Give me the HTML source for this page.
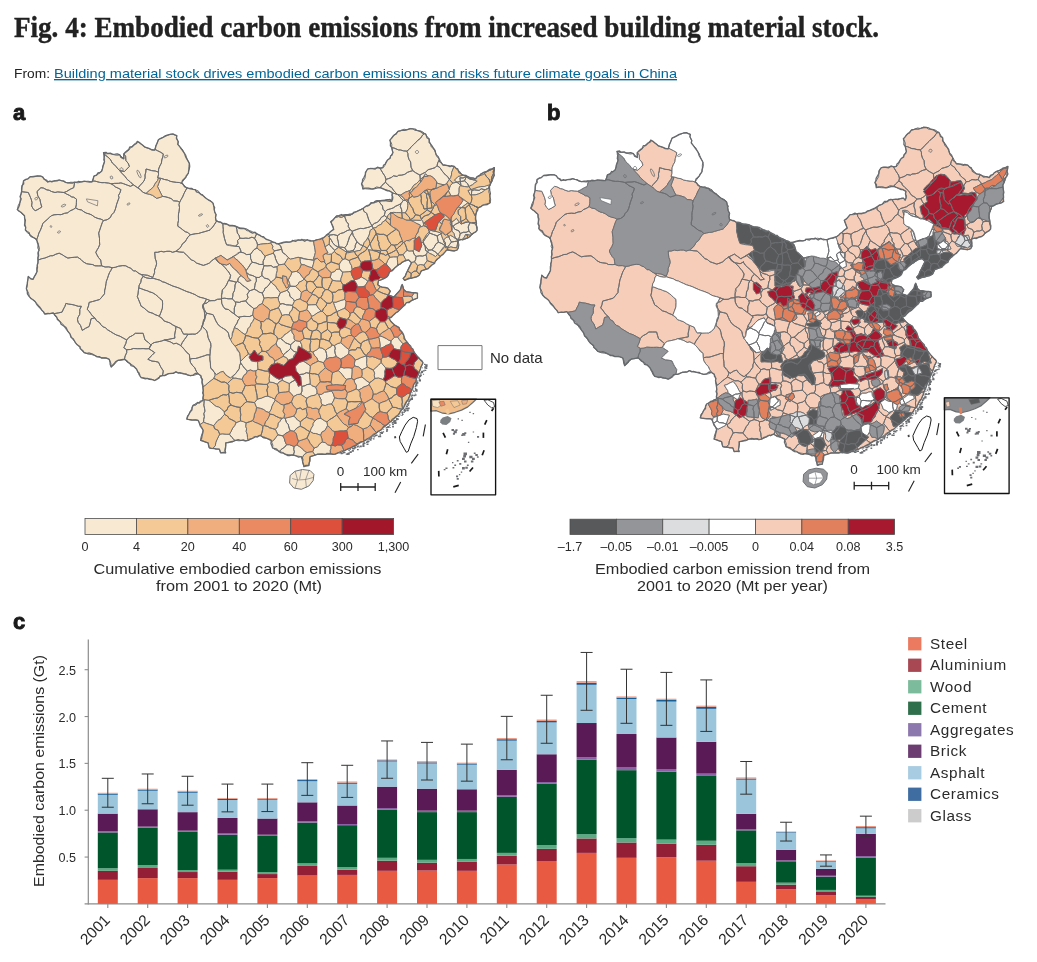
<!DOCTYPE html><html><head><meta charset="utf-8"><title>Fig. 4</title><style>html,body{margin:0;padding:0;background:#fff}svg{display:block;will-change:transform}</style></head><body>
<svg width="1037" height="962" viewBox="0 0 1037 962">
<rect width="1037" height="962" fill="#fff"/>
<text x="14" y="36.5" font-family='"Liberation Serif", serif' font-weight="bold" font-size="30" fill="#222" stroke="#222" stroke-width="0.4" textLength="865" lengthAdjust="spacingAndGlyphs">Fig. 4: Embodied carbon emissions from increased building material stock.</text>
<text x="14" y="78" font-family='"Liberation Sans", sans-serif' font-size="13.6" fill="#222" textLength="36" lengthAdjust="spacingAndGlyphs">From:</text>
<text x="54" y="78" font-family='"Liberation Sans", sans-serif' font-size="13.6" fill="#006699" text-decoration="underline" textLength="623" lengthAdjust="spacingAndGlyphs">Building material stock drives embodied carbon emissions and risks future climate goals in China</text>
<text x="13" y="119.5" font-family='"Liberation Sans", sans-serif' font-weight="bold" font-size="22" fill="#1a1a1a" stroke="#1a1a1a" stroke-width="0.9">a</text>
<text x="547" y="119.5" font-family='"Liberation Sans", sans-serif' font-weight="bold" font-size="22" fill="#1a1a1a" stroke="#1a1a1a" stroke-width="0.9">b</text>
<text x="13" y="629.2" font-family='"Liberation Sans", sans-serif' font-weight="bold" font-size="22" fill="#1a1a1a" stroke="#1a1a1a" stroke-width="0.9">c</text>
<g stroke="#6a6d70" stroke-width="0.95" stroke-linejoin="round">
<path fill="#f8e9d3" d="M17.3 209.5L19.9 211.4L21.8 213.7L24.5 215.7L24.6 218.3L24.8 221.0L25.0 224.3L25.6 227.8L25.4 230.1L27.3 232.8L29.9 234.3L32.1 236.5L35.1 238.7L36.5 240.3L37.0 238.8L38.0 236.1L38.9 233.0L40.4 230.2L42.0 226.1L42.8 223.4L45.0 221.4L47.1 219.6L49.6 217.2L51.5 215.7L54.0 214.8L58.0 214.5L61.0 214.7L64.6 213.3L67.9 212.8L69.7 211.0L73.4 209.4L75.6 207.9L76.3 204.9L76.4 202.6L76.5 199.2L73.7 197.2L71.8 197.0L69.3 195.3L66.7 194.1L64.0 192.5L60.7 192.2L57.7 191.9L55.0 192.5L51.5 191.5L49.1 190.2L46.9 189.9L43.3 188.0L40.9 187.7L37.0 191.5L37.8 195.9L39.9 199.2L40.7 203.3L41.8 207.0L38.0 209.4L35.1 210.8L33.2 208.7L31.6 206.0L32.0 202.4L31.2 199.2L30.0 196.3L28.3 192.5L25.1 192.1L21.6 191.7L20.7 195.6L20.4 198.5L20.0 202.2L18.3 205.3ZM36.5 240.3L37.0 240.7L38.4 243.9L37.6 247.7L38.9 250.4L37.9 253.1L38.2 257.1L38.0 260.0L38.0 260.0L38.0 260.1L41.4 258.8L44.7 258.1L47.3 257.1L50.4 255.8L52.9 255.7L55.9 254.2L59.2 253.2L62.6 254.9L64.7 256.4L67.9 258.1L70.8 257.6L74.3 257.3L77.5 257.1L81.1 259.6L83.3 261.9L86.6 263.7L88.9 264.1L92.8 264.6L94.9 265.8L98.8 265.9L101.6 265.8L101.1 262.9L100.7 260.0L98.6 257.7L96.9 254.8L95.8 252.3L97.2 249.7L98.4 247.8L99.7 244.6L99.5 241.6L99.5 238.4L99.0 235.3L98.7 233.0L99.7 230.2L100.9 226.6L102.2 222.8L103.5 220.5L100.9 219.1L98.0 218.5L94.8 217.2L91.8 215.0L89.0 213.8L86.8 213.3L83.9 211.8L81.6 210.0L78.4 209.4L75.6 207.9L73.4 209.4L69.7 211.0L67.9 212.8L64.6 213.3L61.0 214.7L58.0 214.5L54.0 214.8L51.5 215.7L49.6 217.2L47.1 219.6L45.0 221.4L42.8 223.4L42.0 226.1L40.4 230.2L38.9 233.0L38.0 236.1L37.0 238.8ZM38.0 260.1L38.1 262.7L37.1 266.4L36.7 268.1L37.0 271.6L35.8 274.2L34.0 277.3L33.1 279.3L30.7 278.6L28.3 276.4L27.8 279.3L27.4 282.5L27.3 285.8L26.4 288.9L28.6 293.1L29.3 296.6L32.2 299.1L35.1 301.5L37.2 304.1L39.4 306.0L40.9 309.1L43.0 311.4L44.7 314.0L47.9 313.6L49.9 313.6L53.4 313.0L53.9 313.7L58.4 312.9L62.1 312.1L63.4 309.1L64.9 306.4L65.9 303.4L68.6 304.1L72.0 304.5L74.4 305.1L78.3 306.3L81.4 306.3L79.8 309.4L79.8 311.7L79.7 314.4L77.8 317.7L77.5 319.8L78.2 322.4L80.5 325.4L81.3 327.7L82.3 330.4L85.5 328.3L89.1 326.5L90.2 323.0L91.0 318.8L94.9 317.9L92.3 315.8L90.6 313.4L89.1 311.3L87.2 309.2L88.5 305.9L89.1 302.4L92.6 301.5L96.2 300.5L99.7 299.5L101.8 297.1L104.5 293.8L104.7 290.1L105.3 288.1L106.0 283.5L106.4 281.2L107.4 278.6L108.5 275.2L109.5 272.6L110.8 270.5L112.2 267.7L108.8 266.9L105.1 267.0L101.6 265.8L101.6 265.8L98.8 265.9L94.9 265.8L92.8 264.6L88.9 264.1L86.6 263.7L83.3 261.9L81.1 259.6L77.5 257.1L74.3 257.3L70.8 257.6L67.9 258.1L64.7 256.4L62.6 254.9L59.2 253.2L55.9 254.2L52.9 255.7L50.4 255.8L47.3 257.1L44.7 258.1L41.4 258.8ZM53.9 313.7L55.3 316.2L58.1 319.1L60.1 321.7L62.8 324.0L64.1 325.9L65.6 328.8L67.9 331.4L70.5 334.6L71.2 337.2L73.5 340.2L75.6 342.9L78.2 345.6L79.9 347.5L82.1 350.9L84.2 352.6L88.0 354.1L91.3 354.5L94.9 355.5L97.2 356.5L101.0 357.7L103.7 357.8L106.8 358.1L109.3 359.3L110.9 363.3L111.2 367.0L114.2 364.8L115.4 363.1L118.0 360.3L121.3 360.0L124.4 359.4L125.1 356.1L126.7 352.6L126.7 349.7L123.8 347.8L125.8 343.5L126.7 340.0L123.3 338.1L119.9 336.2L116.2 334.9L113.3 333.3L110.3 331.4L107.6 329.8L105.5 327.8L103.1 326.8L100.7 324.6L99.6 322.6L96.7 320.9L94.9 317.9L91.0 318.8L90.2 323.0L89.1 326.5L85.5 328.3L82.3 330.4L81.3 327.7L80.5 325.4L78.2 322.4L77.5 319.8L77.8 317.7L79.7 314.4L79.8 311.7L79.8 309.4L81.4 306.3L78.3 306.3L74.4 305.1L72.0 304.5L68.6 304.1L65.9 303.4L64.9 306.4L63.4 309.1L62.1 312.1L58.4 312.9ZM124.4 359.4L124.8 359.3L126.9 362.0L130.0 363.6L132.7 365.1L135.4 368.0L137.3 370.5L138.3 373.1L139.3 375.4L141.2 377.6L144.1 377.9L147.4 378.5L151.3 379.0L154.7 380.5L156.4 379.1L159.2 377.0L162.4 375.7L162.5 375.7L163.3 370.9L161.1 367.6L160.0 365.5L158.5 362.2L155.1 361.4L151.9 361.1L147.9 359.3L150.1 357.1L152.1 355.2L154.7 352.6L151.7 350.6L148.9 348.7L146.0 348.8L143.1 348.6L140.2 348.7L137.3 348.7L133.3 348.5L130.5 349.5L126.7 349.7L126.7 352.6L125.1 356.1ZM162.5 375.7L166.2 375.0L168.6 373.5L173.1 373.3L175.9 371.9L179.2 373.0L181.3 373.5L184.2 374.1L187.4 374.9L190.3 375.7L194.6 375.2L198.0 373.8L196.2 371.0L194.7 367.8L192.2 365.1L190.3 362.2L189.7 358.6L189.4 354.5L186.8 352.8L184.6 349.7L182.3 346.9L179.7 344.9L176.4 343.3L173.6 343.7L170.4 341.9L167.1 340.8L164.3 340.0L161.7 341.0L157.6 341.9L154.1 342.6L151.8 343.9L150.5 346.4L148.9 348.7L151.7 350.6L154.7 352.6L152.1 355.2L150.1 357.1L147.9 359.3L151.9 361.1L155.1 361.4L158.5 362.2L160.0 365.5L161.1 367.6L163.3 370.9ZM313.6 240.9L313.4 240.9L309.8 241.3L307.8 240.3L303.8 239.5L301.1 240.4L298.0 240.0L294.7 240.2L291.9 241.1L289.8 242.2L286.5 242.1L283.4 242.9L280.6 243.7L277.8 243.6L280.6 245.8L281.8 249.1L282.6 252.5L285.8 254.6L288.1 257.4L290.3 259.2L294.4 258.3L298.0 257.3L302.0 257.8L304.0 258.6L307.1 259.5L310.1 259.5L313.4 260.2L317.3 258.3L313.4 259.2L314.5 255.8L315.4 252.5L315.1 249.8L314.6 247.2L313.9 243.5ZM222.9 223.6L222.8 223.6L220.4 222.5L216.7 220.9L214.7 224.1L212.7 227.0L210.1 229.7L210.0 230.1L207.2 230.9L204.9 231.6L200.9 232.7L198.4 233.5L195.8 233.7L193.0 234.2L190.3 234.9L188.0 236.9L186.4 239.6L185.0 241.9L182.6 243.6L181.1 246.4L179.7 248.4L175.9 251.3L179.6 252.0L183.6 252.3L186.4 254.9L188.8 257.2L191.3 260.0L193.7 260.7L196.6 263.1L199.0 263.9L203.3 265.4L206.6 264.3L209.3 263.1L211.8 260.7L215.1 258.3L215.6 257.9L215.7 258.0L218.8 256.5L220.9 255.4L224.0 257.7L227.3 260.0L228.6 259.2L231.3 257.8L233.4 256.4L235.8 254.9L237.7 253.1L241.1 251.5L239.2 246.7L236.0 246.2L232.7 246.1L229.6 245.6L226.6 244.8L225.7 242.3L224.5 238.3L223.8 235.1L223.2 232.5L223.3 229.6L223.0 226.5ZM216.7 220.9L216.0 220.7L215.5 217.7L215.9 214.7L214.7 212.0L214.0 208.7L213.6 205.8L213.1 203.3L211.0 200.9L208.4 200.1L205.7 197.7L203.8 196.3L201.6 194.6L202.9 195.4L199.5 193.1L198.5 191.1L195.2 189.6L191.8 189.3L187.1 187.8L185.3 191.0L184.1 193.3L182.6 196.9L181.0 199.6L179.7 202.2L179.0 204.6L179.5 207.5L179.1 211.3L178.5 213.9L178.4 216.9L178.5 220.3L177.8 223.5L177.8 226.2L180.6 228.1L182.6 229.7L185.2 231.7L188.1 232.6L190.3 234.9L193.0 234.2L195.8 233.7L198.4 233.5L200.9 232.7L204.9 231.6L207.2 230.9L210.0 230.1L210.1 229.7L212.7 227.0L214.7 224.1ZM187.1 187.8L186.5 187.7L182.6 183.8L179.3 182.5L176.6 182.4L173.1 181.9L170.2 181.3L167.5 180.0L164.5 179.5L161.2 178.4L158.5 178.0L160.4 179.0L158.6 183.6L157.5 186.7L159.2 189.9L160.7 193.1L162.4 196.4L165.1 196.7L168.4 197.6L171.2 198.6L173.6 200.8L177.3 201.1L179.7 202.2L181.0 199.6L182.6 196.9L184.1 193.3L185.3 191.0ZM182.6 183.8L181.7 182.9L183.0 181.1L185.3 178.2L186.6 176.2L188.4 173.2L188.9 169.9L188.8 166.5L189.4 163.6L187.9 160.7L186.4 157.0L185.7 154.7L183.6 152.0L182.3 149.1L179.9 146.8L177.8 144.3L178.1 141.7L176.5 138.1L176.8 135.6L173.0 134.3L170.1 134.3L167.1 135.6L164.3 136.8L161.4 137.8L158.5 139.5L157.2 142.8L155.8 145.6L154.9 149.3L157.3 150.6L160.2 152.0L163.3 153.9L162.8 156.7L161.8 159.9L161.4 163.1L159.8 166.0L158.6 169.1L158.5 172.2L158.5 174.7L157.6 177.8L158.5 178.0L161.2 178.4L164.5 179.5L167.5 180.0L170.2 181.3L173.1 181.9L176.6 182.4L179.3 182.5ZM154.9 149.3L154.7 150.1L151.5 149.4L148.7 148.5L145.0 147.2L142.6 145.3L139.9 143.3L137.3 141.4L134.8 143.9L132.5 145.8L130.6 147.7L128.7 150.3L125.9 152.4L123.9 153.8L125.6 156.3L125.9 160.6L128.2 163.3L129.4 166.4L126.9 169.0L124.4 171.5L119.5 170.5L119.5 170.5L121.8 173.2L123.8 175.2L125.1 176.6L127.3 179.5L129.7 181.4L131.1 182.8L133.4 184.8L138.0 188.0L138.2 187.7L139.6 185.9L142.2 183.1L144.0 180.9L145.1 177.9L145.0 175.0L145.8 172.1L146.0 169.0L149.1 169.8L151.6 170.6L155.3 171.0L158.5 172.2L158.6 169.1L159.8 166.0L161.4 163.1L161.8 159.9L162.8 156.7L163.3 153.9L160.2 152.0L157.3 150.6ZM123.9 153.8L123.8 153.9L123.8 158.8L119.9 154.9L116.7 155.3L112.6 154.4L109.9 153.7L106.5 153.8L103.5 152.6L103.6 153.1L105.5 155.3L107.9 157.1L110.3 159.3L112.3 163.0L113.8 164.2L116.0 166.5L118.0 169.0L119.5 170.5L119.5 170.5L124.4 171.5L126.9 169.0L129.4 166.4L128.2 163.3L125.9 160.6L125.6 156.3ZM103.6 153.1L103.8 156.0L104.6 158.6L104.5 161.6L103.4 164.4L102.5 168.3L101.6 171.3L99.4 173.1L97.1 174.9L93.9 176.1L92.3 181.0L95.0 181.1L99.4 182.3L102.0 182.7L104.4 182.6L108.6 183.1L111.2 183.8L114.4 183.4L118.5 183.3L120.9 182.9L123.5 183.7L127.4 185.2L130.5 186.3L133.4 184.8L131.1 182.8L129.7 181.4L127.3 179.5L125.1 176.6L123.8 175.2L121.8 173.2L119.5 170.5L118.0 169.0L116.0 166.5L113.8 164.2L112.3 163.0L110.3 159.3L107.9 157.1L105.5 155.3ZM92.3 181.0L92.0 181.9L88.0 181.2L84.8 181.5L81.4 181.9L78.1 182.8L74.7 182.4L74.6 182.9L73.7 187.7L70.7 189.0L66.5 191.5L64.0 192.5L66.7 194.1L69.3 195.3L71.8 197.0L73.7 197.2L76.5 199.2L76.4 202.6L76.3 204.9L75.6 207.9L78.4 209.4L81.6 210.0L83.9 211.8L86.8 213.3L89.0 213.8L91.8 215.0L94.8 217.2L98.0 218.5L100.9 219.1L103.5 220.5L107.0 219.8L110.3 217.6L111.6 214.8L113.9 212.5L115.1 209.9L116.0 206.9L116.7 204.1L117.8 201.0L119.0 197.7L118.5 195.4L120.1 192.5L120.9 189.6L117.8 188.0L115.5 187.0L113.5 185.3L111.2 183.8L108.6 183.1L104.4 182.6L102.0 182.7L99.4 182.3L95.0 181.1ZM74.7 182.4L70.7 182.2L67.9 182.9L64.5 181.9L62.5 181.0L59.2 180.0L55.8 180.5L53.3 180.9L50.5 181.6L47.6 181.9L45.2 180.4L43.6 177.9L40.9 176.1L36.9 176.1L34.1 176.2L30.2 176.7L27.3 179.0L23.5 180.9L22.7 184.0L22.1 187.4L21.6 191.5L21.6 191.7L25.1 192.1L28.3 192.5L30.0 196.3L31.2 199.2L32.0 202.4L31.6 206.0L33.2 208.7L35.1 210.8L38.0 209.4L41.8 207.0L40.7 203.3L39.9 199.2L37.8 195.9L37.0 191.5L40.9 187.7L43.3 188.0L46.9 189.9L49.1 190.2L51.5 191.5L55.0 192.5L57.7 191.9L60.7 192.2L64.0 192.5L66.5 191.5L70.7 189.0L73.7 187.7L74.6 182.9ZM111.2 183.8L113.5 185.3L115.5 187.0L117.8 188.0L120.9 189.6L120.1 192.5L118.5 195.4L119.0 197.7L117.8 201.0L116.7 204.1L116.0 206.9L115.1 209.9L113.9 212.5L111.6 214.8L110.3 217.6L107.0 219.8L103.5 220.5L102.2 222.8L100.9 226.6L99.7 230.2L98.7 233.0L99.0 235.3L99.5 238.4L99.5 241.6L99.7 244.6L98.4 247.8L97.2 249.7L95.8 252.3L96.9 254.8L98.6 257.7L100.7 260.0L101.1 262.9L101.6 265.8L101.6 265.8L101.6 265.8L105.1 267.0L108.8 266.9L112.2 267.7L115.4 267.3L118.6 266.2L122.8 265.6L125.7 265.8L128.5 267.4L130.7 268.1L133.5 271.0L135.6 270.9L139.0 273.5L141.2 274.5L144.2 274.9L147.6 275.3L149.5 276.1L152.7 277.4L153.7 275.0L153.7 275.0L154.6 272.5L154.5 270.1L155.8 266.7L156.6 263.9L156.2 261.0L155.3 258.9L154.9 255.1L154.7 252.3L157.7 252.3L161.1 251.3L163.7 251.9L166.9 251.3L170.1 251.3L172.6 252.3L175.9 251.3L179.7 248.4L181.1 246.4L182.6 243.6L185.0 241.9L186.4 239.6L188.0 236.9L190.3 234.9L188.1 232.6L185.2 231.7L182.6 229.7L180.6 228.1L177.8 226.2L177.8 223.5L178.5 220.3L178.4 216.9L178.5 213.9L179.1 211.3L179.5 207.5L179.0 204.6L179.7 202.2L177.3 201.1L173.6 200.8L171.2 198.6L168.4 197.6L165.1 196.7L162.4 196.4L160.1 197.4L156.6 198.3L152.7 195.4L149.7 194.3L146.0 193.5L142.7 192.2L140.5 189.7L138.0 188.0L133.4 184.8L130.5 186.3L127.4 185.2L123.5 183.7L120.9 182.9L118.5 183.3L114.4 183.4ZM101.6 265.8L101.6 265.8L101.6 265.8ZM138.0 188.0L140.5 189.7L142.7 192.2L146.0 193.5L149.2 190.6L151.1 189.1L153.7 186.7L154.8 184.1L157.6 180.5L158.5 178.0L157.6 177.8L158.5 174.7L158.5 172.2L155.3 171.0L151.6 170.6L149.1 169.8L146.0 169.0L145.8 172.1L145.0 175.0L145.1 177.9L144.0 180.9L142.2 183.1L139.6 185.9L138.2 187.7ZM175.9 251.3L172.6 252.3L170.1 251.3L166.9 251.3L163.7 251.9L161.1 251.3L157.7 252.3L154.7 252.3L154.9 255.1L155.3 258.9L156.2 261.0L156.6 263.9L155.8 266.7L154.5 270.1L154.6 272.5L153.7 275.0L153.7 275.0L152.7 277.4L149.5 276.1L147.6 275.3L144.2 274.9L141.2 274.5L143.1 276.4L146.2 277.8L150.1 278.5L153.1 278.2L156.6 279.3L159.7 280.1L162.5 281.8L165.0 282.4L166.9 283.4L170.1 284.8L172.9 286.1L175.9 287.0L178.8 288.0L181.4 289.2L184.8 290.7L186.9 291.6L189.5 292.4L192.4 293.5L195.2 294.7L197.7 296.3L200.1 297.3L203.2 298.0L206.5 299.1L210.0 300.5L210.4 300.7L214.7 300.6L217.4 299.3L221.5 299.0L221.7 296.7L221.6 292.6L222.3 289.9L224.8 287.4L226.5 284.9L228.0 281.6L229.5 278.8L230.6 275.3L228.6 272.0L227.4 270.6L224.8 267.4L222.1 264.7L219.8 263.1L218.0 262.1L215.1 258.3L211.8 260.7L209.3 263.1L206.6 264.3L203.3 265.4L199.0 263.9L196.6 263.1L193.7 260.7L191.3 260.0L188.8 257.2L186.4 254.9L183.6 252.3L179.6 252.0ZM141.2 274.5L139.0 273.5L135.6 270.9L133.5 271.0L130.7 268.1L128.5 267.4L125.7 265.8L122.8 265.6L118.6 266.2L115.4 267.3L112.2 267.7L110.8 270.5L109.5 272.6L108.5 275.2L107.4 278.6L106.4 281.2L106.0 283.5L105.3 288.1L104.7 290.1L104.5 293.8L101.8 297.1L99.7 299.5L96.2 300.5L92.6 301.5L89.1 302.4L88.5 305.9L87.2 309.2L89.1 311.3L90.6 313.4L92.3 315.8L94.9 317.9L96.7 320.9L99.6 322.6L100.7 324.6L103.1 326.8L105.5 327.8L107.6 329.8L110.3 331.4L113.3 333.3L116.2 334.9L119.9 336.2L123.3 338.1L126.7 340.0L129.1 337.2L132.5 335.5L135.4 333.3L139.2 333.3L143.1 333.3L144.0 336.6L145.0 340.0L148.3 342.4L150.8 344.9L148.9 348.7L150.5 346.4L151.8 343.9L154.1 342.6L157.6 341.9L161.7 341.0L164.3 340.0L168.3 339.4L171.9 338.7L174.9 338.1L174.7 335.2L175.2 332.1L175.7 329.5L175.9 326.5L172.9 325.0L169.8 322.9L166.2 321.7L163.8 320.8L162.2 318.4L159.3 316.5L158.5 315.9L154.8 314.5L152.9 313.3L148.9 312.1L146.7 310.4L143.9 307.9L141.2 306.3L140.1 303.3L138.4 299.2L137.3 296.6L138.0 294.1L138.4 290.4L138.8 287.8L139.2 285.1L140.8 282.3L141.3 279.2L143.1 276.4ZM126.7 340.0L125.8 343.5L123.8 347.8L126.7 349.7L130.5 349.5L133.3 348.5L137.3 348.7L140.2 348.7L143.1 348.6L146.0 348.8L148.9 348.7L150.8 344.9L148.3 342.4L145.0 340.0L144.0 336.6L143.1 333.3L139.2 333.3L135.4 333.3L132.5 335.5L129.1 337.2ZM159.3 316.5L162.2 318.4L163.8 320.8L166.2 321.7L169.8 322.9L172.9 325.0L175.9 326.5L180.7 328.5L181.9 331.2L183.6 334.2L186.5 334.0L188.6 334.4L192.7 334.3L195.2 334.2L198.1 332.5L200.9 329.4L202.0 326.1L202.9 323.4L203.5 320.3L204.8 317.9L204.7 314.2L204.2 310.7L202.6 307.3L202.9 304.4L204.2 303.6L206.5 299.1L203.2 298.0L200.1 297.3L197.7 296.3L195.2 294.7L192.4 293.5L189.5 292.4L186.9 291.6L184.8 290.7L181.4 289.2L178.8 288.0L175.9 287.0L172.9 286.1L170.1 284.8L166.9 283.4L165.0 282.4L162.5 281.8L159.7 280.1L156.6 279.3L153.1 278.2L150.1 278.5L146.2 277.8L143.1 276.4L141.3 279.2L140.8 282.3L139.2 285.1L138.8 287.8L139.2 288.0L141.5 288.8L145.1 290.2L147.7 290.9L149.2 291.7L152.7 292.8L155.7 294.7L157.9 296.5L159.9 298.6L162.4 300.5L162.6 303.7L162.4 308.2L160.8 312.7L159.5 315.9ZM138.8 287.8L138.4 290.4L138.0 294.1L137.3 296.6L138.4 299.2L140.1 303.3L141.2 306.3L143.9 307.9L146.7 310.4L148.9 312.1L152.9 313.3L154.8 314.5L158.5 315.9L159.3 316.5L159.5 315.9L160.8 312.7L162.4 308.2L162.6 303.7L162.4 300.5L159.9 298.6L157.9 296.5L155.7 294.7L152.7 292.8L149.2 291.7L147.7 290.9L145.1 290.2L141.5 288.8L139.2 288.0ZM210.0 300.5L206.5 299.1L204.2 303.6L206.9 303.0L209.4 300.8ZM210.4 300.7L210.0 300.5L209.4 300.8ZM204.2 303.6L202.9 304.4L202.6 307.3L204.2 310.7L204.7 314.2L204.8 317.9L203.5 320.3L202.9 323.4L202.0 326.1L202.4 326.5L203.2 323.3L204.8 319.2L205.2 317.0L206.5 313.2L204.1 309.4L203.2 305.7ZM209.4 300.8L206.9 303.0L204.2 303.6L203.2 305.7L204.1 309.4L206.5 313.2L210.2 314.0L213.2 314.8L215.0 318.9L215.9 321.0L218.2 324.8L221.3 327.3L223.7 328.7L226.5 330.6L228.4 333.1L229.2 337.0L230.6 339.8L232.4 336.6L232.2 333.0L233.7 329.7L234.8 326.5L237.0 323.2L238.1 320.2L239.8 318.2L236.5 315.7L233.1 313.2L230.3 311.2L228.6 309.6L225.1 308.8L223.2 306.5L221.8 303.3L221.5 299.0L217.4 299.3L214.7 300.6L210.4 300.7ZM228.6 259.2L227.3 260.0L227.6 260.2ZM215.6 257.9L215.1 258.3L215.7 258.0ZM215.7 258.0L215.1 258.3L218.0 262.1L219.8 263.1L218.2 261.6ZM229.8 263.4L230.5 263.1L229.5 263.1ZM230.6 339.8L229.2 337.0L228.4 333.1L226.5 330.6L223.7 328.7L221.3 327.3L218.2 324.8L215.9 321.0L215.0 318.9L213.2 314.8L210.2 314.0L206.5 313.2L205.2 317.0L204.8 319.2L203.2 323.3L202.4 326.5L204.6 328.9L206.5 330.6L207.5 333.8L208.1 337.3L209.3 340.2L210.7 343.1L210.7 346.6L209.9 349.8L210.2 353.4L209.8 356.4L209.9 359.9L210.4 362.9L210.5 365.1L210.7 368.1L212.9 369.8L214.3 372.4L216.5 374.7L220.2 372.4L223.2 371.4L225.2 374.1L227.8 376.3L230.6 378.0L233.3 376.1L235.7 373.4L237.3 371.4L239.2 368.6L239.5 365.8L240.6 363.1L240.4 359.8L240.1 356.4L239.8 353.1L237.2 350.3L236.7 347.3L234.0 344.4L232.5 341.7ZM310.4 366.1L307.9 364.0L305.0 362.1L303.5 361.1L299.2 362.4L295.3 366.2L296.1 370.9L298.9 374.6L303.5 374.1L306.3 372.7L309.5 373.3L310.2 369.6ZM309.5 373.3L306.3 372.7L303.5 374.1L298.9 374.6L300.7 377.0L301.1 381.2L301.5 384.7L300.9 385.0L301.9 386.4L305.1 385.7L306.6 384.7L310.3 384.0L310.2 380.0L309.8 377.4L309.5 373.3ZM288.8 391.5L290.9 393.3L293.6 396.7L297.4 394.5L300.7 394.3L302.0 391.1L301.9 386.4L300.9 385.0L298.4 386.3L297.4 383.4L295.3 380.1L295.2 380.0L292.0 381.7L289.2 383.6L289.2 387.7ZM336.3 356.6L340.7 359.1L343.7 357.5L346.5 355.6L348.7 354.0L349.1 350.6L348.7 349.5L345.8 347.1L343.4 345.0L340.7 342.7L337.8 343.5L334.3 345.5L335.3 348.1L334.7 350.6L335.2 353.6ZM351.5 378.4L352.0 374.9L352.2 371.9L352.2 368.2L349.1 367.7L345.9 367.7L344.1 368.0L340.7 367.0L338.1 370.6L340.5 372.5L342.2 374.7L344.4 377.5L346.5 379.4ZM385.9 368.1L382.9 364.7L381.1 362.3L378.6 365.1L375.9 367.5L373.2 370.0L374.6 373.2L374.2 375.5L374.9 378.5L378.6 378.1L383.1 379.6L384.5 377.0L385.0 374.1L384.8 371.4ZM314.8 421.0L313.0 423.3L312.8 425.8L311.1 428.3L310.1 431.5L313.2 433.4L315.6 433.5L318.0 434.3L320.7 435.3L321.8 432.2L324.7 430.7L326.3 428.2L327.6 425.6L327.0 421.9L324.7 420.8L320.9 418.3L317.2 418.8ZM282.9 435.9L277.9 434.8L275.9 437.3L273.8 440.1L271.5 441.7L272.9 445.2L272.5 447.9L275.0 449.6L279.5 451.4L280.9 449.7L284.8 447.0L286.5 444.7L284.9 441.1L284.4 438.8ZM314.0 448.1L312.7 451.7L314.9 455.1L317.7 454.2L320.4 453.7L323.9 454.2L327.9 454.3L330.4 454.2L330.3 450.4L331.1 448.3L331.0 445.5L327.7 444.8L325.3 442.6L322.3 442.0L319.5 443.8L317.6 446.7ZM346.9 251.2L344.7 247.7L341.9 247.2L338.9 247.1L338.6 247.4L341.0 248.7L344.1 250.6L346.6 252.2ZM257.3 399.1L254.5 402.6L256.5 407.6L260.6 408.4L263.8 409.6L266.0 411.5L269.2 412.6L271.3 409.2L271.9 406.5L273.5 403.3L275.2 400.3L274.7 399.1L271.7 397.5L267.7 396.1L265.0 396.5L261.4 398.1ZM252.8 315.0L249.7 316.5L246.9 316.5L244.1 316.3L241.2 316.7L238.4 317.2L239.8 318.2L238.1 320.0L237.1 323.0L234.8 326.5L234.4 327.7L237.8 329.1L240.5 331.4L241.6 332.4L245.2 334.7L247.1 332.0L247.8 328.9L250.3 326.2L250.7 324.2L252.8 321.4L254.4 318.2ZM458.0 240.9L458.1 240.3L455.6 238.6L453.3 236.9L450.6 235.3L448.6 236.6L449.9 239.4L451.5 242.0L454.6 241.5ZM460.2 233.6L459.0 230.9L454.7 229.2L453.2 226.1L451.8 225.8L451.8 229.9L451.8 230.3L451.8 230.4L451.8 231.0L453.9 233.4L455.2 237.9L458.4 239.8L459.5 236.7ZM326.1 359.3L326.8 356.8L326.5 353.6L325.5 350.3L322.0 348.0L319.2 347.7L316.5 349.9L312.8 351.9L314.3 355.2L316.7 357.7L318.2 361.2L323.5 362.7ZM290.6 348.3L288.2 350.9L285.9 352.4L283.6 354.8L283.3 356.4L286.6 357.8L288.1 360.4L288.4 360.1L293.0 358.5L293.8 355.6L296.7 352.4L293.8 351.3ZM285.1 418.2L286.4 422.4L288.2 424.4L289.1 428.0L290.2 430.7L293.9 431.3L296.9 428.0L300.4 426.2L300.4 421.7L297.5 420.0L296.0 418.0L293.8 416.1L290.9 416.8L287.5 417.6ZM264.0 265.7L263.2 264.4L259.8 264.5L255.5 262.8L252.2 262.3L250.5 264.1L248.4 267.5L245.9 270.8L246.4 272.4L249.3 274.7L253.0 275.7L256.1 277.4L259.1 277.5L261.9 275.5L261.9 272.5L263.1 268.9ZM285.1 418.2L283.8 417.7L281.9 418.3L279.7 421.6L278.2 423.1L277.6 426.8L275.3 429.4L276.1 431.1L277.9 434.8L282.9 435.9L284.9 433.9L288.5 431.9L290.2 430.7L289.1 428.0L288.2 424.4L286.4 422.4ZM466.5 176.2L466.2 176.9L469.8 179.1L473.6 179.8L475.6 178.9L472.8 178.0L469.5 177.2ZM464.5 180.9L467.6 183.6L468.8 186.6L472.6 184.7L474.4 183.1L477.2 181.2L474.7 180.1L471.0 179.3L469.5 178.9L466.2 176.9ZM471.8 190.4L474.4 189.9L479.2 190.4L481.2 188.8L485.0 189.8L488.1 188.6L488.8 188.2L489.9 184.7L487.7 185.3L483.9 185.8L481.2 186.6L478.4 187.0L474.9 188.2L471.1 189.5ZM489.9 184.7L489.9 184.7L488.8 188.2L489.6 185.6L489.4 186.4L490.6 183.6L490.3 183.1ZM483.1 172.7L480.3 174.3L477.8 177.5L475.6 178.9L477.9 176.2L482.5 174.8L484.6 173.6L483.8 172.3ZM235.3 301.9L239.4 302.4L241.3 301.5L245.7 300.9L248.0 297.8L247.2 294.3L249.6 290.8L247.0 288.5L245.6 287.4L242.3 285.0L239.9 282.7L237.6 281.5L236.2 282.2L235.0 285.0L234.9 287.5L234.4 290.7L233.0 293.3L232.8 296.2L232.2 298.8ZM352.2 231.2L355.1 230.1L358.4 228.9L360.3 228.4L363.5 228.6L367.2 227.6L369.3 227.1L371.9 225.8L372.0 225.6L370.6 223.5L368.8 220.0L367.8 216.9L366.7 213.3L363.7 211.2L363.4 208.2L360.1 209.9L356.7 211.6L353.6 213.2L350.3 215.3L347.1 215.4L344.4 216.1L345.9 219.8L346.1 221.1L348.5 224.1L348.2 226.3L350.1 229.7ZM180.7 345.8L183.0 348.0L185.1 350.3L186.9 352.3L189.4 354.5L189.9 359.1L192.8 358.5L195.4 358.5L197.8 357.9L201.8 356.6L204.4 355.8L207.0 354.8L209.9 354.9L210.3 352.0L210.7 348.8L211.1 346.3L210.7 343.1L209.1 340.2L208.0 337.5L207.4 333.8L206.5 330.6L204.6 328.9L202.4 326.5L202.0 326.1L200.9 329.4L198.1 332.7L195.2 334.2L192.6 333.9L188.1 334.2L186.2 337.1L184.5 339.4L182.4 342.4ZM385.9 179.4L385.0 176.3L382.8 173.0L380.9 169.8L379.9 167.9L377.0 168.0L373.9 168.4L370.2 168.3L367.8 168.9L366.3 170.9L365.3 174.6L365.1 178.0L363.3 181.1L361.5 183.9L362.8 188.9L365.7 188.8L367.8 189.0L371.8 189.2L374.3 188.2L376.6 186.9L380.1 187.7L382.0 185.3L385.4 182.3ZM257.5 244.9L256.8 242.1L254.6 238.3L251.9 237.2L248.7 238.4L245.8 238.1L243.0 238.4L239.9 238.2L237.5 240.6L238.0 243.5L235.7 246.2L239.2 246.7L241.1 251.5L240.2 252.1L243.6 252.8L246.6 254.6L250.5 254.3L252.1 252.1L254.1 249.6L257.0 248.0ZM446.4 183.9L449.4 179.4L447.5 176.4L445.6 175.1L442.8 171.8L441.9 170.7L440.0 167.7L437.0 165.7L435.0 167.7L430.8 169.0L428.2 169.7L425.5 172.2L422.8 173.5L419.9 175.1L420.3 179.5L423.6 176.6L425.5 173.9L428.2 176.3L430.9 176.0L433.7 177.9L436.7 181.8L436.6 182.9L440.1 184.1L444.2 184.8ZM240.5 361.2L240.6 362.9L242.3 365.2L244.9 368.7L247.4 371.0L250.5 370.0L253.3 371.1L255.9 370.9L258.0 369.3L257.7 364.3L257.7 361.6L257.5 361.6L255.2 361.7L251.3 360.8L249.0 357.0L251.1 354.3L248.5 354.0L245.9 356.0L243.2 358.8ZM419.9 175.1L415.6 172.7L412.8 170.7L410.0 171.4L407.4 172.4L404.8 174.3L401.8 175.1L398.3 175.3L397.2 176.5L393.5 175.8L391.5 177.4L388.8 178.5L385.9 179.4L385.4 182.3L387.5 184.1L389.4 186.4L391.6 187.4L393.5 190.3L395.3 192.3L397.2 194.3L400.4 195.2L402.6 193.8L405.7 192.0L407.7 191.4L410.4 190.2L411.9 188.2L413.9 185.1L416.2 183.8L418.8 181.2L420.3 179.5ZM405.3 200.2L403.0 197.2L400.4 195.2L397.2 194.3L399.0 195.7L401.6 198.8L403.3 200.4ZM307.9 304.8L306.7 309.7L309.0 311.7L310.7 314.5L311.6 316.6L314.8 314.8L317.2 313.0L321.1 311.2L318.5 308.1L316.1 304.6L311.9 304.7ZM471.8 222.8L468.9 222.0L469.7 223.0ZM287.3 290.2L289.5 293.4L289.9 296.3L293.5 299.3L294.4 301.3L296.8 299.7L300.1 299.0L301.0 295.9L301.4 292.4L299.2 290.0L297.4 287.9L295.4 286.4L290.0 286.2ZM329.4 237.6L331.4 240.2L332.8 243.1L335.2 245.4L338.6 247.4L338.9 247.1L338.7 244.9L338.2 241.3L337.4 238.7L337.5 235.6L333.7 234.6L329.6 235.1ZM329.1 244.2L331.6 247.3L334.7 250.2L338.6 247.4L335.2 245.4L332.8 243.1L331.4 240.2L329.4 237.6L329.4 239.9ZM239.9 238.2L239.0 235.2L237.4 233.1L236.8 229.3L236.1 226.6L233.2 225.7L229.5 225.1L226.6 224.4L222.9 223.6L223.0 226.5L223.3 229.7L223.1 232.6L223.8 235.1L224.4 238.3L225.7 242.5L226.6 244.8L229.6 244.8L232.1 245.4L235.7 246.2L238.0 243.5L237.5 240.6ZM424.7 133.5L422.5 131.7L419.4 130.6L414.9 130.4L412.9 128.8L410.0 128.4L406.9 129.8L404.0 129.2L400.9 130.7L397.9 131.3L395.9 133.6L393.9 135.4L391.9 137.6L389.9 140.1L391.8 144.2L391.7 147.7L394.0 148.0L398.4 149.9L400.6 150.0L403.6 150.9L406.8 151.1L409.4 149.1L411.3 146.7L413.7 144.5L415.5 142.7L418.0 140.1L420.4 138.4L422.8 134.8ZM236.2 282.2L233.0 281.3L228.4 280.4L226.5 284.9L224.9 287.4L222.3 289.9L222.7 292.2L221.4 295.5L221.5 298.5L224.8 298.2L228.1 298.8L232.2 298.8L232.8 296.2L233.0 293.3L234.4 290.7L234.9 287.5L235.0 285.0ZM400.9 350.1L400.9 347.0L403.0 343.8L400.9 341.3L399.4 339.6L397.6 336.9L394.4 337.2L391.0 340.9L390.8 343.5L392.9 345.5L393.6 348.6L397.6 349.6ZM203.1 398.2L203.1 400.3L201.4 401.8L197.3 403.6L196.0 405.1L193.1 405.3L191.9 408.5L190.5 410.8L189.3 413.5L187.5 415.6L186.8 419.1L189.0 419.6L192.5 419.8L195.8 419.9L198.1 420.4L200.2 424.5L203.6 422.2L203.7 419.4L204.4 416.6L203.8 413.7L204.9 411.2L204.5 408.1L203.8 405.2L204.0 403.3L204.2 399.6ZM262.3 293.0L264.4 290.1L264.8 288.4L267.2 286.9L269.1 284.5L270.8 281.9L268.5 279.1L264.6 278.1L261.9 275.5L259.1 277.5L256.1 277.4L256.4 281.1L255.3 283.1L254.9 285.7L254.3 289.2L256.9 290.5L259.2 292.2ZM403.3 200.4L400.9 203.7L400.3 206.4L401.7 209.9L401.8 212.8L405.4 212.8L407.4 209.2L407.9 205.6L407.9 202.7L405.3 200.2ZM371.9 225.8L373.3 228.3L376.5 227.4L377.7 225.8L381.5 224.2L382.3 222.3L385.4 220.3L387.2 217.6L384.3 215.5L381.3 217.4L379.6 220.0L377.6 222.2L374.2 223.5L372.0 225.6ZM456.9 182.2L460.6 185.2L460.9 185.1L460.4 181.6ZM464.5 180.9L460.4 181.6L461.0 185.9L464.3 186.5L467.9 187.0L468.8 186.6L467.6 183.6ZM471.8 190.4L471.1 189.5L467.9 190.5L470.3 195.1L471.3 195.0ZM449.2 188.8L449.4 189.3L448.3 190.7L450.6 195.2L449.1 196.0L453.0 195.9L455.1 195.5L458.1 195.2L459.1 192.5L459.2 187.9L460.6 185.2L456.9 182.2L452.7 183.0L450.3 185.6ZM461.7 207.5L465.1 204.9L468.1 202.7L466.0 201.2L462.2 198.3L460.6 197.3L458.1 195.2L460.6 198.1L463.1 200.2L461.2 202.7L459.9 204.8L457.9 207.1ZM470.2 204.1L470.2 203.8L468.1 202.7L469.2 204.8ZM234.8 440.6L235.7 440.4L239.0 440.8L242.5 440.4L244.9 441.0L248.2 440.4L248.3 440.4L247.5 437.6L247.3 434.3L246.2 431.5L246.6 428.7L245.8 426.5L246.2 422.9L243.7 421.7L240.6 420.9L236.1 422.6L234.6 425.7L232.7 428.0L231.0 431.5L229.4 434.2L231.6 437.1L233.0 438.4ZM469.7 223.0L468.9 222.0L467.9 221.8L463.4 223.2L461.0 224.1L459.6 222.3L455.9 224.0L453.2 226.1L454.7 229.2L459.0 230.9L460.2 233.6L463.3 232.3L466.2 232.3L468.9 231.0L468.2 227.0ZM286.5 444.7L284.8 447.0L280.9 449.7L279.5 451.4L282.9 452.6L285.1 454.2L288.8 454.6L293.1 455.4L294.4 451.9L293.7 449.3L294.1 446.5L289.6 444.7ZM295.4 286.4L298.2 284.2L299.1 282.2L301.9 281.0L304.2 279.1L304.2 279.1L302.0 276.5L299.5 273.2L296.7 271.3L291.9 272.0L290.8 275.2L289.5 277.3L288.2 279.9L289.6 283.5L290.0 286.2ZM219.7 434.2L218.3 436.9L216.9 439.8L215.8 442.3L215.3 445.7L212.8 448.4L215.8 448.8L219.4 449.2L220.6 452.9L225.7 452.9L224.9 450.5L225.5 446.4L225.7 442.9L228.3 442.3L232.6 442.1L234.8 440.6L233.0 438.4L231.6 437.1L229.4 434.2L226.2 434.2L222.3 433.8ZM471.8 190.4L471.3 195.0L475.2 194.9L478.4 194.0L482.7 192.0L484.6 190.1L488.1 188.6L485.0 189.8L481.2 188.8L479.2 190.4L474.4 189.9ZM352.2 231.2L352.4 232.1L353.2 235.6L355.3 238.8L356.9 241.8L360.3 244.7L363.1 245.6L364.3 242.4L366.2 240.4L367.8 237.8L369.2 235.0L370.3 230.3L373.3 228.3L371.9 225.8L369.3 227.1L367.2 227.6L363.5 228.6L360.3 228.4L358.4 228.9L355.1 230.1ZM437.0 165.7L437.8 162.6L439.6 159.3L436.5 156.1L435.5 152.6L433.6 148.7L431.3 147.0L430.5 143.8L429.7 142.3L428.9 138.2L427.3 137.0L425.5 133.8L424.7 133.5L422.8 134.8L420.4 138.4L418.0 140.1L415.5 142.7L413.7 144.5L411.3 146.7L409.4 149.1L406.8 151.1L407.9 153.6L408.0 156.2L409.0 159.5L410.6 161.9L410.9 165.9L411.1 167.3L412.8 170.7L415.6 172.7L419.9 175.1L422.8 173.5L425.5 172.2L428.2 169.7L430.8 169.0L435.0 167.7ZM353.4 250.3L349.7 251.3L346.9 251.2L346.6 252.2L347.8 252.9L351.0 252.2L354.4 251.6ZM292.5 305.5L294.4 301.3L293.5 299.3L289.9 296.3L289.5 293.4L287.3 290.2L284.0 291.4L280.4 292.7L278.1 297.6L278.5 300.4L280.1 304.1L282.8 303.6L286.3 304.8L289.6 305.0ZM276.1 277.1L276.4 273.6L277.3 270.7L277.1 266.7L273.3 267.3L271.1 265.6L267.2 265.9L264.0 265.7L263.1 268.9L261.9 272.5L261.9 275.5L264.6 278.1L268.5 279.1L270.8 281.9L271.2 281.9L274.7 279.4ZM317.1 393.4L317.0 390.4L315.7 387.1L311.9 385.6L310.3 384.0L306.6 384.7L305.1 385.7L301.9 386.4L302.0 391.1L300.7 394.3L304.4 396.8L306.9 398.4L309.1 396.8L311.7 395.8L315.1 395.2ZM322.1 404.9L325.2 405.6L328.4 404.3L331.5 404.0L333.4 401.1L334.6 397.9L333.4 393.9L331.4 390.8L328.6 391.6L324.5 392.2L321.5 394.4L318.4 394.2L319.7 397.0L321.0 399.5L320.9 402.1ZM224.5 414.4L224.3 411.6L221.5 409.0L218.8 406.9L216.3 406.4L214.2 404.8L210.6 401.7L209.0 400.3L204.2 399.6L204.0 403.3L203.8 405.2L204.5 408.1L204.9 411.2L203.8 413.7L204.4 416.6L203.7 419.4L203.6 422.2L206.2 423.3L209.5 424.4L213.7 425.8L215.2 423.8L218.0 420.4L220.8 419.1L222.4 416.7ZM427.2 260.6L426.8 257.8L426.1 254.9L422.5 256.1L419.8 255.8L416.0 256.4L415.6 259.6L414.5 261.9L417.7 265.6L420.4 264.6L423.9 265.2L425.5 263.1ZM447.6 247.2L445.1 245.8L444.9 246.1L445.5 247.9L447.6 247.9ZM438.5 242.2L436.1 243.7L434.0 247.4L431.8 249.9L435.8 252.1L437.6 254.3L439.5 252.8L440.7 250.9L443.3 247.2L445.1 245.8L442.0 243.6ZM429.7 233.1L433.4 234.5L437.2 235.9L440.9 233.7L440.5 232.8L437.2 231.7L433.7 231.1L430.5 230.3L429.3 231.9ZM385.4 182.3L382.0 185.3L380.1 187.7L380.4 187.7L383.4 189.0L386.8 189.8L389.0 190.9L392.4 192.7L392.4 192.9L397.2 194.3L395.3 192.3L393.5 190.3L391.6 187.4L389.4 186.4L387.5 184.1ZM403.3 200.4L401.6 198.8L399.0 195.7L397.2 194.3L392.4 192.9L392.3 195.7L391.7 198.8L391.6 201.5L390.6 200.2L390.4 201.5L386.9 200.9L383.4 200.3L381.5 200.6L378.8 201.2L380.9 204.1L382.5 205.9L382.9 209.1L385.2 211.6L387.2 209.8L390.4 208.9L393.1 208.0L395.7 206.2L398.2 205.1L400.9 203.7ZM280.5 338.5L277.6 338.9L276.2 343.2L277.1 346.5L279.9 348.2L281.6 352.6L283.6 354.8L285.9 352.4L288.2 350.9L290.6 348.3L290.6 344.8L287.9 343.7L285.5 342.8L283.0 340.3ZM408.2 201.5L408.7 198.8L407.3 199.9ZM423.3 241.5L423.9 244.1L426.1 247.1L428.5 250.1L431.8 249.9L434.0 247.4L436.1 243.7L438.5 242.2L437.8 239.7L437.2 235.9L433.4 234.5L429.7 233.1L427.5 235.8L424.7 239.5ZM189.9 359.1L190.3 362.2L192.2 365.1L194.9 367.8L196.2 371.1L198.0 373.8L198.0 373.8L200.9 375.7L201.9 378.8L202.0 381.1L202.0 383.7L202.8 387.0L205.2 385.5L207.2 383.7L209.0 382.1L211.1 380.6L213.8 378.4L215.3 375.1L214.7 372.7L212.7 370.7L210.7 368.1L210.4 365.1L210.4 363.1L209.9 360.1L209.8 356.4L209.9 354.9L207.0 354.8L204.4 355.8L201.8 356.6L197.8 357.9L195.4 358.5L192.8 358.5ZM406.8 151.1L403.6 150.9L400.6 150.0L398.4 149.9L394.0 148.0L391.7 147.7L392.9 152.6L391.2 155.1L389.8 158.1L387.5 160.0L386.0 162.0L385.0 165.6L382.9 167.6L379.9 167.9L380.9 169.8L382.8 173.0L385.0 176.3L385.9 179.4L388.8 178.5L391.5 177.4L393.5 175.8L397.2 176.5L398.3 175.3L401.8 175.1L404.8 174.3L407.4 172.4L410.0 171.4L412.8 170.7L411.1 167.3L410.9 165.9L410.6 161.9L409.0 159.5L408.0 156.2L407.9 153.6ZM339.5 268.9L336.1 269.4L334.7 271.5L331.3 272.5L330.3 277.2L332.4 280.2L336.2 281.1L340.7 281.2L341.0 278.4L342.3 274.9L342.5 272.2ZM252.2 262.3L250.6 258.4L250.5 254.3L246.6 254.6L243.6 252.8L240.2 252.1L237.3 254.3L233.4 256.4L230.8 257.9L230.9 258.0L233.4 256.8L235.6 258.9L237.9 260.5L240.1 263.1L242.2 264.8L245.0 268.4L245.9 270.8L245.9 270.8L248.4 267.5L250.5 264.1ZM389.7 257.2L387.6 260.5L386.2 264.0L388.8 267.1L391.5 270.5L394.7 268.0L397.8 265.8L397.7 262.8L397.4 259.5L397.4 256.8L393.6 256.8ZM344.7 247.7L346.9 251.2L349.7 251.3L353.4 250.3L355.2 247.4L355.3 245.2L356.9 241.8L355.3 238.8L353.2 235.6L352.4 232.1L350.6 235.2L349.5 236.8L348.6 240.0L347.7 242.4L347.0 244.9ZM264.1 298.3L262.3 293.0L259.2 292.2L256.9 290.5L254.3 289.2L249.6 290.8L247.2 294.3L248.0 297.8L245.7 300.9L248.2 304.2L251.1 306.4L253.8 308.6L256.6 308.0L258.5 305.4L262.3 303.5ZM339.5 268.9L342.5 272.2L344.3 272.1L348.2 271.8L350.9 271.4L352.2 269.3L351.5 265.6L350.2 263.3L349.1 260.5L345.1 258.6L342.5 259.6L340.7 261.7L339.1 264.4ZM429.7 233.1L429.3 231.9L426.4 234.7L424.3 238.3L423.0 240.3L423.3 241.5L424.7 239.5L427.5 235.8ZM428.5 250.1L426.1 247.1L423.9 244.1L425.3 247.0L425.5 250.4L427.7 251.7ZM420.8 242.3L421.7 245.4L420.7 248.1L419.2 251.6L414.2 249.1L413.0 250.8L414.0 254.1L416.0 256.4L419.8 255.8L422.5 256.1L426.1 254.9L427.7 251.7L425.5 250.4L425.3 247.0L423.9 244.1L422.6 242.4ZM357.4 286.9L362.1 286.8L364.9 286.1L366.9 283.0L367.9 281.1L365.3 279.1L361.3 276.9L358.8 278.5L354.4 279.8L354.2 280.3L356.5 283.7ZM403.1 254.7L405.1 258.6L406.4 260.5L408.6 259.9L411.2 262.5L414.5 261.9L415.6 259.6L416.0 256.4L414.0 254.1L413.0 250.8L409.1 251.0L407.1 250.3L404.5 252.6ZM237.6 281.5L238.3 278.1L241.0 275.5L238.7 273.3L237.4 271.6L234.4 268.9L231.9 266.6L229.8 263.4L226.6 265.0L221.8 264.1L219.8 263.1L222.1 264.6L224.8 267.4L227.6 270.7L228.6 271.8L230.6 275.3L230.1 278.8L228.4 280.4L233.0 281.3L236.2 282.2ZM460.2 233.6L459.5 236.7L458.4 239.8L458.9 240.1L462.4 239.2L464.3 237.4L465.6 234.5L471.1 235.4L472.0 234.6L468.9 231.0L466.2 232.3L463.3 232.3ZM279.0 264.9L284.4 264.1L286.4 260.7L288.5 257.7L285.3 254.5L282.6 252.5L281.6 249.2L278.1 250.1L274.3 250.9L273.3 253.0L275.0 256.0L275.5 258.6L277.3 262.7ZM443.0 165.1L441.0 161.9L439.6 159.3L437.8 162.6L437.0 165.7L440.0 167.7L441.9 170.7L442.8 171.8L445.6 175.1L447.5 176.4L449.4 179.4L450.6 177.7L451.5 174.9L451.6 172.6L453.0 169.1L454.3 166.4L451.4 166.4L449.1 165.5L445.9 165.4ZM463.1 175.2L458.1 176.4L454.3 180.2L456.9 182.2L460.4 181.6L459.9 177.8L463.1 178.0L465.6 176.6L466.2 176.9L466.5 176.2ZM464.5 180.9L466.2 176.9L465.6 176.6L463.1 178.0L459.9 177.8L460.4 181.6ZM344.4 216.1L341.3 217.4L338.5 216.6L335.0 217.5L331.9 220.5L331.2 222.9L333.2 226.5L333.7 229.4L330.6 231.5L328.9 233.2L328.1 233.8L328.1 234.0L329.6 235.1L333.7 234.6L337.5 235.6L340.5 233.5L343.8 232.6L347.1 230.6L350.1 229.7L348.2 226.3L348.5 224.1L346.1 221.1L345.9 219.8ZM344.7 299.4L341.9 300.1L339.5 300.9L336.0 302.2L333.2 302.1L334.3 305.3L335.2 307.7L336.7 311.6L336.9 311.7L340.4 310.1L342.2 309.3L344.9 308.3L345.9 305.0L346.1 301.5ZM239.9 238.2L243.0 238.4L245.8 238.1L248.7 238.4L251.9 237.2L254.6 238.3L256.6 233.8L252.7 231.8L250.3 230.8L247.0 230.8L244.0 228.4L240.8 228.0L236.1 226.6L236.8 229.3L237.4 233.1L239.0 235.2ZM289.0 315.0L290.3 311.5L292.0 310.4L292.8 306.8L292.5 305.5L289.6 305.0L286.3 304.8L282.8 303.6L280.1 304.1L278.4 307.8L280.2 311.3L281.0 313.1L281.9 315.5L285.6 314.7ZM362.0 369.8L365.2 368.4L367.3 366.9L366.6 363.4L366.9 359.8L366.6 356.0L366.4 355.8L362.9 356.9L360.4 357.8L357.9 359.1L355.0 360.1L354.4 363.6L354.7 366.0L358.6 367.0ZM250.5 254.3L250.6 258.4L252.2 262.3L255.5 262.8L259.8 264.5L263.2 264.4L263.1 261.2L264.5 258.4L265.2 256.0L263.0 254.1L261.4 251.1L259.6 250.2L257.0 248.0L254.1 249.6L252.1 252.1ZM249.6 290.8L254.3 289.2L254.9 285.7L255.3 283.1L256.4 281.1L256.1 277.4L253.0 275.7L249.3 274.7L246.4 272.4L247.9 277.6L250.8 280.5L246.9 281.4L244.8 278.5L241.1 275.6L241.0 275.5L238.3 278.1L237.6 281.5L239.9 282.7L242.3 285.0L245.6 287.4L247.0 288.5ZM378.8 201.2L375.9 202.1L372.9 202.7L369.7 204.8L366.6 205.5L363.6 208.1L363.4 208.2L363.7 211.2L366.7 213.3L367.8 216.9L368.8 220.0L370.6 223.5L372.0 225.6L374.2 223.5L377.6 222.2L379.6 220.0L381.3 217.4L384.3 215.5L385.2 211.6L382.9 209.1L382.5 205.9L380.9 204.1ZM344.7 247.7L347.0 244.9L347.7 242.4L348.6 240.0L349.5 236.8L350.6 235.2L352.4 232.1L352.2 231.2L350.1 229.7L347.1 230.6L343.8 232.6L340.5 233.5L337.5 235.6L337.4 238.7L338.2 241.3L338.7 244.9L338.9 247.1L341.9 247.2ZM188.1 334.2L183.6 334.2L181.8 331.1L180.7 328.5L175.9 326.5L175.7 329.5L175.1 332.0L174.5 335.1L174.9 338.1L172.1 338.6L168.4 339.4L164.3 340.0L167.0 340.7L170.4 341.9L173.6 343.9L176.3 343.2L179.7 344.9L180.7 345.8L182.4 342.4L184.5 339.4L186.2 337.1ZM301.2 264.6L304.5 264.9L306.8 266.1L309.8 267.2L312.3 267.7L313.3 264.5L314.4 259.7L313.4 260.2L309.7 259.7L306.0 259.0L303.3 258.8L299.9 257.7L300.1 261.4ZM294.1 446.5L293.7 449.3L294.4 451.9L293.1 455.4L297.3 456.0L301.4 456.7L301.9 458.9L303.7 455.0L307.0 452.6L304.7 451.3L301.5 447.9L299.5 446.6L296.9 444.9ZM254.6 238.3L256.8 242.1L257.5 244.9L260.7 244.2L263.2 243.9L267.5 243.6L270.8 243.2L271.6 241.2L268.6 239.8L266.4 239.0L262.2 237.1L260.3 235.9L257.5 234.2L256.6 233.8ZM329.6 235.1L328.1 234.0L327.7 235.3L329.4 237.6ZM289.2 383.6L292.0 381.7L295.2 380.0L293.8 378.5L291.5 375.5L287.6 375.7L285.3 376.3L282.1 377.9L282.3 380.4L285.7 382.0ZM253.8 308.6L251.1 306.4L248.2 304.2L245.7 300.9L241.3 301.5L239.4 302.4L235.3 301.9L235.8 304.1L234.3 308.0L234.3 310.9L234.1 313.9L238.4 317.2L241.2 316.7L244.1 316.3L246.9 316.5L249.7 316.5L252.8 315.0L253.2 311.8ZM447.6 247.9L450.9 246.9L453.2 247.5L456.8 247.9L457.4 244.4L458.0 240.9L454.6 241.5L451.5 242.0L449.5 244.6L447.6 247.2ZM413.0 300.1L417.5 298.1L417.5 293.2L414.1 292.9L411.7 296.7ZM421.5 219.5L420.5 220.3L416.9 220.2L413.9 220.1L410.4 220.3L412.9 222.4L415.1 223.5L418.1 224.0L420.5 225.3L419.6 227.4L423.9 225.7L423.1 221.9ZM379.9 347.9L380.5 348.4L383.3 347.3L386.1 345.5L387.7 345.0L390.8 343.5L391.0 340.9L388.3 339.9L386.3 338.5L382.8 336.8L379.7 335.8L378.6 337.1L379.4 339.7L380.1 344.9ZM427.7 251.7L429.7 253.5L432.3 254.5L435.5 256.6L437.6 254.3L435.8 252.1L431.8 249.9L428.5 250.1ZM476.2 231.1L477.1 230.0L476.9 228.4L476.1 224.1L471.8 222.8L469.7 223.0L468.2 227.0L468.9 231.0L472.0 234.6ZM235.3 301.9L232.2 298.8L228.1 298.8L224.8 298.2L221.5 298.5L221.5 299.0L221.7 303.4L223.2 306.5L225.0 309.0L228.8 309.6L230.2 311.1L233.1 313.2L234.1 313.9L234.3 310.9L234.3 308.0L235.8 304.1ZM270.8 281.9L269.1 284.5L267.2 286.9L264.8 288.4L264.4 290.1L262.3 293.0L264.1 298.3L268.0 297.6L270.9 298.0L274.1 297.7L278.1 297.6L280.4 292.7L278.6 290.5L276.7 287.9L275.5 285.8L272.7 283.8L271.2 281.9ZM270.8 243.2L272.8 246.2L272.4 248.6L274.3 250.9L278.1 250.1L281.6 249.2L280.6 245.8L277.8 243.6L276.8 243.8L274.3 242.4L271.6 241.2ZM453.2 226.1L455.9 224.0L459.6 222.3L456.4 218.3L454.2 220.4L451.8 221.8L451.8 225.8ZM358.4 390.1L361.2 388.7L364.0 386.9L366.5 386.1L369.2 384.6L369.7 382.6L366.9 381.0L364.0 378.4L361.7 377.0L357.7 378.0L353.9 379.7L354.6 382.4L356.4 385.6L356.1 389.0ZM353.4 250.3L354.4 251.6L358.1 250.7L360.3 250.4L363.1 245.6L360.3 244.7L356.9 241.8L355.3 245.2L355.2 247.4ZM325.0 246.7L325.0 246.7L325.8 249.1L327.9 252.5L325.8 253.7L328.6 254.4L331.5 254.1L334.4 251.6L334.7 250.2L331.6 247.3L329.1 244.2ZM280.5 338.5L283.0 340.3L285.5 342.8L287.9 343.7L290.6 344.8L292.8 342.8L295.4 340.6L294.2 338.8L294.1 335.4L292.0 332.1L291.7 329.2L289.5 331.1L286.4 333.6L284.5 334.5L283.4 336.3ZM400.9 203.7L398.2 205.1L395.7 206.2L393.1 208.0L390.4 208.9L387.2 209.8L385.2 211.6L384.3 215.5L387.2 217.6L388.0 215.4L390.4 212.8L393.5 212.4L396.4 212.6L398.9 212.6L401.8 212.8L401.7 209.9L400.3 206.4ZM232.9 378.3L236.0 378.2L238.7 378.9L242.1 379.4L243.8 375.5L246.2 373.8L247.4 371.0L244.9 368.7L242.3 365.2L240.6 362.9L240.6 363.1L239.5 365.8L239.4 368.5L237.3 371.4L235.9 373.4L232.6 376.1ZM367.2 248.4L368.6 249.9L372.8 250.3L371.2 247.3L370.1 243.5L367.2 248.2ZM277.1 266.7L279.0 264.9L277.3 262.7L275.5 258.6L275.0 256.0L273.3 253.0L270.6 254.1L267.9 254.9L265.2 256.0L264.5 258.4L263.1 261.2L263.2 264.4L264.0 265.7L267.2 265.9L271.1 265.6L273.3 267.3ZM282.3 380.4L282.1 377.9L279.1 379.3L275.5 377.6L272.9 375.5L269.1 372.4L269.0 372.1L269.7 374.7L269.0 378.6L269.4 382.2L272.9 382.5L277.3 384.4L279.3 381.8ZM447.6 247.2L449.5 244.6L451.5 242.0L449.9 239.4L448.6 236.6L446.2 237.3L443.4 240.1L444.1 242.4L445.5 245.4L445.1 245.8ZM438.5 242.2L442.0 243.6L445.1 245.8L445.5 245.4L445.4 242.7L442.9 239.2L441.9 236.4L440.9 233.7L437.2 235.9L437.8 239.7ZM295.4 340.6L292.8 342.8L290.6 344.8L290.6 348.3L293.8 351.3L296.7 352.4L297.6 350.8L298.4 346.2L302.2 348.4L301.7 344.7L300.1 341.4ZM336.3 356.6L335.2 353.6L334.7 350.6L335.3 348.1L334.3 345.5L332.0 344.9L330.8 346.9L327.7 348.5L325.5 350.3L326.5 353.6L326.8 356.8L326.1 359.3L329.5 357.7L332.8 357.6Z"/>
<path fill="#f0ad7e" d="M322.2 238.3L320.0 239.7L316.5 239.5L313.6 240.9L313.9 243.5L314.6 247.2L315.1 249.8L315.4 252.5L314.5 255.8L313.4 259.2L317.3 258.3L321.1 262.1L325.0 261.2L323.6 258.0L323.1 255.4L324.9 253.8L327.9 252.5L325.9 249.2L325.0 246.7L324.3 243.8L323.4 241.1ZM227.3 260.0L224.0 257.7L220.9 255.4L218.8 256.5L215.7 258.0L218.2 261.6L219.8 263.1L221.8 264.1L226.6 265.0L229.8 263.4L231.9 266.5L234.4 268.9L237.1 271.1L238.9 273.4L241.1 275.6L244.6 278.5L246.9 281.4L250.8 280.5L247.9 277.6L246.9 274.2L245.9 270.8L244.8 268.4L242.2 265.0L240.1 263.1L237.9 260.6L235.6 258.9L233.4 256.8L228.6 259.2L227.6 260.2ZM439.3 230.3L442.5 231.9L445.5 235.3L448.7 232.9L451.8 230.3L451.8 226.9L451.1 223.8L450.6 220.3L444.3 219.0L442.3 222.8L441.0 226.6ZM390.4 225.3L393.3 227.5L396.5 228.7L399.1 231.6L400.4 236.1L401.4 239.0L402.9 242.8L405.5 241.5L409.5 240.0L411.9 239.3L415.4 237.8L416.4 234.7L418.0 231.6L418.8 229.1L420.5 225.3L417.5 223.9L413.9 221.8L410.4 220.3L406.6 220.2L403.7 218.3L400.4 217.8L397.1 216.3L394.2 213.6L390.4 212.8L390.2 217.1L390.0 220.2ZM413.6 197.4L418.2 196.3L421.7 193.4L425.1 190.5L430.9 189.9L436.1 188.2L436.7 181.8L433.7 178.0L430.9 176.0L427.2 175.4L424.0 176.6L422.7 178.9L420.5 182.4L417.9 184.8L414.7 187.9L413.3 190.1L410.1 192.8ZM430.9 200.9L433.3 203.8L435.5 205.5L436.3 204.4L435.5 202.7L439.8 199.2L440.2 198.6L444.8 195.1L447.4 192.2L449.4 189.3L447.1 183.6L443.8 185.0L440.1 186.2L436.7 188.2L432.9 189.1L429.8 191.7L429.6 196.5ZM282.6 281.4L284.4 284.6L286.4 288.2L289.3 286.2L288.1 283.3L287.3 279.7L286.4 276.6L282.6 275.6ZM306.0 408.4L306.6 411.9L307.1 414.5L306.3 417.2L309.2 418.5L312.7 419.3L314.8 421.0L317.2 418.8L320.9 418.3L320.3 415.4L318.9 412.4L319.1 409.6L316.1 408.0L312.8 408.6L310.6 407.5L307.4 406.9ZM318.4 374.8L319.6 378.6L320.1 381.8L324.6 382.0L327.7 381.6L331.1 382.2L331.6 379.1L332.0 375.4L332.7 372.6L330.2 370.9L328.0 369.7L325.4 367.7L322.8 370.1L319.9 372.5ZM283.6 354.8L281.6 352.6L279.9 348.2L277.1 346.5L276.2 343.2L274.4 344.7L271.2 346.9L268.8 350.1L265.3 351.5L268.2 353.7L269.4 356.2L273.3 358.3L274.7 361.1L277.6 359.7L280.6 357.8L283.3 356.4ZM373.3 394.0L372.1 398.7L373.5 400.1L377.3 402.6L379.2 403.6L382.3 402.2L386.6 400.7L388.7 399.0L388.7 398.8L388.1 396.6L385.7 392.6L383.7 390.8L380.0 392.0L376.4 393.9ZM370.1 425.0L372.3 427.5L374.8 430.9L376.8 432.8L380.4 430.4L383.1 428.4L385.7 425.8L382.2 424.2L381.0 422.7L377.9 421.1L375.4 419.4L372.8 418.1L371.1 421.8ZM320.7 435.3L321.9 438.9L322.3 442.0L325.3 442.6L327.7 444.8L331.0 445.5L331.8 445.1L333.1 441.6L333.3 438.3L334.7 435.0L334.8 431.5L332.4 430.6L330.1 427.7L327.6 425.6L326.3 428.2L324.7 430.7L321.8 432.2ZM307.0 452.6L309.0 452.2L312.7 451.7L314.0 448.1L312.1 445.3L310.2 443.5L308.6 439.7L306.9 438.2L305.0 438.9L301.2 440.2L298.4 441.2L296.9 444.9L299.5 446.6L301.5 447.9L304.7 451.3ZM344.9 388.9L344.8 389.4L341.1 390.7L338.9 390.1L334.8 390.1L331.7 390.0L331.4 390.8L333.4 393.9L334.6 397.9L338.4 398.7L343.0 398.9L345.7 398.7L346.9 395.6L347.4 392.6ZM364.3 440.9L365.3 440.4L368.1 438.1L371.0 436.5L372.9 434.3L376.8 432.8L374.8 430.9L372.3 427.5L370.1 425.0L367.5 427.4L363.1 429.0L363.4 432.0L363.7 435.0L363.6 438.9ZM410.4 190.2L407.7 191.4L405.7 192.0L402.6 193.8L400.4 195.2L403.0 197.2L405.3 200.2L407.3 199.9L408.7 198.8L409.7 196.6L409.2 193.2ZM348.1 438.1L350.0 439.1L353.0 440.2L355.2 443.0L358.1 444.0L361.3 442.4L364.3 440.9L363.6 438.9L363.7 435.0L363.4 432.0L363.1 429.0L359.4 426.9L356.9 425.4L353.4 424.4L351.3 426.4L348.3 427.5L346.7 430.6L347.5 433.7ZM356.1 389.0L356.4 385.6L354.6 382.4L353.9 379.7L351.5 378.4L346.5 379.4L344.8 382.7L343.0 385.3L345.6 385.5L344.9 388.9L347.4 392.6L350.1 391.7L353.0 390.5ZM354.4 337.3L351.9 335.5L348.7 335.4L344.6 337.6L341.9 337.9L340.7 342.7L343.4 345.0L345.8 347.1L348.7 349.5L350.1 346.9L351.5 343.7L353.2 340.4L354.6 338.1ZM462.1 223.7L461.0 221.4L459.6 222.3L461.0 224.1L463.4 223.2L467.9 221.8L465.2 222.0ZM470.2 203.8L470.2 204.1L473.3 205.3ZM312.0 293.2L309.7 292.3L306.9 290.0L304.4 290.6L301.4 292.4L301.0 295.9L300.1 299.0L302.7 300.7L306.9 302.4L308.3 300.0L310.4 296.8L312.3 294.3ZM361.6 401.7L362.1 402.1L362.6 401.7L363.0 402.8L363.9 403.4L366.6 401.8L369.8 400.0L372.1 398.7L373.3 394.0L372.9 391.2L371.0 387.6L369.2 384.6L366.5 386.1L364.0 386.9L361.2 388.7L358.4 390.1L360.0 392.7L360.0 396.5L361.0 398.9ZM371.3 348.1L374.5 348.2L377.1 347.8L379.9 347.9L380.1 344.9L379.4 339.7L378.6 337.1L375.2 338.0L371.9 338.8L368.6 339.2L368.5 339.4L369.2 342.4L370.6 345.5ZM306.7 322.2L309.1 320.6L311.4 317.9L311.6 316.6L310.7 314.5L309.0 311.7L306.7 309.7L302.9 311.0L299.8 311.7L298.9 315.4L298.6 319.8L301.0 320.5L304.0 321.3ZM379.8 334.6L379.7 335.8L382.8 336.8L386.3 338.5L388.3 339.9L391.0 340.9L394.4 337.2L393.2 334.0L391.7 331.1L390.2 328.7L388.4 328.2L386.6 330.0L382.9 332.1ZM331.0 445.5L331.1 448.3L330.3 450.4L330.4 454.2L335.2 454.2L337.8 453.0L341.4 450.9L344.2 450.8L342.5 447.1L341.7 445.1L337.5 444.9L335.4 446.0L331.8 445.1ZM291.6 401.7L288.8 403.5L286.3 404.0L283.8 405.1L284.0 408.0L282.8 411.2L284.7 414.3L283.8 417.7L285.1 418.2L287.5 417.6L290.9 416.8L293.8 416.1L296.0 413.0L296.8 409.0L294.2 406.7L292.7 404.6ZM302.3 331.0L298.5 331.1L295.5 329.2L291.8 328.8L291.7 329.2L292.0 332.1L294.1 335.4L294.2 338.8L295.4 340.6L300.1 341.4L304.1 338.3L303.3 334.7ZM247.4 371.0L246.2 373.8L243.8 375.5L242.1 379.4L243.5 382.5L245.3 385.4L247.5 385.7L251.7 385.3L255.1 385.3L256.5 383.8L255.4 380.2L257.0 376.8L255.8 375.0L255.9 370.9L253.3 371.1L250.5 370.0ZM353.9 379.7L357.7 378.0L361.7 377.0L362.3 374.3L362.0 369.8L358.6 367.0L354.7 366.0L352.2 368.2L352.2 371.9L352.0 374.9L351.5 378.4ZM262.3 303.5L258.5 305.4L256.6 308.0L253.8 308.6L253.2 311.8L252.8 315.0L254.4 318.2L257.3 319.9L260.6 321.5L263.6 321.7L266.4 319.0L268.9 318.9L269.3 313.9L270.2 310.6L268.1 308.1L264.8 305.8ZM312.3 267.7L309.8 267.2L306.8 266.1L304.5 264.9L301.2 264.6L299.4 268.8L296.7 271.3L299.5 273.2L302.0 276.5L304.2 279.1L306.2 276.1L309.1 274.3L310.4 271.1L312.8 268.7ZM256.5 407.6L255.8 411.2L254.5 414.1L253.8 418.1L252.5 420.7L254.4 422.1L257.8 423.4L261.0 424.9L262.9 426.3L264.4 425.6L265.6 421.7L267.3 419.8L269.2 416.2L269.8 414.1L269.2 412.6L266.0 411.5L263.8 409.6L260.6 408.4ZM325.9 266.4L323.8 268.6L320.6 270.1L317.9 271.8L318.8 275.0L322.4 277.8L327.4 277.7L330.3 277.2L331.3 272.5L327.7 269.3ZM312.8 351.9L310.4 351.2L307.8 351.9L310.8 353.9L311.5 357.7L306.9 360.1L303.5 361.1L305.0 362.1L307.9 364.0L310.4 366.1L312.0 364.2L315.3 362.7L318.2 361.2L316.7 357.7L314.3 355.2ZM388.0 316.7L390.1 317.4L393.6 314.9L396.0 312.8L398.2 311.4L399.8 309.8L395.4 308.5L393.0 307.3L389.1 308.8L386.9 310.4L387.1 313.9ZM278.9 392.8L276.7 395.0L274.7 399.1L275.2 400.3L278.3 402.3L280.8 404.3L283.8 405.1L286.3 404.0L288.8 403.5L291.6 401.7L293.6 396.7L290.9 393.3L288.8 391.5L285.5 391.9L283.2 392.1ZM353.4 424.4L353.4 424.1L348.7 424.9L348.9 420.5L350.2 417.1L346.9 415.4L344.1 414.1L346.9 412.0L349.3 411.5L346.2 408.6L343.3 410.0L339.8 411.7L336.9 413.9L336.6 414.9L338.3 417.2L339.9 419.3L341.7 421.7L344.2 424.3L346.4 425.2L348.3 427.5L351.3 426.4ZM358.2 323.9L359.8 325.9L361.2 329.9L362.7 331.7L365.2 332.6L368.6 329.9L370.6 327.2L370.3 323.8L369.3 321.3L366.4 320.0L362.2 318.9L361.2 319.3ZM320.1 381.8L318.0 384.3L315.7 387.1L317.0 390.4L317.1 393.4L318.4 394.2L321.5 394.4L324.5 392.2L328.6 391.6L331.4 390.8L331.7 390.0L327.1 389.7L326.3 386.3L330.4 385.3L332.6 385.3L331.1 382.2L327.7 381.6L324.6 382.0ZM384.9 263.9L381.7 260.8L378.7 258.5L374.4 260.2L371.1 260.5L371.0 260.7L372.2 264.3L372.4 266.9L373.0 269.1L376.0 270.0L379.2 268.1L381.9 266.0ZM351.1 329.7L352.4 327.2L356.0 324.3L353.4 322.4L350.9 320.4L347.8 319.0L346.9 319.5L346.5 322.8L344.7 327.0L347.5 328.2Z"/>
<path fill="#f4c996" d="M158.5 178.0L157.6 180.5L154.8 184.1L153.7 186.7L151.1 189.1L149.2 190.6L146.0 193.5L149.7 194.3L152.7 195.4L156.6 198.3L160.1 197.4L162.4 196.4L160.7 193.1L159.2 189.9L157.5 186.7L158.6 183.6L160.4 179.0ZM342.5 259.6L345.1 258.6L345.6 255.2L346.6 252.2L344.1 250.6L341.0 248.7L338.6 247.4L334.7 250.2L334.4 251.6L336.8 253.9L339.4 255.2L341.3 256.9ZM349.1 260.5L350.2 263.3L351.5 265.6L352.2 269.3L355.2 267.7L359.9 266.9L361.2 262.4L359.3 259.5L358.0 256.8L355.5 258.1L352.4 259.0ZM380.6 251.0L376.9 250.4L372.8 250.3L372.8 250.4L377.2 251.6L380.0 253.3ZM380.0 253.3L377.2 251.6L372.8 250.4L372.8 250.3L368.6 249.9L369.6 253.0L370.6 256.9L371.1 260.5L374.4 260.2L378.7 258.5ZM268.9 318.9L266.4 319.0L263.6 321.7L260.6 321.5L261.3 324.1L260.8 328.3L262.2 330.6L262.7 333.8L266.4 333.7L270.8 333.0L273.9 334.1L273.9 330.8L275.1 327.1L276.2 323.6L274.1 322.7L272.1 320.8ZM334.8 431.5L337.9 431.3L340.0 431.0L343.7 431.0L346.7 430.6L348.3 427.5L346.4 425.2L344.2 424.3L341.7 421.7L339.9 419.3L338.3 417.2L336.6 414.9L334.0 416.9L332.0 418.2L329.4 419.7L327.0 421.9L327.6 425.6L330.1 427.7L332.4 430.6ZM458.4 239.8L455.2 237.9L453.9 233.4L451.8 231.0L451.8 230.4L449.4 233.0L447.2 234.0L448.6 236.6L450.6 235.3L453.3 236.9L455.6 238.6L458.1 240.3L458.2 240.3ZM451.6 225.8L451.2 225.9L451.8 229.9L451.8 225.8ZM489.4 186.4L489.6 185.6L488.8 188.2L488.1 188.6L489.5 188.4ZM484.6 173.6L482.5 174.8L477.9 176.2L475.6 178.9L473.6 179.8L477.2 181.2L474.4 183.1L472.6 184.7L468.8 186.6L471.1 189.5L474.9 188.2L478.4 187.0L480.6 186.6L484.2 186.6L486.6 185.7L489.9 184.7L490.3 183.1L489.0 179.0L486.5 176.7ZM352.0 213.9L348.0 215.3L343.9 214.9L344.4 216.1L347.1 215.4L350.3 215.3L353.6 213.2ZM278.4 322.6L281.0 324.8L284.1 325.6L285.5 326.2L288.5 327.0L291.6 327.9L292.9 324.1L293.7 322.4L292.3 320.3L290.9 316.6L289.0 315.0L285.6 314.7L281.9 315.5L280.0 319.1ZM332.0 344.9L334.3 345.5L337.8 343.5L340.7 342.7L341.9 337.9L339.9 335.5L339.3 332.0L334.4 332.1L331.4 332.9L331.6 336.0L330.1 338.1L329.4 341.2ZM301.2 264.6L300.1 261.4L299.9 257.7L298.0 257.3L294.5 258.3L290.3 259.2L288.5 257.7L286.4 260.7L284.4 264.1L286.6 266.6L289.7 270.1L291.9 272.0L296.7 271.3L299.4 268.8ZM320.7 297.6L322.6 294.5L322.8 292.9L325.3 289.6L322.6 287.4L319.5 287.3L316.8 287.2L313.8 290.2L312.0 293.2L312.3 294.3L315.3 295.2L318.8 298.1ZM430.1 194.3L429.8 191.7L432.9 189.0L436.7 188.2L439.4 186.8L444.2 184.8L440.1 184.1L436.6 182.9L436.1 188.2L430.9 189.9L427.6 189.2L425.1 190.5L424.6 191.0L427.4 190.5L428.6 194.1ZM420.5 182.3L421.8 180.1L424.0 176.6L428.2 176.3L425.5 173.9L423.6 176.6L420.3 179.5ZM428.6 194.1L427.4 190.5L424.6 191.0L423.7 191.7L426.5 193.8ZM452.7 183.0L449.4 179.4L446.4 183.9L447.1 183.6L448.2 185.5L449.2 188.8L450.3 185.6ZM447.1 192.2L444.8 195.1L443.7 196.0L444.8 196.1ZM213.8 378.4L211.1 380.6L209.0 382.1L207.2 383.7L205.2 385.5L202.8 387.0L202.9 387.3L203.2 391.2L203.4 394.0L203.1 398.2L204.2 399.6L209.0 400.3L211.8 399.3L214.6 398.5L217.9 397.9L220.2 396.2L223.2 394.7L226.6 395.0L228.5 393.9L229.4 392.2L228.7 389.3L229.0 385.7L227.5 383.5L224.6 382.0L221.4 382.2L219.0 380.9L215.6 379.1ZM412.5 196.0L410.1 192.8L412.2 191.2L413.1 188.9L416.8 186.9L419.1 183.6L420.5 182.4L420.5 182.3L420.3 179.5L418.8 181.2L416.2 183.8L413.9 185.1L411.9 188.2L410.4 190.2L409.2 193.2L409.7 196.6L408.7 198.8ZM306.3 417.2L303.5 419.2L300.4 421.7L300.4 426.2L304.1 428.0L307.3 430.3L309.8 431.6L310.1 431.5L311.1 428.3L312.8 425.8L313.0 423.3L314.8 421.0L312.7 419.3L309.2 418.5ZM203.6 422.2L200.2 424.5L201.6 427.3L203.1 430.4L202.2 433.4L200.8 437.5L200.6 440.4L204.0 441.4L208.1 442.9L209.3 447.9L212.8 448.4L215.3 445.7L215.8 442.3L216.9 439.8L218.3 436.9L219.7 434.2L218.1 430.4L214.6 428.7L213.7 425.8L209.5 424.4L206.2 423.3ZM288.2 279.9L287.4 279.7L287.2 283.2L289.3 286.2L286.4 288.2L284.4 284.5L282.6 281.4L282.6 278.6L279.9 277.7L276.1 277.1L274.7 279.4L271.2 281.9L272.7 283.8L275.5 285.8L276.7 287.9L278.6 290.5L280.4 292.7L284.0 291.4L287.3 290.2L290.0 286.2L289.6 283.5ZM333.2 302.1L332.4 301.6L330.2 303.3L327.0 303.2L325.9 306.0L323.3 308.8L322.4 311.4L324.7 313.7L326.9 316.1L330.9 315.2L333.4 313.4L336.7 311.6L335.2 307.7L334.3 305.3ZM278.4 307.8L280.1 304.1L278.5 300.4L278.1 297.6L274.1 297.7L270.9 298.0L268.0 297.6L264.1 298.3L262.3 303.5L264.8 305.8L268.1 308.1L270.2 310.6L272.9 309.7L276.1 308.6ZM478.6 207.5L475.8 206.7L473.3 205.3L478.1 207.8ZM476.3 222.4L475.9 219.3L475.6 216.5L474.3 214.3L472.5 210.6L470.5 207.6L469.2 204.8L465.2 208.0L465.3 211.8L465.8 214.6L466.1 218.3L468.9 222.0L471.8 222.8ZM473.3 205.3L470.2 204.1L469.2 204.8L470.5 207.6L472.5 210.6L474.3 214.3L475.6 216.5L476.5 213.4L476.4 210.1L478.1 207.8ZM354.4 279.8L352.7 276.9L351.8 274.9L350.9 271.4L348.2 271.8L344.3 272.1L342.5 272.2L342.3 274.9L341.0 278.4L340.7 281.2L343.0 284.8L345.5 284.5L349.0 282.3L351.0 280.8L354.2 280.3ZM320.9 418.3L324.7 420.8L327.0 421.9L329.4 419.7L332.0 418.2L334.0 416.9L336.6 414.9L336.9 413.9L335.2 411.4L333.8 406.9L331.5 404.0L328.4 404.3L325.2 405.6L322.1 404.9L319.1 409.6L318.9 412.4L320.3 415.4ZM269.2 412.6L269.8 414.1L273.4 414.7L275.8 416.2L279.6 417.9L281.9 418.3L283.8 417.7L284.7 414.3L282.8 411.2L284.0 408.0L283.8 405.1L280.8 404.3L278.3 402.3L275.2 400.3L273.5 403.3L271.9 406.5L271.3 409.2ZM265.2 256.0L267.9 254.9L270.6 254.1L273.3 253.0L274.3 250.9L272.4 248.6L272.8 246.2L270.8 243.2L267.5 243.6L263.2 243.9L260.7 244.2L257.5 244.9L257.0 248.0L259.6 250.2L261.4 251.1L263.0 254.1ZM381.2 359.3L381.1 362.3L382.9 364.7L385.9 368.1L389.6 368.4L392.1 368.2L395.6 366.0L397.5 362.3L395.5 360.0L391.6 358.2L388.5 356.2L386.2 357.0L382.7 357.2ZM415.6 214.7L413.8 212.1L412.8 208.6L411.2 206.4L409.7 203.8L408.2 201.5L407.9 202.7L407.9 205.6L407.4 209.2L405.4 212.8L407.4 215.3L409.3 217.2L410.2 219.9L413.6 217.7ZM410.2 219.9L409.3 217.2L407.4 215.3L405.4 212.8L401.8 212.8L402.3 218.2L405.9 219.9L409.9 220.2ZM408.2 201.5L407.3 199.9L405.3 200.2L407.9 202.7ZM325.8 253.7L323.1 255.4L323.4 258.0L325.0 261.2L323.9 261.5L326.3 264.6L331.2 261.9L331.4 258.0L331.5 254.1L328.6 254.4ZM376.2 233.6L380.0 234.4L383.7 234.3L386.9 235.9L389.4 234.0L391.6 232.3L393.9 230.8L396.0 229.3L393.1 227.3L390.4 225.3L387.5 222.2L385.4 220.3L382.3 222.3L381.5 224.2L377.7 225.8L376.5 227.4L373.3 228.3L375.5 231.0ZM390.4 220.0L387.2 217.6L385.4 220.3L387.5 222.2L390.4 225.3ZM340.7 281.2L336.2 281.1L332.4 280.2L330.6 284.4L329.6 286.5L328.1 289.6L332.0 292.4L335.7 292.1L338.2 290.0L342.6 289.4L343.0 284.8ZM447.1 192.2L444.8 196.1L444.9 196.3L449.1 196.0L450.6 195.2L448.3 190.7ZM471.3 195.0L470.3 195.1L467.9 190.5L471.1 189.5L468.8 186.6L467.9 187.0L464.3 186.5L461.0 185.9L460.9 185.1L460.6 185.2L459.2 187.9L459.1 192.5L458.1 195.2L460.6 197.3L462.2 198.3L466.0 201.2L468.1 202.7L470.2 203.8L471.4 201.4L471.9 198.4ZM469.2 204.8L468.1 202.7L465.1 204.9L461.7 207.5L465.2 208.0ZM466.1 218.3L463.7 220.2L461.0 221.4L462.1 223.7L465.2 222.0L467.9 221.8L468.9 222.0ZM291.9 272.0L289.7 270.1L286.6 266.6L284.4 264.1L279.0 264.9L277.1 266.7L277.3 270.7L276.4 273.6L276.1 277.1L279.9 277.7L282.6 278.6L282.6 275.6L286.4 276.6L287.4 279.7L288.2 279.9L289.5 277.3L290.8 275.2ZM256.5 383.8L259.9 384.0L263.9 384.4L267.1 384.4L269.4 382.2L269.0 378.6L269.7 374.7L269.0 372.1L268.8 371.2L265.1 371.1L260.9 369.9L258.0 369.3L255.9 370.9L255.8 375.0L257.0 376.8L255.4 380.2ZM417.7 265.6L414.5 261.9L411.2 262.5L411.5 262.8L410.1 265.6L408.6 268.6L407.5 270.9L411.2 273.5L414.0 271.2L416.5 271.1ZM299.8 311.7L302.9 311.0L306.7 309.7L307.9 304.8L306.9 302.4L302.7 300.7L300.1 299.0L296.8 299.7L294.4 301.3L292.5 305.5L292.8 306.8L295.4 308.1L297.6 310.0ZM383.1 379.6L378.6 378.1L374.9 378.5L371.8 381.2L369.7 382.6L369.2 384.6L371.0 387.6L372.9 391.2L373.3 394.0L376.4 393.9L380.0 392.0L383.7 390.8L384.9 387.1L386.0 383.4L385.4 381.5ZM430.9 200.9L431.6 204.7L432.1 207.9L427.2 208.6L427.2 209.9L430.8 212.2L432.7 209.1L433.2 208.1L434.6 204.6ZM430.1 194.3L428.6 194.1L429.8 197.6L430.9 200.9L430.7 197.8ZM426.5 193.8L426.6 196.8L427.6 199.9L427.2 201.8L427.0 205.5L427.2 208.6L432.1 207.9L431.6 204.7L430.9 200.9L429.8 197.6L428.6 194.1ZM435.5 205.5L434.6 204.6L433.2 208.1L432.7 209.1L430.8 212.2L433.0 213.7L435.6 215.2L440.0 213.0L440.5 212.6L439.1 209.8L437.8 206.7L436.3 204.4ZM443.7 196.0L440.2 198.6L439.8 199.2L443.0 196.5L444.9 196.3L444.8 196.1ZM227.5 383.5L229.0 385.7L228.7 389.3L229.4 392.2L233.0 393.3L236.3 392.3L238.1 392.5L241.8 393.0L243.6 389.6L245.3 385.4L243.5 382.5L242.1 379.4L238.7 378.9L236.0 378.2L232.9 378.3L229.8 381.1ZM386.5 250.4L381.3 250.5L380.6 251.0L380.0 253.3L383.8 254.1L385.4 255.4L388.2 254.0ZM386.2 264.0L387.6 260.5L389.7 257.2L388.2 254.0L385.4 255.4L383.8 254.1L380.0 253.3L378.7 258.5L381.7 260.8L384.9 263.9ZM478.6 207.5L481.9 205.8L484.2 204.5L486.9 203.9L490.2 202.7L490.7 199.8L489.9 197.4L489.4 193.7L488.6 191.5L489.5 188.4L488.1 188.6L484.6 190.1L482.7 192.0L478.4 194.0L475.2 194.9L471.3 195.0L471.9 198.4L471.4 201.4L470.2 203.8L473.3 205.3L475.8 206.7ZM306.9 398.4L304.4 396.8L300.7 394.3L297.4 394.5L293.6 396.7L291.6 401.7L292.7 404.6L294.2 406.7L296.8 409.0L300.2 407.9L302.6 409.6L306.0 408.4L307.4 406.9L307.1 405.1L306.0 401.2ZM376.2 233.6L376.2 233.6L375.5 231.0L373.3 228.3L370.3 230.3L369.2 235.0L367.8 237.8L369.2 240.4L370.1 243.5L371.8 241.1L373.0 239.0L374.7 236.0ZM370.1 243.5L369.2 240.4L367.8 237.8L366.2 240.4L364.3 242.4L363.1 245.6L367.2 248.2ZM349.1 260.5L352.4 259.0L355.5 258.1L358.0 256.8L358.0 256.6L356.0 254.9L354.4 251.6L351.0 252.2L347.8 252.9L346.6 252.2L345.6 255.2L345.1 258.6ZM245.3 385.4L243.6 389.6L241.8 393.0L243.7 395.4L245.6 398.6L246.9 401.6L250.7 402.1L254.5 402.6L257.3 399.1L257.0 395.4L256.4 392.3L255.5 388.3L255.1 385.3L251.7 385.3L247.5 385.7ZM368.6 339.2L367.8 336.5L365.2 332.6L362.7 331.7L359.2 333.3L356.5 335.8L354.4 337.3L354.6 338.1L356.4 340.2L359.0 342.7L361.2 343.8L362.8 341.6L365.5 340.5L368.5 339.4ZM293.7 322.4L296.8 322.0L298.6 319.8L298.9 315.4L299.8 311.7L297.6 310.0L295.4 308.1L292.8 306.8L292.0 310.4L290.3 311.5L289.0 315.0L290.9 316.6L292.3 320.3ZM331.2 261.9L335.1 263.2L339.1 264.4L340.7 261.7L342.5 259.6L341.3 256.9L339.4 255.2L336.8 253.9L334.4 251.6L331.5 254.1L331.4 258.0ZM317.9 271.8L314.9 270.0L312.8 268.7L310.4 271.1L309.1 274.3L306.2 276.1L304.2 279.1L304.2 279.1L307.1 281.8L310.3 281.3L313.2 282.0L315.2 280.3L317.3 277.6L318.8 275.0ZM419.9 215.6L421.5 219.5L423.3 216.8L425.6 215.6L429.1 214.6L430.5 212.8L430.8 212.2L427.2 209.9L424.9 211.9L422.2 213.8ZM423.9 225.7L426.8 227.1L424.2 222.8L426.9 220.8L429.8 218.7L433.0 216.5L435.6 215.2L433.0 213.7L430.8 212.2L430.5 212.8L429.1 214.6L425.6 215.6L423.3 216.8L421.5 219.5L423.1 221.9ZM278.9 392.8L283.2 392.1L285.5 391.9L288.8 391.5L289.2 387.7L289.2 383.6L285.7 382.0L282.3 380.4L279.3 381.8L277.3 384.4L278.3 387.3L278.3 390.0ZM366.4 355.8L366.4 355.6L364.0 353.9L362.4 351.1L360.4 347.9L357.2 347.6L355.6 350.0L352.0 349.8L349.1 350.6L348.7 354.0L351.3 355.7L353.6 357.7L355.0 360.1L357.9 359.1L360.4 357.8L362.9 356.9ZM390.2 421.9L393.5 420.2L395.0 416.6L397.9 415.3L400.0 411.7L402.1 409.1L398.5 408.6L395.8 407.5L392.6 407.3L389.3 410.0L386.9 413.1L387.9 415.8L388.3 419.0ZM251.1 354.3L254.4 350.0L257.5 354.7L257.8 354.7L262.0 351.2L261.5 348.3L259.4 344.3L260.0 341.7L258.2 338.2L255.2 337.9L252.5 337.5L248.3 335.9L245.6 335.6L244.8 338.8L243.0 342.8L244.8 345.4L245.7 348.4L247.1 350.5L248.5 354.0ZM367.3 366.9L369.2 368.0L373.2 370.0L375.9 367.5L378.6 365.1L381.1 362.3L381.2 359.3L378.3 358.8L375.8 357.6L372.3 356.5L369.8 356.9L366.6 356.0L366.9 359.8L366.6 363.4ZM245.6 335.6L245.2 334.7L241.6 332.4L240.5 331.4L237.8 329.1L234.4 327.7L233.6 330.7L232.5 333.8L232.0 336.7L230.6 339.8L232.1 342.7L235.1 346.3L237.7 344.8L241.3 343.4L243.0 342.8L244.8 338.8ZM363.9 405.0L365.7 409.4L364.6 411.2L366.6 413.0L369.5 416.2L372.7 417.5L375.2 415.3L377.0 413.0L380.1 411.6L379.2 407.6L379.2 403.6L377.3 402.6L373.5 400.1L372.1 398.7L369.8 400.0L366.6 401.8L363.9 403.4ZM411.2 273.5L407.5 270.9L406.3 273.2L405.4 276.0L403.2 278.4L404.6 280.4L407.9 279.2L410.8 278.4ZM413.4 365.9L414.7 368.8L417.4 370.7L419.0 372.7L420.3 369.3L421.1 366.4L423.0 362.7L419.9 359.7L418.7 357.7L417.3 359.5L414.6 362.3ZM262.0 351.2L265.3 351.5L268.8 350.1L271.2 346.9L274.4 344.7L276.2 343.2L277.6 338.9L276.8 336.7L273.9 334.1L270.8 333.0L266.4 333.7L262.7 333.8L261.3 335.3L258.2 338.2L260.0 341.7L259.4 344.3L261.5 348.3ZM229.4 392.2L228.5 393.9L229.2 397.6L229.4 399.2L229.3 402.5L231.1 405.1L233.8 406.1L237.0 407.0L240.3 407.4L242.3 405.8L244.6 403.1L246.9 401.6L245.6 398.6L243.7 395.4L241.8 393.0L238.1 392.5L236.3 392.3L233.0 393.3ZM326.9 316.1L324.7 313.7L322.4 311.4L321.1 311.2L317.2 313.0L314.8 314.8L311.6 316.6L311.4 317.9L313.2 320.6L316.4 322.1L317.8 324.0L321.3 323.4L323.9 322.1L326.9 321.6ZM446.8 250.0L447.7 250.0L447.6 247.9L445.5 247.9L444.9 246.1L442.5 249.5L440.4 251.3L437.6 254.3L440.4 256.5L441.0 255.8L443.9 253.0ZM451.6 225.8L451.4 222.6L451.0 219.4L450.6 220.3L450.2 223.7L451.2 225.9ZM442.0 224.2L442.5 221.0L444.3 219.0L447.1 219.8L450.6 220.3L447.7 216.8L445.5 215.3L442.1 214.3L440.5 212.8L444.3 216.5L441.7 219.0L439.2 221.6ZM300.1 341.4L301.7 344.7L302.2 348.4L303.8 349.3L307.8 351.9L310.4 351.2L310.0 347.7L310.0 344.8L310.8 341.5L310.2 339.2L307.1 338.8L304.1 338.3ZM346.5 379.4L344.4 377.5L342.2 374.7L340.5 372.5L338.1 370.6L334.4 371.9L332.7 372.6L332.0 375.4L331.6 379.1L331.1 382.2L332.6 385.3L336.4 384.7L339.7 385.1L343.0 385.3L344.8 382.7ZM332.0 292.4L328.1 289.6L325.3 289.6L322.8 292.9L322.6 294.5L320.7 297.6L322.8 299.4L324.1 300.7L327.0 303.2L330.2 303.3L332.4 301.6L332.8 298.3L332.9 295.3ZM438.0 222.8L437.2 225.7L435.5 230.3L431.6 228.8L428.4 229.1L429.3 231.9L430.5 230.3L433.7 231.1L437.2 231.7L440.5 232.8L440.9 233.7L442.3 232.8L439.3 230.3L439.7 227.5L442.0 224.2L439.2 221.6ZM390.0 199.5L386.8 199.5L383.4 200.3L386.9 200.9L390.4 201.5L390.6 200.2ZM378.6 200.9L378.8 201.2L381.5 200.6ZM427.2 209.9L427.2 208.6L424.0 209.0L423.1 205.6L421.6 203.7L421.1 200.9L421.4 198.3L420.7 194.2L418.2 196.3L413.6 197.4L412.5 196.0L408.7 198.8L408.2 201.5L409.7 203.8L411.2 206.4L412.8 208.6L413.8 212.1L415.6 214.7L419.9 215.6L422.2 213.8L424.9 211.9ZM426.5 193.8L423.7 191.7L420.7 194.2L421.4 198.3L421.1 200.9L421.6 203.7L423.1 205.6L424.0 209.0L427.2 208.6L427.0 205.5L427.2 201.8L427.6 199.9L426.6 196.8ZM327.5 329.5L327.4 326.1L327.4 322.3L326.9 321.6L323.9 322.1L321.3 323.4L317.8 324.0L317.7 326.3L316.4 329.8L319.2 331.1L321.1 333.7L323.3 332.1ZM262.9 426.3L262.6 429.5L262.0 432.1L260.8 435.7L263.3 437.9L266.6 438.3L269.1 439.8L271.3 440.4L271.5 441.7L273.8 440.1L275.9 437.3L277.9 434.8L276.1 431.1L275.3 429.4L272.6 428.6L269.2 427.6L268.1 426.6L264.4 425.6ZM422.6 242.4L423.9 244.1L423.3 241.5ZM301.9 458.9L302.8 463.2L303.9 466.7L308.9 465.5L309.4 462.5L310.2 460.6L310.1 456.7L314.9 455.1L312.7 451.7L309.0 452.2L307.0 452.6L303.7 455.0ZM257.3 399.1L261.4 398.1L265.0 396.5L267.7 396.1L267.5 392.8L266.8 390.0L268.1 386.9L267.1 384.4L263.9 384.4L259.9 384.0L256.5 383.8L255.1 385.3L255.5 388.3L256.4 392.3L257.0 395.4ZM368.6 249.9L367.2 248.4L365.5 250.7L362.9 252.3L359.4 254.4L358.0 256.6L358.0 256.8L359.3 259.5L361.2 262.4L364.5 261.1L366.6 261.0L371.0 260.7L371.1 260.5L370.6 256.9L369.6 253.0ZM276.2 323.6L275.1 327.1L273.9 330.8L273.9 334.1L276.8 336.7L277.6 338.9L280.5 338.5L283.4 336.3L284.5 334.5L286.4 333.6L289.5 331.1L291.7 329.2L291.8 328.8L291.6 327.9L288.5 327.0L285.5 326.2L284.1 325.6L281.0 324.8L278.4 322.6ZM334.6 397.9L333.4 401.1L331.5 404.0L333.8 406.9L335.2 411.4L336.9 413.9L339.8 411.7L343.3 410.0L346.2 408.6L347.0 405.3L347.7 402.0L345.7 398.7L343.0 398.9L338.4 398.7ZM268.8 371.2L268.3 369.3L271.4 364.7L274.2 364.0L274.7 361.1L273.3 358.3L269.4 356.2L268.2 353.7L265.3 351.5L262.0 351.2L257.8 354.7L262.9 356.2L262.9 360.1L257.7 361.6L257.7 364.3L258.0 369.3L260.9 369.9L265.1 371.1ZM402.4 241.2L399.9 242.2L397.6 244.6L394.2 245.2L396.4 249.4L398.0 247.7L401.3 245.0L402.9 242.8ZM407.1 250.3L406.5 247.8L405.4 244.8L404.0 242.4L402.9 242.8L401.3 245.0L398.0 247.7L396.4 249.4L397.7 252.1L399.3 255.0L403.1 254.7L404.5 252.6ZM381.3 250.5L386.5 250.4L388.8 247.6L391.3 244.7L389.1 241.4L388.0 239.4L386.9 235.9L383.7 234.3L380.0 234.4L376.2 233.6L376.2 233.6L377.6 236.6L377.6 239.6L379.0 242.7L378.7 244.2L379.8 247.9ZM392.6 407.3L395.8 407.5L398.5 408.6L402.1 409.1L402.5 408.5L401.9 404.3L402.4 402.1L401.8 397.5L398.1 395.7L396.6 394.2L393.5 395.6L391.9 397.8L388.7 398.8L388.7 399.0L390.0 401.6L391.3 403.9ZM402.5 297.6L403.2 301.6L403.9 305.5L406.3 302.7L410.9 301.0L413.0 300.1L411.7 296.7L408.3 296.0L403.6 296.5ZM363.1 429.0L367.5 427.4L370.1 425.0L371.1 421.8L372.8 418.1L372.7 417.5L369.5 416.2L366.6 413.0L364.6 411.2L363.5 413.6L361.0 417.1L359.1 419.5L357.9 423.3L353.4 424.1L353.4 424.4L356.9 425.4L359.4 426.9ZM374.9 378.5L374.2 375.5L374.6 373.2L373.2 370.0L369.2 368.0L367.3 366.9L365.2 368.4L362.0 369.8L362.3 374.3L361.7 377.0L364.0 378.4L366.9 381.0L369.7 382.6L371.8 381.2ZM428.0 229.1L426.8 227.1L423.9 225.7L419.6 227.4L418.5 230.1L418.3 232.0L416.0 235.2L415.4 237.8L414.8 238.1L415.9 239.1L419.2 236.6L420.6 238.5L420.8 242.3L422.6 242.4L423.3 241.5L423.0 240.3L424.3 238.3L426.4 234.7L429.3 231.9L428.4 229.1ZM336.9 311.7L338.0 315.7L339.8 317.6L343.2 318.5L346.9 319.5L347.8 319.0L349.9 316.0L350.1 313.1L347.5 310.5L344.9 308.3L342.2 309.3L340.4 310.1ZM344.9 292.6L342.6 289.4L338.2 290.0L335.7 292.1L332.0 292.4L332.9 295.3L332.8 298.3L332.4 301.6L333.2 302.1L336.0 302.2L339.5 300.9L341.9 300.1L344.7 299.4L345.1 296.2ZM471.1 235.4L466.7 234.7L468.1 237.8ZM468.1 237.8L466.7 234.7L468.1 234.9L465.6 234.5L464.3 237.4L462.4 239.2L465.3 239.0ZM262.9 426.3L261.0 424.9L257.8 423.4L254.4 422.1L252.5 420.7L249.4 421.8L246.2 422.9L245.8 426.5L246.6 428.7L246.2 431.5L247.3 434.3L247.5 437.6L248.3 440.4L251.3 439.1L253.9 436.8L256.8 436.5L260.0 435.4L260.8 435.7L262.0 432.1L262.6 429.5ZM450.6 177.7L449.4 179.4L452.7 183.0L456.9 182.2L454.3 180.2L458.1 176.4L463.1 175.2L461.4 173.7L458.9 170.6L456.7 169.5L454.3 166.4L453.0 169.1L451.6 172.6L451.5 174.9ZM343.9 214.9L340.0 216.0L336.6 215.9L335.0 217.5L338.5 216.6L341.3 217.4L344.4 216.1ZM330.8 221.6L331.2 222.9L331.9 220.5ZM246.2 422.9L249.4 421.8L252.5 420.7L253.8 418.1L254.5 414.1L255.8 411.2L256.5 407.6L254.5 402.6L250.7 402.1L246.9 401.6L244.6 403.1L242.3 405.8L240.3 407.4L240.2 410.8L240.8 414.7L240.4 417.4L240.6 420.9L243.7 421.7ZM319.1 409.6L322.1 404.9L320.9 402.1L321.0 399.5L319.7 397.0L318.4 394.2L317.1 393.4L315.1 395.2L311.7 395.8L309.1 396.8L306.9 398.4L306.0 401.2L307.1 405.1L307.4 406.9L310.6 407.5L312.8 408.6L316.1 408.0ZM346.2 408.6L349.3 411.5L352.6 409.9L356.4 407.9L358.6 404.2L362.1 402.1L361.6 401.7L358.5 401.6L354.9 401.8L351.7 401.6L347.7 402.0L347.0 405.3ZM236.1 422.6L234.6 421.3L231.9 419.8L229.3 418.7L227.4 416.0L224.5 414.4L222.4 416.7L220.8 419.1L218.0 420.4L215.2 423.8L213.7 425.8L214.6 428.7L218.1 430.4L219.7 434.2L222.3 433.8L226.2 434.2L229.4 434.2L231.0 431.5L232.7 428.0L234.6 425.7ZM240.3 407.4L237.0 407.0L233.8 406.1L231.1 405.1L228.4 406.4L226.7 410.4L224.3 411.6L224.5 414.4L227.4 416.0L229.3 418.7L231.9 419.8L234.6 421.3L236.1 422.6L240.6 420.9L240.4 417.4L240.8 414.7L240.2 410.8ZM331.4 332.9L334.4 332.1L339.3 332.0L340.1 329.4L338.3 327.3L336.6 323.6L334.1 322.8L330.5 322.7L327.4 322.3L327.4 326.1L327.5 329.5ZM319.9 340.1L319.5 344.1L319.2 347.7L322.0 348.0L325.5 350.3L327.7 348.5L330.8 346.9L332.0 344.9L329.4 341.2L326.3 340.2L323.6 339.2L321.0 339.1ZM312.3 267.7L312.8 268.7L314.9 270.0L317.9 271.8L320.6 270.1L323.8 268.6L325.9 266.4L326.3 264.6L323.9 261.5L321.1 262.1L317.3 258.3L314.4 259.7L313.3 264.5ZM267.7 396.1L271.7 397.5L274.7 399.1L276.7 395.0L278.9 392.8L278.3 390.0L278.3 387.3L277.3 384.4L272.9 382.5L269.4 382.2L267.1 384.4L268.1 386.9L266.8 390.0L267.5 392.8ZM376.4 328.7L377.6 332.5L379.8 334.6L382.9 332.1L386.6 330.0L388.4 328.2L386.6 325.0L384.8 321.7L380.2 321.8L377.8 325.1ZM318.2 361.2L315.3 362.7L312.0 364.2L310.4 366.1L310.2 369.6L309.5 373.3L309.5 373.3L312.5 373.8L314.5 373.7L318.4 374.8L319.9 372.5L322.8 370.1L325.4 367.7L323.5 362.7ZM378.6 200.9L375.1 201.4L372.9 202.7L375.9 202.1L378.8 201.2ZM310.2 339.1L310.2 339.2L310.8 341.5L310.0 344.8L310.0 347.7L310.4 351.2L312.8 351.9L316.5 349.9L319.2 347.7L319.5 344.1L319.9 340.1L317.1 338.8L314.0 339.3ZM306.9 438.2L308.5 434.8L309.8 431.6L307.3 430.3L304.1 428.0L300.4 426.2L296.9 428.0L293.9 431.3L296.4 434.0L297.1 437.8L298.4 441.2L301.2 440.2L305.0 438.9ZM350.1 313.1L349.9 316.0L347.8 319.0L350.9 320.4L353.4 322.4L356.0 324.3L358.2 323.9L361.2 319.3L358.2 317.0L356.2 314.4L353.4 312.2ZM323.1 238.0L322.2 238.3L323.4 240.9L324.4 243.8L325.0 246.7L329.1 244.2L329.4 239.9L329.4 237.6L327.7 235.3L328.1 234.0L328.0 233.9L326.0 235.9ZM339.3 332.0L339.9 335.5L341.9 337.9L344.6 337.6L348.7 335.4L351.9 335.5L351.0 333.4L351.1 329.7L347.5 328.2L344.7 327.0L340.1 329.4ZM313.2 282.0L310.3 281.3L307.1 281.8L306.2 285.5L306.9 290.0L309.7 292.3L312.0 293.2L313.8 290.2L316.8 287.2L315.2 285.2ZM356.9 306.6L354.1 309.0L353.4 312.2L356.2 314.4L358.2 317.0L361.2 319.3L362.2 318.9L363.0 315.6L364.6 312.8L365.5 309.8L362.2 308.9L360.1 307.3ZM326.9 316.1L326.9 321.6L327.4 322.3L330.5 322.7L334.1 322.8L336.6 323.6L338.5 320.1L339.8 317.6L338.0 315.7L336.9 311.7L336.7 311.6L333.4 313.4L330.9 315.2ZM388.5 294.9L390.3 291.1L387.8 288.2L385.2 287.5L382.0 287.1L380.6 286.4L377.1 290.5L380.1 292.0L383.2 293.4L385.5 294.1L388.1 295.0ZM283.3 356.4L280.6 357.8L277.6 359.7L274.7 361.1L274.2 364.0L277.6 363.1L280.4 364.1L283.8 365.5L286.6 363.2L288.1 360.4L286.6 357.8ZM447.7 250.0L450.8 250.8L454.2 251.1L457.2 250.0L458.4 247.7L459.0 245.0L458.1 240.9L458.1 240.8L458.0 240.9L457.4 244.4L456.8 247.9L453.2 247.5L450.9 246.9L447.6 247.9ZM391.3 244.7L394.2 245.2L397.6 244.6L399.9 242.2L402.4 241.2L401.3 238.0L399.9 235.2L399.1 231.6L396.0 229.3L393.9 230.8L391.6 232.3L389.4 234.0L386.9 235.9L388.0 239.4L389.1 241.4ZM310.1 431.5L309.8 431.6L308.5 434.8L306.9 438.2L308.6 439.7L310.2 443.5L312.1 445.3L314.0 448.1L317.6 446.7L319.5 443.8L322.3 442.0L321.9 438.9L320.7 435.3L318.0 434.3L315.6 433.5L313.2 433.4ZM295.4 286.4L297.4 287.9L299.2 290.0L301.4 292.4L304.4 290.6L306.9 290.0L306.2 285.5L307.1 281.8L304.2 279.1L301.9 281.0L299.1 282.2L298.2 284.2ZM322.6 287.4L325.3 289.6L328.1 289.6L329.6 286.5L330.6 284.4L332.4 280.2L330.3 277.2L327.4 277.7L322.4 277.8L321.9 281.9L322.1 285.2ZM383.7 390.8L385.7 392.6L388.1 396.6L388.7 398.8L391.9 397.8L393.5 395.6L396.6 394.2L396.8 391.0L396.5 388.0L394.4 387.6L390.6 386.4L387.8 384.0L386.0 383.4L384.9 387.1ZM312.4 331.1L308.8 329.9L306.7 327.1L303.6 328.3L302.3 331.0L303.3 334.7L304.1 338.3L307.1 338.8L310.2 339.2L310.2 339.1L311.3 335.1ZM388.1 295.0L385.5 294.1L383.2 293.4L380.1 292.0L377.1 290.5L376.6 290.6L373.1 294.5L375.0 297.2L377.3 300.0L378.9 301.3L381.0 303.7L382.4 301.1L384.4 299.3L386.6 297.7ZM419.9 215.6L415.6 214.7L413.6 217.7L410.2 219.9L410.4 220.3L413.9 220.1L416.9 220.2L420.5 220.3L421.5 219.5ZM416.5 271.1L414.0 271.2L411.2 273.5L410.8 278.4L410.9 278.4L413.9 277.5L416.6 276.8L419.0 275.5L419.6 274.4ZM391.3 244.7L388.8 247.6L386.5 250.4L388.2 254.0L391.7 252.5L395.4 250.4L396.4 249.4L394.2 245.2ZM389.7 257.2L393.6 256.8L397.4 256.8L399.3 255.0L397.7 252.1L396.4 249.4L395.4 250.4L391.7 252.5L388.2 254.0ZM278.4 307.8L276.1 308.6L272.9 309.7L270.2 310.6L269.3 313.9L268.9 318.9L272.1 320.8L274.1 322.7L276.2 323.6L278.4 322.6L280.0 319.1L281.9 315.5L281.0 313.1L280.2 311.3ZM317.8 324.0L316.4 322.1L313.2 320.6L311.4 317.9L309.1 320.6L306.7 322.2L306.7 327.1L308.8 329.9L312.4 331.1L316.4 329.8L317.7 326.3ZM426.1 254.9L426.8 257.8L427.2 260.6L430.5 261.8L433.9 262.9L435.2 261.6L438.1 259.1L440.4 256.5L437.6 254.3L435.5 256.6L432.3 254.5L429.7 253.5L427.7 251.7ZM471.8 222.8L476.1 224.1L476.9 228.4L476.6 225.4L476.3 222.4ZM316.1 304.6L318.5 308.1L321.1 311.2L322.4 311.4L323.3 308.8L325.9 306.0L327.0 303.2L324.1 300.7L322.8 299.4L320.7 297.6L318.8 298.1L317.5 301.4ZM413.0 250.8L414.2 249.1L414.2 249.1L414.4 245.1L414.5 243.6L414.2 240.3L415.9 239.1L414.8 238.1L412.2 238.6L409.5 240.9L406.5 240.5L404.0 242.4L405.4 244.8L406.5 247.8L407.1 250.3L409.1 251.0ZM243.0 342.8L241.3 343.4L237.7 344.8L235.1 346.3L237.3 349.1L239.8 353.1L240.4 357.2L240.5 361.2L243.2 358.8L245.9 356.0L248.5 354.0L247.1 350.5L245.7 348.4L244.8 345.4ZM465.2 208.0L461.7 207.5L458.1 210.3L458.3 214.1L460.7 216.6L460.6 220.3L461.0 221.4L463.7 220.2L466.1 218.3L465.8 214.6L465.3 211.8ZM455.6 210.3L453.1 213.4L452.0 216.2L451.0 219.4L451.4 222.6L451.6 225.8L451.8 225.8L451.8 221.8L454.2 220.4L456.4 218.3L459.6 222.3L461.0 221.4L460.6 220.3L460.7 216.6L458.3 214.1L458.1 210.3L461.7 207.5L457.9 207.1ZM329.4 341.2L330.1 338.1L331.6 336.0L331.4 332.9L327.5 329.5L323.3 332.1L321.1 333.7L321.0 339.1L323.6 339.2L326.3 340.2ZM358.0 256.6L359.4 254.4L362.9 252.3L365.5 250.7L367.2 248.4L367.2 248.2L363.1 245.6L360.3 250.4L358.1 250.7L354.4 251.6L356.0 254.9ZM386.9 413.1L389.3 410.0L392.6 407.3L391.3 403.9L390.0 401.6L388.7 399.0L386.6 400.7L382.3 402.2L379.2 403.6L379.2 407.6L380.1 411.6L383.7 412.5ZM361.2 343.8L360.4 347.9L362.4 351.1L364.0 353.9L366.4 355.6L368.2 352.7L370.0 351.6L371.3 348.1L370.6 345.5L369.2 342.4L368.5 339.4L365.5 340.5L362.8 341.6ZM490.3 183.1L491.9 180.2L491.7 177.1L493.4 173.5L493.3 171.7L494.4 167.6L492.6 169.1L489.1 170.7L486.1 171.9L484.6 173.6L486.5 176.7L489.0 179.0ZM493.2 177.7L493.9 174.3L494.5 171.1L494.4 167.6L493.3 171.7L493.4 173.5L491.7 177.1L491.9 180.2L490.3 183.1L490.6 183.6L492.2 181.7ZM483.8 172.3L484.6 173.6L486.1 171.9L489.1 170.7L492.6 169.1L494.4 167.6L491.8 168.8L489.7 169.7L486.9 171.6ZM375.2 316.7L372.2 319.0L369.3 321.3L370.3 323.8L370.6 327.2L373.4 327.8L376.4 328.7L377.8 325.1L380.2 321.8L378.3 319.3ZM386.0 383.4L387.8 384.0L390.6 386.4L394.4 387.6L396.5 388.0L399.3 385.6L401.8 383.6L401.4 380.6L401.9 377.1L398.2 377.3L395.0 375.6L392.6 377.0L390.1 378.6L387.9 379.8L385.4 381.5ZM427.2 260.6L425.5 263.1L423.9 265.2L426.2 269.2L428.3 268.6L431.6 265.7L433.9 262.9L430.5 261.8ZM331.2 261.9L326.3 264.6L325.9 266.4L327.7 269.3L331.3 272.5L334.7 271.5L336.1 269.4L339.5 268.9L339.1 264.4L335.1 263.2ZM262.7 333.8L262.2 330.6L260.8 328.3L261.3 324.1L260.6 321.5L257.3 319.9L254.4 318.2L252.8 321.4L250.7 324.2L250.3 326.2L247.8 328.9L247.1 332.0L245.2 334.7L245.6 335.6L248.3 335.9L252.5 337.5L255.2 337.9L258.2 338.2L261.3 335.3ZM376.6 290.6L377.1 290.5L380.6 286.4L377.7 284.8L378.5 280.7L383.1 279.0L383.9 278.6L380.7 277.3L378.6 279.4L374.7 280.0L372.3 281.7L373.7 284.7L375.2 288.2ZM397.4 256.8L397.4 259.5L397.7 262.8L397.8 265.8L400.5 263.9L404.6 261.0L406.4 260.5L405.1 258.6L403.1 254.7L399.3 255.0ZM388.4 328.2L390.2 328.7L392.6 326.2L395.1 325.3L394.7 325.0L391.2 321.8L388.9 318.3L390.1 317.4L388.0 316.7L386.9 319.3L384.8 321.7L386.6 325.0ZM390.4 212.8L388.0 215.4L387.2 217.6L390.4 220.0L390.9 216.2ZM400.4 217.8L402.3 218.2L401.8 212.8L398.9 212.6L396.4 212.6L393.5 212.4L390.4 212.8L393.5 213.6L394.5 214.8L398.0 217.1ZM312.3 294.3L310.4 296.8L308.3 300.0L306.9 302.4L307.9 304.8L311.9 304.7L316.1 304.6L317.5 301.4L318.8 298.1L315.3 295.2ZM213.8 378.4L215.6 379.1L219.0 380.9L221.4 382.2L224.6 382.0L227.5 383.5L229.8 381.1L232.9 378.3L232.6 376.1L230.6 378.0L227.7 376.5L225.1 374.3L223.2 371.4L220.4 372.2L216.5 374.7L214.7 372.7L215.3 375.1ZM423.9 265.2L420.4 264.6L417.7 265.6L416.5 271.1L419.6 274.4L421.3 270.9L426.2 269.2ZM306.0 408.4L302.6 409.6L300.2 407.9L296.8 409.0L296.0 413.0L293.8 416.1L296.0 418.0L297.5 420.0L300.4 421.7L303.5 419.2L306.3 417.2L307.1 414.5L306.6 411.9ZM264.4 425.6L268.1 426.6L269.2 427.6L272.6 428.6L275.3 429.4L277.6 426.8L278.2 423.1L279.7 421.6L281.9 418.3L279.6 417.9L275.8 416.2L273.4 414.7L269.8 414.1L269.2 416.2L267.3 419.8L265.6 421.7ZM380.6 251.0L381.3 250.5L379.8 247.9L378.7 244.2L379.0 242.7L377.6 239.6L377.6 236.6L376.2 233.6L374.7 236.0L373.0 239.0L371.8 241.1L370.1 243.5L371.2 247.3L372.8 250.3L376.9 250.4ZM313.2 282.0L315.2 285.2L316.8 287.2L319.5 287.3L322.6 287.4L322.1 285.2L321.9 281.9L322.4 277.8L318.8 275.0L317.3 277.6L315.2 280.3ZM403.0 343.8L407.0 342.3L405.4 340.1L404.4 336.9L401.9 333.0L400.3 334.3L397.6 336.9L399.4 339.6L400.9 341.3ZM443.4 240.1L446.2 237.3L448.6 236.6L447.2 234.0L445.5 235.3L442.3 232.8L440.9 233.7L441.9 236.4L442.9 239.2L445.4 242.7L445.5 245.4L444.1 242.4ZM345.7 398.7L347.7 402.0L351.7 401.6L354.9 401.8L358.5 401.6L361.6 401.7L361.0 398.9L360.0 396.5L360.0 392.7L358.4 390.1L356.1 389.0L353.0 390.5L350.1 391.7L347.4 392.6L346.9 395.6ZM321.1 333.7L319.2 331.1L316.4 329.8L312.4 331.1L311.3 335.1L310.2 339.1L314.0 339.3L317.1 338.8L319.9 340.1L321.0 339.1ZM348.7 349.5L349.1 350.6L352.0 349.8L355.6 350.0L357.2 347.6L360.4 347.9L361.2 343.8L359.0 342.7L356.4 340.2L354.6 338.1L353.2 340.4L351.5 343.7L350.1 346.9ZM402.5 408.5L404.4 406.4L406.1 403.2L407.9 400.3L409.9 395.8L411.0 392.6L407.4 393.7L405.5 395.1L401.8 397.5L402.4 402.1L401.9 404.3ZM231.1 405.1L229.3 402.5L229.4 399.2L229.2 397.6L228.5 393.9L226.6 395.0L223.2 394.7L220.2 396.2L217.9 397.9L214.6 398.5L211.8 399.3L209.0 400.3L210.6 401.7L214.2 404.8L216.3 406.4L218.8 406.9L221.5 409.0L224.3 411.6L226.7 410.4L228.4 406.4ZM370.8 270.8L366.3 270.9L362.8 270.5L361.5 274.0L361.3 276.9L365.3 279.1L367.9 281.1L369.2 280.6L369.0 277.9L370.3 274.2ZM310.3 384.0L311.9 385.6L315.7 387.1L318.0 384.3L320.1 381.8L319.6 378.6L318.4 374.8L314.5 373.7L312.5 373.8L309.5 373.3L309.8 377.4L310.2 380.0Z"/>
<path fill="#ea8a62" d="M440.5 212.8L445.5 215.3L447.8 217.0L450.6 220.3L451.2 216.8L453.9 214.0L455.6 210.3L457.7 207.0L460.7 204.2L463.1 200.2L460.6 198.1L458.1 195.2L453.7 196.2L451.0 195.8L446.8 196.5L443.0 196.5L441.1 198.7L438.6 200.0L435.5 202.7L437.7 206.3L438.8 210.2ZM350.2 417.1L349.0 420.6L348.7 424.9L352.4 423.8L357.9 423.3L359.2 419.6L361.0 417.1L362.9 413.3L365.7 409.4L364.0 405.2L362.6 401.7L359.6 405.4L356.4 407.9L353.3 409.4L349.8 410.8L347.2 412.4L344.1 414.1L346.9 415.4ZM327.1 389.7L330.9 390.3L334.8 390.1L338.8 390.1L341.2 390.5L344.8 389.4L345.6 385.5L340.9 385.2L336.4 384.7L332.4 385.1L329.3 385.3L326.3 386.3ZM355.9 302.4L357.1 299.9L359.1 297.5L357.7 294.1L355.8 291.8L351.7 291.6L348.3 291.4L344.9 292.6L345.1 296.2L344.7 299.4L346.1 301.5L348.7 301.5L352.7 302.2ZM368.9 308.1L368.7 304.5L367.9 301.0L367.5 297.5L364.7 297.5L361.2 297.3L359.1 297.5L357.1 299.9L355.9 302.4L356.9 306.6L360.1 307.3L362.2 308.9L365.5 309.8ZM367.9 281.1L366.9 283.0L364.9 286.1L365.3 289.1L368.8 291.8L369.6 295.4L373.1 294.5L376.6 290.6L375.2 288.2L373.7 284.7L372.3 281.7L369.2 280.6ZM373.1 294.5L369.6 295.4L367.5 297.5L367.9 301.0L368.7 304.5L368.9 308.1L372.8 308.7L375.6 310.8L379.4 309.5L381.0 307.7L381.0 303.7L378.9 301.3L377.3 300.0L375.0 297.2ZM362.2 318.9L366.4 320.0L369.3 321.3L372.2 319.0L375.2 316.7L375.3 314.0L375.6 310.8L372.8 308.7L368.9 308.1L365.5 309.8L364.6 312.8L363.0 315.6ZM390.2 328.7L391.7 331.1L393.2 334.0L394.4 337.2L397.6 336.9L400.3 334.3L401.9 333.0L400.4 330.2L399.1 327.6L395.1 325.3L392.6 326.2ZM291.6 327.9L291.8 328.8L295.5 329.2L298.5 331.1L302.3 331.0L303.6 328.3L306.7 327.1L306.7 322.2L304.0 321.3L301.0 320.5L298.6 319.8L296.8 322.0L293.7 322.4L292.9 324.1ZM366.4 355.6L366.4 355.8L366.6 356.0L369.8 356.9L372.3 356.5L375.8 357.6L378.3 358.8L381.2 359.3L382.7 357.2L382.6 354.8L381.3 351.3L380.5 348.4L379.9 347.9L377.1 347.8L374.5 348.2L371.3 348.1L370.0 351.6L368.2 352.7ZM354.7 366.0L354.4 363.6L355.0 360.1L353.6 357.7L351.3 355.7L348.7 354.0L346.5 355.6L343.7 357.5L340.7 359.1L341.4 363.1L340.7 367.0L344.1 368.0L345.9 367.7L349.1 367.7L352.2 368.2ZM372.7 417.5L372.8 418.1L375.4 419.4L377.9 421.1L381.0 422.7L382.2 424.2L385.7 425.8L388.3 423.7L390.2 421.9L388.3 419.0L387.9 415.8L386.9 413.1L383.7 412.5L380.1 411.6L377.0 413.0L375.2 415.3ZM298.4 441.2L297.1 437.8L296.4 434.0L293.9 431.3L290.2 430.7L288.5 431.9L284.9 433.9L282.9 435.9L284.4 438.8L284.9 441.1L286.5 444.7L289.6 444.7L294.1 446.5L296.9 444.9ZM411.9 390.4L412.9 387.8L413.8 384.5L415.3 382.5L416.6 378.6L414.4 378.2L410.0 377.3L407.0 375.9L403.9 375.1L401.9 377.1L401.4 380.6L401.8 383.6L404.4 384.3L406.5 386.7L409.5 387.8ZM325.4 367.7L328.0 369.7L330.2 370.9L332.7 372.6L334.4 371.9L338.1 370.6L340.7 367.0L341.4 363.1L340.7 359.1L336.3 356.6L332.8 357.6L329.5 357.7L326.1 359.3L323.5 362.7ZM344.2 450.8L345.2 450.4L347.7 448.8L350.4 447.9L353.4 446.8L356.1 446.1L358.1 444.0L355.2 443.0L353.0 440.2L350.0 439.1L348.1 438.1L345.5 439.7L344.5 443.1L341.7 445.1L342.5 447.1ZM378.6 337.1L379.7 335.8L379.8 334.6L377.6 332.5L376.4 328.7L373.4 327.8L370.6 327.2L368.6 329.9L365.2 332.6L367.8 336.5L368.6 339.2L371.9 338.8L375.2 338.0ZM402.5 297.6L403.6 296.5L403.5 293.2L404.0 289.7L403.6 289.4L402.2 284.5L400.5 289.4L398.2 292.3L396.0 294.2L393.9 296.8L397.5 297.3L400.4 297.5ZM344.9 308.3L347.5 310.5L350.1 313.1L353.4 312.2L354.1 309.0L356.9 306.6L355.9 302.4L352.7 302.2L348.7 301.5L346.1 301.5L345.9 305.0ZM358.2 323.9L356.0 324.3L352.4 327.2L351.1 329.7L351.0 333.4L351.9 335.5L354.4 337.3L356.5 335.8L359.2 333.3L362.7 331.7L361.2 329.9L359.8 325.9ZM411.7 296.7L414.1 292.9L412.1 292.6L409.6 292.2L406.3 291.7L404.0 289.7L403.5 293.2L403.6 296.5L408.3 296.0Z"/>
<path fill="#dc503c" d="M428.0 229.1L431.6 230.0L435.5 230.3L437.1 225.8L438.0 222.8L441.3 219.4L444.3 216.5L440.5 212.8L435.8 214.5L433.0 216.5L429.8 218.7L426.9 220.8L424.2 222.8L426.9 225.5ZM414.2 249.1L419.2 251.6L420.7 248.2L421.7 245.4L420.8 240.9L419.2 236.6L414.2 240.3L414.2 244.7ZM383.9 278.6L387.2 276.7L389.5 272.0L391.5 270.5L388.8 267.1L386.2 264.0L384.9 263.9L381.9 266.0L379.2 268.1L376.0 270.0L377.5 272.9L379.0 276.0L380.7 277.3ZM369.6 295.4L368.8 291.8L365.3 289.1L364.9 286.1L362.1 286.8L357.4 286.9L355.8 291.8L357.7 294.1L359.1 297.5L361.2 297.3L364.7 297.5L367.5 297.5ZM399.8 309.8L402.8 306.8L403.9 305.5L403.2 301.6L402.5 297.6L400.4 297.5L397.5 297.3L393.9 296.8L393.6 297.1L393.0 296.9L392.8 300.3L393.1 303.8L393.0 307.3L395.4 308.5ZM404.5 365.3L405.4 362.5L408.3 359.3L409.6 357.1L410.8 352.9L408.0 352.4L405.1 352.2L401.2 350.6L400.9 353.1L400.7 356.7L400.3 358.9L398.9 362.1L400.7 363.7ZM396.6 394.2L398.1 395.7L401.8 397.5L405.5 395.1L407.4 393.7L411.0 392.6L411.9 390.4L409.5 387.8L406.5 386.7L404.4 384.3L401.8 383.6L399.3 385.6L396.5 388.0L396.8 391.0ZM401.2 350.6L405.1 352.2L408.0 352.4L410.8 352.9L414.0 351.9L413.1 349.9L410.6 347.4L408.9 344.2L407.0 342.3L403.0 343.8L400.9 347.0L400.9 350.1ZM390.8 343.5L387.7 345.0L386.1 345.5L383.3 347.3L380.5 348.4L381.3 351.3L382.6 354.8L382.7 357.2L386.2 357.0L388.5 356.2L389.6 353.3L391.0 351.0L393.6 348.6L392.9 345.5ZM341.7 445.1L344.5 443.1L345.5 439.7L348.1 438.1L347.5 433.7L346.7 430.6L343.7 431.0L340.0 431.0L337.9 431.3L334.8 431.5L334.7 435.0L333.3 438.3L333.1 441.6L331.8 445.1L335.4 446.0L337.5 444.9ZM361.3 276.9L361.5 274.0L362.8 270.5L359.9 266.9L355.2 267.7L352.2 269.3L350.9 271.4L351.8 274.9L352.7 276.9L354.4 279.8L358.8 278.5Z"/>
<path fill="#a3172a" d="M269.1 372.4L272.9 375.5L275.6 377.5L279.1 379.3L282.4 378.2L285.3 376.3L291.5 375.5L295.3 380.1L297.3 383.3L298.4 386.3L301.5 384.7L301.1 381.1L300.7 377.0L298.6 373.6L296.1 370.9L295.3 366.2L299.2 362.4L303.1 361.2L306.9 360.1L311.5 357.7L310.8 353.9L307.9 351.9L303.8 349.3L298.4 346.2L297.6 350.8L295.0 355.1L293.0 358.5L288.4 360.1L286.2 362.9L283.8 365.5L280.4 364.2L277.6 363.1L271.4 364.7L268.3 369.3ZM251.3 360.8L257.5 361.6L262.9 360.1L262.9 356.2L257.5 354.7L254.4 350.0L251.7 353.5L249.0 357.0ZM373.0 269.1L372.4 266.9L372.2 264.3L371.0 260.7L366.6 261.0L364.5 261.1L361.2 262.4L359.9 266.9L362.8 270.5L366.3 270.9L370.8 270.8ZM372.3 281.7L374.7 280.0L378.6 279.4L380.7 277.3L379.0 276.0L377.5 272.9L376.0 270.0L373.0 269.1L370.8 270.8L370.3 274.2L369.0 277.9L369.2 280.6ZM343.0 284.8L342.6 289.4L344.9 292.6L348.3 291.4L351.7 291.6L355.8 291.8L357.4 286.9L356.5 283.7L354.2 280.3L351.0 280.8L349.0 282.3L345.5 284.5ZM381.0 307.7L383.8 308.1L386.9 310.4L389.1 308.8L393.0 307.3L393.1 303.8L392.8 300.3L393.0 296.9L388.4 295.2L388.5 294.9L388.1 295.0L386.6 297.7L384.4 299.3L382.4 301.1L381.0 303.7ZM375.6 310.8L375.3 314.0L375.2 316.7L378.3 319.3L380.2 321.8L384.8 321.7L386.9 319.3L388.0 316.7L387.1 313.9L386.9 310.4L383.8 308.1L381.0 307.7L379.4 309.5ZM340.1 329.4L344.7 327.0L346.5 322.8L346.9 319.5L343.2 318.5L339.8 317.6L338.5 320.1L336.6 323.6L338.3 327.3ZM413.4 365.9L414.6 362.3L417.3 359.5L418.7 357.7L415.4 353.9L414.0 351.9L410.8 352.9L409.6 357.1L408.3 359.3L405.4 362.5L404.5 365.3L405.1 366.2L409.4 364.9ZM395.0 375.6L393.1 371.4L392.1 368.2L389.6 368.4L385.9 368.1L384.8 371.4L385.0 374.1L384.5 377.0L383.1 379.6L385.4 381.5L387.9 379.8L390.1 378.6L392.6 377.0ZM403.9 375.1L404.4 372.0L405.6 368.9L405.1 366.2L404.5 365.3L400.7 363.7L398.9 362.1L397.5 362.3L395.6 366.0L392.1 368.2L393.1 371.4L395.0 375.6L398.2 377.3L401.9 377.1ZM416.6 378.6L418.0 375.2L419.0 372.7L417.4 370.7L414.7 368.8L413.4 365.9L409.4 364.9L405.1 366.2L405.6 368.9L404.4 372.0L403.9 375.1L407.0 375.9L410.0 377.3L414.4 378.2ZM388.5 356.2L391.6 358.2L395.5 360.0L397.5 362.3L398.9 362.1L400.3 358.9L400.7 356.7L400.9 353.1L401.2 350.6L400.9 350.1L397.6 349.6L393.6 348.6L391.0 351.0L389.6 353.3Z"/>
<path d="M17.3 209.5L19.0 211.2L20.9 212.3L22.7 214.0L24.5 215.7L24.6 218.3L25.4 220.2L24.9 222.9L24.5 225.1L25.7 227.1L25.4 230.1L27.0 231.5L29.0 232.5L29.8 235.0L31.4 236.7L33.6 237.7L36.3 239.0L37.0 240.7L37.3 242.6L38.6 246.0L39.2 248.5L38.9 250.4L38.2 252.1L38.6 255.8L37.8 257.8L38.0 260.0L38.0 260.0L37.9 262.5L37.2 265.1L37.5 267.0L37.0 269.5L37.0 271.6L35.8 274.2L33.9 277.4L33.1 279.3L30.7 278.8L28.3 276.4L28.0 278.9L27.5 281.6L27.3 284.0L26.6 286.5L26.4 288.9L27.3 291.6L27.4 293.8L29.3 296.6L31.2 298.7L32.9 299.7L35.1 301.5L36.4 303.8L37.5 305.3L39.3 307.2L40.8 308.7L41.8 310.2L43.6 311.9L44.7 314.0L48.0 313.5L49.8 313.6L53.4 313.0L55.0 315.3L56.8 317.2L57.4 319.6L60.1 321.7L61.1 324.3L63.3 325.7L65.8 327.4L66.5 328.4L67.9 331.4L69.9 333.8L70.7 336.2L71.0 337.2L73.2 338.8L74.5 341.0L75.6 342.9L77.2 344.8L80.1 346.8L80.1 348.6L82.6 350.5L84.2 352.6L87.1 353.4L89.3 353.0L91.9 353.8L94.9 355.5L96.8 356.8L99.7 356.7L101.4 358.0L105.5 357.8L107.0 358.4L109.3 359.3L110.0 362.1L110.2 364.4L111.2 367.0L112.6 365.1L114.5 363.3L115.5 361.9L118.0 360.3L120.3 360.0L123.2 359.5L124.8 359.3L127.0 361.0L128.2 362.3L130.0 363.6L131.1 365.7L133.6 366.3L135.4 368.0L136.7 369.3L137.8 371.9L138.9 372.8L140.1 376.0L141.2 377.6L143.2 378.1L145.4 378.9L147.3 378.4L149.4 379.4L152.3 379.6L154.7 380.5L156.4 379.7L159.1 378.0L160.1 375.9L162.4 375.7L164.6 375.6L166.8 374.4L168.9 373.6L172.3 373.3L173.3 373.4L175.9 371.9L178.4 373.1L179.8 372.7L183.6 373.6L185.8 373.8L187.3 374.8L190.3 375.7L193.2 375.1L195.6 373.3L198.0 373.8L200.9 375.7L200.9 377.5L202.5 379.6L202.0 382.0L203.0 385.5L202.9 387.3L203.3 390.7L202.6 393.0L203.6 395.0L202.9 397.6L203.1 400.3L200.1 401.4L199.4 403.0L197.7 402.4L195.1 404.3L193.1 405.3L192.0 407.6L192.0 409.9L189.9 412.2L188.9 414.5L187.6 416.6L186.8 419.1L188.2 419.4L191.4 420.0L193.2 420.2L195.7 420.0L198.1 420.4L198.9 421.9L200.0 425.2L200.4 426.3L202.1 428.4L203.1 430.4L203.0 432.2L202.1 435.5L201.6 438.3L200.6 440.4L203.1 441.1L205.5 442.1L208.1 442.9L208.7 446.2L209.3 447.9L210.9 448.3L215.0 448.6L215.9 449.2L219.4 449.2L220.6 452.9L223.9 452.4L225.7 452.9L225.0 450.9L225.5 448.5L225.9 445.2L225.7 442.9L228.3 442.7L231.2 441.6L233.4 441.2L235.7 440.4L238.2 439.7L240.6 440.3L243.7 440.0L245.6 440.9L248.2 440.4L250.3 438.8L252.9 438.3L255.9 436.5L257.0 437.1L260.0 435.4L262.7 437.0L264.8 437.5L266.1 438.2L268.8 439.0L271.3 440.4L270.9 443.6L271.9 445.9L272.5 447.9L274.2 448.5L276.7 449.2L278.7 451.4L281.2 452.9L283.4 453.1L285.1 454.2L287.6 455.5L289.6 455.6L292.0 454.8L294.1 455.0L297.3 456.5L298.5 457.1L301.4 456.7L302.9 459.3L302.6 462.0L303.5 464.3L303.9 466.7L305.9 465.4L308.9 465.5L309.0 463.5L309.7 461.2L309.6 458.7L310.1 456.7L312.7 455.9L315.1 455.1L317.7 454.2L319.5 454.4L322.7 454.2L325.6 454.3L327.0 453.4L330.5 453.7L333.0 454.3L335.2 454.2L337.9 452.9L340.1 452.9L343.1 451.2L345.2 450.4L347.1 449.3L350.3 448.4L351.2 447.5L353.2 446.4L355.3 445.4L356.5 444.7L358.7 443.1L360.7 441.9L363.3 441.4L365.3 440.4L367.0 439.1L369.1 438.5L370.9 437.5L372.9 435.4L374.8 434.3L376.6 432.8L377.9 431.4L380.4 430.4L382.1 428.7L383.6 426.6L384.9 425.9L387.6 424.3L389.0 422.8L390.9 421.4L392.3 419.3L394.7 417.9L396.4 416.8L397.9 415.3L399.9 412.8L400.4 411.4L401.7 409.7L403.3 408.7L404.6 405.0L405.3 403.5L406.7 401.1L407.9 400.3L408.7 398.1L409.9 395.5L410.0 393.0L411.0 392.1L411.6 390.0L412.9 387.8L413.4 385.0L414.6 383.1L415.9 382.4L416.3 379.4L416.7 377.6L418.0 375.2L418.9 373.1L419.5 371.1L420.5 368.9L420.9 367.1L422.2 364.7L423.0 362.7L422.1 361.0L420.0 359.2L418.9 358.0L416.7 355.7L415.4 353.9L414.0 351.9L412.9 349.0L411.2 347.8L410.8 346.1L408.7 344.1L406.8 341.6L405.4 340.1L404.0 338.5L403.9 335.6L402.9 333.3L401.6 331.3L399.5 329.9L399.1 327.6L396.1 325.9L394.7 325.0L393.0 323.5L391.2 321.8L388.9 318.3L391.4 317.4L393.6 314.9L396.0 312.8L398.2 311.4L400.8 308.8L402.8 306.8L405.0 305.0L406.3 302.7L409.2 302.6L410.9 301.0L412.5 299.8L415.3 298.9L417.5 298.1L417.4 294.9L417.5 293.2L415.2 292.7L412.1 292.6L409.6 292.2L406.3 291.7L403.6 289.4L403.0 286.5L402.2 284.5L401.2 286.4L400.5 289.4L398.2 292.3L396.9 293.6L395.2 295.7L393.6 297.1L392.0 296.2L388.4 295.2L389.3 292.9L390.3 291.1L387.8 288.2L385.1 287.5L382.0 287.1L379.8 286.3L377.7 284.8L378.5 280.7L380.9 280.0L383.1 279.0L384.4 278.4L387.2 276.7L388.2 275.4L389.5 272.0L392.3 270.7L394.7 268.0L396.6 266.3L397.9 264.9L400.5 263.9L401.8 262.4L404.6 261.0L408.6 259.9L411.5 262.8L410.1 265.6L408.6 268.6L407.8 270.3L406.3 273.2L405.3 276.0L403.2 278.4L404.6 280.4L407.1 279.1L409.0 278.2L410.9 278.4L413.9 277.5L416.5 276.8L419.0 275.5L420.0 273.6L421.3 270.9L423.5 270.1L425.9 269.3L428.3 268.6L429.4 267.2L431.8 265.0L434.5 263.5L435.2 261.6L437.0 259.2L439.1 257.7L441.0 255.8L443.1 254.4L445.6 251.3L446.8 250.0L449.6 250.1L452.5 250.6L454.2 250.9L457.2 250.0L458.4 247.7L458.1 245.3L457.8 242.7L458.1 240.3L461.0 239.5L462.6 240.0L465.6 238.5L468.1 237.8L470.1 236.5L471.3 234.6L473.8 232.9L475.8 231.9L477.1 230.3L477.0 227.3L476.1 225.0L476.5 223.6L476.1 221.0L475.4 219.2L475.6 216.5L475.5 214.3L476.8 211.7L477.7 210.2L478.1 207.8L480.6 206.9L482.7 205.2L485.1 204.9L487.4 204.5L490.2 202.7L489.5 201.1L490.1 198.7L489.9 195.7L490.4 193.7L489.8 190.9L489.6 188.8L489.4 186.4L490.4 184.2L491.4 181.5L491.4 179.4L493.2 177.7L494.4 175.3L493.3 172.1L494.1 170.3L494.4 167.6L492.2 168.9L489.2 169.5L487.6 170.7L486.0 171.7L483.1 172.7L480.7 174.1L479.6 175.7L477.0 176.7L475.6 178.9L473.3 178.0L470.1 178.3L468.1 176.7L466.1 175.5L463.1 175.2L460.7 173.8L459.0 172.5L457.7 168.9L456.2 168.4L454.3 166.4L451.3 165.7L450.0 166.6L447.5 165.7L444.3 165.0L443.0 165.1L441.5 163.1L439.6 161.5L439.0 158.5L438.1 156.6L436.2 154.6L435.5 152.6L435.2 150.6L433.3 148.0L432.0 145.9L430.5 143.8L429.1 142.2L429.2 139.1L426.9 137.7L426.4 135.9L425.5 133.8L423.5 133.7L420.5 131.5L419.7 131.3L417.1 130.5L415.0 129.1L412.9 128.8L410.3 128.8L408.1 129.3L404.9 130.4L402.1 130.1L400.7 130.6L397.9 131.3L396.0 134.1L394.7 134.6L393.2 136.0L391.5 138.4L389.9 140.1L390.5 142.7L390.4 145.8L391.8 147.6L392.3 150.4L392.9 152.6L392.1 154.9L390.5 156.1L390.2 158.2L387.5 160.0L386.6 161.7L385.3 163.9L383.5 165.3L382.9 167.6L380.5 168.3L377.5 167.2L375.2 169.1L372.3 168.7L370.3 168.6L367.8 168.9L366.7 170.5L365.4 172.5L365.4 174.6L363.9 177.5L362.6 179.6L362.4 181.8L361.5 183.9L363.0 186.1L362.8 188.9L364.8 188.1L368.5 188.2L370.8 188.7L373.0 189.1L374.8 188.6L377.7 187.8L380.4 187.7L383.2 188.8L385.0 189.8L387.6 190.9L389.4 190.8L392.4 192.7L391.9 195.3L392.8 197.0L392.6 199.3L391.6 201.5L390.0 199.5L387.5 199.8L384.3 200.9L382.2 200.5L379.1 201.0L377.1 200.7L375.1 201.4L374.1 202.8L371.0 202.7L369.0 205.3L367.5 206.1L366.0 206.2L363.6 208.1L361.3 209.4L357.9 210.8L356.3 211.7L354.2 212.1L352.0 213.9L349.8 214.2L348.1 214.6L345.4 214.7L343.1 215.3L341.5 214.5L338.9 215.7L336.6 215.9L335.3 217.4L333.0 220.2L330.8 221.6L331.8 224.3L332.7 226.6L333.7 229.4L330.6 231.5L328.9 233.2L326.3 235.1L325.7 236.0L323.1 238.0L321.3 238.5L318.2 239.5L315.6 240.3L313.4 240.9L310.9 240.7L308.4 240.2L307.1 239.7L304.7 241.3L301.8 239.4L300.3 240.2L298.0 240.0L295.9 241.3L292.3 240.5L291.8 241.6L288.8 242.1L286.2 241.8L283.9 242.2L281.3 242.9L278.2 243.9L276.8 243.8L275.0 242.5L272.7 242.3L270.9 241.0L268.0 240.0L266.1 239.4L263.5 236.6L261.5 236.4L260.1 235.3L257.5 234.2L255.0 232.2L252.6 233.2L249.7 231.6L248.6 230.3L245.9 228.8L244.0 228.4L241.0 228.5L239.0 228.3L237.5 227.1L235.4 226.0L232.1 225.5L229.4 225.8L226.9 224.0L224.3 223.5L222.8 223.6L220.6 222.0L218.6 221.8L216.0 220.7L215.5 217.7L216.1 214.6L214.7 212.0L214.2 208.9L214.7 207.7L213.8 206.0L213.1 203.3L211.5 201.8L209.3 200.4L207.4 199.3L205.6 198.0L203.5 196.1L201.6 194.6L202.9 195.4L201.1 194.6L199.0 192.7L196.5 191.8L195.2 189.6L193.0 189.3L191.6 188.3L189.1 188.5L186.5 187.7L184.5 186.7L183.2 184.5L181.7 182.9L182.5 180.4L184.0 179.0L185.8 177.2L186.4 175.6L188.4 173.2L188.6 170.8L189.3 168.8L189.7 166.4L189.4 163.6L188.3 161.3L186.9 159.1L185.7 157.0L184.8 154.2L183.6 152.0L182.2 150.1L180.6 148.0L179.3 146.1L177.8 144.3L178.3 141.8L176.4 138.1L176.8 135.6L174.8 134.9L172.9 133.9L170.1 134.3L167.2 135.2L165.0 135.9L163.3 137.2L161.7 138.1L158.5 139.5L157.8 141.4L156.9 143.8L156.0 145.7L155.5 147.9L154.7 150.1L151.8 150.0L149.6 148.7L147.4 147.9L145.0 147.2L143.1 145.6L141.5 144.2L139.1 142.3L137.3 141.4L136.5 143.5L134.8 144.3L131.9 147.0L129.8 147.0L128.5 150.0L127.6 150.2L125.3 152.2L123.8 153.9L123.8 156.5L123.8 158.8L121.0 157.4L119.9 154.9L117.3 153.9L115.2 154.2L112.7 154.3L110.7 153.2L107.4 153.4L106.0 152.3L103.5 152.6L104.7 155.4L104.1 157.5L103.8 159.8L104.5 161.6L103.8 164.1L102.8 166.4L102.6 168.4L101.6 171.3L99.3 173.1L98.2 172.7L96.5 175.1L93.9 176.1L93.3 178.9L92.0 181.9L89.7 182.0L86.6 181.7L84.2 181.2L81.4 181.9L78.2 181.5L76.9 182.2L74.1 182.2L72.7 183.2L70.5 183.0L67.9 182.9L65.5 182.3L63.5 180.9L61.3 180.6L59.2 180.0L57.1 180.9L54.1 181.0L51.8 181.8L50.0 181.0L47.6 181.9L46.8 180.4L44.0 179.1L42.9 177.1L40.9 176.1L37.4 176.0L35.5 176.3L32.9 176.8L30.2 176.7L28.0 178.9L25.8 179.3L23.5 180.9L23.7 183.9L21.9 185.7L21.6 188.4L21.6 191.5L21.0 194.0L20.0 196.7L21.2 198.9L20.0 202.2L19.5 205.0L18.3 208.0Z" fill="none" stroke="#66696c" stroke-width="1.3"/>
<path d="M290.1 475.5L295.1 471.2L302.6 469.5L310.1 470.5L313.9 474.3L313.2 480.5L308.9 486.0L301.4 489.3L293.8 488.0L289.6 483.0Z" fill="#f8e9d3"/>
<path d="M295.1 471.2L297.6 480.0M301.4 469.5L299.6 479.3M308.9 470.5L305.6 479.5M292.1 478.5L297.6 480.0M297.6 480.0L305.6 479.5M305.6 479.5L313.2 477.5M297.6 480.0L295.1 488.0M305.6 479.5L306.4 487.5" fill="none" stroke-width="0.6"/>
<path d="M86.4 198.9L97.9 200.7L97.4 205.9L87.5 201.8Z" fill="#f8e9d3" stroke-width="0.7"/>
<ellipse cx="36.3" cy="198.6" rx="1.6" ry="1.1" fill="none" stroke-width="0.7" transform="rotate(-25 36.3 198.6)"/>
<ellipse cx="63.5" cy="205.6" rx="2.4" ry="1.0" fill="none" stroke-width="0.7" transform="rotate(-25 63.5 205.6)"/>
<ellipse cx="111.5" cy="177.5" rx="1.2" ry="1.6" fill="none" stroke-width="0.7" transform="rotate(-25 111.5 177.5)"/>
<ellipse cx="121.5" cy="169.5" rx="1.6" ry="1.8" fill="none" stroke-width="0.7" transform="rotate(-25 121.5 169.5)"/>
<ellipse cx="139" cy="174" rx="1.2" ry="4.2" fill="none" stroke-width="0.7" transform="rotate(-25 139 174)"/>
<ellipse cx="166" cy="156.5" rx="2.2" ry="1.0" fill="none" stroke-width="0.7" transform="rotate(-25 166 156.5)"/>
<ellipse cx="128.5" cy="204" rx="1.6" ry="0.8" fill="none" stroke-width="0.7" transform="rotate(-25 128.5 204)"/>
<ellipse cx="200.5" cy="215" rx="2.2" ry="0.8" fill="none" stroke-width="0.7" transform="rotate(-25 200.5 215)"/>
<ellipse cx="207.5" cy="226" rx="1.1" ry="1.3" fill="none" stroke-width="0.7" transform="rotate(-25 207.5 226)"/>
<ellipse cx="51" cy="226.5" rx="0.7" ry="0.9" fill="none" stroke-width="0.7" transform="rotate(-25 51 226.5)"/>
<ellipse cx="59" cy="232" rx="1.6" ry="0.9" fill="none" stroke-width="0.7" transform="rotate(-25 59 232)"/>
<ellipse cx="417" cy="152" rx="1.6" ry="1.5" fill="none" stroke-width="0.7" transform="rotate(-25 417 152)"/>
<path d="M424.0 363.8h1.4v1.1h-1.4zM425.2 364.2h2.4v1.9h-2.4zM425.6 365.5h1.9v1.5h-1.9zM424.3 366.2h2.1v1.7h-2.1zM425.3 367.3h2.0v1.6h-2.0zM422.0 367.4h1.0v0.8h-1.0zM424.2 368.5h0.9v0.8h-0.9zM424.7 369.7h1.6v1.3h-1.6zM422.9 370.2h1.8v1.4h-1.8zM421.3 370.8h1.9v1.5h-1.9zM420.9 371.2h2.1v1.7h-2.1zM420.5 372.0h1.7v1.4h-1.7zM422.9 373.8h1.2v1.0h-1.2zM419.7 373.6h1.1v0.9h-1.1zM420.4 374.5h1.6v1.3h-1.6zM419.2 375.1h2.1v1.7h-2.1zM419.3 375.8h1.7v1.3h-1.7zM418.9 376.0h1.6v1.3h-1.6zM418.5 377.0h1.2v1.0h-1.2zM418.4 377.7h1.3v1.0h-1.3zM419.2 378.7h1.1v0.9h-1.1zM418.7 379.6h2.3v1.8h-2.3zM418.7 379.8h2.2v1.8h-2.2zM416.5 380.5h1.4v1.1h-1.4zM416.1 381.5h1.3v1.1h-1.3zM416.4 382.1h2.0v1.6h-2.0zM415.6 382.9h2.0v1.6h-2.0zM415.5 383.9h1.0v0.8h-1.0zM415.1 384.5h2.1v1.7h-2.1zM416.2 385.2h1.3v1.0h-1.3zM414.6 385.8h1.6v1.3h-1.6zM414.7 386.7h1.1v0.9h-1.1zM414.8 388.0h1.5v1.2h-1.5zM415.1 389.0h2.4v1.9h-2.4zM415.4 389.9h2.2v1.8h-2.2zM413.0 389.8h0.9v0.7h-0.9zM413.2 390.8h1.6v1.3h-1.6zM414.8 392.8h0.9v0.7h-0.9zM411.9 392.4h1.0v0.8h-1.0zM414.5 394.2h2.0v1.6h-2.0zM413.7 395.0h1.5v1.2h-1.5zM411.3 394.5h2.2v1.8h-2.2zM410.8 395.7h1.4v1.1h-1.4zM411.9 397.2h1.0v0.8h-1.0zM410.6 397.6h2.4v1.9h-2.4zM410.6 398.0h2.4v1.9h-2.4zM409.4 398.7h1.8v1.5h-1.8zM409.3 399.3h1.9v1.5h-1.9zM408.4 400.5h0.9v0.7h-0.9zM408.2 400.8h1.9v1.5h-1.9zM408.1 402.6h1.2v1.0h-1.2zM408.6 403.5h1.0v0.8h-1.0zM406.7 403.6h2.0v1.6h-2.0zM408.0 404.9h1.1v0.9h-1.1zM405.8 405.4h2.1v1.7h-2.1zM407.4 407.4h2.3v1.8h-2.3zM405.3 407.5h2.1v1.7h-2.1zM406.3 409.4h2.4v1.9h-2.4zM404.1 408.7h1.0v0.8h-1.0zM403.5 409.6h2.5v2.0h-2.5zM404.4 410.9h1.2v1.0h-1.2zM403.4 411.9h1.4v1.1h-1.4zM401.4 411.5h1.7v1.4h-1.7zM401.7 413.0h1.1v0.9h-1.1zM401.9 413.8h1.7v1.3h-1.7zM401.4 414.9h1.3v1.0h-1.3zM399.5 414.6h1.1v0.9h-1.1zM398.5 416.0h1.2v1.0h-1.2zM397.7 416.0h1.4v1.1h-1.4zM397.5 418.5h1.5v1.2h-1.5zM395.9 417.9h2.0v1.6h-2.0zM395.9 418.9h1.7v1.3h-1.7zM394.1 419.9h2.3v1.8h-2.3zM393.1 420.6h2.4v1.9h-2.4zM394.1 422.0h2.5v2.0h-2.5zM391.6 422.0h2.1v1.6h-2.1zM392.1 423.8h1.8v1.5h-1.8zM392.1 426.1h1.8v1.4h-1.8zM388.9 424.5h1.6v1.3h-1.6zM389.4 427.1h1.3v1.0h-1.3zM387.9 426.0h1.7v1.3h-1.7zM386.9 426.3h2.1v1.7h-2.1zM385.7 427.0h1.8v1.4h-1.8zM386.2 428.9h1.9v1.5h-1.9zM386.1 430.6h1.6v1.3h-1.6zM383.2 429.1h0.9v0.7h-0.9zM382.6 431.3h1.5v1.2h-1.5zM381.2 430.7h0.9v0.8h-0.9zM380.8 432.1h2.2v1.8h-2.2zM379.6 431.9h2.1v1.7h-2.1zM379.5 434.2h1.5v1.2h-1.5zM379.4 435.8h1.8v1.5h-1.8zM377.9 435.8h1.9v1.5h-1.9zM375.5 434.4h2.1v1.7h-2.1zM374.5 435.1h1.7v1.4h-1.7zM373.3 435.9h1.4v1.1h-1.4zM373.7 437.0h0.9v0.8h-0.9zM372.9 438.3h1.6v1.3h-1.6zM370.7 437.5h1.7v1.3h-1.7zM369.7 438.4h1.9v1.5h-1.9zM369.8 439.3h1.8v1.4h-1.8zM368.5 439.1h1.0v0.8h-1.0zM367.6 440.6h1.9v1.5h-1.9zM366.6 440.6h2.5v2.0h-2.5zM366.0 441.7h1.6v1.3h-1.6zM366.5 443.5h2.0v1.6h-2.0zM364.0 442.8h1.5v1.2h-1.5zM362.8 442.3h2.3v1.8h-2.3zM362.4 443.6h2.0v1.6h-2.0zM362.4 445.2h2.1v1.7h-2.1zM360.6 445.6h0.9v0.8h-0.9zM359.7 445.6h2.1v1.7h-2.1zM359.0 446.8h0.9v0.8h-0.9zM357.3 445.4h1.8v1.4h-1.8zM356.7 446.1h1.8v1.5h-1.8zM357.0 448.9h1.7v1.3h-1.7zM355.2 446.9h1.2v0.9h-1.2zM354.1 447.0h2.0v1.6h-2.0zM352.5 447.8h2.3v1.8h-2.3zM351.8 448.0h1.6v1.2h-1.6zM351.8 450.1h2.1v1.7h-2.1zM349.8 449.1h1.0v0.8h-1.0zM349.5 451.3h2.3v1.8h-2.3zM348.4 449.8h1.4v1.1h-1.4zM347.9 452.6h1.6v1.2h-1.6zM347.4 452.8h2.4v1.9h-2.4zM346.4 453.3h2.1v1.7h-2.1zM345.7 453.7h1.1v0.9h-1.1zM343.7 451.8h1.8v1.4h-1.8zM342.9 451.8h1.9v1.5h-1.9zM342.2 452.7h1.4v1.1h-1.4zM340.6 452.6h2.0v1.6h-2.0z" fill="#6a6d70" stroke="none"/>
<path d="M413.2 417.3L417.0 418.6L417.6 421.3L416.4 427.6L413.8 436.4L410.7 443.9L408.2 451.4L406.3 452.3L404.4 448.9L400.1 441.4L399.4 437.0L401.9 431.4L405.1 425.1L408.8 420.1Z" fill="#fff" stroke="#1c1c1c" stroke-width="1"/>
<path d="M394.0 436.6L395.8 435.9L396.3 438.1L394.5 438.6Z" fill="#444" stroke="none"/>
<path d="M423.2 436.4L425.4 424.5" fill="none" stroke="#222" stroke-width="1.1"/>
<path d="M411.3 463.3L418.2 454.2" fill="none" stroke="#222" stroke-width="1.1"/>
<path d="M395.0 492.8L400.7 482.1" fill="none" stroke="#222" stroke-width="1.1"/>
<rect x="431" y="399.2" width="64.6" height="95.6" fill="#fff" stroke="none"/>
<path d="M430.8 399.0L476.5 399.0L472.8 402.5L467.8 406.9L461.5 410.1L455.2 412.3L448.9 413.8L442.7 413.2L436.4 410.7L430.8 411.1Z" fill="#f2bf8c" stroke="#6a6d70" stroke-width="1.2"/>
<path d="M432.0 400.7L438.9 400.0L442.7 403.8L437.7 407.6L432.7 406.3Z" fill="#f8e2c0" stroke-width="0.5"/>
<path d="M438.9 401.9L443.9 401.3L445.2 405.0L440.8 406.3Z" fill="#ea8a62" stroke-width="0.5"/>
<path d="M450.2 401.3L457.7 400.7L460.2 405.0L454.0 407.6Z" fill="#f4c996" stroke-width="0.5"/>
<path d="M461.5 400.7L467.8 400.0L466.5 403.8L462.7 404.4Z" fill="#f0ad7e" stroke-width="0.5"/>
<path d="M445.2 410.1L448.3 408.8L449.6 413.2L447.1 415.1Z" fill="#f4c996" stroke="none"/>
<path d="M440.4 420.1L442.7 417.6L447.7 416.1L451.5 418.2L450.2 422.0L446.4 424.9L442.1 424.5L440.2 422.3Z" fill="#7c7f82" stroke="none"/>
<path d="M451.5 429.1h2.5v2.0h-2.5zM453.6 430.6h3.2v2.6h-3.2zM455.4 429.2h2.1v1.7h-2.1zM452.9 433.0h2.1v1.7h-2.1zM462.2 433.1h3.2v2.6h-3.2zM464.2 432.3h2.1v1.7h-2.1zM461.2 434.6h1.8v1.4h-1.8zM472.7 431.4h1.4v1.2h-1.4zM477.0 436.1h2.1v1.7h-2.1zM467.9 441.7h1.4v1.2h-1.4zM457.6 418.2h1.4v1.2h-1.4zM461.4 419.7h1.4v1.2h-1.4zM469.3 411.7h1.4v1.2h-1.4zM472.7 413.0h1.4v1.2h-1.4zM463.5 452.4h3.5v2.9h-3.5zM463.2 455.2h2.8v2.3h-2.8zM462.0 457.7h2.8v2.3h-2.8zM464.0 460.4h2.5v2.0h-2.5zM469.3 455.7h3.2v2.6h-3.2zM472.0 457.7h2.8v2.3h-2.8zM470.9 460.4h2.5v2.0h-2.5zM475.3 454.1h2.5v2.0h-2.5zM473.8 452.6h1.8v1.4h-1.8zM476.9 456.3h1.8v1.4h-1.8zM456.8 460.1h1.8v1.4h-1.8zM459.2 463.1h2.1v1.7h-2.1zM454.3 464.5h1.8v1.4h-1.8zM452.5 467.0h1.8v1.4h-1.8zM445.4 467.4h2.1v1.7h-2.1zM443.7 468.9h1.8v1.4h-1.8zM462.0 467.1h2.8v2.3h-2.8zM465.3 466.7h2.5v2.0h-2.5zM466.9 464.5h1.8v1.4h-1.8zM456.0 475.6h2.1v1.7h-2.1zM456.7 478.1h2.1v1.7h-2.1zM458.9 474.0h1.4v1.2h-1.4zM452.0 462.1h1.4v1.2h-1.4zM460.8 471.5h1.4v1.2h-1.4z" fill="#6c6e71" stroke="none"/>
<path d="M491.6 411.1L493.6 408.2" fill="none" stroke="#1a1a1a" stroke-width="1.7"/>
<path d="M484.7 424.7L486.8 420.1" fill="none" stroke="#1a1a1a" stroke-width="1.7"/>
<path d="M483.4 437.9L483.4 432.6" fill="none" stroke="#1a1a1a" stroke-width="1.7"/>
<path d="M482.2 455.2L484.1 450.2" fill="none" stroke="#1a1a1a" stroke-width="1.7"/>
<path d="M469.6 471.5L473.0 467.5" fill="none" stroke="#1a1a1a" stroke-width="1.7"/>
<path d="M453.3 486.9L458.7 485.4" fill="none" stroke="#1a1a1a" stroke-width="1.7"/>
<path d="M438.9 476.5L438.7 470.9" fill="none" stroke="#1a1a1a" stroke-width="1.7"/>
<path d="M446.4 454.3L447.7 449.2" fill="none" stroke="#1a1a1a" stroke-width="1.7"/>
<path d="M443.1 432.9L445.4 437.6" fill="none" stroke="#1a1a1a" stroke-width="1.7"/>
<path d="M484.1 400.3L487.8 399.8L493.5 402.5L494.7 406.9L491.6 407.8L487.8 405.0Z" fill="#fff" stroke="#222" stroke-width="0.8"/>
<rect x="431" y="399.2" width="64.6" height="95.6" fill="none" stroke="#111" stroke-width="1.35"/>
<path d="M340.7 487H375.2M340.7 483v8M358 483v8M375.2 483v8" stroke="#222" stroke-width="1.3" fill="none"/>
<text x="340.5" y="475.5" text-anchor="middle" font-family='"Liberation Sans", sans-serif' font-size="13.5" fill="#2b2b2b" stroke="none">0</text>
<text x="363" y="475.5" font-family='"Liberation Sans", sans-serif' font-size="13.5" fill="#2b2b2b" stroke="none">100 km</text>
<rect x="438" y="345.6" width="44" height="24" fill="#fff" stroke="#777" stroke-width="1"/>
<text x="490" y="363" font-family='"Liberation Sans", sans-serif' font-size="15" fill="#2b2b2b" stroke="none">No data</text>
</g>
<g transform="translate(513.5,-1.3)" stroke="#6a6d70" stroke-width="0.95" stroke-linejoin="round">
<path fill="#f5cdb8" d="M17.3 209.5L19.9 211.4L21.8 213.7L24.5 215.7L24.6 218.3L24.8 221.0L25.0 224.3L25.6 227.8L25.4 230.1L27.3 232.8L29.9 234.3L32.1 236.5L35.1 238.7L36.5 240.3L37.0 238.8L38.0 236.1L38.9 233.0L40.4 230.2L42.0 226.1L42.8 223.4L45.0 221.4L47.1 219.6L49.6 217.2L51.5 215.7L54.0 214.8L58.0 214.5L61.0 214.7L64.6 213.3L67.9 212.8L69.7 211.0L73.4 209.4L75.6 207.9L76.3 204.9L76.4 202.6L76.5 199.2L73.7 197.2L71.8 197.0L69.3 195.3L66.7 194.1L64.0 192.5L60.7 192.2L57.7 191.9L55.0 192.5L51.5 191.5L49.1 190.2L46.9 189.9L43.3 188.0L40.9 187.7L37.0 191.5L37.8 195.9L39.9 199.2L40.7 203.3L41.8 207.0L38.0 209.4L35.1 210.8L33.2 208.7L31.6 206.0L32.0 202.4L31.2 199.2L30.0 196.3L28.3 192.5L25.1 192.1L21.6 191.7L20.7 195.6L20.4 198.5L20.0 202.2L18.3 205.3ZM36.5 240.3L37.0 240.7L38.4 243.9L37.6 247.7L38.9 250.4L37.9 253.1L38.2 257.1L38.0 260.0L38.0 260.0L38.0 260.1L41.4 258.8L44.7 258.1L47.3 257.1L50.4 255.8L52.9 255.7L55.9 254.2L59.2 253.2L62.6 254.9L64.7 256.4L67.9 258.1L70.8 257.6L74.3 257.3L77.5 257.1L81.1 259.6L83.3 261.9L86.6 263.7L88.9 264.1L92.8 264.6L94.9 265.8L98.8 265.9L101.6 265.8L101.1 262.9L100.7 260.0L98.6 257.7L96.9 254.8L95.8 252.3L97.2 249.7L98.4 247.8L99.7 244.6L99.5 241.6L99.5 238.4L99.0 235.3L98.7 233.0L99.7 230.2L100.9 226.6L102.2 222.8L103.5 220.5L100.9 219.1L98.0 218.5L94.8 217.2L91.8 215.0L89.0 213.8L86.8 213.3L83.9 211.8L81.6 210.0L78.4 209.4L75.6 207.9L73.4 209.4L69.7 211.0L67.9 212.8L64.6 213.3L61.0 214.7L58.0 214.5L54.0 214.8L51.5 215.7L49.6 217.2L47.1 219.6L45.0 221.4L42.8 223.4L42.0 226.1L40.4 230.2L38.9 233.0L38.0 236.1L37.0 238.8ZM38.0 260.1L38.1 262.7L37.1 266.4L36.7 268.1L37.0 271.6L35.8 274.2L34.0 277.3L33.1 279.3L30.7 278.6L28.3 276.4L27.8 279.3L27.4 282.5L27.3 285.8L26.4 288.9L28.6 293.1L29.3 296.6L32.2 299.1L35.1 301.5L37.2 304.1L39.4 306.0L40.9 309.1L43.0 311.4L44.7 314.0L47.9 313.6L49.9 313.6L53.4 313.0L53.9 313.7L58.4 312.9L62.1 312.1L63.4 309.1L64.9 306.4L65.9 303.4L68.6 304.1L72.0 304.5L74.4 305.1L78.3 306.3L81.4 306.3L79.8 309.4L79.8 311.7L79.7 314.4L77.8 317.7L77.5 319.8L78.2 322.4L80.5 325.4L81.3 327.7L82.3 330.4L85.5 328.3L89.1 326.5L90.2 323.0L91.0 318.8L94.9 317.9L92.3 315.8L90.6 313.4L89.1 311.3L87.2 309.2L88.5 305.9L89.1 302.4L92.6 301.5L96.2 300.5L99.7 299.5L101.8 297.1L104.5 293.8L104.7 290.1L105.3 288.1L106.0 283.5L106.4 281.2L107.4 278.6L108.5 275.2L109.5 272.6L110.8 270.5L112.2 267.7L108.8 266.9L105.1 267.0L101.6 265.8L101.6 265.8L98.8 265.9L94.9 265.8L92.8 264.6L88.9 264.1L86.6 263.7L83.3 261.9L81.1 259.6L77.5 257.1L74.3 257.3L70.8 257.6L67.9 258.1L64.7 256.4L62.6 254.9L59.2 253.2L55.9 254.2L52.9 255.7L50.4 255.8L47.3 257.1L44.7 258.1L41.4 258.8ZM222.9 223.6L222.8 223.6L220.4 222.5L216.7 220.9L214.7 224.1L212.7 227.0L210.1 229.7L210.0 230.1L207.2 230.9L204.9 231.6L200.9 232.7L198.4 233.5L195.8 233.7L193.0 234.2L190.3 234.9L188.0 236.9L186.4 239.6L185.0 241.9L182.6 243.6L181.1 246.4L179.7 248.4L175.9 251.3L179.6 252.0L183.6 252.3L186.4 254.9L188.8 257.2L191.3 260.0L193.7 260.7L196.6 263.1L199.0 263.9L203.3 265.4L206.6 264.3L209.3 263.1L211.8 260.7L215.1 258.3L215.6 257.9L215.7 258.0L218.8 256.5L220.9 255.4L224.0 257.7L227.3 260.0L228.6 259.2L231.3 257.8L233.4 256.4L235.8 254.9L237.7 253.1L241.1 251.5L239.2 246.7L236.0 246.2L232.7 246.1L229.6 245.6L226.6 244.8L225.7 242.3L224.5 238.3L223.8 235.1L223.2 232.5L223.3 229.6L223.0 226.5ZM187.1 187.8L186.5 187.7L182.6 183.8L179.3 182.5L176.6 182.4L173.1 181.9L170.2 181.3L167.5 180.0L164.5 179.5L161.2 178.4L158.5 178.0L160.4 179.0L158.6 183.6L157.5 186.7L159.2 189.9L160.7 193.1L162.4 196.4L165.1 196.7L168.4 197.6L171.2 198.6L173.6 200.8L177.3 201.1L179.7 202.2L181.0 199.6L182.6 196.9L184.1 193.3L185.3 191.0ZM154.9 149.3L154.7 150.1L151.5 149.4L148.7 148.5L145.0 147.2L142.6 145.3L139.9 143.3L137.3 141.4L134.8 143.9L132.5 145.8L130.6 147.7L128.7 150.3L125.9 152.4L123.9 153.8L125.6 156.3L125.9 160.6L128.2 163.3L129.4 166.4L126.9 169.0L124.4 171.5L119.5 170.5L119.5 170.5L121.8 173.2L123.8 175.2L125.1 176.6L127.3 179.5L129.7 181.4L131.1 182.8L133.4 184.8L138.0 188.0L138.2 187.7L139.6 185.9L142.2 183.1L144.0 180.9L145.1 177.9L145.0 175.0L145.8 172.1L146.0 169.0L149.1 169.8L151.6 170.6L155.3 171.0L158.5 172.2L158.6 169.1L159.8 166.0L161.4 163.1L161.8 159.9L162.8 156.7L163.3 153.9L160.2 152.0L157.3 150.6ZM101.6 265.8L101.6 265.8L101.6 265.8ZM138.0 188.0L140.5 189.7L142.7 192.2L146.0 193.5L149.2 190.6L151.1 189.1L153.7 186.7L154.8 184.1L157.6 180.5L158.5 178.0L157.6 177.8L158.5 174.7L158.5 172.2L155.3 171.0L151.6 170.6L149.1 169.8L146.0 169.0L145.8 172.1L145.0 175.0L145.1 177.9L144.0 180.9L142.2 183.1L139.6 185.9L138.2 187.7ZM175.9 251.3L172.6 252.3L170.1 251.3L166.9 251.3L163.7 251.9L161.1 251.3L157.7 252.3L154.7 252.3L154.9 255.1L155.3 258.9L156.2 261.0L156.6 263.9L155.8 266.7L154.5 270.1L154.6 272.5L153.7 275.0L153.7 275.0L152.7 277.4L149.5 276.1L147.6 275.3L144.2 274.9L141.2 274.5L143.1 276.4L146.2 277.8L150.1 278.5L153.1 278.2L156.6 279.3L159.7 280.1L162.5 281.8L165.0 282.4L166.9 283.4L170.1 284.8L172.9 286.1L175.9 287.0L178.8 288.0L181.4 289.2L184.8 290.7L186.9 291.6L189.5 292.4L192.4 293.5L195.2 294.7L197.7 296.3L200.1 297.3L203.2 298.0L206.5 299.1L210.0 300.5L210.4 300.7L214.7 300.6L217.4 299.3L221.5 299.0L221.7 296.7L221.6 292.6L222.3 289.9L224.8 287.4L226.5 284.9L228.0 281.6L229.5 278.8L230.6 275.3L228.6 272.0L227.4 270.6L224.8 267.4L222.1 264.7L219.8 263.1L218.0 262.1L215.1 258.3L211.8 260.7L209.3 263.1L206.6 264.3L203.3 265.4L199.0 263.9L196.6 263.1L193.7 260.7L191.3 260.0L188.8 257.2L186.4 254.9L183.6 252.3L179.6 252.0ZM141.2 274.5L139.0 273.5L135.6 270.9L133.5 271.0L130.7 268.1L128.5 267.4L125.7 265.8L122.8 265.6L118.6 266.2L115.4 267.3L112.2 267.7L110.8 270.5L109.5 272.6L108.5 275.2L107.4 278.6L106.4 281.2L106.0 283.5L105.3 288.1L104.7 290.1L104.5 293.8L101.8 297.1L99.7 299.5L96.2 300.5L92.6 301.5L89.1 302.4L88.5 305.9L87.2 309.2L89.1 311.3L90.6 313.4L92.3 315.8L94.9 317.9L96.7 320.9L99.6 322.6L100.7 324.6L103.1 326.8L105.5 327.8L107.6 329.8L110.3 331.4L113.3 333.3L116.2 334.9L119.9 336.2L123.3 338.1L126.7 340.0L129.1 337.2L132.5 335.5L135.4 333.3L139.2 333.3L143.1 333.3L144.0 336.6L145.0 340.0L148.3 342.4L150.8 344.9L148.9 348.7L150.5 346.4L151.8 343.9L154.1 342.6L157.6 341.9L161.7 341.0L164.3 340.0L168.3 339.4L171.9 338.7L174.9 338.1L174.7 335.2L175.2 332.1L175.7 329.5L175.9 326.5L172.9 325.0L169.8 322.9L166.2 321.7L163.8 320.8L162.2 318.4L159.3 316.5L158.5 315.9L154.8 314.5L152.9 313.3L148.9 312.1L146.7 310.4L143.9 307.9L141.2 306.3L140.1 303.3L138.4 299.2L137.3 296.6L138.0 294.1L138.4 290.4L138.8 287.8L139.2 285.1L140.8 282.3L141.3 279.2L143.1 276.4ZM126.7 340.0L125.8 343.5L123.8 347.8L126.7 349.7L130.5 349.5L133.3 348.5L137.3 348.7L140.2 348.7L143.1 348.6L146.0 348.8L148.9 348.7L150.8 344.9L148.3 342.4L145.0 340.0L144.0 336.6L143.1 333.3L139.2 333.3L135.4 333.3L132.5 335.5L129.1 337.2ZM138.8 287.8L138.4 290.4L138.0 294.1L137.3 296.6L138.4 299.2L140.1 303.3L141.2 306.3L143.9 307.9L146.7 310.4L148.9 312.1L152.9 313.3L154.8 314.5L158.5 315.9L159.3 316.5L159.5 315.9L160.8 312.7L162.4 308.2L162.6 303.7L162.4 300.5L159.9 298.6L157.9 296.5L155.7 294.7L152.7 292.8L149.2 291.7L147.7 290.9L145.1 290.2L141.5 288.8L139.2 288.0ZM210.0 300.5L206.5 299.1L204.2 303.6L206.9 303.0L209.4 300.8ZM210.4 300.7L210.0 300.5L209.4 300.8ZM204.2 303.6L202.9 304.4L202.6 307.3L204.2 310.7L204.7 314.2L204.8 317.9L203.5 320.3L202.9 323.4L202.0 326.1L202.4 326.5L203.2 323.3L204.8 319.2L205.2 317.0L206.5 313.2L204.1 309.4L203.2 305.7ZM209.4 300.8L206.9 303.0L204.2 303.6L203.2 305.7L204.1 309.4L206.5 313.2L210.2 314.0L213.2 314.8L215.0 318.9L215.9 321.0L218.2 324.8L221.3 327.3L223.7 328.7L226.5 330.6L228.4 333.1L229.2 337.0L230.6 339.8L232.4 336.6L232.2 333.0L233.7 329.7L234.8 326.5L237.0 323.2L238.1 320.2L239.8 318.2L236.5 315.7L233.1 313.2L230.3 311.2L228.6 309.6L225.1 308.8L223.2 306.5L221.8 303.3L221.5 299.0L217.4 299.3L214.7 300.6L210.4 300.7ZM228.6 259.2L227.3 260.0L227.6 260.2ZM215.6 257.9L215.1 258.3L215.7 258.0ZM215.7 258.0L215.1 258.3L218.0 262.1L219.8 263.1L218.2 261.6ZM227.3 260.0L224.0 257.7L220.9 255.4L218.8 256.5L215.7 258.0L218.2 261.6L219.8 263.1L221.8 264.1L226.6 265.0L229.8 263.4L231.9 266.5L234.4 268.9L237.1 271.1L238.9 273.4L241.1 275.6L244.6 278.5L246.9 281.4L250.8 280.5L247.9 277.6L246.9 274.2L245.9 270.8L244.8 268.4L242.2 265.0L240.1 263.1L237.9 260.6L235.6 258.9L233.4 256.8L228.6 259.2L227.6 260.2ZM229.8 263.4L230.5 263.1L229.5 263.1ZM230.6 339.8L229.2 337.0L228.4 333.1L226.5 330.6L223.7 328.7L221.3 327.3L218.2 324.8L215.9 321.0L215.0 318.9L213.2 314.8L210.2 314.0L206.5 313.2L205.2 317.0L204.8 319.2L203.2 323.3L202.4 326.5L204.6 328.9L206.5 330.6L207.5 333.8L208.1 337.3L209.3 340.2L210.7 343.1L210.7 346.6L209.9 349.8L210.2 353.4L209.8 356.4L209.9 359.9L210.4 362.9L210.5 365.1L210.7 368.1L212.9 369.8L214.3 372.4L216.5 374.7L220.2 372.4L223.2 371.4L225.2 374.1L227.8 376.3L230.6 378.0L233.3 376.1L235.7 373.4L237.3 371.4L239.2 368.6L239.5 365.8L240.6 363.1L240.4 359.8L240.1 356.4L239.8 353.1L237.2 350.3L236.7 347.3L234.0 344.4L232.5 341.7ZM349.9 282.7L350.8 282.4L350.5 281.8L349.2 282.3L352.7 284.3L354.5 285.3ZM343.0 284.8L342.6 289.4L343.2 290.1L346.6 292.4L347.6 292.4L345.6 288.8L348.3 292.2L345.2 288.4L345.1 288.0L343.3 284.9L344.0 284.6L344.6 286.4L343.9 284.4ZM352.8 283.1L350.8 282.4L355.4 284.7ZM388.5 294.9L388.1 295.0L387.7 295.6L390.4 296.0L390.5 296.0L388.4 295.2ZM344.7 327.0L345.5 324.4L340.6 326.2L337.3 322.2L336.6 323.6L338.3 327.3L340.1 329.4ZM346.9 319.5L343.2 318.5L339.8 317.6L337.8 321.4L341.7 320.4L345.2 320.0L346.1 322.2ZM401.5 361.4L399.3 360.2L399.1 360.9L401.5 362.9L400.9 363.2L402.3 364.0L401.5 362.1L401.9 362.0ZM404.9 365.8L405.1 366.2L407.5 366.1L407.7 366.0L411.2 364.9L414.1 364.7L414.7 363.8L410.8 362.9L407.3 364.9ZM414.0 351.9L413.6 352.1L413.9 352.1L415.4 356.7L416.6 360.8L418.7 357.7L415.4 353.9ZM385.9 368.1L385.8 368.6L387.0 368.1ZM383.5 377.8L387.6 378.3L388.6 379.5L389.5 378.9L389.2 378.3L390.7 373.7L388.3 372.2L385.5 369.8L383.9 374.5ZM402.3 364.0L400.9 363.2L398.2 364.6L395.4 366.0L394.8 365.2L393.5 366.6L398.4 369.1L401.8 368.0L405.1 366.9L405.1 366.2L404.6 365.4L403.1 366.0ZM419.0 372.7L416.1 369.2L416.7 373.2L417.3 376.9L418.0 375.2ZM405.1 366.2L405.1 366.9L407.5 366.1ZM403.4 396.6L399.1 395.7L401.8 397.5ZM411.9 390.4L410.5 389.5L408.4 391.8L405.8 395.3L408.3 393.6L411.0 392.6ZM401.5 383.8L401.0 384.3L401.5 387.6ZM380.8 349.7L381.1 354.4L382.7 357.2L387.3 356.4L387.6 352.6L386.1 349.0L390.7 345.9L392.3 346.3L390.8 343.5L386.4 345.3L383.3 347.0L382.9 347.7L382.3 350.1ZM346.7 430.6L346.1 430.7L346.0 430.8L341.9 432.2L339.8 432.3L342.7 431.5L346.9 431.6ZM334.8 431.7L334.3 433.7L336.8 433.0L339.8 432.3ZM347.6 292.4L346.6 292.4L347.8 293.2L347.9 292.9ZM358.2 305.9L359.4 304.5L356.9 306.3L356.9 306.6L357.5 306.8ZM374.5 290.9L372.7 292.7L371.5 291.5L373.8 293.8L374.8 292.6L374.3 290.0ZM367.3 282.1L372.5 283.1L369.9 282.2L368.6 280.8L367.9 281.1ZM392.5 333.4L393.5 329.9L393.1 327.0L396.4 326.0L395.1 325.3L392.6 326.2L390.2 328.7ZM306.7 327.1L306.7 326.1L305.1 327.7L305.3 328.3ZM297.1 328.4L292.5 325.7L291.6 327.9L291.8 328.8L295.2 329.5L295.1 328.5L298.8 327.5L302.4 327.7L305.1 327.7L301.5 328.1ZM303.4 321.2L306.7 323.6L306.7 322.2ZM295.0 321.7L293.7 322.4L292.6 325.3L296.7 324.4L299.7 323.9L295.1 322.3ZM381.2 359.3L382.7 357.2L381.1 354.4L380.8 349.7L376.1 348.6L375.8 348.0L371.3 348.1L368.5 352.4L370.7 356.7L370.3 356.9L374.4 357.4L377.4 358.6ZM348.7 354.0L345.7 355.9L345.2 359.6L344.4 362.9L340.7 365.2L340.7 367.0L344.1 368.0L345.9 367.7L349.1 367.7L352.2 368.2L354.6 366.1L352.9 361.4L351.1 359.7L349.1 356.0L351.1 356.4ZM377.7 421.0L376.9 418.4L379.7 415.3L381.5 412.3L382.3 412.1L380.1 411.6L377.0 413.0L375.2 415.3L372.7 417.5L372.8 418.1L375.8 419.4ZM385.7 425.8L388.3 423.7L390.2 421.9L389.9 421.2L389.2 421.5L385.6 425.7ZM293.9 431.3L290.2 430.7L289.7 431.0L294.0 431.5ZM284.7 440.2L284.3 438.5L283.8 438.1ZM412.9 387.8L414.2 384.6L411.7 386.3L410.8 389.1L410.5 389.5L411.9 390.4ZM270.1 347.8L270.7 349.3L269.0 352.8L268.2 354.4L271.2 356.2L271.8 359.3L274.7 361.1L277.6 359.7L280.6 357.8L283.3 356.4L283.6 354.8L281.6 352.6L279.9 348.2L277.1 346.5L276.2 343.2L272.6 345.3ZM373.2 394.4L376.4 393.1L373.3 394.0ZM372.1 398.7L373.5 400.1L377.3 402.6L379.2 403.6L379.3 403.5L378.4 403.0L375.8 400.9L373.8 399.2L373.1 394.9ZM376.8 432.8L380.4 430.4L384.3 427.0L379.9 427.7L378.4 423.1L377.7 421.0L375.8 419.4L372.8 418.1L371.1 421.8L370.1 425.0L372.3 427.5L374.8 430.9ZM333.6 431.6L331.1 429.5L333.6 433.9L334.3 433.7L334.8 431.7ZM323.3 441.5L324.4 441.6L324.5 442.9L326.2 443.6L326.7 441.6L329.8 438.8L331.4 436.5L333.6 433.9L332.2 435.3L328.8 438.8L327.8 440.4ZM326.2 427.7L326.0 427.9L330.6 428.5L329.8 428.4L329.0 427.7ZM311.5 444.6L312.0 446.2L309.7 450.0L309.0 452.3L312.7 451.7L314.0 448.1ZM299.1 440.9L299.7 443.1L296.9 444.8L296.9 444.9L300.5 447.6L301.1 443.3L300.5 440.5ZM303.6 361.2L301.4 361.7L299.6 362.2L296.6 366.0L297.5 368.7L298.2 372.2L299.4 374.6L302.6 373.9L306.1 373.7L309.5 373.3L310.2 369.6L310.4 366.1L308.2 363.4L304.8 363.1ZM299.4 374.6L300.4 376.5L300.7 377.0L300.8 377.3L302.0 379.9L301.3 382.8L301.5 384.7L300.9 385.0L301.9 386.4L305.1 385.7L306.6 384.7L310.3 384.0L310.2 380.0L309.8 377.4L309.5 373.3L309.5 373.3L306.1 373.7L302.6 373.9ZM293.6 396.7L297.4 394.5L300.7 394.3L302.0 391.1L301.9 386.4L300.9 385.0L300.7 385.1L300.5 386.0L299.7 385.6L298.4 386.3L297.4 384.3L295.1 383.0L293.6 380.9L289.2 383.6L289.2 387.7L288.8 391.5L290.9 393.3ZM336.3 356.6L340.0 358.6L339.8 356.7L342.9 355.6L346.0 354.4L345.7 355.9L348.7 354.0L348.8 353.2L344.6 353.5L342.5 352.4L337.9 353.5L335.7 353.2ZM352.2 368.8L352.2 368.2L349.1 367.7L345.9 367.7L344.1 368.0L340.7 367.0L338.8 369.7L340.6 369.8L340.3 372.8L342.1 376.2L345.4 378.2L349.0 377.4L351.6 376.2L351.9 372.8L350.6 369.1ZM375.2 378.5L378.4 378.5L382.3 379.5L381.5 377.6L383.5 377.8L383.9 374.5L385.5 369.8L384.6 369.1L382.2 364.4L382.6 364.1L381.1 362.3L378.6 365.1L375.9 367.5L373.2 370.0L373.5 371.6L374.5 371.4L375.1 375.2ZM313.4 432.1L311.2 428.8L310.1 431.5L312.2 432.2ZM322.9 427.7L321.3 431.4L318.8 433.1L318.9 433.2L321.6 430.5L324.4 427.7ZM271.5 441.7L272.9 445.2L272.5 447.9L275.0 449.6L279.5 451.4L282.1 449.1L283.6 446.6L286.3 444.9L285.8 444.7L284.7 440.2L283.8 438.1L281.6 435.9L278.1 438.5L275.6 437.3L273.3 439.9ZM314.9 455.1L317.7 454.2L321.0 453.9L325.5 454.0L328.7 454.2L327.0 453.1L324.8 449.8L325.2 449.3L323.1 451.3L321.3 453.9L318.9 451.5L317.4 449.3L317.4 445.6L314.0 448.1L312.7 451.7ZM325.0 447.5L325.9 444.7L326.2 443.6L324.5 442.9L324.4 446.1L325.2 449.3ZM334.4 251.6L336.8 253.9L339.4 255.2L341.3 256.9L342.5 259.6L345.1 258.6L346.9 254.4L346.9 251.2L344.7 247.7L341.9 247.2L338.9 247.1L334.7 250.2ZM256.5 407.6L256.5 403.6L255.9 406.2ZM271.9 399.9L272.3 398.1L267.7 396.1L264.7 396.7L261.4 397.9L261.6 398.2L262.2 397.8L263.9 400.1L266.5 401.6L266.5 406.6L264.2 407.4L261.2 409.5L263.9 411.1L267.4 411.8L269.2 412.6L270.6 409.8L271.5 407.2L272.3 404.4L274.5 401.7ZM259.4 398.5L257.3 399.1L256.8 399.8ZM260.6 321.5L261.3 324.1L260.8 328.3L262.2 330.6L262.7 333.8L266.4 333.7L270.8 333.0L273.9 334.1L273.9 330.8L275.1 327.1L276.2 323.6L274.6 322.6L269.6 321.6L266.5 320.8L264.0 320.4ZM239.8 318.2L238.1 320.0L237.1 323.0L234.8 326.5L234.4 327.7L236.5 329.0L238.4 327.6L240.8 325.4L242.8 323.8L244.5 321.5L247.4 320.3L250.7 319.2L252.3 322.1L254.4 318.2L252.8 315.0L249.7 316.5L246.9 316.5L244.1 316.3L241.2 316.7L238.4 317.2ZM346.1 430.7L346.7 430.6L347.7 428.6L347.6 427.9ZM336.7 416.1L334.4 416.4L331.5 418.6L333.6 420.0L336.1 419.1L338.9 417.4L337.5 415.9ZM458.1 240.3L458.2 240.3L459.6 236.6L460.2 233.6L459.0 230.9L454.7 229.2L453.2 226.1L451.6 225.8L451.3 225.9L452.4 230.3L451.3 232.3L449.9 236.5L448.5 236.4L448.5 236.5L450.2 237.1L454.9 236.5L456.4 241.2L458.1 240.8L458.1 240.8ZM312.8 351.9L314.7 355.2L316.7 353.6L320.0 354.2L322.6 354.8L325.9 355.2L325.8 354.0L322.6 353.2L320.6 353.2L321.0 352.0L319.8 348.2L320.0 348.0L319.2 347.7L316.5 349.9ZM283.6 354.8L283.3 356.4L286.0 358.7L287.4 358.3L290.1 355.5L291.3 353.1L293.5 352.1L294.2 350.7L290.6 348.3L288.2 350.9L285.9 352.4ZM295.9 429.8L294.3 426.2L291.7 427.4L289.6 429.3L290.2 430.7L293.9 431.3ZM295.8 420.0L295.5 423.5L294.3 426.2L295.2 426.1L295.3 423.3ZM293.8 416.1L292.4 416.5L295.8 420.0L294.7 416.9ZM256.1 277.4L258.8 276.7L261.5 275.6L261.5 271.4L258.3 271.7L256.0 272.4L252.7 272.6L249.7 273.0L246.4 270.2L247.3 270.9L246.0 271.1L246.4 272.4L249.3 274.7L253.0 275.7ZM287.4 430.8L284.6 429.3L281.2 428.5L283.4 432.4L279.6 433.9L282.9 433.1ZM289.6 429.3L287.4 430.8L289.7 431.0L290.2 430.7ZM472.2 189.4L471.6 190.2L471.8 190.4L476.2 189.9L479.1 188.4L482.1 187.0L478.6 186.7L475.4 189.2ZM483.1 172.7L480.3 174.3L477.8 177.5L475.6 178.9L472.8 178.0L469.5 177.2L466.5 176.2L464.5 180.9L467.2 183.5L467.9 185.4L471.6 184.0L473.2 182.9L474.9 182.2L478.4 180.8L480.7 178.6L483.1 176.7L485.2 174.7L483.8 172.3ZM245.7 300.9L248.0 297.8L247.2 294.3L249.6 290.8L247.4 289.1L246.8 293.8L243.0 295.3L239.9 290.7L239.9 287.5L239.9 284.5L241.2 284.2L237.6 281.5L236.2 282.2L235.0 285.0L234.9 287.5L234.4 290.7L233.0 293.3L232.8 296.2L232.2 298.8L235.3 301.9L239.4 302.4L241.3 301.5ZM350.1 229.7L352.2 231.2L355.1 230.1L358.4 228.9L360.3 228.4L363.5 228.6L367.2 227.6L369.3 227.1L371.9 225.8L372.0 225.6L370.6 223.5L368.8 220.0L367.8 216.9L366.7 213.3L363.7 211.2L363.4 208.2L361.3 210.1L357.5 211.6L354.7 212.6L352.0 213.9L348.0 215.3L343.9 214.9L344.2 217.7L346.4 220.9L347.6 223.6L348.4 226.4ZM293.7 322.4L291.4 318.5L289.4 315.7L287.2 315.2L282.5 315.5L283.5 319.2L281.4 321.3L278.4 322.4L278.4 322.6L281.0 324.8L284.1 325.6L285.5 326.2L288.5 327.0L291.6 327.9L292.9 324.1ZM336.0 333.9L336.8 334.7L336.0 333.1L335.2 332.5L332.3 332.8ZM180.7 345.8L183.0 348.0L185.1 350.3L186.9 352.3L189.4 354.5L189.9 359.1L192.8 358.5L195.4 358.5L197.8 357.9L201.8 356.6L204.4 355.8L207.0 354.8L209.9 354.9L210.3 352.0L210.7 348.8L211.1 346.3L210.7 343.1L209.1 340.2L208.0 337.5L207.4 333.8L206.5 330.6L204.6 328.9L202.4 326.5L202.0 326.1L200.9 329.4L198.1 332.7L195.2 334.2L192.6 333.9L188.1 334.2L186.2 337.1L184.5 339.4L182.4 342.4ZM385.4 182.3L385.9 179.4L385.0 176.3L382.8 173.0L380.9 169.8L379.9 167.9L377.0 168.0L373.9 168.4L370.2 168.3L367.8 168.9L366.3 170.9L365.3 174.6L365.1 178.0L363.3 181.1L361.5 183.9L362.8 188.9L365.7 188.8L367.8 189.0L371.8 189.2L374.3 188.2L376.6 186.9L380.1 187.7L382.0 185.3ZM316.7 296.1L316.8 296.9L318.8 298.1L320.0 297.8L319.0 297.6L319.0 297.3L318.5 297.3L319.0 292.1L319.0 291.5L317.5 296.1L316.1 295.6L316.2 295.9ZM452.7 183.0L451.1 180.3L449.1 179.1L446.8 176.8L445.6 174.3L442.6 171.3L441.5 169.0L438.6 166.9L437.0 165.7L435.0 167.7L430.8 169.0L428.2 169.7L425.5 172.2L422.8 173.5L419.9 175.1L420.3 179.6L422.6 177.1L423.8 176.9L424.0 176.6L428.3 176.3L431.3 175.8L434.3 179.4L436.7 181.8L436.7 182.2L437.5 183.3L441.0 183.0L443.2 182.4L447.4 182.0L448.8 184.8L450.1 187.3ZM202.9 387.3L203.2 391.2L203.4 394.0L203.1 398.2L204.2 399.6L204.7 399.6L204.6 399.1L206.3 397.3L209.1 395.6L212.1 394.1L214.7 394.7L218.4 397.2L218.7 397.1L214.6 394.1L214.2 391.9L212.8 389.8L210.8 386.6L213.5 385.9L216.4 384.2L219.6 382.8L222.1 385.7L223.8 388.4L225.4 391.6L227.1 394.1L227.1 394.3L228.5 393.9L229.4 392.2L228.7 389.3L229.0 385.7L227.5 383.5L224.6 382.0L221.4 382.2L219.0 380.9L215.6 379.1L213.8 378.4L211.1 380.6L209.0 382.1L207.2 383.7L205.2 385.5L202.8 387.0ZM336.7 390.7L331.5 390.7L331.4 390.8L331.7 391.4L336.7 391.4L338.4 393.1L340.6 396.8L341.0 398.4L342.9 398.5L342.9 398.4L346.4 396.2L347.4 392.6L344.9 388.9L344.8 389.4L340.2 389.7ZM247.4 371.0L250.5 370.0L253.3 371.1L255.9 370.9L258.0 369.3L258.1 366.1L257.7 363.2L254.2 363.2L251.1 363.0L247.6 363.2L247.5 359.5L247.6 356.2L249.5 354.1L248.5 354.0L245.9 356.0L243.2 358.8L240.5 361.2L240.6 362.9L242.3 365.2L244.9 368.7ZM365.3 440.4L368.1 438.1L371.0 436.5L372.9 434.3L376.8 432.8L374.8 430.9L372.3 427.5L370.1 425.0L368.3 426.1L370.7 427.7L370.5 430.5L369.9 433.9L367.4 438.0L364.5 440.1L364.2 440.0L364.3 440.9ZM407.3 199.9L410.6 197.8L412.5 196.0L410.1 192.8L410.9 192.0L410.2 190.7L411.9 188.5L413.8 186.8L416.5 184.1L418.3 181.8L420.3 179.6L419.9 175.1L415.6 172.7L412.8 170.7L410.0 171.4L407.4 172.4L404.8 174.3L401.8 175.1L398.3 175.3L397.2 176.5L393.5 175.8L391.5 177.4L388.8 178.5L385.9 179.4L385.4 182.3L388.4 184.4L388.8 186.2L391.2 188.6L393.4 190.6L394.8 191.8L396.9 194.9L398.2 196.7L401.3 198.4L403.3 200.4ZM309.8 431.6L310.1 431.5L311.2 428.8L310.5 427.7L309.3 431.3ZM203.1 430.4L202.2 433.4L200.8 437.5L200.6 440.4L204.0 441.4L208.1 442.9L209.3 447.9L212.8 448.4L215.3 445.7L215.8 442.3L216.9 439.8L218.3 436.9L219.7 434.2L218.1 430.4L214.6 428.7L213.7 425.8L212.6 425.4L212.1 426.7L210.4 427.5L207.1 429.2L204.6 430.4L202.5 429.2ZM282.8 282.2L282.7 281.6L281.9 280.6L281.5 282.2L278.9 283.0L276.4 286.1L274.9 286.2L275.7 287.2L279.7 287.6L279.1 291.3L280.4 292.7L284.0 291.4L287.3 290.2L290.0 286.2L289.2 283.5L288.8 283.6L288.9 284.8L289.3 286.2L286.4 288.2L285.6 286.6L285.1 286.8ZM364.2 440.0L361.3 438.7L358.3 438.5L356.0 433.9L356.5 428.3L356.1 433.1L353.7 437.0L350.7 435.2L352.2 437.0L355.2 438.5L352.6 440.8L355.4 443.3L358.1 444.0L361.3 442.4L364.3 440.9ZM347.7 428.6L346.7 430.6L346.9 431.6L347.5 431.6L348.1 432.2ZM350.3 426.2L354.9 425.1L353.4 424.4ZM335.5 308.5L333.6 307.7L333.7 308.4L331.3 310.0L328.3 311.5L333.1 308.8L333.4 309.6L331.1 311.6L328.6 313.3L328.3 312.3L329.1 315.1L333.7 314.0L336.7 311.6ZM330.2 302.2L330.4 302.6L329.9 302.3L332.6 303.7L331.5 303.1L331.3 301.9ZM273.5 306.5L273.5 306.9L274.3 309.2L275.0 309.0L275.0 306.0ZM264.7 305.7L266.6 303.8L264.1 305.1ZM354.1 380.5L352.2 380.6L350.1 381.3L346.8 383.0L345.9 380.4L344.5 382.9L343.0 385.3L345.6 385.5L344.9 388.9L347.4 392.6L350.1 391.7L353.0 390.5L356.1 389.0L355.6 386.5L355.1 382.7ZM340.7 365.2L340.6 365.2L340.3 361.9L340.0 358.6L336.3 356.6L333.5 358.0L330.8 358.6L326.7 359.1L327.5 362.9L325.0 366.6L325.1 367.0L327.8 367.9L330.6 369.1L335.3 369.3L338.8 369.7L340.7 367.0ZM317.3 311.8L317.3 309.6L316.2 310.3L315.9 311.5L313.3 312.1L311.1 313.4L309.6 312.8L309.8 312.8L309.0 312.9L311.6 316.6L315.0 314.6L315.2 313.1L319.0 310.8ZM317.1 305.9L317.0 306.1L317.3 309.6L317.3 306.2ZM474.1 222.6L471.3 221.2L467.6 220.2L469.7 223.0ZM478.1 207.8L478.6 207.5L478.2 207.4L475.9 208.0L476.7 212.9ZM345.2 450.4L347.7 448.8L350.4 447.9L353.4 446.8L356.1 446.1L358.1 444.0L355.4 443.3L352.6 440.8L349.1 443.9L346.5 446.5L343.4 448.9L344.2 450.8ZM292.0 292.2L292.6 289.9L292.5 289.8L292.6 289.8L292.6 289.9L292.8 289.2L298.1 289.2L295.4 286.4L290.0 286.2L287.3 290.2L288.9 292.7L290.7 295.5L292.5 294.8L295.1 298.1L297.7 299.9L297.8 299.9L295.9 296.1L298.2 295.5L296.0 293.3L293.6 295.3ZM329.6 235.1L329.7 238.5L329.3 241.7L329.1 244.2L331.6 247.3L334.7 250.2L338.9 247.1L338.7 244.9L338.2 241.3L337.4 238.7L337.5 235.6L333.7 234.6ZM406.8 151.1L409.4 149.1L411.3 146.7L413.7 144.5L415.5 142.7L418.0 140.1L420.4 138.4L422.8 134.8L424.7 133.5L422.5 131.7L419.4 130.6L414.9 130.4L412.9 128.8L410.0 128.4L406.9 129.8L404.0 129.2L400.9 130.7L397.9 131.3L395.9 133.6L393.9 135.4L391.9 137.6L389.9 140.1L391.8 144.2L391.7 147.7L394.0 148.0L398.4 149.9L400.6 150.0L403.6 150.9ZM340.7 281.2L343.0 284.8L343.9 284.4L343.7 283.8L346.3 283.0L349.1 282.2L349.2 282.3L350.9 281.6L349.7 279.3L346.8 277.6L349.5 274.6L351.9 273.8L348.2 276.6L345.5 271.9L347.8 275.9L345.4 274.4L342.4 272.7L341.8 276.4L340.7 277.9ZM236.2 282.2L233.0 281.3L228.4 280.4L226.5 284.9L224.9 287.4L222.3 289.9L222.7 292.2L221.4 295.5L221.5 298.5L224.8 298.2L228.1 298.8L232.2 298.8L232.8 296.2L233.0 293.3L234.4 290.7L234.9 287.5L235.0 285.0ZM334.4 416.4L330.6 416.9L330.2 412.5L328.2 409.2L328.3 413.0L329.0 416.9L331.5 418.6ZM282.7 413.1L283.8 413.3L284.4 408.4L283.8 405.1L280.4 403.3L277.8 401.8L276.6 403.0L274.5 401.7L272.3 404.4L271.5 407.2L270.6 409.8L269.2 412.6L269.8 414.1L274.8 415.9L276.6 415.4L280.3 414.6ZM396.2 342.4L393.5 338.2L391.0 340.9L390.8 343.5L392.3 346.3L396.9 347.3ZM196.7 403.5L199.4 402.5L203.3 401.6L204.2 402.9L204.2 399.6L203.1 398.2L203.1 400.3L199.9 401.6ZM186.8 419.1L189.0 419.6L192.5 419.8L195.8 419.9L198.1 420.4L199.0 422.3L199.6 419.1L203.8 417.6L203.8 417.2L199.6 417.9L198.0 415.4L198.4 412.5L197.2 409.7L195.7 407.2L194.7 404.5L193.1 405.3L191.9 408.5L190.5 410.8L189.3 413.5L187.5 415.6ZM261.8 281.4L261.8 281.4L261.5 282.0L261.5 279.9L261.2 277.6L261.5 277.3L261.5 275.6L258.8 276.7L256.1 277.4L256.4 281.1L255.3 283.1L254.9 285.7L254.3 289.2L258.9 291.4L262.7 287.6L266.1 288.1L267.0 286.9L261.5 287.4L261.5 282.2L261.5 282.2ZM383.5 365.1L382.2 360.6L387.2 358.8L387.6 358.3L387.3 356.4L382.7 357.2L381.2 359.3L381.1 362.3L382.6 364.1L383.1 363.5ZM389.2 366.0L387.6 367.5L386.6 368.1L387.0 368.1L389.7 366.7L392.3 366.0L393.5 366.6L394.8 365.2L392.9 362.4L392.3 362.9ZM349.8 336.0L353.0 337.8L354.1 337.0L351.9 335.5ZM406.5 208.0L410.4 205.4L408.8 202.8L407.3 199.9L403.3 200.4L400.9 203.7L400.4 207.4L401.5 210.9L401.8 213.8L402.1 216.7L405.8 219.1L409.5 220.1L409.8 217.2L408.0 215.0L407.2 211.0ZM331.5 254.1L330.2 254.0L330.9 255.1L330.9 259.9L331.2 260.2L331.5 257.5ZM372.0 225.6L371.9 225.8L373.8 227.5L375.3 230.1L376.2 233.6L380.0 234.4L383.7 234.3L386.9 235.9L389.4 234.0L391.6 232.3L393.9 230.8L396.0 229.3L393.1 227.3L390.4 225.3L390.4 220.0L386.4 217.6L384.3 215.5L381.3 217.4L379.6 220.0L377.6 222.2L374.2 223.5ZM332.0 292.4L334.3 291.8L337.1 289.9L339.1 287.6L340.6 288.8L340.9 288.6L342.3 289.5L342.6 289.4L343.0 284.8L340.7 281.2L336.2 281.1L332.4 280.2L331.0 283.1L329.7 286.0L330.6 286.8L331.2 291.9ZM471.6 190.2L468.9 193.6L471.6 192.2L471.8 190.4ZM459.8 189.4L463.2 187.8L467.2 185.7L467.9 185.4L467.2 183.5L464.5 180.9L462.0 181.2L458.4 180.9L455.2 182.8L452.7 183.0L450.1 187.3L451.1 189.4L448.7 194.4L452.1 194.6L454.8 194.9L458.4 193.5L462.3 194.4L462.8 197.8L463.5 200.6L464.5 198.9L466.7 195.4L462.3 193.2ZM234.8 440.6L235.7 440.4L239.0 440.8L242.5 440.4L244.9 441.0L248.2 440.4L248.3 440.4L247.5 437.6L247.3 434.3L246.2 431.5L246.6 428.7L245.8 426.5L246.2 422.9L243.7 421.7L240.6 420.9L236.1 422.6L234.6 425.7L232.7 428.0L231.0 431.5L229.4 434.2L231.6 437.1L233.0 438.4ZM469.7 223.0L467.6 220.2L464.8 219.2L462.1 220.9L460.7 222.8L457.3 224.2L457.1 223.7L453.2 226.1L454.7 229.2L459.0 230.9L460.2 233.6L463.3 232.3L466.2 232.3L468.9 231.0L468.2 227.0ZM279.5 451.4L282.9 452.6L285.1 454.2L288.8 454.6L293.1 455.4L292.9 452.3L293.2 450.5L294.1 446.5L292.0 447.8L288.7 446.8L286.3 444.9L283.6 446.6L282.1 449.1ZM269.4 382.2L269.1 378.4L268.7 376.5L269.0 372.7L268.5 371.2L265.7 371.2L261.5 369.9L258.0 369.3L255.9 370.9L256.1 375.0L256.3 379.2L257.2 379.0L257.2 383.8L259.8 383.8L264.1 384.3L267.1 384.4ZM408.6 268.6L407.6 270.5L410.2 267.5L409.7 266.4ZM291.2 283.0L291.2 282.8L289.2 283.5L290.0 286.2L295.4 286.4L295.4 286.4ZM372.2 380.6L369.7 382.6L369.2 384.6L370.1 386.7L373.8 385.3L374.1 388.2L375.3 390.7L372.5 392.1L373.3 394.0L376.4 393.1L378.4 392.2L382.5 390.0L384.5 388.4L385.3 385.8L384.6 385.3L382.7 383.0L382.3 379.5L378.4 378.5L375.2 378.5L375.3 379.9L372.2 380.6ZM227.5 383.5L229.0 385.7L228.7 389.3L229.4 392.2L233.0 393.3L236.3 392.3L238.1 392.5L241.8 393.0L243.6 389.6L245.3 385.4L243.5 382.5L242.1 379.4L238.7 378.9L236.0 378.2L232.9 378.3L229.8 381.1ZM219.7 434.2L218.3 436.9L216.9 439.8L215.8 442.3L215.3 445.7L212.8 448.4L215.8 448.8L219.4 449.2L220.6 452.9L225.7 452.9L224.9 450.5L225.5 446.4L225.7 442.9L228.3 442.3L232.6 442.1L234.8 440.6L233.0 438.4L231.6 437.1L229.4 434.2L226.2 434.2L222.3 433.8ZM389.7 257.2L388.3 253.6L386.5 250.4L383.1 250.4L385.2 255.4L386.9 256.0L386.4 258.1L386.7 258.9L386.1 259.3L386.2 258.7L385.4 262.2L383.8 262.9L384.9 263.9L386.2 264.0L387.6 260.5ZM478.6 207.5L480.8 206.7L478.2 207.4ZM490.2 202.7L490.0 198.4L488.0 201.4L485.1 204.8ZM471.8 190.4L471.6 192.2L476.2 189.9ZM300.7 394.3L297.4 394.5L293.6 396.7L291.6 401.7L292.7 404.6L294.2 406.7L296.8 409.0L301.5 409.5L304.8 408.4L305.9 403.0L307.1 401.7L306.9 398.4L304.4 396.8ZM371.9 225.8L369.3 227.1L367.2 227.6L363.5 228.6L360.3 228.4L358.4 228.9L355.1 230.1L352.2 231.2L352.4 232.1L353.2 235.6L355.3 238.8L356.9 241.8L359.7 243.8L361.9 245.1L364.9 247.4L367.2 248.2L368.8 244.9L370.8 243.4L370.8 241.4L373.4 237.7L374.3 236.3L376.2 233.6L376.2 233.6L375.3 230.1L373.8 227.5ZM419.9 175.1L422.8 173.5L425.5 172.2L428.2 169.7L430.8 169.0L435.0 167.7L437.0 165.7L437.8 162.6L439.6 159.3L436.5 156.1L435.5 152.6L433.6 148.7L431.3 147.0L430.5 143.8L429.7 142.3L428.9 138.2L427.3 137.0L425.5 133.8L424.7 133.5L422.8 134.8L420.4 138.4L418.0 140.1L415.5 142.7L413.7 144.5L411.3 146.7L409.4 149.1L406.8 151.1L407.9 153.6L408.0 156.2L409.0 159.5L410.6 161.9L410.9 165.9L411.1 167.3L412.8 170.7L415.6 172.7ZM348.3 253.0L348.3 252.7L350.2 250.7L346.9 251.2L346.9 254.4L345.1 258.6L348.6 260.3L347.6 259.1L347.9 255.2L348.3 252.9ZM247.0 385.4L245.3 385.4L244.1 388.0L242.8 390.7L245.9 387.9ZM243.1 395.2L242.3 391.9L241.8 393.0ZM257.3 399.1L257.6 396.6L256.4 393.5L253.7 394.4L251.0 395.3L253.8 397.6L256.6 399.9L256.5 399.9L256.5 400.1ZM247.2 396.6L243.9 396.6L244.7 397.9L244.7 397.8L247.7 396.7L251.0 395.3ZM366.9 339.3L363.9 341.3L364.5 341.3L364.6 341.8L368.5 339.4L368.6 339.2L367.8 337.5ZM362.7 331.7L362.4 331.9L366.3 334.7L365.2 332.6ZM291.2 316.2L289.4 315.7L291.4 318.5L293.7 322.4L295.0 321.7L295.1 317.4L294.3 314.6L299.5 313.9L299.7 312.3L295.8 312.2L292.8 311.5ZM280.1 294.8L280.0 295.9L279.5 294.6L281.2 299.2L279.4 300.2L279.3 301.5L279.3 301.7L281.2 300.7L282.8 301.3L285.1 301.0L285.5 302.1L285.8 302.3L285.1 297.6L288.2 294.6L291.0 296.0L289.0 294.1L287.3 290.2L284.0 291.4L280.4 292.7L279.7 294.2ZM339.1 264.4L340.7 261.7L342.5 259.6L341.3 256.9L339.4 255.2L336.8 253.9L334.4 251.6L331.5 254.1L331.5 257.5L331.2 260.2L332.1 261.4L332.2 262.2L335.0 264.0ZM278.9 392.8L283.2 392.1L285.5 391.9L288.8 391.5L289.2 387.7L289.2 383.6L285.7 382.0L282.3 380.4L279.3 381.8L277.3 384.4L278.3 387.3L278.3 390.0ZM354.5 353.2L351.5 353.2L348.8 353.2L348.7 354.0L351.1 356.4L354.4 357.9L356.8 357.5L357.8 359.1L362.0 357.5L358.3 355.2L355.2 352.9L352.1 352.2L348.9 352.2L352.1 352.1L355.0 352.8ZM396.8 408.1L395.4 412.3L390.7 412.7L392.3 413.8L397.7 413.8L396.2 416.8L397.9 415.3L400.0 411.7L402.1 409.1ZM390.2 421.9L392.7 419.8L389.9 421.2ZM251.4 351.9L250.7 352.4L248.0 352.9L248.5 354.0L249.5 354.1L251.4 352.3L253.8 349.3ZM373.2 370.0L375.9 367.5L378.6 365.1L381.1 362.3L381.2 359.3L377.4 358.6L374.4 357.4L370.3 356.9L366.8 358.2L367.6 361.1L367.4 363.1L367.3 366.9L369.2 368.0ZM233.3 331.3L236.5 329.0L234.4 327.7ZM372.7 417.5L374.9 415.8L377.2 413.9L379.3 412.2L375.3 413.8L372.8 411.8L369.9 410.7L368.5 406.9L366.8 403.8L371.4 400.7L374.7 402.5L378.3 403.0L375.3 401.0L372.1 398.7L370.7 399.4L370.7 399.9L368.3 402.4L366.1 404.6L364.3 403.1L364.0 403.3L366.1 405.3L365.3 408.4L365.7 409.4L364.6 411.2L366.6 413.0L369.5 416.2ZM317.1 393.4L317.0 390.4L315.7 387.1L311.9 385.6L310.3 384.0L306.6 384.7L305.1 385.7L301.9 386.4L302.0 391.1L300.7 394.3L304.4 396.8L306.9 398.4L309.1 396.8L311.7 395.8L315.1 395.2ZM326.1 398.1L328.5 395.2L329.0 391.4L331.7 391.4L331.4 390.8L328.6 391.6L325.7 392.0L322.4 393.7L319.8 393.8L322.6 395.2L325.9 396.8L326.4 401.4ZM204.7 399.6L204.2 399.6L204.2 402.9L206.3 406.3L208.5 407.8L209.6 411.6L207.3 416.2L206.8 416.4L209.6 415.4L212.8 416.0L215.8 416.6L214.5 420.0L213.7 422.5L212.6 425.4L213.7 425.8L216.4 424.1L217.6 421.4L220.4 418.7L222.6 416.5L219.6 414.1L216.3 412.4L212.1 411.6L210.0 409.5L208.1 407.0L205.8 405.4L204.9 402.8ZM203.8 417.2L203.8 417.6L205.6 416.9ZM423.0 362.7L419.9 359.7L418.7 357.7L416.6 360.8L417.7 364.4L414.7 363.8L414.1 364.7L415.4 364.4L416.1 369.2L419.0 372.7L420.3 369.3L421.1 366.4ZM273.9 334.1L270.8 333.0L266.4 333.7L262.7 333.8L261.9 334.6L264.6 336.2L263.5 335.5L266.5 333.9L267.1 337.1L266.5 339.6L267.6 341.6L269.0 345.5L270.1 347.8L272.6 345.3L276.2 343.2L277.6 338.9L276.8 336.7ZM245.3 403.0L244.7 397.9L243.9 396.6L243.4 396.6L243.1 395.2L241.8 393.0L238.1 392.5L236.3 392.3L233.0 393.3L229.4 392.2L228.5 393.9L228.6 397.4L230.1 401.1L234.5 404.0L234.7 401.6L237.6 401.6L241.1 401.0L243.4 400.3L244.2 403.9ZM311.6 316.6L311.4 317.9L314.4 320.8L313.7 317.9L315.0 314.6ZM317.8 324.0L321.3 323.4L323.9 322.1L326.9 321.6L326.9 319.2L323.6 320.8L320.8 320.4L317.5 320.4L315.2 321.5ZM447.6 247.5L443.7 247.5L441.4 244.0L441.5 243.8L438.5 242.2L435.3 245.8L437.5 250.2L433.2 251.0L437.0 253.9L437.5 253.9L439.2 255.6L440.4 256.5L441.0 255.8L443.9 253.0L446.8 250.0L447.7 250.0ZM451.6 225.8L451.4 222.6L451.0 219.4L450.6 220.3L450.2 223.7L451.2 225.9ZM306.1 350.8L307.8 351.9L310.4 351.2L309.5 347.4L309.7 344.4L310.2 340.9L306.8 343.8L306.6 344.4L307.0 346.9ZM364.3 403.1L361.4 400.7L360.7 396.8L359.9 393.0L363.1 390.5L366.8 389.1L369.2 391.0L371.4 393.0L371.4 395.8L370.7 399.4L372.1 398.7L373.3 394.0L372.5 392.1L372.2 392.2L371.3 389.8L369.9 386.8L370.1 386.7L369.2 384.6L365.0 386.8L363.7 388.4L362.6 388.0L358.4 390.1L360.0 392.7L360.0 396.5L361.0 398.9L361.6 401.7L362.1 402.1L362.6 401.7L362.8 402.3L363.0 402.2L364.0 403.3ZM343.0 385.3L344.5 382.9L345.9 380.4L345.2 378.3L345.4 378.2L342.1 376.2L340.3 372.8L339.8 376.8L342.0 379.1L344.4 381.4L342.9 384.5L338.2 384.9ZM326.6 300.7L329.7 301.0L330.2 302.2L331.3 301.9L331.0 300.1L330.6 299.2L326.7 299.2L330.4 296.8L332.1 293.9L332.0 292.4L331.2 291.9L331.4 293.0L327.8 296.2L327.2 297.3L326.5 297.3L325.2 298.4L321.0 297.9L322.5 299.2L323.6 299.2L326.0 300.9L329.9 302.3ZM373.9 344.3L373.0 342.4L376.4 341.1L371.5 341.6L370.4 338.8L368.6 339.2L368.5 339.4L369.2 342.4L370.6 345.5L371.3 348.1L375.8 348.0L375.3 346.9L375.8 347.7L373.8 344.4L378.4 341.3ZM378.9 340.1L378.6 337.1L378.0 337.2ZM309.0 312.9L308.2 313.1L305.9 312.4L305.9 312.3L306.7 315.4L302.8 317.7L301.3 315.4L305.8 312.4L302.8 311.5L299.7 312.3L299.9 311.6L299.8 311.7L299.5 313.9L299.7 313.9L302.0 317.8L302.8 320.8L302.6 321.0L306.7 322.2L309.1 320.6L311.4 317.9L311.6 316.6ZM429.7 233.1L433.4 234.5L437.2 235.9L439.3 234.6L437.5 232.4L435.0 230.3L430.9 230.3L428.8 230.3L428.8 230.3ZM400.9 203.7L403.3 200.4L401.3 198.4L398.2 196.7L396.9 194.9L394.8 191.8L393.4 190.6L391.2 188.6L388.8 186.2L388.4 184.4L385.4 182.3L382.0 185.3L380.1 187.7L380.4 187.7L383.4 189.0L386.8 189.8L389.0 190.9L392.4 192.7L392.1 195.6L392.5 198.7L391.6 201.5L390.0 199.5L386.1 199.9L384.1 200.3L381.8 200.8L378.6 200.9L379.9 203.5L382.1 206.5L383.6 208.9L385.2 211.6L387.2 209.8L390.4 208.9L393.1 208.0L395.7 206.2L398.2 205.1ZM280.5 338.5L277.6 338.9L276.2 343.2L277.1 346.5L279.9 348.2L281.6 352.6L283.6 354.8L285.9 352.4L288.2 350.9L290.6 348.3L290.6 344.8L287.9 343.7L285.5 342.8L283.0 340.3ZM412.5 196.0L410.6 197.8L407.3 199.9L408.8 202.8L410.4 205.4L414.0 203.1L413.2 200.2L412.9 196.5ZM327.4 322.3L326.9 321.6L323.9 322.1L321.3 323.4L317.8 324.0L317.7 326.3L316.4 329.8L318.0 332.4L321.0 333.5L320.6 332.4L323.6 332.1L327.5 329.5L327.4 326.1ZM271.3 440.4L271.5 441.7L273.3 439.9L275.6 437.3L271.9 435.4L266.5 434.1L266.5 437.9L263.5 435.7L262.2 432.9L263.3 432.6L265.8 433.9L261.7 431.8L260.8 435.7L263.3 437.9L266.6 438.3L269.1 439.8ZM430.3 242.6L431.3 243.4L433.8 242.7L435.3 245.8L438.5 242.2L437.8 239.7L437.2 235.9L433.4 234.5L429.7 233.1L428.8 234.3L430.3 236.8L432.1 239.4L431.6 239.9L432.6 241.5ZM189.9 359.1L190.3 362.2L192.2 365.1L194.9 367.8L196.2 371.1L198.0 373.8L198.0 373.8L200.9 375.7L201.9 378.8L202.0 381.1L202.0 383.7L202.8 387.0L205.2 385.5L207.2 383.7L209.0 382.1L211.1 380.6L213.8 378.4L215.3 375.1L214.7 372.7L212.7 370.7L210.7 368.1L210.4 365.1L210.4 363.1L209.9 360.1L209.8 356.4L209.9 354.9L207.0 354.8L204.4 355.8L201.8 356.6L197.8 357.9L195.4 358.5L192.8 358.5ZM412.8 170.7L411.1 167.3L410.9 165.9L410.6 161.9L409.0 159.5L408.0 156.2L407.9 153.6L406.8 151.1L403.6 150.9L400.6 150.0L398.4 149.9L394.0 148.0L391.7 147.7L392.9 152.6L391.2 155.1L389.8 158.1L387.5 160.0L386.0 162.0L385.0 165.6L382.9 167.6L379.9 167.9L380.9 169.8L382.8 173.0L385.0 176.3L385.9 179.4L388.8 178.5L391.5 177.4L393.5 175.8L397.2 176.5L398.3 175.3L401.8 175.1L404.8 174.3L407.4 172.4L410.0 171.4ZM308.9 465.5L309.4 462.5L310.2 460.6L310.1 456.7L314.9 455.1L312.7 451.7L309.0 452.3L309.0 452.4L307.3 452.8L310.5 455.5L310.0 459.6L308.2 463.2L303.0 463.2L303.9 466.7ZM330.3 277.2L332.4 280.2L336.2 281.1L340.7 281.2L340.7 277.9L341.8 276.4L342.4 272.7L342.1 272.5L340.2 270.2L340.7 270.3L340.7 270.3L339.1 269.9L338.8 269.2L335.6 270.9L331.3 272.5ZM257.2 383.8L257.2 385.9L262.7 385.3L263.2 386.6L264.7 386.6L263.9 388.3L264.2 389.1L263.2 389.6L262.2 391.6L259.6 391.8L256.4 393.5L257.6 396.6L257.3 399.1L259.4 398.5L261.1 397.6L261.4 397.9L264.7 396.7L267.7 396.1L267.5 392.8L266.8 390.0L268.1 386.9L267.1 384.4L264.1 384.3L259.8 383.8ZM368.4 259.8L367.9 260.1L366.9 259.8L366.6 259.3L365.5 261.3L364.3 261.9L364.3 261.9ZM367.6 248.8L364.7 251.2L364.6 250.8L363.9 251.4L364.4 251.4L364.7 252.3L364.5 251.4ZM276.2 323.6L275.1 327.1L273.9 330.8L273.9 334.1L276.8 336.7L277.6 338.9L280.5 338.5L283.4 336.3L284.5 334.5L286.4 333.6L289.5 331.1L291.7 329.2L291.8 328.8L291.6 327.9L288.5 327.0L285.5 326.2L284.1 325.6L281.0 324.8L278.4 322.6ZM346.5 407.4L344.4 406.1L342.9 403.0L342.9 398.5L341.0 398.4L341.6 401.5L342.9 406.1L346.4 407.8ZM373.0 330.1L372.6 327.7L370.6 327.2L368.6 329.9L365.2 332.6L366.3 334.7L368.4 336.2L367.8 337.5L368.6 339.2L370.4 338.8L369.9 337.8L374.4 336.8L377.6 336.2L373.5 337.1L369.9 334.7L370.7 330.1L373.8 331.0L377.6 331.6L379.8 334.8L379.8 334.6L377.9 331.3ZM378.6 337.1L379.0 336.7L377.9 336.9L377.6 336.2L378.0 337.2ZM268.2 354.4L267.6 355.5L266.6 355.5L265.9 355.7L267.6 356.2L268.6 360.5L269.2 363.2L265.7 363.8L264.4 362.6L259.9 363.2L257.7 363.2L258.1 366.1L258.0 369.3L261.5 369.9L265.7 371.2L268.5 371.2L267.3 367.5L269.1 364.4L271.9 361.4L274.6 361.1L274.7 361.1L271.8 359.3L271.2 356.2ZM398.3 253.1L401.6 250.2L405.2 248.8L405.2 248.8L403.5 247.3L401.6 244.0L401.1 241.8L398.3 242.9L394.2 245.2L395.5 247.9L397.3 250.2ZM230.9 258.0L233.4 256.8L235.6 258.9L237.9 260.5L240.1 263.1L240.6 263.8L240.3 261.6L237.2 258.2L235.2 256.0L235.6 255.0L233.4 256.4L230.8 257.9ZM380.5 247.7L383.0 250.2L383.1 250.4L386.5 250.4L388.8 247.6L391.3 244.7L389.1 241.4L388.0 239.4L386.9 235.9L383.7 234.3L380.0 234.4L376.2 233.6L376.2 233.6L376.6 236.9L378.5 239.5L378.5 242.5L380.4 244.3ZM390.9 263.2L391.5 262.2L390.9 263.2L390.4 260.1L393.9 257.0L389.7 257.2L387.9 259.6L386.4 263.6L390.5 262.5L392.8 266.0ZM396.8 265.5L397.7 264.2L397.7 264.2L395.1 267.7L397.8 265.8L397.8 265.1ZM401.8 397.5L399.1 395.7L396.9 395.3L396.4 394.3L393.1 395.4L390.6 397.4L388.7 398.8L388.7 399.0L389.2 400.0L391.3 398.7L394.6 396.1L400.0 396.8L400.8 399.9L398.1 401.1L395.1 403.0L392.3 404.6L391.4 404.8L392.1 406.2L392.3 406.1L396.9 407.6L396.8 408.1L402.1 409.1L402.5 408.5L401.9 404.3L402.4 402.1ZM346.9 251.2L350.2 250.7L353.2 247.7L354.1 248.6L355.3 245.3L356.9 241.8L355.3 238.8L353.2 235.6L352.4 232.1L350.6 235.2L349.5 236.8L348.6 240.0L347.7 242.4L347.0 244.9L344.7 247.7ZM391.0 340.9L393.5 338.2L392.3 336.2L392.5 333.4L390.2 328.7L388.4 328.2L386.6 330.0L382.9 332.1L379.8 334.6L379.8 334.8L380.7 336.2L380.6 336.2L383.3 337.6L385.7 338.4L388.7 339.2ZM254.3 289.2L249.6 290.8L247.2 294.3L248.0 297.8L245.7 300.9L248.2 304.2L251.1 306.4L253.8 308.6L257.1 306.7L259.5 305.5L262.1 303.6L260.4 301.5L258.1 299.3L255.8 297.6L254.2 293.0L258.8 291.5L258.9 291.4ZM335.2 454.2L337.8 453.0L341.4 450.9L344.2 450.8L343.4 448.9L342.9 449.3L339.4 451.9L336.7 452.4L333.8 454.2ZM349.0 260.8L348.6 260.3L345.1 258.6L342.5 259.6L340.7 261.7L339.1 264.4L339.2 265.5L342.1 265.6L345.2 263.7L347.2 264.0L348.3 263.8L348.5 264.2L349.3 264.4ZM372.7 417.5L369.5 416.2L366.6 413.0L364.6 411.2L364.6 411.3L364.5 411.5L362.4 415.4L361.4 418.4L359.4 420.5L357.9 423.3L353.5 424.1L353.4 424.1L353.4 424.4L354.9 425.1L356.8 424.6L356.9 425.3L360.1 424.6L363.0 422.3L365.8 424.4L368.3 426.1L370.1 425.0L371.1 421.8L372.8 418.1ZM362.7 369.4L363.0 370.6L362.0 370.9L361.9 372.9L364.5 372.2L369.1 369.8L368.8 373.7L367.6 376.0L364.3 378.8L367.0 380.7L369.7 382.6L372.2 380.6L371.5 377.1L371.3 374.2L371.4 372.2L373.5 371.6L373.2 370.0L369.2 368.0L367.3 366.9ZM415.9 239.1L418.0 237.5L415.0 238.3ZM427.5 232.5L423.9 233.1L421.4 231.6L419.7 227.4L419.6 227.4L418.3 230.7L420.6 230.7L419.4 233.6L419.4 237.1L419.4 237.1L420.1 239.9L419.8 237.8L420.1 234.1L420.6 234.1L421.5 238.3L421.6 241.7L421.6 242.3L420.7 239.6L420.5 236.8L420.6 233.6L423.2 233.6ZM428.1 233.3L428.8 234.3L429.7 233.1L428.8 230.4ZM421.5 226.7L423.9 227.9L421.8 226.5ZM367.3 282.1L367.9 281.1L367.6 280.9L366.9 282.1ZM365.5 281.8L364.3 281.6L366.4 282.0L365.4 281.1ZM339.8 317.6L345.1 319.0L343.5 315.5L342.2 313.1L344.4 311.7L348.3 311.5L348.9 312.0L344.9 308.3L342.2 309.3L340.4 310.1L336.9 311.7L338.0 315.7ZM283.8 413.3L287.1 413.3L290.4 414.6L292.4 416.5L293.8 416.1L294.1 415.4L293.5 413.8L295.1 413.0L296.8 409.0L294.2 406.7L292.7 404.6L291.6 401.7L288.8 403.5L286.3 404.0L283.8 405.1L284.4 408.4ZM237.6 281.5L238.3 278.1L241.0 275.5L238.7 273.3L237.4 271.6L234.4 268.9L231.9 266.6L229.8 263.4L226.6 265.0L221.8 264.1L219.8 263.1L222.1 264.6L224.8 267.4L227.6 270.7L228.6 271.8L230.6 275.3L230.1 278.8L228.4 280.4L233.0 281.3L236.2 282.2ZM334.3 291.8L332.0 292.4L332.1 293.9L332.9 293.0ZM341.5 299.7L341.6 300.1L343.2 299.7ZM403.6 289.4L402.2 284.5L402.0 285.2L403.5 287.5L403.9 291.7L404.0 289.7ZM468.9 231.0L466.2 232.3L463.3 232.3L460.2 233.6L459.6 236.6L458.2 240.3L461.0 239.5L465.1 238.4L468.1 237.8L472.0 234.6ZM253.5 421.6L252.0 420.9L249.0 422.6L246.2 422.9L245.8 426.5L246.6 428.7L246.2 431.5L247.3 434.3L247.5 437.6L248.3 440.4L251.3 439.1L253.9 436.8L256.8 436.5L260.0 435.4L260.8 435.7L261.7 431.8L259.2 430.6L256.5 429.2L255.6 425.6L256.5 422.9L253.7 421.4ZM466.5 176.2L463.1 175.2L461.4 173.7L458.9 170.6L456.7 169.5L454.3 166.4L451.4 166.4L449.1 165.5L445.9 165.4L443.0 165.1L441.0 161.9L439.6 159.3L437.8 162.6L437.0 165.7L438.6 166.9L441.5 169.0L442.6 171.3L445.6 174.3L446.8 176.8L449.1 179.1L451.1 180.3L452.7 183.0L455.2 182.8L458.4 180.9L462.0 181.2L464.5 180.9ZM350.1 229.7L348.4 226.4L347.6 223.6L346.4 220.9L344.2 217.7L343.9 214.9L340.0 216.0L336.6 215.9L334.2 219.0L330.8 221.6L332.2 225.5L333.7 229.4L330.6 231.5L328.9 233.2L328.0 233.9L329.6 235.1L333.7 234.6L337.5 235.6L340.5 233.5L343.8 232.6L347.1 230.6ZM248.4 419.1L246.9 416.6L246.0 413.1L245.9 409.1L244.8 406.3L245.3 403.0L244.2 403.9L244.6 408.3L245.9 411.6L245.3 415.4L244.7 419.1L240.5 418.7L240.6 420.9L243.7 421.7L246.2 422.9L249.0 422.6L252.0 420.9ZM255.9 406.2L254.7 411.6L255.1 412.3L256.5 407.6ZM318.4 394.2L317.1 393.4L315.1 395.2L311.7 395.8L309.1 396.8L306.9 398.4L307.1 401.7L309.1 398.2L312.0 396.1L314.4 395.2L318.4 394.2ZM362.1 402.1L361.6 401.7L359.0 401.8L356.5 404.7L355.2 406.1L352.7 407.4L349.1 409.2L351.9 407.1L355.2 406.9L358.1 405.6L360.7 403.6ZM346.5 407.4L346.4 407.8L349.1 409.2ZM229.3 417.8L225.9 419.1L222.6 416.5L220.4 418.7L217.6 421.4L216.4 424.1L213.7 425.8L214.6 428.7L218.1 430.4L219.7 434.2L222.3 433.8L226.2 434.2L229.4 434.2L231.0 431.5L232.7 428.0L234.6 425.7L236.1 422.6L234.1 421.2L231.7 419.5ZM342.8 309.2L340.0 308.7L338.4 309.6L335.5 308.5L336.7 311.6L336.9 311.7L340.0 310.2ZM345.0 303.2L343.7 302.3L344.1 301.2L343.3 299.7L343.4 299.7L341.6 300.1L343.2 303.3L343.7 303.8L343.7 304.1L344.6 305.9L343.3 306.7L342.9 309.1L344.9 308.3L345.6 304.3ZM232.2 416.6L229.3 417.8L231.7 419.5L234.1 421.2L236.1 422.6L240.6 420.9L240.5 418.7L237.1 418.3L233.4 417.9L233.1 414.7L233.9 412.1L233.5 408.7L234.3 405.9L234.3 405.9L233.5 408.6L233.2 412.8ZM340.1 329.4L338.3 327.3L336.6 323.6L334.1 322.8L330.5 322.7L327.4 322.3L327.4 326.1L327.5 329.5L330.7 332.3L332.3 332.8L335.2 332.5L332.1 330.1L334.4 327.0L339.1 330.1L339.6 331.1ZM324.4 341.3L324.6 341.5L323.6 340.9L323.2 339.7L321.0 339.1L319.9 340.1L319.5 344.1L319.2 347.7L320.0 348.0L323.9 345.1L323.3 345.6L323.6 344.7L324.7 344.5L325.9 343.6L327.8 344.0L328.3 343.9L328.8 344.2ZM291.8 328.8L291.7 329.2L292.0 332.1L294.1 335.4L294.2 338.8L295.4 340.6L296.0 340.7L295.9 339.3L296.2 336.5L295.4 332.8L295.2 329.5ZM272.3 398.1L272.7 396.1L277.4 395.0L278.9 392.8L278.3 390.0L278.3 387.3L277.3 384.4L272.9 382.5L269.4 382.2L267.1 384.4L268.1 386.9L266.8 390.0L267.5 392.8L267.7 396.1ZM282.5 315.5L287.2 315.2L285.1 314.6L282.0 313.9ZM366.8 358.2L364.5 359.0L362.0 357.5L357.8 359.1L360.2 361.3L361.4 364.4L362.7 369.4L367.3 366.9L367.4 363.1L367.6 361.1ZM388.4 328.2L385.9 323.7L385.4 323.9L380.7 325.4L383.8 327.0L382.1 329.2L379.2 331.6L377.9 331.3L379.8 334.6L382.9 332.1L386.6 330.0ZM309.5 373.3L309.5 373.3L313.1 374.8L317.5 374.6L317.4 374.5L314.4 369.8L317.2 368.6L320.9 367.6L324.4 366.8L321.1 367.8L317.8 367.3L314.4 368.3L313.8 364.0L310.4 366.1L310.2 369.6ZM254.3 289.2L254.9 285.7L255.3 283.1L256.4 281.1L256.1 277.4L253.0 275.7L249.3 274.7L246.4 272.4L247.9 277.6L250.8 280.5L246.9 281.4L244.8 278.5L241.1 275.6L241.0 275.5L238.3 278.1L237.6 281.5L241.2 284.2L243.0 283.7L246.0 285.9L247.6 287.6L247.4 289.1L249.6 290.8ZM385.2 211.6L383.6 208.9L382.1 206.5L379.9 203.5L378.6 200.9L375.1 201.4L372.9 203.2L368.9 205.3L366.6 206.4L363.6 208.1L363.4 208.2L363.7 211.2L366.7 213.3L367.8 216.9L368.8 220.0L370.6 223.5L372.0 225.6L374.2 223.5L377.6 222.2L379.6 220.0L381.3 217.4L384.3 215.5ZM310.4 351.2L312.8 351.9L316.5 349.9L319.2 347.7L319.5 344.1L319.9 340.1L315.3 340.0L312.0 339.3L310.2 340.9L309.7 344.4L309.5 347.4ZM242.1 379.4L243.5 382.5L245.3 385.4L247.0 385.4L249.1 382.2L251.0 380.3L256.3 379.2L256.1 375.0L255.9 370.9L253.3 371.1L250.5 370.0L247.4 371.0L246.2 373.8L243.8 375.5ZM338.9 247.1L341.9 247.2L344.7 247.7L347.0 244.9L347.7 242.4L348.6 240.0L349.5 236.8L350.6 235.2L352.4 232.1L352.2 231.2L350.1 229.7L347.1 230.6L343.8 232.6L340.5 233.5L337.5 235.6L337.4 238.7L338.2 241.3L338.7 244.9ZM188.1 334.2L183.6 334.2L181.8 331.1L180.7 328.5L175.9 326.5L175.7 329.5L175.1 332.0L174.5 335.1L174.9 338.1L172.1 338.6L168.4 339.4L164.3 340.0L167.0 340.7L170.4 341.9L173.6 343.9L176.3 343.2L179.7 344.9L180.7 345.8L182.4 342.4L184.5 339.4L186.2 337.1ZM301.7 458.2L302.0 455.5L303.8 453.7L302.8 453.9L301.5 450.5L300.5 447.8L300.5 447.6L296.9 444.9L294.1 446.5L293.7 449.3L294.4 451.9L293.1 455.4L297.3 456.0L301.4 456.7ZM352.0 271.2L351.6 271.8L353.0 273.0L356.3 272.6L359.4 271.2L360.4 272.2L360.7 272.2L360.0 268.8L357.9 270.4L354.5 272.2L351.9 271.1ZM306.6 432.6L305.9 432.3L309.0 433.4L309.8 431.6L309.3 431.3L309.0 432.3ZM296.6 431.6L295.9 429.8L293.9 431.3L294.0 431.5L294.3 431.6L296.3 434.0L298.2 437.0L299.1 440.9L300.5 440.5L300.5 440.1L302.1 439.9L302.1 439.9L301.4 440.0L298.9 437.0L302.6 434.6L305.9 432.3L305.3 432.7L301.2 433.1ZM351.4 320.0L349.0 319.7L351.2 321.2L351.6 319.4ZM353.2 312.3L350.2 313.1L353.0 315.4L352.6 315.1ZM358.4 323.6L358.6 323.3L355.3 323.3ZM356.8 372.2L355.8 369.7L354.6 366.1L352.2 368.2L352.2 368.8L355.2 368.3L356.8 372.9L352.2 373.7L351.9 372.8L351.6 376.2L356.8 374.5L361.9 372.9L362.0 370.9ZM323.1 238.0L322.2 238.3L323.0 240.9L324.1 244.0L325.6 246.4L329.1 244.2L329.3 241.7L329.7 238.5L329.6 235.1L328.0 233.9L326.0 235.9ZM293.6 380.9L290.4 376.8L287.7 377.0L284.2 376.8L282.1 377.9L282.3 380.4L285.7 382.0L289.2 383.6ZM351.9 335.5L351.0 333.4L351.1 329.7L347.5 328.2L344.7 327.0L340.1 329.4L339.6 331.1L341.1 333.1L342.2 336.2L345.7 335.6L347.6 334.7L349.8 336.0ZM356.9 306.6L354.3 310.8L357.5 306.8ZM253.8 308.6L251.1 306.4L248.2 304.2L245.7 300.9L241.3 301.5L239.4 302.4L235.3 301.9L235.8 304.1L234.3 308.0L234.3 310.9L234.1 313.9L238.4 317.2L241.2 316.7L244.1 316.3L246.9 316.5L249.7 316.5L252.8 315.0L253.2 311.8ZM252.8 315.0L254.4 318.2L257.3 319.9L260.6 321.5L264.0 320.4L261.9 320.0L261.7 317.6L260.9 313.3L260.4 310.0L261.8 307.7L264.7 305.7L264.1 305.1L263.5 305.4L262.1 303.6L259.5 305.5L257.1 306.7L253.8 308.6L253.2 311.8ZM327.4 322.3L330.5 322.7L334.1 322.8L336.6 323.6L337.3 322.2L336.8 321.6L337.8 321.4L339.8 317.6L338.0 315.7L336.9 311.7L336.7 311.6L333.7 314.0L329.1 315.1L329.8 317.7L326.9 319.2L326.9 321.6ZM390.2 291.0L390.0 291.5L390.0 291.5L390.0 291.5L388.4 295.0L388.5 294.9L388.5 294.8L388.5 294.8L389.0 293.7L389.0 293.9L390.3 291.1ZM381.0 291.7L380.5 288.9L380.2 287.5L380.5 287.4L382.6 287.7L381.2 288.0L383.8 287.4L382.0 287.1L380.6 286.4L380.1 287.0L381.1 292.2ZM274.7 361.1L274.6 361.1L279.6 360.6L282.2 360.1L286.0 358.7L283.3 356.4L280.6 357.8L277.6 359.7ZM269.2 412.6L267.4 411.8L263.9 411.1L261.2 409.5L257.2 411.6L257.2 408.8L256.5 409.2L256.5 407.7L255.1 412.3L257.2 416.6L255.5 418.7L253.7 421.4L256.5 422.9L256.5 420.0L258.9 419.4L262.9 418.9L265.8 418.4L268.1 417.8L269.8 414.1ZM457.2 250.0L458.4 247.7L458.4 247.7L455.4 248.1L454.1 249.2L452.1 248.6L449.9 248.9L448.1 247.5L447.6 247.5L447.7 250.0L450.8 250.8L454.2 251.1ZM458.1 240.9L458.1 240.8L456.4 241.2L457.5 245.0L458.3 247.0L458.7 244.1ZM394.2 245.2L398.3 242.9L401.1 241.8L400.9 241.2L399.7 240.6L399.1 238.6L398.1 235.1L397.4 232.5L398.8 232.1L398.6 231.2L396.0 229.3L393.9 230.8L391.6 232.3L389.4 234.0L386.9 235.9L388.0 239.4L389.1 241.4L391.3 244.7ZM311.5 444.6L314.0 448.1L317.4 445.6L317.4 440.8L322.1 441.3L322.1 441.3L319.0 440.1L318.6 437.3L317.0 441.1L315.1 443.1L312.0 440.1L312.2 436.9L311.3 432.3L312.2 432.2L310.1 431.5L309.8 431.6L309.0 433.4L310.5 433.9L309.7 439.3L310.6 442.0ZM331.3 272.5L328.8 269.6L328.3 269.9L325.5 266.6L325.4 266.7L326.7 268.3L326.4 269.2L327.2 270.0L325.8 271.1L325.2 273.0L323.7 273.3L323.6 273.0L324.1 276.0L323.8 274.0L324.7 273.7L324.2 276.0L324.4 277.6L324.4 277.7L327.4 277.8L330.3 277.2ZM417.5 295.2L417.2 298.2L417.5 298.1ZM307.8 351.9L310.8 353.9L311.5 357.7L309.3 358.9L309.0 359.8L303.6 361.2L304.8 363.1L308.2 363.4L310.4 366.1L313.8 364.0L313.7 360.7L312.8 356.7L314.7 355.2L312.8 351.9L310.4 351.2ZM353.4 312.2L354.1 309.0L356.9 306.6L356.9 306.3L356.1 306.9L351.9 306.2L348.3 305.4L346.7 304.3L347.6 304.9L345.8 304.7L345.6 304.3L344.9 308.3L347.5 310.5L350.1 313.1ZM351.9 335.5L354.1 337.0L357.6 334.7L359.9 330.1L362.4 331.9L362.7 331.7L361.8 330.2L357.6 328.5L355.2 325.2L352.7 327.1L351.1 329.7L351.0 333.4ZM295.4 286.4L295.4 286.4L298.1 289.2L299.0 289.2ZM330.3 277.2L327.4 277.8L324.4 277.7L323.3 279.3L322.5 282.5L322.5 282.5L325.0 281.6L325.2 281.4L325.2 281.5L326.0 281.1L327.4 283.7L329.7 286.0L331.0 283.1L332.4 280.2ZM387.8 387.4L387.6 387.6L385.3 385.8L384.5 388.4L384.6 388.4L385.7 392.3L387.6 394.5L388.6 398.6L388.7 398.8L390.6 397.4L393.1 395.4L396.4 394.3L395.8 393.0L394.6 395.3L389.2 394.5L389.2 391.2L387.6 386.8ZM306.7 327.1L305.3 328.3L306.4 330.3L307.1 333.3L308.2 336.2L310.5 338.0L312.0 335.3L312.4 331.1L308.8 329.9ZM373.8 293.8L375.2 295.2L374.8 292.6ZM415.2 220.4L413.0 221.6L416.3 223.2L419.7 224.9L418.0 222.5ZM421.8 226.5L420.4 225.5L420.2 226.0L421.5 226.7ZM391.0 340.9L388.7 339.2L385.7 338.4L383.3 337.6L380.6 336.2L379.0 336.7L378.6 337.1L378.9 340.2L379.2 340.1L380.5 342.4L383.8 343.9L383.6 344.6L379.2 341.8L381.8 343.4L384.6 345.2L383.3 347.0L386.4 345.3L390.8 343.5ZM391.3 244.7L388.8 247.6L386.5 250.4L388.3 253.6L389.7 257.2L393.9 257.0L396.2 255.1L398.3 253.1L397.3 250.2L395.5 247.9L394.2 245.2ZM275.0 311.5L275.0 309.0L274.3 309.2ZM277.3 323.1L274.6 322.6L276.2 323.6ZM314.4 321.6L314.4 320.8L311.4 317.9L309.1 320.6L306.7 322.2L306.7 323.6L308.2 324.6L306.7 326.1L306.7 327.1L308.8 329.9L312.4 331.1L316.4 329.8L317.7 326.3L317.8 324.0L315.2 321.5ZM277.4 395.0L279.6 394.5L281.2 398.4L277.8 401.8L280.4 403.3L283.8 405.1L286.3 404.0L288.8 403.5L291.6 401.7L293.6 396.7L290.9 393.3L288.8 391.5L285.5 391.9L283.2 392.1L278.9 392.8ZM348.3 426.7L350.3 426.2L353.4 424.4L353.4 424.1L349.1 425.4ZM346.8 418.4L344.6 416.6L342.9 413.8L340.1 414.8L337.5 415.9L338.9 417.4L342.9 415.4L345.2 417.8L347.5 420.0L347.1 419.6ZM433.2 251.0L428.2 252.0L427.8 251.5L429.8 253.9L429.8 253.9L434.2 253.5L437.0 253.9ZM477.1 230.3L477.5 226.9L476.4 223.4L474.1 222.6L469.7 223.0L468.2 227.0L468.9 231.0L472.0 234.6L474.6 232.5ZM235.3 301.9L232.2 298.8L228.1 298.8L224.8 298.2L221.5 298.5L221.5 299.0L221.7 303.4L223.2 306.5L225.0 309.0L228.8 309.6L230.2 311.1L233.1 313.2L234.1 313.9L234.3 310.9L234.3 308.0L235.8 304.1ZM280.4 292.7L279.1 291.3L278.9 293.0L279.5 294.6ZM274.9 286.2L270.6 287.3L267.0 286.9L266.1 288.1L268.1 288.4L272.0 286.8L275.7 287.2ZM318.3 299.2L322.5 299.2L320.7 297.6L318.8 298.1ZM414.2 240.3L415.9 239.1L415.0 238.3L412.2 239.2L411.4 239.4L412.1 239.8L414.0 239.0ZM369.7 323.3L365.6 323.8L362.4 323.3L360.7 323.9L364.2 325.4L366.9 327.7L365.3 331.6L361.8 330.2L362.7 331.7L365.2 332.6L368.6 329.9L370.6 327.2ZM358.6 323.3L358.4 323.6L360.7 323.9L358.9 323.3ZM239.8 353.1L240.4 357.2L240.5 361.2L243.2 358.8L245.9 356.0L248.5 354.0L248.0 352.9L243.0 353.9L242.8 353.8L242.2 353.9L239.0 351.1L236.4 348.2L237.2 350.8ZM451.0 219.4L451.4 222.6L451.6 225.8L453.2 226.1L457.1 223.7L454.4 220.7L453.6 216.7L455.2 213.8L457.4 211.9L458.6 208.0L457.4 211.9L455.2 213.8L453.6 216.7L451.1 219.3ZM359.1 386.8L357.6 382.2L359.5 381.5L363.0 379.9L359.1 380.7L356.9 380.5L354.1 380.5L355.1 382.7L355.6 386.5L356.1 389.0L358.4 390.1L362.6 388.0ZM366.8 384.5L365.0 386.8L369.2 384.6L369.7 382.6L367.0 380.7L364.3 378.8L363.0 379.9L365.9 381.6ZM327.5 329.5L323.6 332.1L328.3 331.6L330.7 332.3ZM321.0 339.1L323.2 339.7L322.1 337.3L321.1 333.9ZM363.9 251.4L364.6 250.8L364.4 250.2L367.2 248.3L367.2 248.2L364.9 247.4L361.9 245.1L359.7 243.8L356.9 241.8L355.3 245.3L354.1 248.6L355.5 250.0L357.6 251.4L362.2 249.8L363.0 251.4ZM383.8 406.1L379.3 403.5L379.2 403.6L382.2 405.0L383.8 406.9L383.0 410.7L380.6 411.7L382.3 412.1L386.4 411.0L387.4 412.6L385.3 409.2L388.1 406.9L392.1 406.2L391.4 404.8L387.6 406.1L386.7 403.6ZM317.1 393.4L318.4 394.2L321.5 394.4L324.5 392.2L328.6 391.6L331.4 390.8L331.5 390.7L325.9 390.7L325.2 387.7L321.3 387.2L318.2 388.4L316.1 386.7L315.7 387.1L317.0 390.4ZM371.3 348.1L370.6 345.5L369.2 342.4L368.5 339.4L364.6 341.8L365.4 344.9L366.1 347.5L368.5 352.4ZM494.1 170.6L492.7 173.1L491.5 176.2L490.2 177.4L489.4 180.9L489.1 181.1L489.6 180.8L492.6 178.9L493.2 177.7L493.3 174.4ZM483.8 172.3L485.2 174.7L487.7 172.0L490.8 169.6L494.2 169.6L494.4 167.6L491.8 168.8L489.7 169.7L486.9 171.6ZM369.7 323.3L370.6 327.2L372.6 327.7L372.2 325.4L370.1 323.3ZM401.5 383.0L400.8 383.0L400.8 383.0L401.0 384.3L401.5 383.8ZM389.5 378.9L388.6 379.5L391.5 383.0L389.8 385.1L390.1 385.2L392.3 383.7ZM428.3 268.6L430.0 266.6L432.2 264.6L430.1 266.3L427.6 268.8ZM331.3 272.5L335.6 270.9L338.8 269.2L338.1 267.6L337.1 266.3L337.6 266.2L337.5 266.0L339.2 265.5L339.1 264.4L335.0 264.0L332.2 262.2L332.9 267.6L328.8 269.6ZM252.3 322.1L253.8 324.6L257.7 326.0L261.5 327.7L261.5 330.6L260.7 333.9L261.9 334.6L262.7 333.8L262.2 330.6L260.8 328.3L261.3 324.1L260.6 321.5L257.3 319.9L254.4 318.2ZM378.1 282.6L374.6 283.8L375.2 283.6L375.6 283.6L375.8 284.5L373.5 284.3L376.1 284.5L377.2 287.4L380.1 286.8L380.1 287.0L380.6 286.4L377.7 284.8ZM331.5 254.1L334.4 251.6L334.7 250.2L331.6 247.3L329.1 244.2L325.6 246.4L326.8 248.9L328.1 252.2L330.2 254.0ZM400.5 263.9L403.3 261.9L399.8 263.2L397.9 265.0L397.8 265.1L397.8 265.8ZM399.3 360.2L396.9 359.0L399.1 360.9ZM280.5 338.5L283.0 340.3L285.5 342.8L287.9 343.7L290.6 344.8L292.8 342.8L295.4 340.6L294.2 338.8L294.1 335.4L292.0 332.1L291.7 329.2L289.5 331.1L286.4 333.6L284.5 334.5L283.4 336.3ZM395.1 325.3L394.7 325.0L391.4 322.0L391.4 322.0L391.4 321.9L391.5 322.3L391.1 322.4L390.4 323.3L387.7 323.3L385.9 323.7L388.4 328.2L390.2 328.7L392.6 326.2ZM390.4 216.6L389.2 211.8L391.6 211.6L394.9 212.6L397.0 215.1L400.3 215.5L402.1 216.7L401.8 213.8L401.5 210.9L400.4 207.4L400.9 203.7L398.2 205.1L395.7 206.2L393.1 208.0L390.4 208.9L387.2 209.8L385.2 211.6L384.3 215.5L386.4 217.6L390.4 220.0ZM317.3 301.6L317.3 299.7L317.6 299.8L317.7 300.7L317.7 300.7L317.5 299.2L318.3 299.2L318.8 298.1L316.8 296.9L317.3 301.7ZM213.8 378.4L215.6 379.1L219.0 380.9L221.4 382.2L224.6 382.0L227.5 383.5L229.8 381.1L232.9 378.3L232.6 376.1L230.6 378.0L227.7 376.5L225.1 374.3L223.2 371.4L220.4 372.2L216.5 374.7L214.7 372.7L215.3 375.1ZM232.9 378.3L236.0 378.2L238.7 378.9L242.1 379.4L243.8 375.5L246.2 373.8L247.4 371.0L244.9 368.7L242.3 365.2L240.6 362.9L240.6 363.1L239.5 365.8L239.4 368.5L237.3 371.4L235.9 373.4L232.6 376.1ZM295.1 413.0L299.7 410.7L304.3 412.3L303.8 412.1L304.3 410.7L304.8 408.4L301.5 409.5L296.8 409.0ZM293.8 416.1L294.7 416.9L294.1 415.4ZM269.8 414.1L268.1 417.8L271.5 416.8L274.8 415.9ZM375.6 242.7L375.8 243.0L376.1 242.9L378.6 245.8L380.5 247.7L380.4 244.3L378.5 242.5L378.5 239.5L376.6 236.9L376.2 233.6L374.3 236.3L373.4 237.7L370.8 241.4L370.8 243.4L368.8 244.9L367.2 248.2L367.2 248.3L369.3 246.8L373.3 244.4ZM282.1 377.9L279.1 379.3L278.2 378.8L276.6 379.9L274.0 378.3L270.4 376.8L269.0 372.7L268.7 376.5L269.1 378.4L269.4 382.2L272.9 382.5L277.3 384.4L279.3 381.8L282.3 380.4ZM444.6 239.6L444.9 237.8L445.9 237.7L447.0 236.2L443.7 235.1L440.0 235.3L439.3 234.6L437.2 235.9L437.8 239.7L438.5 242.2L441.5 243.8ZM361.6 401.7L361.0 398.9L360.0 396.5L360.0 392.7L358.4 390.1L356.1 389.0L353.0 390.5L350.1 391.7L347.4 392.6L346.4 396.2L349.1 394.5L352.7 394.5L355.2 393.4L358.3 393.0L358.8 396.9L360.6 399.9L359.0 401.8ZM384.9 263.9L383.8 262.9L380.5 264.5L377.6 266.0L380.7 265.2L383.8 264.5L384.0 264.6ZM316.4 329.8L312.4 331.1L312.0 335.3L310.5 338.0L312.1 339.3L312.0 339.3L315.3 340.0L319.9 340.1L321.0 339.1L321.1 333.7L319.2 331.1ZM407.9 400.3L409.9 395.8L411.0 392.6L408.3 393.6L405.8 395.3L404.6 396.8L403.4 396.6L401.8 397.5L402.4 402.1L401.9 404.3L402.5 408.5L404.4 406.4L406.1 403.2ZM225.1 400.1L223.6 400.8L220.4 398.6L218.7 397.1L218.4 397.2L219.6 397.8L219.6 401.1L221.5 404.5L222.1 401.6L225.5 400.0L227.1 399.1L230.1 401.1L228.6 397.4L228.5 393.9L227.1 394.3L226.0 397.4ZM294.2 350.7L296.6 345.9L296.6 345.9L296.2 341.9L298.4 346.4L296.7 344.8L295.8 341.3L296.1 341.3L296.0 340.7L295.4 340.6L292.8 342.8L290.6 344.8L290.6 348.3ZM335.2 352.1L330.7 353.3L327.5 354.4L325.8 354.0L325.9 355.2L325.9 355.2L326.7 359.1L330.8 358.6L333.5 358.0L336.3 356.6L335.7 353.2L331.6 353.2ZM404.0 289.7L403.9 291.7L404.0 292.2L404.5 292.3L410.0 292.3L406.3 291.7ZM368.6 280.8L368.0 280.3L367.6 280.9L367.9 281.1ZM351.2 321.2L349.0 319.7L346.9 319.5L346.9 319.5L346.1 322.2L346.8 323.9L345.5 324.4L344.7 327.0L347.5 328.2L351.1 329.7L352.7 327.1L355.2 325.2L353.7 323.1L353.9 323.3L350.8 323.3ZM315.7 387.1L316.1 386.7L315.1 386.0L317.4 382.5L318.2 379.9L317.5 374.6L313.1 374.8L309.5 373.3L309.8 377.4L310.2 380.0L310.3 384.0L311.9 385.6Z"/>
<path fill="#939598" d="M53.9 313.7L55.3 316.2L58.1 319.1L60.1 321.7L62.8 324.0L64.1 325.9L65.6 328.8L67.9 331.4L70.5 334.6L71.2 337.2L73.5 340.2L75.6 342.9L78.2 345.6L79.9 347.5L82.1 350.9L84.2 352.6L88.0 354.1L91.3 354.5L94.9 355.5L97.2 356.5L101.0 357.7L103.7 357.8L106.8 358.1L109.3 359.3L110.9 363.3L111.2 367.0L114.2 364.8L115.4 363.1L118.0 360.3L121.3 360.0L124.4 359.4L125.1 356.1L126.7 352.6L126.7 349.7L123.8 347.8L125.8 343.5L126.7 340.0L123.3 338.1L119.9 336.2L116.2 334.9L113.3 333.3L110.3 331.4L107.6 329.8L105.5 327.8L103.1 326.8L100.7 324.6L99.6 322.6L96.7 320.9L94.9 317.9L91.0 318.8L90.2 323.0L89.1 326.5L85.5 328.3L82.3 330.4L81.3 327.7L80.5 325.4L78.2 322.4L77.5 319.8L77.8 317.7L79.7 314.4L79.8 311.7L79.8 309.4L81.4 306.3L78.3 306.3L74.4 305.1L72.0 304.5L68.6 304.1L65.9 303.4L64.9 306.4L63.4 309.1L62.1 312.1L58.4 312.9ZM124.4 359.4L124.8 359.3L126.9 362.0L130.0 363.6L132.7 365.1L135.4 368.0L137.3 370.5L138.3 373.1L139.3 375.4L141.2 377.6L144.1 377.9L147.4 378.5L151.3 379.0L154.7 380.5L156.4 379.1L159.2 377.0L162.4 375.7L162.5 375.7L163.3 370.9L161.1 367.6L160.0 365.5L158.5 362.2L155.1 361.4L151.9 361.1L147.9 359.3L150.1 357.1L152.1 355.2L154.7 352.6L151.7 350.6L148.9 348.7L146.0 348.8L143.1 348.6L140.2 348.7L137.3 348.7L133.3 348.5L130.5 349.5L126.7 349.7L126.7 352.6L125.1 356.1ZM216.7 220.9L216.0 220.7L215.5 217.7L215.9 214.7L214.7 212.0L214.0 208.7L213.6 205.8L213.1 203.3L211.0 200.9L208.4 200.1L205.7 197.7L203.8 196.3L201.6 194.6L202.9 195.4L199.5 193.1L198.5 191.1L195.2 189.6L191.8 189.3L187.1 187.8L185.3 191.0L184.1 193.3L182.6 196.9L181.0 199.6L179.7 202.2L179.0 204.6L179.5 207.5L179.1 211.3L178.5 213.9L178.4 216.9L178.5 220.3L177.8 223.5L177.8 226.2L180.6 228.1L182.6 229.7L185.2 231.7L188.1 232.6L190.3 234.9L193.0 234.2L195.8 233.7L198.4 233.5L200.9 232.7L204.9 231.6L207.2 230.9L210.0 230.1L210.1 229.7L212.7 227.0L214.7 224.1ZM103.6 153.1L103.8 156.0L104.6 158.6L104.5 161.6L103.4 164.4L102.5 168.3L101.6 171.3L99.4 173.1L97.1 174.9L93.9 176.1L92.3 181.0L95.0 181.1L99.4 182.3L102.0 182.7L104.4 182.6L108.6 183.1L111.2 183.8L114.4 183.4L118.5 183.3L120.9 182.9L123.5 183.7L127.4 185.2L130.5 186.3L133.4 184.8L131.1 182.8L129.7 181.4L127.3 179.5L125.1 176.6L123.8 175.2L121.8 173.2L119.5 170.5L118.0 169.0L116.0 166.5L113.8 164.2L112.3 163.0L110.3 159.3L107.9 157.1L105.5 155.3ZM92.3 181.0L92.0 181.9L88.0 181.2L84.8 181.5L81.4 181.9L78.1 182.8L74.7 182.4L74.6 182.9L73.7 187.7L70.7 189.0L66.5 191.5L64.0 192.5L66.7 194.1L69.3 195.3L71.8 197.0L73.7 197.2L76.5 199.2L76.4 202.6L76.3 204.9L75.6 207.9L78.4 209.4L81.6 210.0L83.9 211.8L86.8 213.3L89.0 213.8L91.8 215.0L94.8 217.2L98.0 218.5L100.9 219.1L103.5 220.5L107.0 219.8L110.3 217.6L111.6 214.8L113.9 212.5L115.1 209.9L116.0 206.9L116.7 204.1L117.8 201.0L119.0 197.7L118.5 195.4L120.1 192.5L120.9 189.6L117.8 188.0L115.5 187.0L113.5 185.3L111.2 183.8L108.6 183.1L104.4 182.6L102.0 182.7L99.4 182.3L95.0 181.1ZM111.2 183.8L113.5 185.3L115.5 187.0L117.8 188.0L120.9 189.6L120.1 192.5L118.5 195.4L119.0 197.7L117.8 201.0L116.7 204.1L116.0 206.9L115.1 209.9L113.9 212.5L111.6 214.8L110.3 217.6L107.0 219.8L103.5 220.5L102.2 222.8L100.9 226.6L99.7 230.2L98.7 233.0L99.0 235.3L99.5 238.4L99.5 241.6L99.7 244.6L98.4 247.8L97.2 249.7L95.8 252.3L96.9 254.8L98.6 257.7L100.7 260.0L101.1 262.9L101.6 265.8L101.6 265.8L101.6 265.8L105.1 267.0L108.8 266.9L112.2 267.7L115.4 267.3L118.6 266.2L122.8 265.6L125.7 265.8L128.5 267.4L130.7 268.1L133.5 271.0L135.6 270.9L139.0 273.5L141.2 274.5L144.2 274.9L147.6 275.3L149.5 276.1L152.7 277.4L153.7 275.0L153.7 275.0L154.6 272.5L154.5 270.1L155.8 266.7L156.6 263.9L156.2 261.0L155.3 258.9L154.9 255.1L154.7 252.3L157.7 252.3L161.1 251.3L163.7 251.9L166.9 251.3L170.1 251.3L172.6 252.3L175.9 251.3L179.7 248.4L181.1 246.4L182.6 243.6L185.0 241.9L186.4 239.6L188.0 236.9L190.3 234.9L188.1 232.6L185.2 231.7L182.6 229.7L180.6 228.1L177.8 226.2L177.8 223.5L178.5 220.3L178.4 216.9L178.5 213.9L179.1 211.3L179.5 207.5L179.0 204.6L179.7 202.2L177.3 201.1L173.6 200.8L171.2 198.6L168.4 197.6L165.1 196.7L162.4 196.4L160.1 197.4L156.6 198.3L152.7 195.4L149.7 194.3L146.0 193.5L142.7 192.2L140.5 189.7L138.0 188.0L133.4 184.8L130.5 186.3L127.4 185.2L123.5 183.7L120.9 182.9L118.5 183.3L114.4 183.4ZM158.5 178.0L157.6 180.5L154.8 184.1L153.7 186.7L151.1 189.1L149.2 190.6L146.0 193.5L149.7 194.3L152.7 195.4L156.6 198.3L160.1 197.4L162.4 196.4L160.7 193.1L159.2 189.9L157.5 186.7L158.6 183.6L160.4 179.0ZM282.6 281.4L284.4 284.6L286.4 288.2L289.3 286.2L288.1 283.3L287.3 279.7L286.4 276.6L282.6 275.6ZM350.5 281.8L350.8 282.4L352.8 283.1L351.4 282.2L350.9 281.6ZM354.2 280.3L350.9 281.6L351.4 282.2L354.5 283.5L356.8 285.6L354.9 283.3ZM375.5 311.6L376.4 310.3L375.6 310.8ZM385.7 270.2L384.6 266.1L384.6 269.1ZM388.3 271.5L386.3 270.8L387.7 272.2ZM386.2 264.0L385.2 264.0L384.6 264.1L384.1 264.4L385.1 267.4L385.8 270.6L389.3 271.8L390.7 269.5L388.8 266.3ZM334.8 431.5L334.8 431.7L339.8 432.3L341.9 432.2L346.0 430.8L346.1 430.7L343.6 431.1L340.7 432.1L338.1 431.4ZM368.6 306.2L367.3 306.5L368.1 308.5L368.9 308.1ZM368.1 308.5L367.4 306.7L365.3 306.9L367.1 309.0ZM368.9 308.1L372.8 308.7L375.6 310.8L376.4 310.3L377.7 308.2L373.1 305.4L368.6 306.2ZM377.4 309.7L377.1 309.3L376.4 310.3ZM375.6 310.8L372.8 308.7L368.9 308.1L368.1 308.5L369.1 311.1L372.7 311.4L375.4 311.7L375.5 311.6ZM367.1 309.0L369.9 312.3L372.7 311.5L369.1 311.1L368.1 308.5ZM302.3 331.0L305.3 328.3L305.1 327.7L302.4 327.7L298.8 327.5L295.1 328.5L295.2 329.5L299.5 330.2ZM306.3 417.2L309.2 418.5L312.7 419.3L314.8 421.0L317.2 418.8L320.9 418.3L320.3 415.4L318.9 412.4L319.1 409.6L316.1 408.0L312.8 408.6L310.6 407.5L307.4 406.9L306.0 408.4L306.6 411.9L307.1 414.5ZM268.5 349.1L267.6 353.8L268.2 354.4L269.0 352.8L270.7 349.3L270.1 347.8ZM265.3 351.5L267.6 353.8L268.5 349.1ZM334.8 431.5L332.4 430.6L330.1 427.7L327.6 425.6L326.2 427.7L329.0 427.7L329.8 428.4L330.6 428.5L331.1 429.5L333.6 431.6L334.8 431.7ZM322.3 442.0L324.5 442.9L324.4 441.6L322.1 441.3ZM311.2 428.8L313.4 432.1L318.2 431.6L318.8 433.1L321.3 431.4L322.9 427.7L324.4 427.7L326.2 427.7L327.6 425.6L327.0 421.9L324.7 420.8L320.9 418.3L317.2 418.8L314.8 421.0L313.0 423.3L311.7 426.4ZM277.9 434.8L275.6 437.3L278.1 438.5L281.6 435.9L281.3 435.6ZM322.3 442.0L319.5 443.9L317.4 445.6L317.4 449.3L318.9 451.5L321.3 453.9L323.1 451.3L325.2 449.3L324.4 446.1L324.5 442.9ZM346.1 430.7L347.6 427.9L347.5 426.9L347.8 426.9L345.7 424.6L343.3 423.0L340.7 420.0L338.9 417.4L336.1 419.1L333.6 420.0L331.5 418.6L329.0 419.9L327.0 421.9L327.6 425.6L330.1 427.7L332.4 430.6L334.8 431.5L338.1 431.4L340.7 432.1L343.6 431.1ZM300.4 426.2L300.4 425.6L297.5 425.7L294.3 426.2L295.9 429.8L297.8 428.0ZM275.3 429.4L276.1 431.1L277.9 434.8L281.3 435.6L279.6 433.9L283.4 432.4L281.2 428.5L278.1 424.8ZM489.4 186.4L490.6 183.6L489.1 181.1L487.5 182.6L483.7 185.1L482.1 187.0L479.1 188.4L476.2 189.9L479.9 189.9L483.3 190.0L486.1 189.1L489.5 188.4ZM291.2 268.3L292.0 264.7L292.5 261.6L291.3 262.6L290.9 265.0ZM299.9 257.7L298.0 257.3L296.0 257.8L292.8 259.8L291.6 261.8L291.8 265.6L291.2 268.3L289.3 269.3L291.9 272.0L296.7 271.3L299.4 268.8L301.2 264.6L300.1 261.4ZM312.3 294.3L316.8 296.9L316.7 296.1L312.2 294.1ZM313.5 294.5L313.1 294.5L316.2 295.9L316.1 295.6ZM209.0 400.3L211.1 399.1L216.2 397.9L218.4 397.2L214.7 394.7L212.1 394.1L209.1 395.6L206.3 397.3L204.6 399.1L204.7 399.6ZM363.1 429.0L363.4 432.2L363.8 436.5L364.2 440.0L364.5 440.1L367.4 438.0L369.9 433.9L370.5 430.5L370.7 427.7L368.3 426.1L365.7 427.7ZM303.5 419.4L303.1 422.1L302.8 425.4L305.7 427.1L310.5 427.7L311.2 428.8L311.7 426.4L313.0 423.3L314.8 421.0L312.7 419.3L309.2 418.5L306.3 417.2ZM300.4 426.2L303.6 427.5L307.0 429.2L309.3 431.3L310.5 427.7L305.7 427.1L302.8 425.4L300.4 425.6ZM282.6 281.4L282.6 281.1L282.2 278.9L282.2 279.0L281.9 280.6L282.7 281.6L282.6 281.6ZM288.5 280.8L288.8 283.6L289.2 283.5ZM287.4 279.7L288.9 284.8L288.5 280.8L288.2 279.9ZM282.6 281.6L282.8 282.2L285.1 286.8L285.6 286.6L284.3 283.9ZM282.6 278.6L282.1 278.5L282.6 281.1ZM363.1 429.0L359.5 427.1L356.7 426.0L356.0 429.0L356.0 433.9L358.3 438.5L361.3 438.7L364.2 440.0L363.8 436.5L363.4 432.2ZM332.4 301.6L331.8 301.8L333.0 304.7L334.4 307.7L335.3 307.8L334.7 305.3L333.2 302.1ZM331.3 301.9L331.5 303.1L332.6 303.7L331.8 301.8ZM335.3 307.8L334.4 307.7L333.0 304.6L333.6 307.7L335.5 308.5ZM306.7 309.7L309.0 312.9L312.5 311.8L315.9 311.5L316.5 308.7L317.1 305.9L316.1 304.6L311.9 304.7L307.9 304.8ZM313.3 312.1L309.6 312.8L311.1 313.4ZM317.0 306.1L316.2 310.3L317.3 309.6ZM476.3 222.4L475.9 219.3L475.6 216.5L476.7 212.9L475.9 208.0L478.2 207.4L475.5 207.4L473.7 204.4L470.2 204.1L467.9 205.7L465.2 208.0L465.3 211.8L465.8 214.6L466.1 218.3L467.6 220.2L471.3 221.2L474.1 222.6ZM300.1 299.0L300.9 294.8L295.9 296.1L297.8 299.9ZM351.9 273.8L349.5 274.6L346.8 277.6L349.7 279.3L350.9 281.6L354.2 280.3L354.4 279.8L353.7 276.9ZM327.0 421.9L329.0 419.9L331.5 418.6L329.0 416.9L328.3 413.0L328.2 409.2L326.7 404.6L326.7 404.5L322.1 404.9L319.1 409.6L318.9 412.4L320.3 415.4L320.9 418.3L324.7 420.8ZM276.6 416.4L276.6 415.4L274.8 415.9ZM470.2 204.1L469.9 200.7L471.3 197.1L471.3 195.1L471.6 192.2L467.2 194.4L464.5 196.8L463.5 200.6L461.0 203.9L459.1 207.2L462.5 208.0L465.2 208.0L467.9 205.7ZM466.1 218.3L463.1 220.4L460.8 222.7L457.1 223.7L457.3 224.2L460.7 222.8L462.1 220.9L464.8 219.2L467.6 220.2ZM289.3 269.3L285.1 271.4L283.9 276.0L286.4 276.6L286.7 277.6L288.2 277.6L288.8 278.7L290.5 275.2L291.9 272.0ZM288.8 278.7L288.2 277.6L288.4 279.6ZM282.6 278.6L282.6 277.6L282.0 277.6L282.1 278.5ZM287.4 279.7L288.2 279.9L288.4 279.6L288.2 277.6L286.7 277.6ZM306.7 309.7L307.9 304.8L306.9 302.4L302.7 300.7L300.1 299.0L297.8 299.9L299.0 302.3L301.3 306.9L299.9 311.6L302.6 310.9ZM304.2 279.1L304.2 279.1L302.0 276.5L299.5 273.2L296.7 271.3L291.9 272.0L290.5 275.2L288.8 278.7L291.2 283.0L295.4 286.4L296.6 284.4L299.8 282.8L301.8 280.9ZM288.4 279.6L288.5 280.8L289.2 283.5L291.2 282.8L288.8 278.7ZM478.2 207.4L480.8 206.7L485.1 204.8L488.0 201.4L490.0 198.4L489.8 195.0L490.0 191.4L489.5 188.4L486.1 189.1L483.3 190.0L479.9 189.9L476.2 189.9L471.6 192.2L471.3 195.1L471.3 197.1L469.9 200.7L470.2 204.1L473.7 204.4L475.5 207.4ZM306.0 408.4L307.4 406.9L307.1 401.7L305.9 403.0L304.8 408.4ZM300.1 299.0L302.7 300.7L306.9 302.4L308.3 300.0L310.4 296.8L312.3 294.3L312.2 294.1L309.8 293.0L304.9 293.9L302.0 294.6L300.9 294.8ZM312.8 268.7L310.4 271.1L309.1 274.3L306.2 276.1L304.2 279.1L304.2 279.1L307.1 281.8L310.5 281.9L311.3 280.7L313.3 278.8L315.9 275.3L318.7 274.4L317.9 271.8L314.9 270.0ZM392.6 407.3L390.1 409.9L387.4 412.6L387.6 413.1L391.4 412.6L395.4 412.3L396.8 408.1ZM256.5 353.1L257.0 349.6L256.5 346.5L256.4 348.3L255.9 352.2ZM258.3 338.4L257.3 339.3L256.8 344.3L259.7 343.1ZM257.3 339.3L256.9 340.1L256.9 343.4ZM257.5 354.7L257.8 354.7L262.0 351.2L262.1 348.4L260.8 345.1L259.7 343.1L256.5 344.4L257.5 347.3L257.2 349.9L256.5 353.1ZM326.7 404.5L326.2 401.2L325.9 396.8L322.6 395.2L319.8 393.8L318.5 394.1L318.4 394.2L319.7 397.0L321.0 399.5L320.9 402.1L322.1 404.9ZM209.0 400.3L204.7 399.6L204.9 402.8L205.8 405.4L208.1 407.0L210.0 409.5L212.1 411.6L216.3 412.4L219.6 414.1L220.7 408.9L217.4 407.2L217.0 405.8L213.6 403.9L210.9 402.2ZM263.5 335.5L264.6 336.2L266.5 339.6L267.1 337.1L266.5 333.9ZM259.7 343.1L264.2 341.3L266.3 344.1L266.6 342.4L265.3 339.0L264.0 337.8L261.9 334.7L258.3 338.4ZM270.1 347.8L269.0 345.5L267.6 341.6L266.5 339.7L264.6 336.2L261.9 334.6L258.2 338.2L258.3 338.4L261.9 334.7L264.0 337.8L265.3 339.0L266.6 342.4L266.3 344.1L268.8 347.5L268.5 349.1ZM265.3 351.5L268.5 349.1L268.8 347.5L265.7 344.0L264.2 341.3L259.7 343.1L260.8 345.1L262.1 348.4L262.0 351.2ZM240.3 407.4L244.2 403.9L243.4 400.3L241.1 401.0L237.6 401.6L234.7 401.6L234.3 405.9L237.4 406.5ZM303.8 349.3L306.1 350.8L307.0 346.9L306.6 344.4L305.9 347.5L302.3 348.4ZM310.2 339.2L307.1 338.8L304.1 338.3L300.2 341.3L303.3 341.6L307.4 341.3L306.8 343.8L310.2 340.9ZM302.2 348.4L302.3 348.4L305.9 347.5L306.5 344.4L307.4 341.3L303.3 341.6L300.2 341.3L300.1 341.4L301.7 344.7ZM362.6 388.0L363.7 388.4L365.0 386.8ZM332.4 301.6L332.3 299.0L330.6 299.2L331.8 301.8ZM331.8 301.8L331.0 300.1L331.3 301.9ZM306.7 309.7L302.6 310.9L299.9 311.6L299.7 312.3L302.8 311.5L305.8 312.4L305.9 312.3L305.9 312.4L308.2 313.1L309.0 312.9ZM261.7 431.8L265.8 433.9L269.9 434.4L271.9 435.4L275.6 437.3L277.9 434.8L276.1 431.1L275.3 429.4L272.6 428.6L269.2 427.6L268.1 426.6L264.4 425.6L262.9 426.3L262.8 428.2ZM266.5 434.1L265.8 433.9L263.3 432.6L262.2 432.9L263.5 435.7L266.5 437.9ZM422.6 242.4L423.2 243.2L427.2 244.0L428.2 243.3L432.1 239.4L430.3 236.8L428.8 234.3L426.9 236.7L424.8 239.7ZM423.7 243.8L425.1 245.2L425.6 244.9L427.2 244.0L423.2 243.2ZM431.6 239.9L428.2 243.3L429.8 242.3L430.3 242.6L432.6 241.5ZM267.6 353.8L267.3 355.2L266.6 355.5L267.6 355.5L268.2 354.4ZM265.3 351.5L262.0 351.2L257.8 354.7L262.9 356.2L262.9 356.9L267.3 355.2L267.6 353.8ZM404.2 242.9L401.6 244.0L403.5 247.3L405.2 248.8L405.2 248.8L403.9 246.8L402.0 244.0L404.2 242.9ZM404.2 242.9L402.0 244.0L404.5 246.0L405.5 249.2L406.5 248.8L405.1 244.9ZM386.2 264.0L388.8 266.3L390.7 269.5L392.8 266.0L390.5 262.5L386.4 263.6ZM396.8 408.1L396.9 407.6L392.3 406.1L392.1 406.2L392.6 407.3ZM413.0 300.1L411.7 296.7L409.3 296.7L409.6 298.4L412.1 300.4ZM368.3 426.1L365.8 424.4L363.0 422.3L360.6 423.8L356.8 425.4L356.7 426.0L359.5 427.1L363.1 429.0L365.7 427.7ZM422.6 242.4L424.8 239.7L426.9 236.7L428.8 234.3L427.5 232.5L423.2 233.6L420.6 233.6L420.5 236.8L420.7 239.6L421.6 242.3ZM420.3 240.4L421.6 241.7L421.5 238.3L420.6 234.1L420.1 234.1L419.8 237.8L420.1 239.9ZM421.6 242.3L421.7 242.9L423.2 243.2L422.6 242.4ZM363.9 278.5L363.9 279.9L366.8 282.2L367.6 280.9ZM364.6 280.5L364.3 281.6L365.5 281.8L365.4 281.1ZM361.3 276.9L358.8 278.5L354.4 279.8L354.2 280.3L354.9 283.3L356.8 285.6L357.6 286.1L361.1 284.3L363.8 283.8L362.2 280.7L364.3 281.7L364.6 280.5L363.9 279.9L363.9 278.5ZM332.4 301.6L333.2 302.1L336.9 300.2L340.7 300.3L339.1 298.4L335.8 299.7L332.3 299.0ZM341.6 300.1L341.1 299.0L340.6 299.2L339.7 299.2L340.7 300.3ZM256.5 422.9L255.6 425.6L256.5 429.2L259.2 430.6L261.7 431.8L262.8 428.2L262.9 426.3L259.7 424.6ZM240.3 407.4L239.4 410.4L240.3 412.7L240.5 416.4L240.5 418.7L244.7 419.1L245.3 415.4L245.9 411.6L244.6 408.3L244.2 403.9ZM322.1 404.9L320.9 402.1L321.0 399.5L319.7 397.0L318.4 394.2L314.4 395.2L312.0 396.1L309.1 398.2L307.1 401.7L307.4 406.9L310.6 407.5L312.8 408.6L316.1 408.0L319.1 409.6ZM333.2 302.1L334.7 305.3L335.3 307.8L337.9 308.5L342.8 309.2L342.9 309.1L343.7 303.8L340.7 300.3L336.9 300.2ZM340.7 300.3L343.2 303.3L341.6 300.1ZM335.5 308.5L338.4 309.6L340.0 308.7L335.3 307.8ZM343.7 304.1L343.3 306.7L344.6 305.9ZM234.3 405.9L233.5 408.7L233.9 412.1L233.1 414.7L233.4 417.9L237.1 418.3L240.5 418.7L240.5 416.4L240.3 412.7L239.4 410.4L240.3 407.4L237.4 406.5ZM312.8 268.7L314.9 270.0L317.9 271.8L319.7 270.9L323.1 268.2L325.4 266.7L323.6 264.5L321.4 263.0L317.2 262.1L314.4 260.6L314.2 260.5L313.7 264.8L312.3 267.7ZM295.2 329.5L295.4 332.8L296.2 336.5L295.9 339.3L296.0 340.7L299.6 341.3L300.2 341.3L304.1 338.3L303.3 334.7L302.3 331.0L299.5 330.2ZM310.2 339.2L310.2 340.9L312.0 339.3L310.2 339.1ZM312.3 267.7L313.7 264.8L314.2 260.5L313.4 260.2L309.7 259.7L306.0 259.0L303.3 258.8L299.9 257.7L300.1 261.4L301.2 264.6L304.5 264.9L306.8 266.1L309.8 267.2ZM302.0 455.5L301.2 450.1L297.7 450.4L293.5 451.6L295.1 455.5L298.4 455.3ZM356.3 272.6L360.4 272.2L359.4 271.2ZM362.0 273.8L360.7 272.2L356.2 271.8L353.0 273.0L351.9 273.8L353.7 276.9L354.4 279.8L358.8 278.5L361.3 276.9ZM300.4 426.2L297.8 428.0L295.9 429.8L296.6 431.6L301.2 433.1L305.3 432.7L305.9 432.3L306.6 432.6L309.0 432.3L309.3 431.3L307.0 429.2L303.6 427.5ZM307.1 281.8L306.9 287.2L308.5 284.3L310.5 281.9ZM301.2 264.6L299.4 268.8L296.7 271.3L299.5 273.2L302.0 276.5L304.2 279.1L306.2 276.1L309.1 274.3L310.4 271.1L312.8 268.7L312.3 267.7L309.8 267.2L306.8 266.1L304.5 264.9ZM380.8 289.3L380.7 288.4L381.2 288.3L381.2 288.0L382.6 287.7L380.5 287.4L380.8 289.2ZM388.4 288.9L387.7 288.2L383.8 287.4L381.2 288.0L381.0 291.7L381.1 292.2L385.3 292.7L388.1 295.0L388.4 295.0L390.2 291.0ZM381.2 288.3L380.7 288.4L381.1 291.0ZM264.0 418.7L258.5 417.9L258.8 419.6ZM262.9 426.3L264.4 425.6L265.9 423.1L266.6 420.3L268.1 417.8L265.8 418.4L262.9 418.9L258.9 419.4L256.5 420.0L256.5 422.9L259.7 424.6ZM322.3 442.0L322.1 441.3L317.4 440.8L317.4 445.6L319.5 443.9ZM326.4 269.2L325.8 271.1L327.2 270.0ZM317.9 271.8L318.7 274.4L323.6 273.0L323.7 273.3L325.2 273.0L326.7 268.3L325.4 266.7L323.1 268.2L319.7 270.9ZM417.2 298.2L417.5 295.2L417.5 293.7L415.9 293.0L414.1 292.9L411.7 296.7L413.0 300.1ZM307.1 281.8L304.2 279.1L301.8 280.9L299.8 282.8L296.6 284.4L295.4 286.4L299.0 289.2L301.8 288.9L306.7 287.6L306.9 287.2ZM302.3 331.0L303.3 334.7L304.1 338.3L307.1 338.8L310.2 339.2L310.2 339.1L310.5 338.0L308.2 336.2L307.1 333.3L306.4 330.3L305.3 328.3ZM381.1 292.2L381.2 292.6L381.2 292.9L383.5 296.1L387.7 295.6L388.1 295.0L385.3 292.7ZM382.8 295.1L381.3 293.1L381.5 294.6ZM348.7 424.9L348.8 424.4L347.5 420.0L345.2 417.8L342.9 415.4L338.9 417.4L340.7 420.0L343.3 423.0L345.7 424.6L347.8 426.9L348.3 426.7L349.1 425.4L348.9 424.8ZM476.3 222.4L474.1 222.6L476.4 223.4ZM317.1 305.9L317.5 303.8L317.3 301.7L316.1 304.6ZM414.2 244.0L412.6 246.2L414.2 245.6ZM414.2 240.3L414.2 240.3L414.0 239.0L412.1 239.8L414.2 240.8ZM414.2 240.8L411.4 239.4L410.3 239.9L406.3 241.3L404.2 242.9L405.1 244.9L406.5 248.8L409.2 247.8L412.5 246.3L414.2 244.0ZM465.2 208.0L462.5 208.0L459.1 207.2L458.6 208.0L457.4 211.9L455.2 213.8L453.6 216.7L454.4 220.7L457.1 223.7L460.8 222.7L463.1 220.4L466.1 218.3L465.8 214.6L465.3 211.8ZM365.0 386.8L366.8 384.5L365.9 381.6L363.0 379.9L359.5 381.5L357.6 382.2L359.1 386.8L362.6 388.0ZM392.6 407.3L392.1 406.2L388.1 406.9L385.3 409.2L387.4 412.6L390.1 409.9ZM492.6 178.9L489.6 180.8L489.1 181.1L490.6 183.6ZM258.2 338.2L261.9 334.6L260.7 333.9L258.0 338.2ZM306.9 302.4L307.9 304.8L311.9 304.7L316.1 304.6L317.3 301.7L316.8 296.9L312.3 294.3L310.4 296.8L308.3 300.0ZM304.8 408.4L304.3 410.7L303.8 412.1L304.3 412.3L304.1 416.8L303.5 419.4L306.3 417.2L307.1 414.5L306.6 411.9L306.0 408.4ZM275.3 429.4L278.1 424.8L276.6 423.1L277.0 420.0L276.6 416.4L274.8 415.9L271.5 416.8L268.1 417.8L266.6 420.3L265.9 423.1L264.4 425.6L268.1 426.6L269.2 427.6L272.6 428.6ZM310.2 339.1L312.0 339.3L312.1 339.3L310.5 338.0ZM209.0 400.3L210.9 402.2L213.6 403.9L217.0 405.8L217.4 407.2L220.7 408.9L221.5 404.5L219.6 401.1L219.6 397.8L218.4 397.2L216.2 397.9L211.1 399.1ZM298.4 346.4L296.2 341.9L296.6 345.9L296.6 345.9L298.3 347.0ZM296.0 340.7L296.1 341.3L299.6 341.3ZM298.4 346.2L302.2 348.4L301.7 344.7L300.1 341.4L299.6 341.3L295.8 341.3L296.7 344.8L298.4 346.4ZM414.1 292.9L412.4 292.7L409.0 294.4L409.3 296.7L411.7 296.7ZM367.6 280.9L369.6 277.6L367.9 272.4L363.9 274.1L363.9 278.5ZM361.3 276.9L363.9 278.5L363.9 275.9L362.0 273.8Z"/>
<path fill="#ffffff" d="M162.5 375.7L166.2 375.0L168.6 373.5L173.1 373.3L175.9 371.9L179.2 373.0L181.3 373.5L184.2 374.1L187.4 374.9L190.3 375.7L194.6 375.2L198.0 373.8L196.2 371.0L194.7 367.8L192.2 365.1L190.3 362.2L189.7 358.6L189.4 354.5L186.8 352.8L184.6 349.7L182.3 346.9L179.7 344.9L176.4 343.3L173.6 343.7L170.4 341.9L167.1 340.8L164.3 340.0L161.7 341.0L157.6 341.9L154.1 342.6L151.8 343.9L150.5 346.4L148.9 348.7L151.7 350.6L154.7 352.6L152.1 355.2L150.1 357.1L147.9 359.3L151.9 361.1L155.1 361.4L158.5 362.2L160.0 365.5L161.1 367.6L163.3 370.9ZM322.2 238.3L320.0 239.7L316.5 239.5L313.6 240.9L313.9 243.5L314.6 247.2L315.1 249.8L315.4 252.5L314.5 255.8L313.4 259.2L317.3 258.3L321.1 262.1L325.0 261.2L323.6 258.0L323.1 255.4L324.9 253.8L327.9 252.5L325.9 249.2L325.0 246.7L324.3 243.8L323.4 241.1ZM313.6 240.9L313.4 240.9L309.8 241.3L307.8 240.3L303.8 239.5L301.1 240.4L298.0 240.0L294.7 240.2L291.9 241.1L289.8 242.2L286.5 242.1L283.4 242.9L280.6 243.7L277.8 243.6L280.6 245.8L281.8 249.1L282.6 252.5L285.8 254.6L288.1 257.4L290.3 259.2L294.4 258.3L298.0 257.3L302.0 257.8L304.0 258.6L307.1 259.5L310.1 259.5L313.4 260.2L317.3 258.3L313.4 259.2L314.5 255.8L315.4 252.5L315.1 249.8L314.6 247.2L313.9 243.5ZM182.6 183.8L181.7 182.9L183.0 181.1L185.3 178.2L186.6 176.2L188.4 173.2L188.9 169.9L188.8 166.5L189.4 163.6L187.9 160.7L186.4 157.0L185.7 154.7L183.6 152.0L182.3 149.1L179.9 146.8L177.8 144.3L178.1 141.7L176.5 138.1L176.8 135.6L173.0 134.3L170.1 134.3L167.1 135.6L164.3 136.8L161.4 137.8L158.5 139.5L157.2 142.8L155.8 145.6L154.9 149.3L157.3 150.6L160.2 152.0L163.3 153.9L162.8 156.7L161.8 159.9L161.4 163.1L159.8 166.0L158.6 169.1L158.5 172.2L158.5 174.7L157.6 177.8L158.5 178.0L161.2 178.4L164.5 179.5L167.5 180.0L170.2 181.3L173.1 181.9L176.6 182.4L179.3 182.5ZM123.9 153.8L123.8 153.9L123.8 158.8L119.9 154.9L116.7 155.3L112.6 154.4L109.9 153.7L106.5 153.8L103.5 152.6L103.6 153.1L105.5 155.3L107.9 157.1L110.3 159.3L112.3 163.0L113.8 164.2L116.0 166.5L118.0 169.0L119.5 170.5L119.5 170.5L124.4 171.5L126.9 169.0L129.4 166.4L128.2 163.3L125.9 160.6L125.6 156.3ZM74.7 182.4L70.7 182.2L67.9 182.9L64.5 181.9L62.5 181.0L59.2 180.0L55.8 180.5L53.3 180.9L50.5 181.6L47.6 181.9L45.2 180.4L43.6 177.9L40.9 176.1L36.9 176.1L34.1 176.2L30.2 176.7L27.3 179.0L23.5 180.9L22.7 184.0L22.1 187.4L21.6 191.5L21.6 191.7L25.1 192.1L28.3 192.5L30.0 196.3L31.2 199.2L32.0 202.4L31.6 206.0L33.2 208.7L35.1 210.8L38.0 209.4L41.8 207.0L40.7 203.3L39.9 199.2L37.8 195.9L37.0 191.5L40.9 187.7L43.3 188.0L46.9 189.9L49.1 190.2L51.5 191.5L55.0 192.5L57.7 191.9L60.7 192.2L64.0 192.5L66.5 191.5L70.7 189.0L73.7 187.7L74.6 182.9ZM159.3 316.5L162.2 318.4L163.8 320.8L166.2 321.7L169.8 322.9L172.9 325.0L175.9 326.5L180.7 328.5L181.9 331.2L183.6 334.2L186.5 334.0L188.6 334.4L192.7 334.3L195.2 334.2L198.1 332.5L200.9 329.4L202.0 326.1L202.9 323.4L203.5 320.3L204.8 317.9L204.7 314.2L204.2 310.7L202.6 307.3L202.9 304.4L204.2 303.6L206.5 299.1L203.2 298.0L200.1 297.3L197.7 296.3L195.2 294.7L192.4 293.5L189.5 292.4L186.9 291.6L184.8 290.7L181.4 289.2L178.8 288.0L175.9 287.0L172.9 286.1L170.1 284.8L166.9 283.4L165.0 282.4L162.5 281.8L159.7 280.1L156.6 279.3L153.1 278.2L150.1 278.5L146.2 277.8L143.1 276.4L141.3 279.2L140.8 282.3L139.2 285.1L138.8 287.8L139.2 288.0L141.5 288.8L145.1 290.2L147.7 290.9L149.2 291.7L152.7 292.8L155.7 294.7L157.9 296.5L159.9 298.6L162.4 300.5L162.6 303.7L162.4 308.2L160.8 312.7L159.5 315.9ZM390.4 225.3L393.3 227.5L396.5 228.7L399.1 231.6L400.4 236.1L401.4 239.0L402.9 242.8L405.5 241.5L409.5 240.0L411.9 239.3L415.4 237.8L416.4 234.7L418.0 231.6L418.8 229.1L420.5 225.3L417.5 223.9L413.9 221.8L410.4 220.3L406.6 220.2L403.7 218.3L400.4 217.8L397.1 216.3L394.2 213.6L390.4 212.8L390.2 217.1L390.0 220.2ZM327.1 389.7L330.9 390.3L334.8 390.1L338.8 390.1L341.2 390.5L344.8 389.4L345.6 385.5L340.9 385.2L336.4 384.7L332.4 385.1L329.3 385.3L326.3 386.3ZM306.9 438.2L302.1 439.9L304.1 439.7L307.8 439.4ZM256.5 400.1L255.6 403.3L256.5 407.6L256.5 407.6L258.3 408.3L259.6 407.6L262.5 404.9L265.0 402.2L263.2 400.1L261.4 397.9L259.4 398.5L256.8 399.8ZM261.2 409.5L264.2 407.4L266.5 406.6L266.5 401.6L263.9 400.1L262.2 397.8L261.6 398.2L265.0 402.2L262.5 404.9L259.6 407.6L258.3 408.3ZM245.2 334.7L246.0 332.5L247.9 329.7L249.2 327.3L250.6 323.7L252.3 322.1L250.7 319.2L247.4 320.3L244.5 321.5L241.8 324.0L239.5 326.8L236.8 329.2L239.7 330.6L243.0 332.0ZM236.8 329.2L238.4 327.6L236.5 329.0ZM348.3 427.5L347.8 426.9L347.5 426.9L347.7 428.6ZM290.3 259.2L290.8 259.8L290.5 261.4L291.3 262.6L292.5 261.6L292.8 259.8L291.5 258.9ZM291.5 258.9L292.8 259.8L296.0 257.8ZM227.1 394.3L227.1 394.1L225.4 391.6L223.8 388.4L222.1 385.7L219.6 382.8L216.4 384.2L213.5 385.9L210.8 386.6L212.8 389.8L214.2 391.9L214.6 394.1L218.7 397.1L222.1 395.4L224.3 395.3ZM334.8 390.1L331.7 390.0L331.5 390.7L336.7 390.7L340.2 389.7ZM345.7 398.7L346.4 396.2L342.9 398.4L342.9 398.5ZM200.2 424.5L202.5 429.2L204.6 430.4L207.1 429.2L210.4 427.5L212.1 426.7L212.6 425.4L209.6 424.2L205.9 423.9L203.6 422.2ZM354.9 425.1L350.3 426.2L348.3 427.5L347.7 428.6L348.3 433.9L350.7 435.7L353.7 437.0L356.1 433.1L356.4 429.6L356.7 426.0ZM200.2 424.5L203.6 422.2L203.8 417.6L199.6 419.1L199.0 422.3ZM405.8 219.1L402.1 216.7L402.3 218.2ZM326.5 253.8L326.7 254.4L328.3 257.8L330.9 259.9L330.9 255.1L330.2 254.0ZM323.1 255.4L323.4 258.0L325.0 261.2L323.9 261.5L326.3 264.6L331.2 261.9L331.2 260.2L329.2 257.9L326.7 254.4L326.5 253.8L325.8 253.7ZM332.2 262.2L332.1 261.4L331.2 260.2L331.2 261.9ZM245.6 335.6L244.8 338.8L243.0 342.8L244.2 345.2L246.0 348.6L246.1 350.9L248.0 352.9L250.7 352.4L251.4 351.9L253.8 349.3L254.7 350.0L256.2 349.1L256.5 346.5L256.5 344.4L256.8 344.3L256.9 343.4L256.9 340.1L257.3 339.3L257.3 339.3L257.3 339.3L258.0 338.2L254.7 336.7L251.5 337.0L248.0 336.1ZM245.2 334.7L243.0 332.0L239.7 330.6L236.8 329.2L236.8 329.2L233.3 331.4L232.7 334.3L232.2 337.1L230.6 339.8L233.0 343.2L235.2 346.2L235.3 346.2L237.7 345.5L240.8 344.2L243.0 342.8L244.8 338.8L245.6 335.6ZM236.5 329.0L233.3 331.3L233.3 331.4L236.8 329.2L236.8 329.2ZM235.1 346.3L235.3 346.2L235.2 346.2L233.0 343.2ZM380.1 411.6L379.2 407.6L379.2 403.6L378.3 403.0L374.7 402.5L371.4 400.7L366.8 403.8L368.5 406.9L369.9 410.7L372.8 411.8L375.3 413.8L379.3 412.2ZM203.6 422.2L205.9 423.9L209.6 424.2L212.6 425.4L213.7 422.5L214.5 420.0L215.8 416.6L212.8 416.0L209.6 415.4L206.6 416.5L203.8 417.6ZM431.8 249.9L432.6 250.6L434.4 250.4L435.0 246.3L434.9 246.3ZM434.9 246.3L435.0 246.3L434.4 250.4L432.6 250.6L433.2 251.0L437.5 250.2L435.3 245.8ZM306.7 315.4L305.9 312.3L301.3 315.4L302.8 317.7ZM428.5 250.1L431.8 249.9L434.9 246.3L432.5 244.5L429.8 242.3L427.4 244.1L424.9 245.4L425.9 247.2ZM435.3 245.8L433.8 242.7L431.3 243.4L434.9 246.3ZM261.4 397.9L261.1 397.6L259.4 398.5ZM347.7 402.0L345.7 398.7L342.9 398.5L342.9 403.0L344.4 406.1L346.5 407.4ZM404.1 242.8L403.7 242.5L402.9 242.8L402.6 242.0L401.6 241.5L401.1 241.8L401.6 244.0L404.2 242.9ZM402.4 241.2L401.6 241.5L402.6 242.0ZM391.4 404.8L392.3 404.6L395.1 403.0L398.1 401.1L400.8 399.9L400.0 396.8L394.6 396.1L391.3 398.7L389.2 400.0ZM356.7 426.0L356.8 425.4L356.9 425.3L356.8 424.6L354.9 425.1ZM415.4 237.8L414.8 238.1L415.0 238.3L418.0 237.5L419.2 236.6L419.4 237.1L419.4 237.1L419.4 233.6L420.6 230.7L418.3 230.7L416.9 234.5ZM428.5 250.1L425.9 247.2L424.9 245.4L423.4 246.3L423.8 249.8L427.5 251.0L428.1 250.9ZM428.1 250.9L427.5 251.0L425.1 250.2L425.1 251.4L427.5 251.2L427.8 251.5ZM347.7 402.0L346.5 407.4L349.1 409.2L352.7 407.4L355.2 406.1L356.5 404.7L359.0 401.8L357.0 402.3L353.9 402.1L349.7 401.7ZM325.9 266.4L326.3 264.6L323.9 261.5L321.1 262.1L317.3 258.3L314.4 259.7L314.2 260.5L314.4 260.6L317.2 262.1L321.4 263.0L323.6 264.5L325.5 266.6ZM314.4 259.7L313.4 260.2L313.4 260.2L314.2 260.5ZM309.0 433.4L305.9 432.3L302.6 434.6L298.9 437.0L301.4 440.0L302.1 439.9L306.9 438.2ZM325.0 246.7L325.6 246.4L324.1 244.0ZM256.5 407.7L256.5 409.2L258.3 408.3L256.5 407.6ZM258.3 408.3L257.2 408.8L257.2 411.6L261.2 409.5ZM399.1 231.6L398.6 231.2L398.8 232.1L399.3 232.0ZM402.4 241.2L401.6 238.3L400.8 234.5L399.3 232.0L397.4 232.5L398.1 235.1L399.1 238.6L399.7 240.6L401.6 241.5ZM306.9 438.2L307.8 439.4L309.7 439.3L310.5 433.9L309.0 433.4ZM325.5 266.6L328.3 269.9L328.8 269.6L325.9 266.4ZM348.3 427.5L350.3 426.2L347.8 426.9ZM428.1 250.9L432.6 250.6L431.8 249.9L428.5 250.1ZM427.8 251.5L428.2 252.0L433.2 251.0L432.6 250.6L428.1 250.9ZM414.8 238.1L412.2 239.2L415.0 238.3ZM404.0 242.4L404.1 242.8L404.4 242.9L407.3 241.0L410.3 239.9L406.9 241.3ZM235.3 346.2L237.8 349.3L240.5 351.8L243.0 353.9L248.0 352.9L246.1 350.9L246.0 348.6L244.2 345.2L243.0 342.8L240.8 344.2L237.7 345.5ZM235.1 346.3L236.4 348.2L239.0 351.1L242.2 353.9L242.8 353.8L240.0 352.1L238.6 349.4L235.3 346.2ZM389.2 400.0L386.1 402.2L387.6 406.1L391.4 404.8ZM379.2 403.6L379.2 407.6L380.1 411.6L380.6 411.7L383.0 410.7L383.8 406.9L382.2 405.0L379.2 403.6ZM331.7 390.0L327.1 389.7L326.5 387.2L325.2 387.6L325.9 390.7L331.5 390.7ZM326.3 264.6L325.9 266.4L328.8 269.6L332.9 267.6L332.2 262.2L331.2 261.9ZM245.2 334.7L245.6 335.6L248.0 336.1L251.5 337.0L254.7 336.7L258.0 338.2L260.7 333.9L261.5 330.6L261.5 327.7L257.7 326.0L253.8 324.6L252.3 322.1L250.6 323.7L249.2 327.3L247.9 329.7L246.0 332.5ZM260.7 333.9L261.8 334.5L261.0 331.5ZM253.3 323.8L253.8 324.6L256.8 325.1L259.9 327.1L259.7 326.4L256.2 325.0ZM325.0 246.7L325.8 249.1L327.9 252.5L326.3 253.4L326.5 253.8L330.2 254.0L328.1 252.2L326.8 248.9L325.6 246.4L325.0 246.7ZM390.4 212.8L393.5 213.6L394.5 214.8L398.0 217.1L400.4 217.8L402.3 218.2L402.1 216.7L400.3 215.5L397.0 215.1L394.9 212.6L391.6 211.6L389.2 211.8L390.4 216.6ZM347.7 402.0L349.7 401.7L353.9 402.1L357.0 402.3L359.0 401.8L360.6 399.9L358.8 396.9L358.3 393.0L355.2 393.4L352.7 394.5L349.1 394.5L346.4 396.2L345.7 398.7ZM218.7 397.1L220.4 398.6L223.6 400.8L225.1 400.1L226.0 397.4L227.1 394.3L224.3 395.3L222.1 395.4Z"/>
<path fill="#a6192e" d="M440.5 212.8L445.5 215.3L447.8 217.0L450.6 220.3L451.2 216.8L453.9 214.0L455.6 210.3L457.7 207.0L460.7 204.2L463.1 200.2L460.6 198.1L458.1 195.2L453.7 196.2L451.0 195.8L446.8 196.5L443.0 196.5L441.1 198.7L438.6 200.0L435.5 202.7L437.7 206.3L438.8 210.2ZM428.0 229.1L431.6 230.0L435.5 230.3L437.1 225.8L438.0 222.8L441.3 219.4L444.3 216.5L440.5 212.8L435.8 214.5L433.0 216.5L429.8 218.7L426.9 220.8L424.2 222.8L426.9 225.5ZM439.3 230.3L442.5 231.9L445.5 235.3L448.7 232.9L451.8 230.3L451.8 226.9L451.1 223.8L450.6 220.3L444.3 219.0L442.3 222.8L441.0 226.6ZM413.6 197.4L418.2 196.3L421.7 193.4L425.1 190.5L430.9 189.9L436.1 188.2L436.7 181.8L433.7 178.0L430.9 176.0L427.2 175.4L424.0 176.6L422.7 178.9L420.5 182.4L417.9 184.8L414.7 187.9L413.3 190.1L410.1 192.8ZM430.9 200.9L433.3 203.8L435.5 205.5L436.3 204.4L435.5 202.7L439.8 199.2L440.2 198.6L444.8 195.1L447.4 192.2L449.4 189.3L447.1 183.6L443.8 185.0L440.1 186.2L436.7 188.2L432.9 189.1L429.8 191.7L429.6 196.5ZM350.2 417.1L349.0 420.6L348.7 424.9L352.4 423.8L357.9 423.3L359.2 419.6L361.0 417.1L362.9 413.3L365.7 409.4L364.0 405.2L362.6 401.7L359.6 405.4L356.4 407.9L353.3 409.4L349.8 410.8L347.2 412.4L344.1 414.1L346.9 415.4ZM361.2 262.4L359.9 266.9L360.4 267.6L361.4 265.3L363.8 262.2L363.8 262.0ZM348.3 292.3L348.3 292.2L345.6 288.8L347.6 292.4ZM356.8 285.6L355.4 284.7L350.8 282.4L349.9 282.7L354.5 285.3L357.0 285.9ZM344.0 284.6L343.3 284.9L345.1 288.0ZM355.8 291.8L357.4 286.9L357.0 285.9L354.5 285.3L352.7 284.3L349.2 282.3L346.3 283.0L343.9 284.4L345.2 288.4L348.3 292.2L348.3 292.3L352.0 292.0ZM346.1 322.2L345.2 320.0L341.7 320.4L337.8 321.4L337.3 322.2L340.6 326.2L345.5 324.4ZM364.9 286.1L362.1 286.8L357.4 286.9L355.8 291.8L357.7 294.1L359.1 297.5L362.4 297.5L363.8 296.1L364.5 293.5L365.3 290.7L367.4 291.0ZM406.1 362.3L405.4 360.6L401.5 362.1L402.3 364.0L404.5 365.3ZM404.5 365.3L404.6 365.4L406.9 364.4L406.1 362.3ZM404.5 365.3L402.3 364.0L403.1 366.0L404.6 365.4ZM413.8 352.0L413.7 351.4L412.3 349.8L410.6 347.9L408.6 343.8L407.0 342.3L403.0 343.8L401.4 348.5L403.1 349.0L406.6 349.6L409.2 351.3L413.6 352.1ZM380.8 349.7L382.3 350.1L382.9 347.7L381.5 349.8L380.8 349.6ZM380.5 348.4L380.8 349.6L381.5 349.8L383.3 347.0ZM344.7 299.4L344.8 299.5L345.8 296.6L344.8 298.0ZM359.1 297.5L357.7 294.1L355.8 291.8L352.0 292.0L348.3 292.3L346.0 296.1L344.8 299.5L346.1 301.5L348.7 301.5L352.7 302.2L355.9 302.4L357.1 299.9ZM359.1 297.5L357.1 299.9L355.9 302.4L356.9 306.3L358.6 305.3L361.4 303.1L360.7 299.2L362.4 297.5ZM366.8 282.9L368.4 283.8L373.5 284.3L373.0 283.2L372.5 283.1L367.3 282.1ZM374.3 290.0L371.5 291.5L372.7 292.7L374.5 290.9ZM364.9 286.1L367.4 291.0L371.5 291.5L374.6 289.9L374.3 288.0L375.3 287.8L373.5 284.3L368.4 283.8L366.8 282.9ZM365.0 319.9L364.5 315.4L363.8 314.6L362.2 318.9ZM394.4 337.2L397.6 336.9L400.3 334.3L401.9 333.0L400.4 330.2L399.1 327.6L396.4 326.0L393.1 327.0L393.5 329.9L392.5 333.4ZM380.8 349.6L376.1 348.2L375.9 348.0L375.8 348.0L376.1 348.6L380.8 349.7ZM380.5 348.4L379.9 347.9L375.9 348.0L376.1 348.2L380.8 349.6ZM366.4 355.8L366.6 356.0L370.3 356.9L370.7 356.7L368.5 352.4L366.4 355.6ZM320.1 381.8L324.6 382.0L327.7 381.6L331.1 382.2L331.6 379.1L332.0 375.4L332.7 372.6L330.2 370.9L328.0 369.7L325.4 367.7L322.8 370.1L319.9 372.5L318.4 374.8L319.6 378.6ZM348.9 352.2L347.5 352.1L343.7 348.2L342.9 344.6L340.7 342.7L336.7 344.4L336.7 345.2L335.3 345.0L334.4 345.4L336.7 345.9L336.1 348.8L335.4 351.4L335.7 353.2L337.9 353.5L342.5 352.4L344.6 353.5L348.8 353.2ZM334.3 345.5L334.7 348.2L335.4 351.4L336.1 348.8L336.7 345.9L334.4 345.4ZM349.1 350.6L348.7 349.5L345.8 346.3L342.9 344.6L343.7 348.2L347.5 352.1L348.9 352.2ZM351.6 376.2L349.0 377.4L345.4 378.2L346.5 379.4L351.5 378.4ZM338.1 370.6L340.3 372.8L340.6 369.8L338.8 369.7ZM383.5 365.1L384.6 369.1L385.9 368.2L385.9 368.1ZM350.8 265.4L351.4 263.7L349.3 261.1ZM349.3 261.1L351.4 263.7L350.8 265.4L352.2 269.3L355.2 267.7L359.9 266.9L361.2 262.4L359.3 259.5L358.0 256.8L355.5 258.1L352.4 259.0L349.1 260.5ZM336.6 414.9L334.4 416.4L336.7 416.1L337.5 415.9ZM451.2 225.9L451.8 230.3L448.7 232.8L447.2 234.0L448.5 236.4L449.9 236.5L451.3 232.3L452.4 230.3L451.3 225.9ZM322.6 353.2L321.3 352.9L321.0 352.0L320.6 353.2ZM325.5 350.3L323.2 348.8L320.0 348.0L319.8 348.2L321.3 352.9L325.8 354.0ZM241.2 284.2L239.9 284.5L239.9 287.5L239.9 290.7L243.0 295.3L246.8 293.8L247.4 289.1L244.0 287.2ZM332.9 345.1L334.4 345.4L335.3 345.0L331.9 344.7L332.0 344.9ZM340.7 342.7L341.9 337.9L339.9 335.5L339.3 332.0L335.2 332.5L336.0 333.1L337.3 336.5L339.1 339.3L335.9 341.3L336.7 341.3L336.7 344.4ZM316.8 287.2L313.8 290.2L312.0 293.2L312.2 294.0L314.7 295.1L317.5 296.1L319.0 291.5L319.9 287.3ZM430.1 194.3L429.8 191.7L432.9 189.0L436.7 188.2L439.7 187.5L442.0 186.2L444.6 184.7L447.1 183.6L448.2 185.5L449.2 188.8L450.1 187.3L448.8 184.8L447.4 182.0L443.2 182.4L441.0 183.0L437.5 183.3L436.7 182.2L436.4 185.1L436.1 188.2L430.9 189.9L427.6 189.2L425.1 190.5L423.7 191.7L426.5 193.8ZM420.5 182.3L422.4 180.5L423.8 176.9L422.6 177.1L420.3 179.6ZM430.9 176.0L434.3 179.4L431.3 175.8L428.3 176.3ZM447.1 192.2L444.8 195.1L443.7 196.0L444.8 196.1ZM334.6 397.9L338.6 397.8L341.0 398.4L340.6 396.8L338.4 393.1L336.7 391.4L331.7 391.4L332.6 395.1ZM420.5 182.4L420.5 182.3L420.3 179.6L418.3 181.8L416.5 184.1L413.8 186.8L411.9 188.5L410.2 190.7L410.9 192.0L413.2 190.1L416.1 187.1L417.6 184.1ZM279.1 291.3L279.7 287.6L275.7 287.2ZM278.1 297.6L274.1 297.7L270.9 298.0L268.0 297.6L264.1 298.3L262.3 303.5L264.1 305.1L266.6 303.8L269.6 307.7L273.5 306.9L274.1 303.8L274.3 299.2L277.4 301.5L279.0 300.5ZM279.0 300.5L277.4 301.5L274.3 299.2L274.0 302.4L273.5 306.5L275.0 306.0L275.0 303.8L275.4 303.6L275.2 302.2L279.3 301.7L279.3 301.5ZM353.9 379.7L351.5 378.4L346.5 379.4L345.9 380.4L346.8 383.0L350.1 381.3L352.2 380.6L354.1 380.5ZM332.7 372.6L334.4 371.9L338.1 370.6L338.8 369.7L335.3 369.3L330.6 369.1L327.8 367.9L325.1 367.0L325.4 367.7L328.0 369.7L330.2 370.9ZM301.4 292.4L298.1 289.2L292.8 289.2L292.0 292.2L293.6 295.3L297.4 292.2L301.1 294.1ZM301.1 294.1L297.4 292.2L296.0 293.3L298.2 295.5L300.9 294.8ZM294.4 301.3L296.9 300.3L294.3 297.6L291.0 296.0L292.0 298.8ZM291.0 296.0L294.3 297.6L296.9 300.3L297.7 299.9L295.1 298.1L292.5 294.8L290.7 295.5ZM349.2 282.3L349.1 282.2L346.3 283.0L343.7 283.8L343.9 284.4L346.3 283.0ZM336.6 414.9L336.9 413.9L335.2 411.4L333.8 406.9L331.5 404.0L326.7 404.5L326.7 404.6L328.2 409.2L330.2 412.5L330.6 416.9L334.4 416.4ZM397.6 336.9L394.4 337.2L393.5 338.2L396.2 342.4L396.9 347.3L397.7 347.5L397.4 344.6L396.1 340.5L400.4 340.5ZM403.0 343.8L400.4 340.5L396.1 340.5L397.4 344.6L397.7 347.5L401.4 348.5ZM266.1 288.1L262.7 287.6L258.9 291.4L262.3 293.0L264.4 290.0ZM385.9 368.1L386.1 368.1L389.2 366.0L392.7 361.9L392.3 361.4L393.8 360.6L391.3 358.0L390.6 357.6L388.1 359.2L384.9 359.7L382.2 360.6L383.5 365.1ZM354.1 337.0L353.0 337.8L349.8 336.0L346.3 336.5L341.9 337.9L340.7 342.7L342.9 344.6L342.9 344.4L345.8 342.9L349.1 341.3L352.9 341.3L354.6 338.1L354.4 337.3ZM348.7 349.5L350.1 347.2L350.9 344.5L352.9 341.3L349.1 341.3L345.8 342.9L342.9 344.4L342.9 344.6L345.8 346.3ZM409.9 220.2L413.7 217.1L415.6 214.7L414.7 210.8L411.4 208.0L410.4 205.4L406.5 208.0L407.2 211.0L408.0 215.0L409.8 217.2L409.5 220.1ZM449.2 188.8L449.4 189.3L447.1 192.2L444.8 196.1L444.9 196.3L447.5 195.3L451.5 195.9L454.8 196.1L458.1 195.2L460.6 198.1L463.1 200.2L461.2 202.7L459.9 204.8L457.9 207.1L459.1 207.2L461.0 203.9L463.5 200.6L462.8 197.8L462.3 194.4L458.4 193.5L454.8 194.9L452.1 194.6L448.7 194.4L451.1 189.4L450.1 187.3ZM257.2 383.8L257.2 379.0L256.3 379.2L256.5 383.8ZM299.9 311.6L301.3 306.9L299.0 302.3L296.9 300.3L294.4 301.3L292.5 305.5L292.8 306.8L295.4 308.1L297.6 310.0L299.8 311.7ZM296.9 300.3L299.0 302.3L297.9 300.2L297.7 299.9ZM436.3 204.4L435.5 205.5L433.3 203.9L430.9 200.9L430.7 197.8L430.1 194.3L426.5 193.8L427.0 196.0L426.0 199.5L426.7 204.3L427.5 206.5L427.2 209.9L430.7 210.9L432.6 213.1L435.6 215.2L440.0 213.0L440.5 212.6L439.1 209.8L437.8 206.7ZM443.7 196.0L440.2 198.6L439.8 199.2L443.0 196.5L444.9 196.3L444.8 196.1ZM306.9 290.0L304.4 290.6L301.4 292.4L301.1 294.1L302.0 294.6L304.9 293.9L309.8 293.0L312.2 294.0L312.0 293.2L309.7 292.3ZM300.9 294.8L301.2 294.8L301.8 294.5L301.1 294.1ZM350.2 250.7L348.3 252.7L348.3 253.0L348.3 252.9L350.6 250.7ZM349.1 260.5L352.4 259.0L355.5 258.1L358.0 256.8L358.0 256.6L356.3 252.8L353.4 250.3L350.6 250.7L348.3 252.9L347.9 255.2L347.6 259.1L348.6 260.3ZM242.3 391.9L243.1 395.2L243.9 396.6L247.2 396.6L251.0 395.3L253.7 394.4L256.4 393.5L255.1 389.3L255.1 385.3L251.1 385.3L247.0 385.4L245.9 387.9L242.8 390.7ZM366.3 334.7L362.4 331.9L360.0 333.2L357.1 335.6L354.4 337.3L354.6 338.1L358.3 341.3L363.9 341.3L366.9 339.3L367.8 337.5ZM361.2 343.8L364.6 341.8L364.5 341.3L361.4 341.3L358.3 341.3ZM299.8 311.7L297.6 310.0L295.4 308.1L292.8 306.8L291.1 310.4L292.8 311.5L295.8 312.2L299.7 312.3ZM292.8 311.5L292.6 312.1L298.2 312.1ZM278.1 297.6L279.0 300.5L281.2 299.2L279.5 294.6ZM279.5 294.6L280.0 295.9L280.1 294.8L279.7 294.2ZM279.3 301.5L279.4 300.2L279.0 300.5ZM294.4 301.3L292.0 298.8L291.0 296.0L288.2 294.6L285.1 297.6L285.8 302.3L286.8 304.9L289.6 304.4L292.5 305.5ZM313.2 282.0L315.2 280.3L317.3 277.6L318.8 275.0L318.7 274.4L315.9 275.3L313.3 278.8L311.3 280.7L310.5 281.9ZM419.9 215.6L420.7 219.5L423.4 222.0L423.9 225.7L426.8 227.1L424.2 222.8L426.9 220.8L429.8 218.7L433.0 216.5L435.6 215.2L432.6 213.1L430.7 210.9L427.2 209.9L424.9 211.9L422.2 213.8ZM348.8 353.2L351.5 353.2L354.5 353.2L355.0 352.8L352.1 352.1L348.9 352.2ZM366.4 355.6L364.0 353.9L362.4 351.1L360.4 347.9L357.2 347.6L355.6 350.0L352.0 349.8L349.1 350.6L348.9 352.2L352.1 352.2L355.2 352.9L358.3 355.2L362.0 357.5L366.4 355.8ZM366.6 356.0L366.8 358.2L370.3 356.9ZM364.3 403.1L366.1 404.6L368.3 402.4L370.7 399.9L370.7 399.4L367.7 401.2ZM365.3 408.4L366.1 405.3L364.0 403.3L363.9 403.4L363.9 405.0ZM331.5 404.0L333.4 401.1L334.6 397.9L332.6 395.1L331.7 391.4L329.0 391.4L328.5 395.2L326.1 398.1L327.5 401.3L326.7 404.5ZM224.3 411.6L220.7 408.9L219.6 414.1L222.6 416.5L224.5 414.4ZM243.1 395.2L243.4 396.6L243.9 396.6ZM231.1 405.1L234.3 405.9L234.3 405.7L234.5 404.0L230.1 401.1ZM444.3 219.0L447.7 219.1L450.1 220.2L450.3 220.0L447.8 217.4L445.5 215.3L442.1 214.3L440.5 212.8L444.3 216.5L441.7 219.0L439.2 221.6L442.0 224.2L442.5 221.0ZM370.7 399.4L371.4 395.8L371.4 393.0L369.2 391.0L366.8 389.1L363.1 390.5L359.9 393.0L360.7 396.8L361.4 400.7L364.3 403.1L367.7 401.2ZM363.0 402.8L363.9 403.4L364.0 403.3L363.0 402.2L362.8 402.3ZM345.4 378.2L345.2 378.3L345.9 380.4L346.5 379.4ZM338.1 370.6L334.4 371.9L332.7 372.6L332.0 375.4L331.6 379.1L331.1 382.2L332.6 385.3L336.4 384.7L338.2 384.9L342.9 384.5L344.4 381.4L342.0 379.1L339.8 376.8L340.3 372.8ZM378.9 340.2L375.8 341.5L373.0 342.4L373.9 344.3L378.4 341.3L379.2 341.8ZM379.9 347.9L379.3 345.2L379.2 341.8L378.4 341.3L373.8 344.4L375.9 348.0ZM438.0 222.8L437.2 225.7L435.5 230.3L431.6 228.8L428.4 229.1L428.8 230.3L428.8 230.3L430.9 230.3L435.0 230.3L437.5 232.4L439.3 234.6L442.3 232.8L439.3 230.3L439.7 227.5L442.0 224.2L439.2 221.6ZM427.2 209.9L427.5 206.5L426.7 204.3L426.0 199.5L427.0 196.0L426.5 193.8L423.7 191.7L421.4 194.5L418.2 196.3L413.6 197.4L412.9 196.5L413.2 200.2L414.0 203.1L410.4 205.4L411.4 208.0L414.7 210.8L415.6 214.7L419.9 215.6L422.2 213.8L424.9 211.9ZM256.5 383.8L255.1 385.3L255.1 389.3L256.4 393.5L259.6 391.8L262.2 391.6L263.2 389.6L259.6 391.4L256.5 390.7L256.5 386.0L257.2 385.9L257.2 383.8ZM263.2 386.6L263.9 388.3L264.7 386.6ZM259.6 391.4L264.2 389.1L262.7 385.3L259.4 385.6L256.5 386.0L256.5 390.7ZM363.3 251.9L365.3 256.0L364.7 252.3L364.4 251.4L363.9 251.4ZM364.3 261.9L365.5 261.3L366.6 259.3L365.3 256.0L364.4 258.5L363.8 262.0ZM358.0 256.6L358.0 256.8L359.3 259.5L361.2 262.4L363.8 262.0L364.4 258.5L365.3 256.0L363.3 251.9L360.5 254.7ZM331.5 404.0L333.8 406.9L335.2 411.4L336.9 413.9L339.8 411.7L343.3 410.0L346.2 408.6L346.4 407.8L342.9 406.1L341.6 401.5L341.0 398.4L338.6 397.8L334.6 397.9L333.4 401.1ZM376.4 328.7L372.6 327.7L373.0 330.1L377.9 331.3ZM367.8 337.5L368.4 336.2L366.3 334.7ZM350.6 250.7L353.0 248.3L354.0 249.0L354.1 248.6L353.2 247.7L350.2 250.7ZM353.4 250.3L354.0 249.0L353.0 248.3L350.6 250.7ZM394.4 337.2L392.5 333.4L392.3 336.2L393.5 338.2ZM262.3 293.0L258.9 291.4L258.8 291.5L254.2 293.0L255.8 297.6L258.1 299.3L260.4 301.5L262.1 303.6L262.3 303.5L264.1 298.3ZM349.3 261.1L349.0 260.8L349.3 264.4L349.9 264.5L349.6 266.4L350.1 267.3L350.8 265.4ZM352.2 269.3L350.8 265.4L349.1 269.9L351.3 270.8ZM361.0 417.1L359.4 420.5L361.4 418.4L362.4 415.4L364.5 411.5L364.6 411.3L363.0 414.4ZM361.7 377.0L364.3 378.8L367.6 376.0L368.8 373.7L369.1 369.8L364.5 372.2L361.9 372.9ZM428.0 229.1L426.8 227.1L423.9 225.7L421.8 226.5L423.9 227.9L428.8 230.3L428.4 229.1ZM367.3 282.1L366.9 282.1L366.8 282.2L366.4 282.0L364.3 281.6L364.3 281.7L366.8 282.9ZM364.9 286.1L366.8 282.9L362.2 280.7L363.8 283.8L361.1 284.3L357.6 286.1L357.0 285.9L357.4 286.9L362.1 286.8ZM344.7 299.4L344.8 298.0L343.4 299.7ZM349.3 411.5L352.6 409.9L356.4 407.9L359.1 405.2L360.7 403.6L358.1 405.6L355.2 406.9L351.9 407.1L349.1 409.2L346.4 407.8L346.2 408.6ZM224.5 414.4L222.6 416.5L225.9 419.1L229.3 417.8L226.7 416.7ZM343.4 299.7L343.3 299.7L344.1 301.2L344.8 299.5L344.7 299.4ZM345.7 303.6L345.0 303.2L345.6 304.3ZM346.1 301.5L344.8 299.5L343.7 302.3L345.7 303.6ZM231.1 405.1L228.4 406.4L226.7 410.4L224.3 411.6L224.5 414.4L226.7 416.7L229.3 417.8L232.2 416.6L233.2 412.8L233.5 408.6L234.3 405.9ZM339.3 332.0L339.6 331.1L339.1 330.1L334.4 327.0L332.1 330.1L335.2 332.5ZM323.3 345.6L324.7 344.5L323.6 344.7ZM325.5 350.3L327.2 347.5L329.8 347.0L332.0 344.9L330.0 344.5L329.0 344.4L328.8 344.2L325.9 343.6L323.3 346.0L320.0 348.0L323.2 348.8ZM292.8 306.8L292.5 305.5L289.6 304.4L286.8 304.9L288.2 308.4L291.1 310.4ZM366.6 356.0L366.4 355.8L362.0 357.5L364.5 359.0L366.8 358.2ZM377.9 331.3L379.2 331.6L382.1 329.2L383.8 327.0L380.7 325.4L378.8 324.3L376.4 328.7ZM318.4 374.8L319.9 372.5L322.8 370.1L325.4 367.7L325.1 367.0L324.4 366.8L320.9 367.6L317.2 368.6L314.4 369.8L317.4 374.5L317.5 374.6ZM247.4 289.1L247.6 287.6L246.0 285.9L243.0 283.7L241.2 284.2L244.0 287.2ZM255.1 385.3L256.5 383.8L256.3 379.2L251.0 380.3L249.1 382.2L247.0 385.4L251.1 385.3ZM359.9 266.9L355.2 267.7L352.2 269.3L351.3 270.8L354.5 272.2L357.9 270.4L360.0 268.8L359.9 268.3L360.4 267.6ZM361.2 319.3L359.1 317.3L356.9 315.4L354.5 317.7L356.1 322.3L358.7 323.2ZM361.7 377.0L361.9 372.9L356.8 374.5L351.6 376.2L351.5 378.4L353.9 379.7L357.7 378.0ZM341.9 337.9L346.3 336.5L349.8 336.0L347.6 334.7L345.7 335.6L342.2 336.2L341.1 333.1L339.6 331.1L339.3 332.0L339.9 335.5ZM310.5 281.9L308.5 284.3L306.9 287.2L306.9 290.0L309.7 292.3L312.0 293.2L313.8 290.2L316.8 287.2L315.2 285.2L313.2 282.0ZM361.2 319.3L362.2 318.9L363.8 314.6L360.7 311.5L356.9 315.4L359.1 317.3ZM262.1 303.6L263.5 305.4L264.1 305.1L262.3 303.5ZM337.8 321.4L336.8 321.6L337.3 322.2ZM318.8 275.0L322.4 277.8L324.4 277.7L324.4 277.6L323.6 273.0L318.7 274.4ZM323.8 274.0L324.2 276.0L324.7 273.7ZM345.6 304.3L345.8 304.7L347.6 304.9L345.7 303.6ZM355.9 302.4L352.7 302.2L348.7 301.5L346.1 301.5L345.7 303.6L348.3 305.4L351.9 306.2L356.1 306.9L356.9 306.3ZM354.4 337.3L357.1 335.6L360.0 333.2L362.4 331.9L359.9 330.1L357.6 334.7L354.1 337.0ZM301.4 292.4L304.4 290.6L306.9 290.0L306.9 287.2L306.7 287.6L301.8 288.9L299.0 289.2L298.1 289.2ZM322.4 277.8L322.4 280.8L324.4 277.7ZM322.5 282.6L322.5 282.5L323.3 279.3L322.4 280.8ZM419.9 215.6L415.6 214.7L413.7 217.1L409.9 220.2L410.4 220.3L413.0 221.6L415.2 220.4L418.0 222.5L419.7 224.9L420.5 225.3L420.4 225.5L421.8 226.5L423.9 225.7L423.4 222.0L420.7 219.5ZM379.2 341.8L383.6 344.6L383.8 343.9L380.5 342.4L379.2 340.1L378.9 340.2ZM380.5 348.4L383.3 347.0L384.6 345.2L381.8 343.4L379.2 341.8L379.3 345.2L379.9 347.9ZM353.4 424.1L348.9 424.8L349.1 425.4L353.4 424.1ZM350.2 417.1L346.9 415.4L344.1 414.1L346.9 412.0L349.3 411.5L346.2 408.6L343.3 410.0L339.8 411.7L336.9 413.9L336.6 414.9L337.5 415.9L340.1 414.8L342.9 413.8L344.6 416.6L346.8 418.4L347.1 419.6L347.5 420.0L348.8 424.4L349.9 421.1ZM262.3 293.0L264.1 298.3L268.0 297.6L270.9 298.0L274.1 297.7L278.1 297.6L279.5 294.6L278.9 293.0L279.1 291.3L275.7 287.2L272.0 286.8L268.1 288.4L266.1 288.1L264.4 290.0ZM369.3 321.4L368.4 321.6L369.6 322.8ZM362.2 318.9L361.2 319.3L358.7 323.2L360.7 323.9L365.3 322.3L365.0 319.9ZM457.9 207.1L455.6 210.3L454.3 213.0L453.0 216.3L451.1 219.3L453.6 216.7L455.2 213.8L457.4 211.9L458.6 208.0L459.1 207.2ZM361.7 377.0L357.7 378.0L353.9 379.7L354.1 380.5L356.9 380.5L359.1 380.7L363.0 379.9L364.3 378.8ZM354.0 249.0L355.5 250.0L354.1 248.6ZM353.4 250.3L356.3 252.8L358.0 256.6L360.5 254.7L363.3 251.9L362.2 249.8L357.6 251.4L354.0 249.0ZM316.1 386.7L318.2 388.4L321.3 387.2L325.2 387.7L325.2 387.6L326.5 387.2L326.3 386.3L330.4 385.3L332.6 385.3L331.1 382.2L327.7 381.6L324.6 382.0L320.1 381.8L318.0 383.8ZM360.4 347.9L362.4 351.1L364.0 353.9L366.4 355.6L368.5 352.4L366.1 347.5L365.4 344.9L364.6 341.8L361.2 343.8ZM369.6 322.8L372.2 325.4L372.6 327.7L376.4 328.7L378.8 324.3L375.5 322.3L373.0 320.8L369.3 321.4ZM373.5 284.3L375.8 284.5L375.6 283.6L375.2 283.6L374.6 283.8L373.0 283.2ZM375.3 287.8L377.2 287.4L376.1 284.5L373.5 284.3ZM316.8 287.2L319.9 287.3L320.6 283.8L322.4 280.8L322.4 277.8L318.8 275.0L317.3 277.6L315.2 280.3L313.2 282.0L315.2 285.2ZM322.4 280.8L320.9 283.2L322.5 282.6ZM405.4 340.1L404.4 336.9L401.9 333.0L400.3 334.3L397.6 336.9L400.4 340.5L405.7 340.5ZM407.0 342.3L405.7 340.5L400.4 340.5L403.0 343.8ZM447.2 234.0L445.5 235.3L442.3 232.8L439.3 234.6L440.0 235.3L443.7 235.1L447.0 236.2L447.2 235.9L448.2 236.3L448.5 236.4ZM354.6 338.1L352.9 341.3L358.3 341.3ZM349.1 350.6L352.0 349.8L355.6 350.0L357.2 347.6L360.4 347.9L361.2 343.8L358.3 341.3L352.9 341.3L350.9 344.5L350.1 347.2L348.7 349.5ZM230.1 401.1L227.1 399.1L225.5 400.0L222.1 401.6L221.0 405.1L220.7 408.9L224.3 411.6L226.7 410.4L228.4 406.4L231.1 405.1ZM335.4 351.4L335.2 352.1L331.6 353.2L335.7 353.2ZM334.3 345.5L332.9 345.1L332.0 344.9L329.8 347.0L327.2 347.5L325.5 350.3L325.8 354.0L327.5 354.4L330.7 353.3L335.2 352.1L335.4 351.4L334.7 348.2ZM345.5 324.4L346.8 323.9L346.1 322.2ZM320.1 381.8L319.6 378.6L318.4 374.8L317.5 374.6L318.2 379.9L317.4 382.5L315.1 386.0L316.1 386.7L318.0 383.8Z"/>
<path fill="#58595b" d="M414.2 249.1L419.2 251.6L420.7 248.2L421.7 245.4L420.8 240.9L419.2 236.6L414.2 240.3L414.2 244.7ZM269.1 372.4L272.9 375.5L275.6 377.5L279.1 379.3L282.4 378.2L285.3 376.3L291.5 375.5L295.3 380.1L297.3 383.3L298.4 386.3L301.5 384.7L301.1 381.1L300.7 377.0L298.6 373.6L296.1 370.9L295.3 366.2L299.2 362.4L303.1 361.2L306.9 360.1L311.5 357.7L310.8 353.9L307.9 351.9L303.8 349.3L298.4 346.2L297.6 350.8L295.0 355.1L293.0 358.5L288.4 360.1L286.2 362.9L283.8 365.5L280.4 364.2L277.6 363.1L271.4 364.7L268.3 369.3ZM251.3 360.8L257.5 361.6L262.9 360.1L262.9 356.2L257.5 354.7L254.4 350.0L251.7 353.5L249.0 357.0ZM371.0 260.7L367.2 261.2L364.3 261.9L363.8 262.2L361.4 265.3L360.4 267.6L362.8 270.5L366.3 270.9L370.8 270.8L373.0 269.1L372.4 266.9L372.2 264.3ZM380.7 277.3L379.0 276.0L377.5 272.9L376.0 270.0L373.0 269.1L370.8 270.8L370.3 274.2L369.0 277.9L369.2 280.6L372.3 281.7L374.7 280.0L378.6 279.4ZM393.0 296.9L390.5 296.0L390.4 296.0L387.7 295.6L386.7 296.8L391.5 299.2L393.0 297.0ZM386.9 310.4L389.1 308.8L393.0 307.3L392.9 303.5L392.6 300.0L393.0 297.0L391.5 299.2L386.7 296.8L385.7 299.2L382.9 301.4L381.0 303.7L381.0 307.7L383.8 308.1ZM375.2 316.7L378.3 319.3L380.2 321.8L384.8 321.7L386.9 319.3L388.0 316.7L387.1 313.9L386.9 310.4L383.8 308.1L381.0 307.7L377.4 309.7L377.6 310.0L376.3 310.4L375.5 311.6ZM387.2 276.7L389.5 272.0L391.5 270.5L390.7 269.5L389.3 271.8L388.3 271.5L387.7 272.2L386.3 270.8L385.8 270.6L385.7 270.2L384.6 269.1L384.6 266.1L384.2 264.8L384.0 264.6L381.2 266.2L378.9 268.1L376.0 270.0L377.5 272.9L379.0 276.0L380.7 277.3L383.9 278.6ZM367.4 291.0L365.3 290.7L364.5 293.5L363.8 296.1L362.4 297.5L367.5 297.5L369.6 295.4ZM402.8 306.8L403.9 305.5L403.2 301.6L402.5 297.6L400.4 297.5L397.5 297.3L393.9 296.8L393.6 297.1L393.0 296.9L393.0 297.0L392.6 300.0L392.9 303.5L393.0 307.3L395.4 308.5L399.8 309.8ZM410.8 352.9L408.0 352.4L405.1 352.2L401.2 350.6L401.1 354.3L399.8 356.9L399.3 360.2L401.5 361.4L401.9 362.0L405.4 360.6L406.1 362.3L406.9 359.1L409.4 355.8ZM416.6 360.8L415.4 356.7L413.9 352.1L413.6 352.1L410.8 352.9L409.4 355.8L406.9 359.1L406.1 362.3L406.9 364.4L404.6 365.4L404.9 365.8L407.3 364.9L410.8 362.9L414.7 363.8ZM414.1 364.7L411.2 364.9L407.7 366.0L407.5 366.1L410.4 365.6L413.4 365.9ZM392.1 368.2L387.0 368.1L385.8 368.6L385.5 369.8L388.3 372.2L390.7 373.7L389.2 378.3L389.5 378.9L392.4 377.4L395.0 375.6L393.1 371.4ZM405.1 366.9L401.8 368.0L398.4 369.1L393.5 366.6L392.1 368.2L393.1 371.4L395.0 375.6L398.2 377.3L401.9 377.1L403.4 375.6L401.5 376.0L400.4 374.1L398.4 370.6L401.2 369.4L404.6 367.5L404.9 368.0ZM417.3 376.9L416.7 373.2L416.1 369.2L413.4 365.9L410.4 365.6L407.5 366.1L405.1 366.9L404.9 368.0L407.4 372.1L408.5 374.5L404.6 375.3L407.5 377.0L410.7 376.9L413.7 377.7L416.6 378.6ZM399.1 395.7L403.4 396.6L405.8 395.3L408.4 391.8L410.5 389.5L407.0 387.5L405.1 385.4L401.8 383.6L401.5 383.8L401.5 387.6L400.1 389.6L396.6 391.8L396.6 394.2ZM410.8 352.9L413.6 352.1L409.2 351.3L406.6 349.6L403.1 349.0L401.4 348.5L400.9 350.1L401.2 350.6L405.1 352.2L408.0 352.4ZM388.5 356.2L389.6 353.3L391.0 351.0L393.6 348.6L392.3 346.3L390.7 345.9L386.1 349.0L387.6 352.6L387.3 356.4ZM348.1 438.1L348.3 435.0L346.9 431.6L342.7 431.5L339.8 432.3L336.8 433.0L334.3 433.7L333.3 436.7L332.8 440.1L332.4 442.2L331.8 445.1L335.4 446.0L337.5 444.9L341.7 445.1L344.5 443.1L345.5 439.7ZM360.7 308.0L361.4 303.1L359.4 304.5L358.2 305.9L357.5 306.8ZM367.5 297.5L362.4 297.5L360.7 299.2L361.4 303.1L360.7 308.0L365.5 309.8L367.1 309.0L365.3 306.9L367.4 306.7L367.3 306.5L368.6 306.2L368.8 302.5L367.9 300.4ZM372.3 281.7L369.2 280.6L368.6 280.8L369.9 282.2L373.0 283.2ZM369.6 295.4L373.1 294.5L373.8 293.8L371.5 291.5L367.4 291.0ZM369.6 295.4L367.5 297.5L367.9 300.4L368.8 302.5L368.6 306.2L373.1 305.4L374.4 306.1L374.6 306.1L374.8 306.4L377.7 308.2L377.1 309.3L377.4 309.7L381.0 307.7L381.0 303.7L378.9 301.3L377.3 300.0L375.0 297.2L373.1 294.5ZM369.3 321.3L370.9 320.1L368.4 319.2L366.7 316.4L364.2 313.6L363.8 314.6L364.5 315.4L365.0 319.9ZM375.2 316.7L375.5 311.6L375.4 311.7L372.7 311.5L369.9 312.3L367.1 309.0L365.5 309.8L364.2 313.6L366.7 316.4L368.4 319.2L370.9 320.1ZM306.7 323.6L303.4 321.2L302.6 321.0L299.7 323.9L296.7 324.4L292.6 325.3L292.5 325.7L297.1 328.4L301.5 328.1L305.1 327.7L306.7 326.1ZM385.6 425.7L389.2 421.5L389.9 421.2L388.8 418.1L386.9 418.4L385.3 415.4L387.5 414.8L386.9 413.1L382.3 412.1L381.5 412.3L379.7 415.3L376.9 418.4L377.7 421.0L380.6 422.6L382.9 424.0ZM294.0 431.5L289.7 431.0L286.4 433.5L282.9 435.9L283.8 438.1L284.3 438.5L284.7 440.2L286.5 444.7L289.6 444.7L294.1 446.5L294.6 446.2L296.9 444.8L298.4 441.2L297.1 437.8L296.0 434.9ZM416.6 378.6L413.7 377.7L410.7 376.9L407.5 377.0L404.6 375.3L403.4 375.6L401.9 377.1L401.4 380.6L401.8 383.6L405.1 385.4L407.0 387.5L410.5 389.5L410.8 389.1L411.7 386.3L414.2 384.6L415.3 381.8ZM385.1 426.3L385.6 425.7L382.9 424.0L380.6 422.6L377.7 421.0L378.4 423.1L379.9 427.7L384.3 427.0ZM322.1 441.3L322.2 441.4L323.3 441.5L327.8 440.4L328.8 438.8L332.2 435.3L333.6 433.9L332.6 430.6L330.6 428.5L326.0 427.9L325.1 430.0L322.2 433.4L320.7 435.3L321.2 438.4ZM331.0 445.5L331.8 445.1L332.4 442.2L332.8 440.1L333.3 436.7L334.3 433.7L333.6 433.9L331.4 436.5L329.8 438.8L326.7 441.6L326.2 443.6ZM298.4 441.2L296.9 444.8L299.7 443.1L299.1 440.9ZM309.0 452.3L309.7 450.0L312.0 446.2L311.5 444.6L308.9 441.3L307.8 439.4L304.1 439.7L302.1 439.9L300.5 440.5L301.1 443.3L300.5 447.6L303.4 450.0L307.0 452.6ZM299.2 362.4L295.3 366.2L296.1 370.9L298.9 374.6L299.4 374.6L298.2 372.2L297.5 368.7L296.6 366.0L299.6 362.2ZM298.9 374.6L300.4 376.5L299.4 374.6ZM301.3 382.8L302.0 379.9L300.8 377.3ZM299.7 385.6L300.5 386.0L300.7 385.1ZM295.3 380.1L295.2 380.0L293.6 380.9L295.1 383.0L297.4 384.3ZM382.6 364.1L382.2 364.4L384.6 369.1L383.5 365.1ZM385.8 368.6L384.6 369.1L385.5 369.8ZM320.7 435.3L322.2 433.4L325.1 430.0L326.0 427.9L324.4 427.7L322.2 429.9L320.4 432.0L318.2 433.9L318.3 434.4ZM281.3 435.6L283.8 438.1L282.9 435.9ZM286.5 444.7L284.7 440.2L285.8 444.7L286.3 444.9ZM330.4 454.2L330.3 450.4L331.1 448.3L331.0 445.5L326.2 443.6L325.9 444.7L325.0 447.5L325.2 449.3L324.8 449.8L327.0 453.1L328.7 454.2ZM288.1 360.4L288.4 360.1L293.0 358.5L293.8 355.6L296.7 352.4L294.2 350.7L293.5 352.1L291.3 353.1L290.1 355.5L287.4 358.3L286.0 358.7ZM300.4 421.7L298.4 418.8L294.7 416.9L295.8 420.0L295.3 423.3L295.2 426.1L300.4 425.6ZM263.2 264.4L259.8 264.5L255.5 262.8L252.2 262.3L250.3 265.1L247.5 267.4L246.4 270.2L249.7 273.0L253.2 272.2L256.4 271.2L259.6 271.0L262.8 271.2L263.8 267.5L264.0 265.7ZM245.9 270.8L246.0 271.1L247.3 270.9L246.4 270.2ZM261.9 275.5L262.8 271.2L261.5 271.4L261.5 275.6ZM282.9 435.9L286.4 433.5L289.7 431.0L287.4 430.8L282.9 433.1L279.6 433.9L281.3 435.6ZM284.4 264.1L286.7 266.2L289.3 269.3L291.2 268.3L290.8 264.9L290.5 261.4L288.2 258.1L286.0 261.4ZM290.3 259.2L288.5 257.7L288.2 258.1L290.5 261.4L290.5 261.4L290.8 259.8L290.3 259.2ZM290.5 261.4L290.5 261.4L290.9 265.0L291.3 262.6ZM254.6 238.3L251.9 237.2L248.7 238.4L245.8 238.1L243.0 238.4L239.9 238.2L237.5 240.6L238.0 243.5L235.7 246.2L239.2 246.7L241.1 251.5L240.2 252.1L243.6 252.8L246.6 254.6L250.5 254.3L252.1 252.1L254.1 249.6L257.0 248.0L257.5 244.9L256.8 242.1ZM257.7 362.5L256.5 362.9L256.5 361.5L251.3 360.8L249.0 357.0L251.1 354.3L249.5 354.1L247.6 356.2L247.5 359.5L247.6 363.2L251.1 363.0L254.2 363.2L257.7 363.2ZM257.7 361.6L257.5 361.6L256.5 361.5L256.5 362.9L257.7 362.5ZM300.4 421.7L300.4 425.6L302.8 425.4L303.1 422.1L303.5 419.4ZM276.1 277.1L274.7 279.4L271.2 281.9L273.6 284.7L277.4 283.8L279.2 281.6L282.2 278.9L282.1 278.5L279.0 277.7ZM282.2 278.9L279.9 281.7L277.8 283.4L281.5 282.2ZM274.9 286.2L276.4 286.1L278.9 283.0L277.8 283.4L277.4 283.8L273.6 284.7ZM352.6 440.8L355.2 438.5L352.2 437.0L350.7 435.2L348.3 433.9L348.1 432.2L347.5 431.6L346.9 431.6L348.3 435.0L348.1 438.1ZM348.1 438.1L345.5 439.7L344.5 443.1L341.7 445.1L343.4 448.9L346.5 446.5L349.1 443.9L352.6 440.8ZM236.1 226.6L233.2 225.7L229.5 225.1L226.6 224.4L222.9 223.6L223.0 226.5L223.3 229.7L223.1 232.6L223.8 235.1L224.4 238.3L225.7 242.5L226.6 244.8L229.6 244.8L232.1 245.4L235.7 246.2L238.0 243.5L237.5 240.6L239.9 238.2L239.0 235.2L237.4 233.1L236.8 229.3ZM401.4 348.5L397.7 347.5L392.3 346.3L393.6 348.6L397.6 349.6L400.9 350.1ZM270.8 281.9L267.8 280.7L265.5 278.1L262.9 276.2L261.2 277.6L261.9 282.2L264.1 284.0L267.8 285.9ZM263.5 283.2L261.9 282.2L261.8 281.4L261.5 282.2ZM267.8 285.9L263.5 283.2L261.5 282.2L261.5 287.4L267.0 286.9ZM261.9 275.5L261.5 275.6L261.5 277.3L262.9 276.2ZM261.8 281.4L261.5 279.9L261.5 282.0ZM268.5 254.8L268.1 251.7L268.5 248.0L269.0 246.4L268.5 243.5L264.9 244.0L261.8 244.0L257.5 244.9L257.0 248.0L259.6 250.2L261.4 251.1L263.0 254.1L265.2 256.0ZM273.3 253.0L274.3 250.9L272.4 248.6L272.8 246.2L270.8 243.2L268.5 243.5L269.0 246.4L268.5 248.0L268.1 251.7L268.5 254.8ZM383.5 365.1L383.1 363.5L382.6 364.1ZM386.6 368.1L387.6 367.5L389.2 366.0L386.1 368.1ZM391.3 358.0L393.8 360.6L394.5 360.2ZM388.5 356.2L387.3 356.4L387.6 358.3L387.2 358.8L390.6 357.6ZM392.9 362.4L392.7 361.9L389.2 366.0L392.3 362.9ZM392.1 368.2L393.5 366.6L392.3 366.0L389.7 366.7L387.0 368.1ZM284.4 264.1L279.0 264.9L277.1 266.7L277.3 270.7L276.4 273.6L276.1 277.1L279.0 277.7L282.1 278.5L282.0 277.6L282.6 277.6L282.6 275.6L283.9 276.0L285.1 271.4L289.3 269.3L286.7 266.2ZM286.3 444.9L288.7 446.8L292.0 447.8L294.1 446.5L294.1 446.5L289.6 444.7L286.5 444.7ZM269.0 372.1L268.8 371.2L268.5 371.2L269.0 372.7ZM414.5 261.9L411.2 262.5L411.5 262.8L409.7 266.4L410.2 267.5L407.6 270.5L407.5 270.9L411.2 273.5L414.0 271.2L416.5 271.1L417.7 265.6ZM396.2 416.8L397.7 413.8L392.3 413.8L390.7 412.7L387.6 413.1L387.4 412.6L386.9 413.1L387.5 414.8L390.0 414.1L391.5 417.7L388.8 418.1L389.9 421.2L392.7 419.8ZM256.2 349.1L254.7 350.0L256.0 351.0ZM254.4 350.0L255.9 352.2L256.0 351.0L253.8 349.3L251.4 352.3L249.5 354.1L251.1 354.3ZM264.0 265.7L263.8 267.5L262.8 271.2L265.6 271.9L268.5 270.5L268.5 266.0ZM277.1 266.7L274.2 266.3L271.0 266.5L268.5 266.0L268.5 270.5L267.1 270.7L268.1 272.2L265.4 274.2L262.9 276.2L265.5 278.1L267.8 280.7L270.8 281.9L271.2 281.9L274.7 279.4L276.1 277.1L276.4 273.6L277.3 270.7ZM264.3 275.1L268.1 272.2L267.8 271.8L264.6 274.5ZM261.9 275.5L262.9 276.2L264.3 275.1L264.6 274.5L267.8 271.8L267.1 270.7L262.8 271.2ZM407.5 270.9L406.3 273.2L405.4 276.0L403.2 278.4L404.6 280.4L407.9 279.2L410.8 278.4L411.2 273.5ZM414.7 363.8L417.7 364.4L416.6 360.8ZM416.1 369.2L415.4 364.4L414.1 364.7L413.4 365.9ZM426.2 255.7L425.2 256.2L424.2 255.2L420.2 255.8L416.0 256.4L415.6 259.6L414.5 261.9L417.7 265.6L420.4 264.6L423.9 265.2L425.5 263.1L427.2 260.6ZM439.2 255.6L437.5 253.9L437.0 253.9ZM424.9 245.4L425.1 245.3L425.1 245.2L423.7 243.8ZM307.0 452.6L306.8 452.9L309.0 452.4L309.0 452.3ZM365.8 261.1L367.3 260.4L366.9 260.1ZM371.0 260.7L371.0 260.7L368.4 259.8L364.3 261.9L367.2 261.2ZM262.9 360.1L260.8 360.7L261.1 361.4L257.7 362.5L257.7 363.2L259.9 363.2L264.4 362.6L265.7 363.8L269.2 363.2L268.6 360.5L267.6 356.2L265.9 355.7L262.9 356.9ZM257.7 361.6L257.7 362.5L261.1 361.4L260.8 360.7ZM268.3 369.3L271.4 364.7L274.2 364.0L274.6 361.1L271.9 361.4L269.1 364.4L267.3 367.5L268.5 371.2L268.8 371.2ZM407.0 250.5L407.0 249.9L406.9 249.8L404.4 252.4L400.9 254.9L403.1 254.7L405.4 252.3ZM406.5 248.8L405.5 249.2L405.2 248.8L401.6 250.2L398.3 253.1L399.3 255.0L400.9 254.9L404.4 252.4L406.9 249.8ZM250.5 254.3L246.6 254.6L243.6 252.8L240.2 252.1L238.8 253.0L238.7 257.1L240.0 261.2L240.6 263.8L243.7 267.8L246.4 270.2L247.5 267.4L250.3 265.1L252.2 262.3L250.6 258.4ZM245.9 270.8L245.9 270.8L246.4 270.2L243.7 267.8ZM235.6 255.0L235.2 256.0L237.2 258.2L240.3 261.6L240.4 259.1L238.6 256.2L238.8 253.0ZM391.5 270.5L394.7 268.0L395.1 267.7L397.7 264.2L397.7 261.2L397.4 257.8L394.8 258.9L391.5 262.2L390.9 263.2L392.8 266.0L390.7 269.5ZM397.7 264.2L396.8 265.5L397.8 265.1ZM397.4 256.8L393.9 257.0L390.4 260.1L390.9 263.2L391.5 262.2L394.8 258.9L397.4 257.8ZM396.6 394.2L396.4 394.3L396.9 395.3L399.1 395.7ZM330.4 454.2L333.8 454.2L336.7 452.4L339.4 451.9L342.9 449.3L343.4 448.9L341.7 445.1L337.5 444.9L335.4 446.0L331.8 445.1L331.0 445.5L331.1 448.3L330.3 450.4ZM410.9 301.0L412.1 300.4L409.6 298.4L409.3 296.7L407.7 296.6L407.7 302.1ZM403.9 305.5L406.3 302.7L407.7 302.1L407.7 296.6L403.6 296.5L402.5 297.6L403.2 301.6ZM420.8 242.3L421.6 242.3L421.6 241.7L420.3 240.4ZM420.8 242.3L421.7 245.4L420.7 248.1L419.2 251.6L414.2 249.1L413.0 250.8L414.0 254.1L416.0 256.4L420.2 255.8L424.2 255.2L423.4 254.4L423.4 251.6L425.1 251.4L425.1 250.2L423.8 249.8L423.4 246.3L424.9 245.4L423.7 243.8L423.0 243.1L421.7 242.9L421.6 242.3ZM346.6 319.4L346.9 319.5L347.8 319.0L349.9 316.0L350.1 313.1L348.9 312.0L348.3 311.5L344.4 311.7L342.2 313.1L343.5 315.5L345.1 319.0ZM405.3 258.5L407.0 257.5L406.8 254.5L407.0 250.5L405.4 252.3L403.1 254.7ZM406.3 260.2L406.5 260.1L406.7 260.4L408.6 259.9L411.2 262.5L414.5 261.9L415.6 259.6L416.0 256.4L414.0 254.1L413.0 250.8L409.1 251.0L407.1 250.3L407.0 250.5L406.8 254.5L407.0 257.5L405.3 258.5ZM295.1 413.0L293.5 413.8L294.1 415.4ZM403.9 291.7L403.5 287.5L402.0 285.2L400.5 289.4L398.2 292.3L397.3 293.2L400.8 291.5L403.8 292.1ZM403.6 296.5L403.8 292.1L400.8 291.5L397.3 293.2L393.9 296.8L397.5 297.3L400.4 297.5L402.5 297.6ZM284.4 264.1L286.0 261.4L288.2 258.1L286.7 256.1L282.6 252.5L282.1 250.8L281.2 249.8L280.9 249.4L278.6 250.5L274.3 250.9L273.3 253.0L275.0 256.0L275.5 258.6L277.3 262.7L279.0 264.9ZM288.5 257.7L286.7 256.1L288.2 258.1ZM282.0 250.6L282.0 250.6L282.0 250.3L281.6 249.2L280.9 249.4L281.2 249.8L282.1 250.8ZM254.6 238.3L256.6 233.8L252.7 231.8L250.3 230.8L247.0 230.8L244.0 228.4L240.8 228.0L236.1 226.6L236.8 229.3L237.4 233.1L239.0 235.2L239.9 238.2L243.0 238.4L245.8 238.1L248.7 238.4L251.9 237.2ZM384.8 321.7L380.2 321.8L378.8 324.3L380.7 325.4L385.4 323.9L385.9 323.7ZM252.2 262.3L255.5 262.8L259.8 264.5L263.2 264.4L263.1 261.2L264.5 258.4L265.2 256.0L263.0 254.1L261.4 251.1L259.6 250.2L257.0 248.0L254.1 249.6L252.1 252.1L250.5 254.3L250.6 258.4ZM307.0 452.6L303.4 450.0L300.5 447.6L300.5 447.8L301.5 450.5L302.8 453.9L306.8 452.9ZM362.8 270.5L360.4 267.6L359.9 268.3L360.7 272.2L362.0 273.8ZM298.4 441.2L299.1 440.9L298.2 437.0L296.3 434.0L294.3 431.6L294.0 431.5L296.0 434.9L297.1 437.8ZM302.1 439.9L300.5 440.1L300.5 440.5ZM354.3 323.2L355.3 323.3L358.6 323.3L358.7 323.2L356.1 322.3L354.5 317.7L356.9 315.4L353.4 312.2L353.2 312.3L352.6 315.1L353.0 315.4L351.6 319.4L351.2 321.2ZM347.8 319.0L349.0 319.7L351.4 320.0L353.0 315.4L350.2 313.1L350.1 313.1L349.9 316.0ZM257.5 244.9L261.8 244.0L264.9 244.0L268.5 243.5L268.5 239.7L266.2 238.6L262.1 236.9L260.3 236.1L257.5 234.2L256.6 233.8L254.6 238.3L256.8 242.1ZM270.8 243.2L271.6 241.2L268.5 239.7L268.5 243.5ZM295.2 380.0L293.8 378.5L291.5 375.5L287.6 375.7L285.3 376.3L284.2 376.8L287.7 377.0L290.4 376.8L293.6 380.9ZM353.4 312.2L356.9 315.4L360.7 311.5L363.8 314.6L364.2 313.6L363.8 313.1L360.7 308.4L360.7 308.0L357.5 306.8L354.3 310.8ZM365.5 309.8L360.7 308.0L360.7 308.4L363.8 313.1L364.2 313.6ZM274.2 364.0L277.6 363.1L280.4 364.1L283.8 365.5L286.6 363.2L288.1 360.4L286.0 358.7L282.2 360.1L279.6 360.6L274.6 361.1ZM311.5 444.6L310.6 442.0L309.7 439.3L307.8 439.4L308.9 441.3ZM320.7 435.3L318.3 434.4L318.6 436.2L319.0 440.1L322.1 441.3L321.2 438.4ZM417.5 293.2L415.9 293.0L417.5 293.7L417.5 293.4ZM306.9 360.1L303.5 361.1L303.6 361.2L309.0 359.8L309.3 358.9ZM393.6 314.9L396.0 312.8L398.2 311.4L399.2 310.4L394.6 311.5L392.4 314.9L390.3 317.3ZM390.1 317.4L390.3 317.3L392.4 314.9L394.6 311.5L399.2 310.4L399.8 309.8L395.4 308.5L393.0 307.3L389.1 308.8L386.9 310.4L387.1 313.9L388.0 316.7ZM396.6 394.2L396.6 391.8L396.1 392.2L395.8 393.0L396.4 394.3ZM387.7 295.6L387.5 295.6L385.6 295.8L385.4 296.1L386.7 296.8ZM381.0 295.1L380.7 297.6L385.4 296.1L384.9 295.9L383.5 296.1L382.8 295.1L382.2 294.9L381.7 294.8ZM373.1 294.5L375.0 297.2L377.3 300.0L378.9 301.3L381.0 303.7L382.9 301.4L385.7 299.2L386.7 296.8L385.4 296.1L380.7 297.6L380.2 297.5L380.1 298.4L375.4 296.1L375.3 295.3L373.8 293.8ZM411.2 273.5L410.8 278.4L410.9 278.4L413.9 277.5L416.6 276.8L419.0 275.5L419.6 274.4L416.5 271.1L414.0 271.2ZM397.4 256.8L399.3 255.0L398.3 253.1L396.2 255.1L393.9 257.0ZM306.7 326.1L308.2 324.6L306.7 323.6ZM427.2 260.6L430.5 261.8L433.9 262.9L435.2 261.6L437.7 258.3L440.2 256.6L439.2 255.6L437.0 253.9L434.2 253.5L429.8 253.9L426.2 255.7ZM267.8 285.9L268.1 286.1L270.4 285.6L273.6 284.7L271.2 281.9L270.8 281.9ZM273.1 284.8L268.9 285.9L269.2 286.0ZM267.0 286.9L270.6 287.3L274.9 286.2L273.6 284.7L273.1 284.8L269.2 286.0L268.9 285.9L268.1 286.1L267.8 285.9ZM414.2 249.1L414.2 249.1L414.2 245.6L412.6 246.2L412.5 246.3L409.2 247.8L406.5 248.8L406.9 249.8L407.0 249.8L407.0 249.9L407.1 250.3L409.1 251.0L413.0 250.8ZM369.6 322.8L368.4 321.6L369.3 321.4L369.3 321.3L365.0 319.9L365.3 322.3L362.4 323.3L365.6 323.8L369.7 323.3ZM274.3 250.9L278.6 250.5L280.9 249.4L279.5 247.0L277.4 243.7L276.8 243.8L274.3 242.4L271.6 241.2L270.8 243.2L272.8 246.2L272.4 248.6ZM281.6 249.2L280.6 245.8L277.8 243.6L277.4 243.7L279.5 247.0L280.9 249.4ZM387.4 412.6L386.4 411.0L382.3 412.1L386.9 413.1ZM369.3 321.3L369.3 321.4L373.0 320.8L370.9 320.1ZM370.9 320.1L373.0 320.8L375.5 322.3L378.8 324.3L380.2 321.8L378.3 319.3L375.2 316.7ZM401.8 383.6L401.4 380.6L401.9 377.1L398.2 377.3L395.0 375.6L392.4 377.4L389.5 378.9L392.3 383.7L394.5 383.8L398.1 382.4L400.8 383.0L400.8 383.0L401.5 383.0L401.5 383.8ZM423.9 265.2L426.2 269.2L427.6 268.8L430.1 266.3L432.2 264.6L433.9 262.9L430.5 261.8L427.2 260.6L425.5 263.1ZM378.5 280.7L383.1 279.0L383.9 278.6L380.7 277.3L378.6 279.4L374.7 280.0L372.3 281.7L373.0 283.2L374.6 283.8L378.1 282.6ZM397.7 264.2L399.2 262.2L402.3 260.4L405.3 258.5L403.1 254.7L400.9 254.9L397.7 257.5L397.4 257.8L397.7 261.2ZM397.4 257.8L397.7 257.5L400.9 254.9L399.3 255.0L397.4 256.8ZM397.8 265.1L397.9 265.0L399.8 263.2L403.3 261.9L404.6 261.0L405.2 260.9L406.3 260.2L405.3 258.5L402.3 260.4L399.2 262.2L397.7 264.2ZM390.6 357.6L390.7 357.5L391.3 358.0L394.5 360.2L396.9 359.0L399.3 360.2L399.8 356.9L401.1 354.3L401.2 350.6L400.9 350.1L397.6 349.6L393.6 348.6L391.0 351.0L389.6 353.3L388.5 356.2ZM391.1 322.4L387.7 323.3L390.4 323.3ZM391.2 321.8L388.9 318.3L390.1 317.4L388.0 316.7L386.9 319.3L384.8 321.7L385.9 323.7L389.8 322.6L391.5 322.3L391.4 321.9ZM417.7 265.6L416.5 271.1L419.6 274.4L421.3 270.9L426.2 269.2L423.9 265.2L420.4 264.6ZM294.1 415.4L294.7 416.9L298.4 418.8L300.4 421.7L303.5 419.4L304.1 416.8L304.3 412.3L299.7 410.7L295.1 413.0ZM265.2 256.0L264.5 258.4L263.1 261.2L263.2 264.4L264.0 265.7L268.5 266.0L269.0 263.0L269.1 261.1L269.0 257.5L268.5 254.8ZM279.0 264.9L277.3 262.7L275.5 258.6L275.0 256.0L273.3 253.0L268.5 254.8L269.0 257.5L269.1 261.1L269.0 263.0L268.5 266.0L271.0 266.5L274.2 266.3L277.1 266.7ZM272.9 375.5L269.1 372.4L269.0 372.1L269.0 372.7L270.4 376.8L274.0 378.3L276.6 379.9L278.2 378.8L275.4 376.9ZM377.6 266.0L382.0 264.9L380.3 264.7ZM371.0 260.7L372.2 264.3L372.4 266.9L373.0 269.1L376.0 270.0L378.9 268.1L381.2 266.2L384.0 264.6L383.8 264.5L380.7 265.2L377.6 266.0L375.6 263.8L373.0 261.4L371.0 260.7ZM403.4 396.6L404.6 396.8L405.8 395.3ZM296.7 352.4L297.6 350.8L298.3 347.0L296.6 345.9L294.2 350.7ZM412.1 292.6L410.0 292.3L404.5 292.3L407.7 293.0L407.7 296.6L409.3 296.7L409.0 294.4L412.4 292.7ZM403.6 296.5L407.7 296.6L407.7 293.0L403.8 292.1ZM362.8 270.5L362.0 273.8L363.9 275.9L363.9 274.1L367.9 272.4L369.6 277.6L368.0 280.3L368.6 280.8L369.2 280.6L369.0 277.9L370.3 274.2L370.8 270.8L366.3 270.9ZM351.2 321.2L350.8 323.3L353.9 323.3L353.7 323.1L354.3 323.2ZM347.8 319.0L346.9 319.5L349.0 319.7Z"/>
<path fill="#e0805c" d="M344.9 292.6L345.4 292.5L345.2 292.2L344.1 291.4ZM344.1 291.4L345.2 292.2L345.4 292.5L346.6 292.4L343.2 290.1ZM398.9 362.1L400.9 363.2L401.5 362.9L399.1 360.9ZM383.1 379.6L385.4 381.5L388.6 379.5L387.6 378.3L383.5 377.8ZM398.9 362.1L397.5 362.3L394.8 365.2L395.4 366.0L398.2 364.6L400.9 363.2ZM396.5 388.0L396.6 391.8L400.1 389.6L401.5 387.6L401.0 384.3L398.8 387.0ZM344.9 292.6L344.8 297.1L345.8 296.6L346.0 296.1L346.5 295.3L345.4 292.5ZM345.4 292.5L346.5 295.3L347.8 293.2L346.6 292.4ZM344.8 298.0L345.8 296.6L345.8 296.6L344.8 297.1ZM374.9 292.5L374.6 289.9L374.3 290.0L374.8 292.6ZM376.6 290.6L375.3 287.8L374.3 288.0L374.9 292.5ZM298.6 319.8L295.0 321.7L295.1 322.3L299.7 323.9L302.6 321.0ZM340.7 359.1L340.3 362.2L340.7 365.2L344.4 362.9L345.2 359.6L345.7 355.9L343.0 357.0ZM355.0 360.1L351.1 356.4L349.1 356.0L351.1 359.7L352.9 361.4L354.6 366.1L354.7 366.0L354.4 363.6ZM387.5 414.8L385.3 415.4L386.9 418.4L388.8 418.1ZM373.1 394.9L373.8 399.2L375.8 400.9L378.4 403.0L379.3 403.5L382.4 402.6L385.3 400.8L388.6 399.0L388.6 398.6L386.7 395.8L386.4 393.3L383.7 390.8L380.1 391.4L376.4 393.1L373.2 394.4ZM335.3 345.0L336.7 345.2L336.7 344.4ZM340.7 359.1L343.0 357.0L345.7 355.9L346.0 354.4L342.9 355.6L339.8 356.7L340.0 358.6ZM352.2 368.8L350.6 369.1L351.9 372.8ZM383.1 379.6L383.5 377.8L381.5 377.6L382.3 379.5ZM275.2 400.3L274.7 399.1L272.3 398.1L271.9 399.9L274.5 401.7ZM254.5 402.6L255.9 406.2L256.5 403.6L256.5 400.1ZM380.6 251.0L377.5 250.8L375.1 251.5L370.8 249.8L368.6 249.9L369.6 253.0L370.6 256.9L371.1 260.5L374.4 260.2L378.7 258.5L379.2 254.9ZM264.0 320.4L266.5 320.8L269.6 321.6L274.6 322.6L270.9 320.1L268.9 318.9ZM325.9 355.2L322.6 354.8L320.0 354.2L316.7 353.6L314.7 355.2L315.8 359.1L318.2 361.2L323.5 362.7L326.1 359.3ZM485.2 174.7L483.1 176.7L480.7 178.6L478.4 180.8L474.9 182.2L473.2 182.9L471.6 184.0L467.9 185.4L469.8 187.8L471.6 190.2L472.2 189.4L475.4 189.2L478.6 186.7L482.1 187.0L483.7 185.1L487.5 182.6L489.1 181.1L486.9 177.3ZM281.9 315.5L280.7 318.0L278.4 322.4L281.4 321.3L283.5 319.2L282.5 315.5ZM289.0 315.0L287.2 315.2L289.4 315.7ZM331.4 332.9L331.6 336.0L330.1 338.1L329.4 341.2L329.4 341.3L333.4 340.5L335.9 341.3L339.1 339.3L336.8 334.7L336.0 333.9L332.3 332.8ZM336.7 344.4L336.7 341.3L332.3 341.2L329.4 341.3L331.9 344.7L335.3 345.0ZM327.0 303.2L325.6 305.5L324.3 308.7L322.8 310.6L328.3 311.5L331.3 310.0L333.7 308.4L333.0 304.6L332.6 303.7L329.9 302.3ZM322.4 311.3L325.2 312.1L328.3 312.3L328.6 313.3L331.1 311.6L333.4 309.6L333.1 308.8L328.3 311.5L322.8 310.6ZM322.4 311.4L324.7 313.7L326.9 316.1L329.1 315.1L328.3 312.3L325.2 312.1L322.4 311.3ZM279.3 301.7L275.2 302.2L275.4 303.6ZM270.2 310.6L274.3 309.2L273.5 306.9L269.6 307.7L266.6 303.8L264.7 305.7L268.5 307.8ZM280.1 304.1L279.3 301.7L275.0 303.8L275.0 309.0L278.4 307.8ZM340.7 359.1L340.0 358.6L340.3 361.9L340.6 365.2L340.7 365.2L340.3 362.2ZM326.1 359.3L323.5 362.7L325.0 366.6L327.5 362.9L326.7 359.1ZM318.8 308.2L319.0 310.0L320.3 310.2ZM320.3 310.2L319.0 310.0L318.8 308.2L317.3 306.2L317.3 311.8L319.0 310.8L321.0 311.1ZM321.1 311.2L321.0 311.1L319.0 310.8L315.2 313.1L315.0 314.6L318.1 312.9ZM342.5 272.2L342.4 272.7L345.4 274.4L347.8 275.9L345.5 271.9ZM350.9 271.4L345.5 271.9L348.2 276.6L351.9 273.8ZM275.2 400.3L274.5 401.7L276.6 403.0L277.8 401.8ZM194.7 404.5L195.7 407.2L197.2 409.7L198.4 412.5L198.0 415.4L199.6 417.9L203.8 417.2L203.1 414.9L204.5 412.3L203.1 408.9L204.2 405.8L204.2 402.9L203.3 401.6L199.4 402.5L196.7 403.5ZM397.5 362.3L394.5 360.2L392.3 361.4L394.8 365.2ZM341.8 289.7L339.1 287.6L337.1 289.9L334.3 291.8L338.5 291.5ZM342.3 289.5L340.9 288.6L340.6 288.8L341.8 289.7ZM467.9 185.4L467.2 185.7L463.2 187.8L459.8 189.4L462.3 193.2L466.7 195.4L467.2 194.4L468.9 193.6L471.6 190.2L469.8 187.8ZM382.3 379.5L382.7 383.0L384.6 385.3L385.3 385.8L386.0 383.4L385.4 381.5L383.1 379.6ZM372.5 392.1L375.3 390.7L374.1 388.2L373.8 385.3L370.1 386.7L370.6 389.6ZM383.7 390.8L384.5 388.4L382.5 390.0L378.4 392.2L376.4 393.1L380.1 391.4ZM381.3 250.5L381.3 250.5L382.3 254.4L385.2 255.4L383.1 250.4ZM386.4 258.1L386.1 259.3L386.7 258.9ZM380.6 251.0L379.2 254.9L378.7 258.5L381.2 261.4L383.8 262.9L385.4 262.2L385.2 259.6L386.9 256.0L382.3 254.4L381.3 250.5ZM246.9 401.6L250.7 402.1L254.5 402.6L256.5 400.1L256.5 399.9L256.6 399.9L253.8 397.6L251.0 395.3L247.7 396.7L244.7 397.8L244.7 397.9ZM289.0 315.0L289.4 315.7L291.2 316.2L292.8 311.5L291.1 310.4ZM298.6 319.8L299.1 317.3L299.5 313.9L294.3 314.6L295.1 317.4L295.0 321.7ZM282.8 301.3L285.5 302.1L285.1 301.0ZM280.1 304.1L283.1 305.1L286.8 304.9L285.8 302.3L281.2 300.7L279.3 301.7ZM355.0 360.1L357.8 359.1L356.8 357.5L354.4 357.9L351.1 356.4ZM388.8 418.1L391.5 417.7L390.0 414.1L387.5 414.8ZM203.8 417.2L205.6 416.9L207.3 416.2L209.6 411.6L208.5 407.8L206.3 406.3L204.2 402.9L204.2 405.8L203.1 408.9L204.5 412.3L203.1 414.9ZM246.9 401.6L244.7 397.9L245.3 403.0ZM322.4 311.4L321.1 311.2L318.1 312.9L315.0 314.6L313.7 317.9L314.4 320.8L315.2 321.5L317.5 320.4L320.8 320.4L323.6 320.8L326.9 319.2L326.9 316.1L324.7 313.7ZM370.1 386.7L369.9 386.8L371.3 389.8L372.2 392.2L372.5 392.1L370.6 389.6ZM332.1 293.9L330.4 296.8L326.7 299.2L330.6 299.2L332.3 299.0ZM327.0 303.2L329.9 302.3L326.0 300.9L323.6 299.2L322.5 299.2L324.8 301.2ZM330.2 302.2L329.7 301.0L326.6 300.7L329.9 302.3ZM378.9 340.1L378.0 337.2L374.0 338.1L370.4 338.8L371.5 341.6L376.4 341.1L378.9 340.2ZM298.6 319.8L302.6 321.0L302.8 320.8L302.0 317.8L299.7 313.9L299.5 313.9L299.1 317.3ZM321.1 333.7L323.6 332.1L320.6 332.4L321.0 333.5ZM303.0 463.2L308.2 463.2L310.0 459.6L310.5 455.5L307.3 452.8L306.8 452.9L304.8 456.8L301.9 458.9ZM342.5 272.2L340.7 270.3L340.2 270.2L342.1 272.5L342.4 272.7ZM338.8 269.2L339.1 269.9L340.7 270.3L339.5 268.9ZM367.2 248.4L364.6 250.8L364.7 251.2L367.6 248.8ZM367.6 248.8L364.5 251.4L365.3 256.0L366.9 259.8L367.9 260.1L368.4 259.8L371.0 260.7L371.1 260.5L370.6 256.9L369.6 253.0L368.6 249.9ZM379.7 335.8L379.8 334.8L377.6 331.6L373.8 331.0L370.7 330.1L369.9 334.7L373.5 337.1L377.6 336.2L377.9 336.9L379.0 336.7ZM378.0 337.2L377.6 336.2L374.4 336.8L369.9 337.8L370.4 338.8L374.0 338.1ZM380.6 248.2L380.7 248.3L381.0 249.3L381.3 250.5L383.1 250.4L383.0 250.2L380.5 247.7ZM379.7 335.8L380.6 336.2L380.7 336.2L379.8 334.8ZM342.5 272.2L345.5 271.9L345.2 271.4L340.7 270.3ZM351.3 270.8L349.1 269.9L350.9 271.3ZM349.1 269.9L350.1 267.3L349.6 266.4ZM347.2 264.0L348.5 264.2L348.3 263.8ZM340.7 270.3L345.2 271.4L345.5 271.9L350.9 271.4L350.9 271.3L349.1 269.9L349.9 264.5L345.2 263.7L342.1 265.6L339.2 265.5L339.5 268.9ZM362.0 369.8L362.0 370.9L363.0 370.6L362.7 369.4ZM419.7 227.4L421.4 231.6L423.9 233.1L427.5 232.5L428.1 233.3L428.8 230.4L428.8 230.3L425.6 228.5L421.5 226.7ZM344.1 291.4L341.8 289.7L338.5 291.5L334.3 291.8L332.9 293.0L332.1 293.9L332.3 299.0L335.8 299.7L339.1 298.4L339.7 299.2L340.6 299.2L344.8 297.1L344.9 292.6ZM343.2 290.1L342.3 289.5L341.8 289.7L344.1 291.4ZM343.4 299.7L344.8 298.0L344.8 297.1L341.1 299.0L341.5 299.7L343.2 299.7ZM252.5 420.7L252.0 420.9L253.5 421.6L253.7 421.4ZM252.5 420.7L254.1 417.8L254.3 414.2L255.1 412.3L254.7 411.6L255.9 406.2L254.5 402.6L250.7 402.1L246.9 401.6L245.3 403.0L244.8 406.3L245.9 409.1L246.0 413.1L246.9 416.6L248.4 419.1L252.0 420.9ZM332.3 332.8L330.7 332.3L331.4 332.9ZM329.4 341.2L325.6 339.9L323.2 339.7L323.6 340.9L324.6 341.5L324.4 341.3L329.4 341.3ZM329.4 341.3L324.4 341.3L329.0 344.4L331.9 344.7ZM274.7 399.1L277.4 395.0L272.7 396.1L272.3 398.1ZM281.9 315.5L282.5 315.5L282.0 313.9L281.0 313.5ZM291.1 310.4L288.2 308.4L286.8 304.9L283.1 305.1L280.1 304.1L278.4 307.8L280.3 311.2L281.0 313.5L282.0 313.9L285.1 314.6L287.2 315.2L289.0 315.0ZM362.7 369.4L361.4 364.4L360.2 361.3L357.8 359.1L355.0 360.1L354.4 363.6L354.7 366.0L358.6 367.0L362.0 369.8ZM313.8 364.0L314.4 368.3L317.8 367.3L321.1 367.8L324.4 366.8L324.8 366.9L325.0 366.6L323.5 362.7L318.2 361.2ZM301.9 458.9L304.8 456.8L306.8 452.9L303.8 453.7L302.0 455.5L301.7 458.2ZM350.9 271.3L351.6 271.8L352.0 271.2L351.9 271.1L351.3 270.8ZM350.9 271.4L351.9 273.8L353.0 273.0L350.9 271.3ZM356.0 324.3L358.2 323.9L358.4 323.6L354.3 323.2ZM362.0 369.8L358.6 367.0L354.7 366.0L354.6 366.1L355.8 369.7L356.8 372.2L362.0 370.9ZM351.9 372.8L352.2 373.7L356.8 372.9L355.2 368.3L352.2 368.8ZM268.9 318.9L269.3 313.9L270.2 310.6L268.5 307.8L264.7 305.7L261.8 307.7L260.4 310.0L260.9 313.3L261.7 317.6L261.9 320.0L264.0 320.4ZM326.9 319.2L329.8 317.7L329.1 315.1L326.9 316.1ZM380.5 288.9L380.8 289.2L380.5 287.4L380.2 287.5ZM381.0 291.7L381.1 291.0L380.8 289.3L380.5 288.9ZM377.1 290.5L381.1 292.2L380.1 287.0ZM252.5 420.7L253.7 421.4L255.5 418.7L257.2 416.6L255.1 412.3L254.3 414.2L254.1 417.8ZM318.2 361.2L315.8 359.1L314.7 355.2L312.8 356.7L313.7 360.7L313.8 364.0ZM356.0 324.3L355.2 325.2L357.6 328.5L361.8 330.2L359.6 326.7L358.2 323.9ZM386.0 383.4L385.3 385.8L387.6 387.6L387.8 387.4L387.6 386.8L389.1 385.9L389.8 385.1ZM388.6 398.6L387.6 394.5L385.7 392.3L384.6 388.4L384.5 388.4L383.7 390.8L386.4 393.3L386.7 395.8ZM396.5 388.0L393.3 386.4L390.1 385.2L387.6 386.8L389.2 391.2L389.2 394.5L394.6 395.3L396.1 392.2L396.6 391.8ZM374.8 292.6L375.2 295.2L375.3 295.3L374.9 292.5ZM381.7 294.6L381.5 294.6L381.3 293.1L381.2 292.9L381.0 295.1L381.7 294.8ZM381.2 292.9L381.2 292.9L380.2 297.5L380.7 297.6ZM377.1 290.5L376.6 290.6L374.9 292.5L375.4 296.1L380.1 298.4L380.5 295.6L381.2 292.6L381.1 292.2ZM419.7 227.3L419.7 227.4L421.5 226.7L420.2 226.0ZM379.7 335.8L379.0 336.7L380.6 336.2ZM270.2 310.6L269.3 313.9L268.9 318.9L270.9 320.1L274.6 322.6L277.3 323.1L277.6 322.9L278.4 322.4L280.7 318.0L281.9 315.5L281.0 313.5L277.7 312.5L275.0 311.5L274.3 309.2ZM275.0 309.0L275.0 311.5L277.7 312.5L281.0 313.5L280.3 311.2L278.4 307.8ZM314.4 320.8L314.4 321.6L315.2 321.5ZM274.7 399.1L275.2 400.3L277.8 401.8L281.2 398.4L279.6 394.5L277.4 395.0ZM320.3 310.2L322.8 310.6L324.3 308.7L325.6 305.5L327.0 303.2L324.8 301.2L322.5 299.2L318.3 299.2L317.7 300.7L318.3 304.5L318.8 308.2ZM318.8 308.2L318.3 304.5L317.7 300.7L317.3 301.6L317.3 302.1L317.5 303.8L317.3 304.7L317.3 306.2ZM321.0 311.1L322.4 311.3L322.8 310.6L320.3 310.2ZM361.8 330.2L365.3 331.6L366.9 327.7L364.2 325.4L360.7 323.9L358.4 323.6L358.2 323.9L359.6 326.7ZM331.4 332.9L330.7 332.3L328.3 331.6L323.6 332.1L321.1 333.7L321.1 333.9L322.1 337.3L323.2 339.7L325.6 339.9L329.4 341.2L330.1 338.1L331.6 336.0ZM367.2 248.4L367.2 248.3L364.4 250.2L364.6 250.8ZM379.3 403.5L383.8 406.1L386.7 403.6L386.1 402.2L388.9 400.2L388.6 399.0L385.3 400.8L382.4 402.6ZM494.2 169.6L490.8 169.6L487.7 172.0L485.2 174.7L486.9 177.3L489.1 181.1L489.4 180.9L490.2 177.4L491.5 176.2L492.7 173.1L494.1 170.6ZM389.8 385.1L391.5 383.0L388.6 379.5L385.4 381.5L386.0 383.4ZM396.5 388.0L398.8 387.0L401.0 384.3L400.8 383.0L398.1 382.4L394.5 383.8L392.3 383.7L390.1 385.2L393.3 386.4ZM337.6 266.2L337.1 266.3L338.1 267.6ZM339.5 268.9L339.2 265.5L337.5 266.0L338.8 269.2ZM377.1 290.5L380.1 287.0L380.1 286.8L375.3 287.8L376.6 290.6ZM397.5 362.3L398.9 362.1L399.1 360.9L396.9 359.0L394.5 360.2ZM318.3 299.2L317.5 299.2L317.7 300.7ZM317.7 300.7L317.6 299.8L317.3 299.7L317.3 301.6ZM367.2 248.4L367.6 248.8L369.9 246.7L372.5 245.4L375.8 243.0L375.6 242.7L373.3 244.4L369.3 246.8L367.2 248.3ZM380.5 247.7L378.6 245.8L380.6 248.2ZM368.6 249.9L370.8 249.8L375.1 251.5L377.5 250.8L380.6 251.0L381.3 250.5L381.0 249.3L380.6 248.2L377.6 246.2L376.1 242.9L372.8 245.0L369.9 246.7L367.6 248.8ZM378.7 258.5L374.4 260.2L371.1 260.5L371.0 260.7L373.0 261.4L375.6 263.8L377.6 266.0L380.5 264.5L383.8 262.9L381.2 261.4ZM326.1 359.3L326.7 359.1L325.9 355.2L325.9 355.2ZM356.0 324.3L354.3 323.2L353.7 323.1L355.2 325.2Z"/>
<path fill="#dcddde" d="M404.9 368.0L404.6 367.5L401.2 369.4L398.4 370.6L400.4 374.1L401.5 376.0L403.4 375.6L403.9 375.1L404.3 371.6ZM403.9 375.1L404.6 375.3L408.5 374.5L407.4 372.1L404.9 368.0L404.3 371.6ZM374.9 378.5L375.2 378.5L375.1 375.2L374.5 371.4L373.5 371.6L374.2 375.1ZM318.3 434.4L318.2 433.9L318.9 433.2L318.2 431.6L314.6 431.6L312.2 432.2L315.4 433.3ZM454.8 241.4L453.0 238.2L448.5 236.5L450.6 238.4L451.5 242.0ZM456.4 241.2L454.9 236.5L450.2 237.1L453.0 238.2L454.8 241.4ZM289.6 429.3L291.7 427.4L294.3 426.2L295.5 423.5L295.8 420.0L292.4 416.5L289.5 417.0L285.1 418.2L285.9 420.8L287.3 424.5L288.5 426.6ZM283.8 417.7L281.9 418.3L279.8 420.9L278.1 424.8L281.2 428.5L284.6 429.3L287.4 430.8L289.6 429.3L288.5 426.6L287.3 424.5L285.9 420.8L285.1 418.2ZM319.0 297.3L319.0 292.1L318.5 297.3ZM325.3 289.6L322.6 287.4L319.9 287.3L319.0 291.5L319.7 294.7L319.0 297.6L320.0 297.8L320.7 297.6L322.6 294.5L322.8 292.9ZM281.9 418.3L283.8 417.7L283.8 413.3L282.7 413.1L280.3 414.6L276.6 415.4L276.6 416.4L278.8 417.1ZM328.1 289.6L331.2 291.9L330.6 286.8L329.7 286.0ZM374.9 378.5L372.2 380.6L372.2 380.6L375.3 379.9L375.2 378.5ZM426.1 254.9L424.2 255.2L425.2 256.2L426.2 255.7ZM447.6 247.2L444.3 245.6L441.5 243.8L441.4 244.0L443.7 247.5L447.6 247.5ZM327.8 296.2L326.5 297.3L327.2 297.3ZM328.1 289.6L325.3 289.6L322.8 292.9L322.6 294.5L320.7 297.6L321.0 297.9L325.2 298.4L328.4 295.5L331.4 293.0L331.2 291.9ZM373.5 371.6L371.4 372.2L371.3 374.2L371.5 377.1L372.2 380.6L374.9 378.5L374.2 375.1ZM426.1 254.9L427.8 251.5L427.5 251.2L423.4 251.6L423.4 254.4L424.2 255.2ZM283.8 417.7L285.1 418.2L289.5 417.0L292.4 416.5L290.4 414.6L287.1 413.3L283.8 413.3ZM447.6 247.5L448.3 247.5L451.4 248.4L454.1 249.2L457.6 246.3L455.9 244.3L454.8 241.4L451.5 242.0L449.5 244.6L447.6 247.2ZM458.3 247.0L457.5 245.0L456.4 241.2L454.8 241.4L455.9 244.3L457.6 246.3L455.4 248.1L458.4 247.7ZM452.1 248.6L448.3 247.5L448.1 247.5L449.9 248.9ZM312.2 432.2L311.3 432.3L312.2 436.9L312.0 440.1L315.1 443.1L317.0 441.1L318.6 437.3L318.3 434.4L315.4 433.3ZM322.5 282.8L325.0 281.6L322.5 282.6ZM325.2 281.5L327.4 283.7L326.0 281.1ZM325.3 289.6L328.1 289.6L329.7 286.0L327.8 283.7L325.2 281.4L322.5 282.8L322.6 287.4ZM426.1 254.9L426.2 255.7L429.8 253.9L427.8 251.5ZM281.9 418.3L278.8 417.1L276.6 416.4L277.0 420.0L276.6 423.1L278.1 424.8L279.8 420.9ZM322.5 282.6L320.9 283.2L320.6 283.8L322.5 282.8ZM322.6 287.4L322.5 282.8L320.6 283.8L319.9 287.3ZM447.6 247.2L449.5 244.6L451.5 242.0L450.6 238.4L448.5 236.5L447.2 235.9L444.4 238.6L443.2 242.1L441.5 243.8L444.3 245.6ZM445.9 237.7L444.9 237.8L444.6 239.6Z"/>
<path d="M17.3 209.5L19.0 211.2L20.9 212.3L22.7 214.0L24.5 215.7L24.6 218.3L25.4 220.2L24.9 222.9L24.5 225.1L25.7 227.1L25.4 230.1L27.0 231.5L29.0 232.5L29.8 235.0L31.4 236.7L33.6 237.7L36.3 239.0L37.0 240.7L37.3 242.6L38.6 246.0L39.2 248.5L38.9 250.4L38.2 252.1L38.6 255.8L37.8 257.8L38.0 260.0L38.0 260.0L37.9 262.5L37.2 265.1L37.5 267.0L37.0 269.5L37.0 271.6L35.8 274.2L33.9 277.4L33.1 279.3L30.7 278.8L28.3 276.4L28.0 278.9L27.5 281.6L27.3 284.0L26.6 286.5L26.4 288.9L27.3 291.6L27.4 293.8L29.3 296.6L31.2 298.7L32.9 299.7L35.1 301.5L36.4 303.8L37.5 305.3L39.3 307.2L40.8 308.7L41.8 310.2L43.6 311.9L44.7 314.0L48.0 313.5L49.8 313.6L53.4 313.0L55.0 315.3L56.8 317.2L57.4 319.6L60.1 321.7L61.1 324.3L63.3 325.7L65.8 327.4L66.5 328.4L67.9 331.4L69.9 333.8L70.7 336.2L71.0 337.2L73.2 338.8L74.5 341.0L75.6 342.9L77.2 344.8L80.1 346.8L80.1 348.6L82.6 350.5L84.2 352.6L87.1 353.4L89.3 353.0L91.9 353.8L94.9 355.5L96.8 356.8L99.7 356.7L101.4 358.0L105.5 357.8L107.0 358.4L109.3 359.3L110.0 362.1L110.2 364.4L111.2 367.0L112.6 365.1L114.5 363.3L115.5 361.9L118.0 360.3L120.3 360.0L123.2 359.5L124.8 359.3L127.0 361.0L128.2 362.3L130.0 363.6L131.1 365.7L133.6 366.3L135.4 368.0L136.7 369.3L137.8 371.9L138.9 372.8L140.1 376.0L141.2 377.6L143.2 378.1L145.4 378.9L147.3 378.4L149.4 379.4L152.3 379.6L154.7 380.5L156.4 379.7L159.1 378.0L160.1 375.9L162.4 375.7L164.6 375.6L166.8 374.4L168.9 373.6L172.3 373.3L173.3 373.4L175.9 371.9L178.4 373.1L179.8 372.7L183.6 373.6L185.8 373.8L187.3 374.8L190.3 375.7L193.2 375.1L195.6 373.3L198.0 373.8L200.9 375.7L200.9 377.5L202.5 379.6L202.0 382.0L203.0 385.5L202.9 387.3L203.3 390.7L202.6 393.0L203.6 395.0L202.9 397.6L203.1 400.3L200.1 401.4L199.4 403.0L197.7 402.4L195.1 404.3L193.1 405.3L192.0 407.6L192.0 409.9L189.9 412.2L188.9 414.5L187.6 416.6L186.8 419.1L188.2 419.4L191.4 420.0L193.2 420.2L195.7 420.0L198.1 420.4L198.9 421.9L200.0 425.2L200.4 426.3L202.1 428.4L203.1 430.4L203.0 432.2L202.1 435.5L201.6 438.3L200.6 440.4L203.1 441.1L205.5 442.1L208.1 442.9L208.7 446.2L209.3 447.9L210.9 448.3L215.0 448.6L215.9 449.2L219.4 449.2L220.6 452.9L223.9 452.4L225.7 452.9L225.0 450.9L225.5 448.5L225.9 445.2L225.7 442.9L228.3 442.7L231.2 441.6L233.4 441.2L235.7 440.4L238.2 439.7L240.6 440.3L243.7 440.0L245.6 440.9L248.2 440.4L250.3 438.8L252.9 438.3L255.9 436.5L257.0 437.1L260.0 435.4L262.7 437.0L264.8 437.5L266.1 438.2L268.8 439.0L271.3 440.4L270.9 443.6L271.9 445.9L272.5 447.9L274.2 448.5L276.7 449.2L278.7 451.4L281.2 452.9L283.4 453.1L285.1 454.2L287.6 455.5L289.6 455.6L292.0 454.8L294.1 455.0L297.3 456.5L298.5 457.1L301.4 456.7L302.9 459.3L302.6 462.0L303.5 464.3L303.9 466.7L305.9 465.4L308.9 465.5L309.0 463.5L309.7 461.2L309.6 458.7L310.1 456.7L312.7 455.9L315.1 455.1L317.7 454.2L319.5 454.4L322.7 454.2L325.6 454.3L327.0 453.4L330.5 453.7L333.0 454.3L335.2 454.2L337.9 452.9L340.1 452.9L343.1 451.2L345.2 450.4L347.1 449.3L350.3 448.4L351.2 447.5L353.2 446.4L355.3 445.4L356.5 444.7L358.7 443.1L360.7 441.9L363.3 441.4L365.3 440.4L367.0 439.1L369.1 438.5L370.9 437.5L372.9 435.4L374.8 434.3L376.6 432.8L377.9 431.4L380.4 430.4L382.1 428.7L383.6 426.6L384.9 425.9L387.6 424.3L389.0 422.8L390.9 421.4L392.3 419.3L394.7 417.9L396.4 416.8L397.9 415.3L399.9 412.8L400.4 411.4L401.7 409.7L403.3 408.7L404.6 405.0L405.3 403.5L406.7 401.1L407.9 400.3L408.7 398.1L409.9 395.5L410.0 393.0L411.0 392.1L411.6 390.0L412.9 387.8L413.4 385.0L414.6 383.1L415.9 382.4L416.3 379.4L416.7 377.6L418.0 375.2L418.9 373.1L419.5 371.1L420.5 368.9L420.9 367.1L422.2 364.7L423.0 362.7L422.1 361.0L420.0 359.2L418.9 358.0L416.7 355.7L415.4 353.9L414.0 351.9L412.9 349.0L411.2 347.8L410.8 346.1L408.7 344.1L406.8 341.6L405.4 340.1L404.0 338.5L403.9 335.6L402.9 333.3L401.6 331.3L399.5 329.9L399.1 327.6L396.1 325.9L394.7 325.0L393.0 323.5L391.2 321.8L388.9 318.3L391.4 317.4L393.6 314.9L396.0 312.8L398.2 311.4L400.8 308.8L402.8 306.8L405.0 305.0L406.3 302.7L409.2 302.6L410.9 301.0L412.5 299.8L415.3 298.9L417.5 298.1L417.4 294.9L417.5 293.2L415.2 292.7L412.1 292.6L409.6 292.2L406.3 291.7L403.6 289.4L403.0 286.5L402.2 284.5L401.2 286.4L400.5 289.4L398.2 292.3L396.9 293.6L395.2 295.7L393.6 297.1L392.0 296.2L388.4 295.2L389.3 292.9L390.3 291.1L387.8 288.2L385.1 287.5L382.0 287.1L379.8 286.3L377.7 284.8L378.5 280.7L380.9 280.0L383.1 279.0L384.4 278.4L387.2 276.7L388.2 275.4L389.5 272.0L392.3 270.7L394.7 268.0L396.6 266.3L397.9 264.9L400.5 263.9L401.8 262.4L404.6 261.0L408.6 259.9L411.5 262.8L410.1 265.6L408.6 268.6L407.8 270.3L406.3 273.2L405.3 276.0L403.2 278.4L404.6 280.4L407.1 279.1L409.0 278.2L410.9 278.4L413.9 277.5L416.5 276.8L419.0 275.5L420.0 273.6L421.3 270.9L423.5 270.1L425.9 269.3L428.3 268.6L429.4 267.2L431.8 265.0L434.5 263.5L435.2 261.6L437.0 259.2L439.1 257.7L441.0 255.8L443.1 254.4L445.6 251.3L446.8 250.0L449.6 250.1L452.5 250.6L454.2 250.9L457.2 250.0L458.4 247.7L458.1 245.3L457.8 242.7L458.1 240.3L461.0 239.5L462.6 240.0L465.6 238.5L468.1 237.8L470.1 236.5L471.3 234.6L473.8 232.9L475.8 231.9L477.1 230.3L477.0 227.3L476.1 225.0L476.5 223.6L476.1 221.0L475.4 219.2L475.6 216.5L475.5 214.3L476.8 211.7L477.7 210.2L478.1 207.8L480.6 206.9L482.7 205.2L485.1 204.9L487.4 204.5L490.2 202.7L489.5 201.1L490.1 198.7L489.9 195.7L490.4 193.7L489.8 190.9L489.6 188.8L489.4 186.4L490.4 184.2L491.4 181.5L491.4 179.4L493.2 177.7L494.4 175.3L493.3 172.1L494.1 170.3L494.4 167.6L492.2 168.9L489.2 169.5L487.6 170.7L486.0 171.7L483.1 172.7L480.7 174.1L479.6 175.7L477.0 176.7L475.6 178.9L473.3 178.0L470.1 178.3L468.1 176.7L466.1 175.5L463.1 175.2L460.7 173.8L459.0 172.5L457.7 168.9L456.2 168.4L454.3 166.4L451.3 165.7L450.0 166.6L447.5 165.7L444.3 165.0L443.0 165.1L441.5 163.1L439.6 161.5L439.0 158.5L438.1 156.6L436.2 154.6L435.5 152.6L435.2 150.6L433.3 148.0L432.0 145.9L430.5 143.8L429.1 142.2L429.2 139.1L426.9 137.7L426.4 135.9L425.5 133.8L423.5 133.7L420.5 131.5L419.7 131.3L417.1 130.5L415.0 129.1L412.9 128.8L410.3 128.8L408.1 129.3L404.9 130.4L402.1 130.1L400.7 130.6L397.9 131.3L396.0 134.1L394.7 134.6L393.2 136.0L391.5 138.4L389.9 140.1L390.5 142.7L390.4 145.8L391.8 147.6L392.3 150.4L392.9 152.6L392.1 154.9L390.5 156.1L390.2 158.2L387.5 160.0L386.6 161.7L385.3 163.9L383.5 165.3L382.9 167.6L380.5 168.3L377.5 167.2L375.2 169.1L372.3 168.7L370.3 168.6L367.8 168.9L366.7 170.5L365.4 172.5L365.4 174.6L363.9 177.5L362.6 179.6L362.4 181.8L361.5 183.9L363.0 186.1L362.8 188.9L364.8 188.1L368.5 188.2L370.8 188.7L373.0 189.1L374.8 188.6L377.7 187.8L380.4 187.7L383.2 188.8L385.0 189.8L387.6 190.9L389.4 190.8L392.4 192.7L391.9 195.3L392.8 197.0L392.6 199.3L391.6 201.5L390.0 199.5L387.5 199.8L384.3 200.9L382.2 200.5L379.1 201.0L377.1 200.7L375.1 201.4L374.1 202.8L371.0 202.7L369.0 205.3L367.5 206.1L366.0 206.2L363.6 208.1L361.3 209.4L357.9 210.8L356.3 211.7L354.2 212.1L352.0 213.9L349.8 214.2L348.1 214.6L345.4 214.7L343.1 215.3L341.5 214.5L338.9 215.7L336.6 215.9L335.3 217.4L333.0 220.2L330.8 221.6L331.8 224.3L332.7 226.6L333.7 229.4L330.6 231.5L328.9 233.2L326.3 235.1L325.7 236.0L323.1 238.0L321.3 238.5L318.2 239.5L315.6 240.3L313.4 240.9L310.9 240.7L308.4 240.2L307.1 239.7L304.7 241.3L301.8 239.4L300.3 240.2L298.0 240.0L295.9 241.3L292.3 240.5L291.8 241.6L288.8 242.1L286.2 241.8L283.9 242.2L281.3 242.9L278.2 243.9L276.8 243.8L275.0 242.5L272.7 242.3L270.9 241.0L268.0 240.0L266.1 239.4L263.5 236.6L261.5 236.4L260.1 235.3L257.5 234.2L255.0 232.2L252.6 233.2L249.7 231.6L248.6 230.3L245.9 228.8L244.0 228.4L241.0 228.5L239.0 228.3L237.5 227.1L235.4 226.0L232.1 225.5L229.4 225.8L226.9 224.0L224.3 223.5L222.8 223.6L220.6 222.0L218.6 221.8L216.0 220.7L215.5 217.7L216.1 214.6L214.7 212.0L214.2 208.9L214.7 207.7L213.8 206.0L213.1 203.3L211.5 201.8L209.3 200.4L207.4 199.3L205.6 198.0L203.5 196.1L201.6 194.6L202.9 195.4L201.1 194.6L199.0 192.7L196.5 191.8L195.2 189.6L193.0 189.3L191.6 188.3L189.1 188.5L186.5 187.7L184.5 186.7L183.2 184.5L181.7 182.9L182.5 180.4L184.0 179.0L185.8 177.2L186.4 175.6L188.4 173.2L188.6 170.8L189.3 168.8L189.7 166.4L189.4 163.6L188.3 161.3L186.9 159.1L185.7 157.0L184.8 154.2L183.6 152.0L182.2 150.1L180.6 148.0L179.3 146.1L177.8 144.3L178.3 141.8L176.4 138.1L176.8 135.6L174.8 134.9L172.9 133.9L170.1 134.3L167.2 135.2L165.0 135.9L163.3 137.2L161.7 138.1L158.5 139.5L157.8 141.4L156.9 143.8L156.0 145.7L155.5 147.9L154.7 150.1L151.8 150.0L149.6 148.7L147.4 147.9L145.0 147.2L143.1 145.6L141.5 144.2L139.1 142.3L137.3 141.4L136.5 143.5L134.8 144.3L131.9 147.0L129.8 147.0L128.5 150.0L127.6 150.2L125.3 152.2L123.8 153.9L123.8 156.5L123.8 158.8L121.0 157.4L119.9 154.9L117.3 153.9L115.2 154.2L112.7 154.3L110.7 153.2L107.4 153.4L106.0 152.3L103.5 152.6L104.7 155.4L104.1 157.5L103.8 159.8L104.5 161.6L103.8 164.1L102.8 166.4L102.6 168.4L101.6 171.3L99.3 173.1L98.2 172.7L96.5 175.1L93.9 176.1L93.3 178.9L92.0 181.9L89.7 182.0L86.6 181.7L84.2 181.2L81.4 181.9L78.2 181.5L76.9 182.2L74.1 182.2L72.7 183.2L70.5 183.0L67.9 182.9L65.5 182.3L63.5 180.9L61.3 180.6L59.2 180.0L57.1 180.9L54.1 181.0L51.8 181.8L50.0 181.0L47.6 181.9L46.8 180.4L44.0 179.1L42.9 177.1L40.9 176.1L37.4 176.0L35.5 176.3L32.9 176.8L30.2 176.7L28.0 178.9L25.8 179.3L23.5 180.9L23.7 183.9L21.9 185.7L21.6 188.4L21.6 191.5L21.0 194.0L20.0 196.7L21.2 198.9L20.0 202.2L19.5 205.0L18.3 208.0Z" fill="none" stroke="#66696c" stroke-width="1.3"/>
<path d="M290.1 475.5L295.1 471.2L302.6 469.5L310.1 470.5L313.9 474.3L313.2 480.5L308.9 486.0L301.4 489.3L293.8 488.0L289.6 483.0Z" fill="#939598"/>
<path d="M295.1 475.5L301.4 473.0L307.6 474.3L310.1 479.3L306.4 484.3L300.1 486.0L295.1 483.0Z" fill="#fff" stroke-width="0.6"/>
<path d="M301.4 473.0L303.1 479.5M295.1 479.5L303.1 479.5M303.1 479.5L310.1 479.3M303.1 479.5L301.4 486.0" fill="none" stroke-width="0.6"/>
<path d="M86.4 198.9L97.9 200.7L97.4 205.9L87.5 201.8Z" fill="#fff" stroke-width="0.7"/>
<ellipse cx="36.3" cy="198.6" rx="1.6" ry="1.1" fill="none" stroke-width="0.7" transform="rotate(-25 36.3 198.6)"/>
<ellipse cx="63.5" cy="205.6" rx="2.4" ry="1.0" fill="none" stroke-width="0.7" transform="rotate(-25 63.5 205.6)"/>
<ellipse cx="111.5" cy="177.5" rx="1.2" ry="1.6" fill="none" stroke-width="0.7" transform="rotate(-25 111.5 177.5)"/>
<ellipse cx="121.5" cy="169.5" rx="1.6" ry="1.8" fill="none" stroke-width="0.7" transform="rotate(-25 121.5 169.5)"/>
<ellipse cx="139" cy="174" rx="1.2" ry="4.2" fill="none" stroke-width="0.7" transform="rotate(-25 139 174)"/>
<ellipse cx="166" cy="156.5" rx="2.2" ry="1.0" fill="none" stroke-width="0.7" transform="rotate(-25 166 156.5)"/>
<ellipse cx="128.5" cy="204" rx="1.6" ry="0.8" fill="none" stroke-width="0.7" transform="rotate(-25 128.5 204)"/>
<ellipse cx="200.5" cy="215" rx="2.2" ry="0.8" fill="none" stroke-width="0.7" transform="rotate(-25 200.5 215)"/>
<ellipse cx="207.5" cy="226" rx="1.1" ry="1.3" fill="none" stroke-width="0.7" transform="rotate(-25 207.5 226)"/>
<ellipse cx="51" cy="226.5" rx="0.7" ry="0.9" fill="none" stroke-width="0.7" transform="rotate(-25 51 226.5)"/>
<ellipse cx="59" cy="232" rx="1.6" ry="0.9" fill="none" stroke-width="0.7" transform="rotate(-25 59 232)"/>
<ellipse cx="417" cy="152" rx="1.6" ry="1.5" fill="none" stroke-width="0.7" transform="rotate(-25 417 152)"/>
<path d="M424.0 363.8h1.4v1.1h-1.4zM425.2 364.2h2.4v1.9h-2.4zM425.6 365.5h1.9v1.5h-1.9zM424.3 366.2h2.1v1.7h-2.1zM425.3 367.3h2.0v1.6h-2.0zM422.0 367.4h1.0v0.8h-1.0zM424.2 368.5h0.9v0.8h-0.9zM424.7 369.7h1.6v1.3h-1.6zM422.9 370.2h1.8v1.4h-1.8zM421.3 370.8h1.9v1.5h-1.9zM420.9 371.2h2.1v1.7h-2.1zM420.5 372.0h1.7v1.4h-1.7zM422.9 373.8h1.2v1.0h-1.2zM419.7 373.6h1.1v0.9h-1.1zM420.4 374.5h1.6v1.3h-1.6zM419.2 375.1h2.1v1.7h-2.1zM419.3 375.8h1.7v1.3h-1.7zM418.9 376.0h1.6v1.3h-1.6zM418.5 377.0h1.2v1.0h-1.2zM418.4 377.7h1.3v1.0h-1.3zM419.2 378.7h1.1v0.9h-1.1zM418.7 379.6h2.3v1.8h-2.3zM418.7 379.8h2.2v1.8h-2.2zM416.5 380.5h1.4v1.1h-1.4zM416.1 381.5h1.3v1.1h-1.3zM416.4 382.1h2.0v1.6h-2.0zM415.6 382.9h2.0v1.6h-2.0zM415.5 383.9h1.0v0.8h-1.0zM415.1 384.5h2.1v1.7h-2.1zM416.2 385.2h1.3v1.0h-1.3zM414.6 385.8h1.6v1.3h-1.6zM414.7 386.7h1.1v0.9h-1.1zM414.8 388.0h1.5v1.2h-1.5zM415.1 389.0h2.4v1.9h-2.4zM415.4 389.9h2.2v1.8h-2.2zM413.0 389.8h0.9v0.7h-0.9zM413.2 390.8h1.6v1.3h-1.6zM414.8 392.8h0.9v0.7h-0.9zM411.9 392.4h1.0v0.8h-1.0zM414.5 394.2h2.0v1.6h-2.0zM413.7 395.0h1.5v1.2h-1.5zM411.3 394.5h2.2v1.8h-2.2zM410.8 395.7h1.4v1.1h-1.4zM411.9 397.2h1.0v0.8h-1.0zM410.6 397.6h2.4v1.9h-2.4zM410.6 398.0h2.4v1.9h-2.4zM409.4 398.7h1.8v1.5h-1.8zM409.3 399.3h1.9v1.5h-1.9zM408.4 400.5h0.9v0.7h-0.9zM408.2 400.8h1.9v1.5h-1.9zM408.1 402.6h1.2v1.0h-1.2zM408.6 403.5h1.0v0.8h-1.0zM406.7 403.6h2.0v1.6h-2.0zM408.0 404.9h1.1v0.9h-1.1zM405.8 405.4h2.1v1.7h-2.1zM407.4 407.4h2.3v1.8h-2.3zM405.3 407.5h2.1v1.7h-2.1zM406.3 409.4h2.4v1.9h-2.4zM404.1 408.7h1.0v0.8h-1.0zM403.5 409.6h2.5v2.0h-2.5zM404.4 410.9h1.2v1.0h-1.2zM403.4 411.9h1.4v1.1h-1.4zM401.4 411.5h1.7v1.4h-1.7zM401.7 413.0h1.1v0.9h-1.1zM401.9 413.8h1.7v1.3h-1.7zM401.4 414.9h1.3v1.0h-1.3zM399.5 414.6h1.1v0.9h-1.1zM398.5 416.0h1.2v1.0h-1.2zM397.7 416.0h1.4v1.1h-1.4zM397.5 418.5h1.5v1.2h-1.5zM395.9 417.9h2.0v1.6h-2.0zM395.9 418.9h1.7v1.3h-1.7zM394.1 419.9h2.3v1.8h-2.3zM393.1 420.6h2.4v1.9h-2.4zM394.1 422.0h2.5v2.0h-2.5zM391.6 422.0h2.1v1.6h-2.1zM392.1 423.8h1.8v1.5h-1.8zM392.1 426.1h1.8v1.4h-1.8zM388.9 424.5h1.6v1.3h-1.6zM389.4 427.1h1.3v1.0h-1.3zM387.9 426.0h1.7v1.3h-1.7zM386.9 426.3h2.1v1.7h-2.1zM385.7 427.0h1.8v1.4h-1.8zM386.2 428.9h1.9v1.5h-1.9zM386.1 430.6h1.6v1.3h-1.6zM383.2 429.1h0.9v0.7h-0.9zM382.6 431.3h1.5v1.2h-1.5zM381.2 430.7h0.9v0.8h-0.9zM380.8 432.1h2.2v1.8h-2.2zM379.6 431.9h2.1v1.7h-2.1zM379.5 434.2h1.5v1.2h-1.5zM379.4 435.8h1.8v1.5h-1.8zM377.9 435.8h1.9v1.5h-1.9zM375.5 434.4h2.1v1.7h-2.1zM374.5 435.1h1.7v1.4h-1.7zM373.3 435.9h1.4v1.1h-1.4zM373.7 437.0h0.9v0.8h-0.9zM372.9 438.3h1.6v1.3h-1.6zM370.7 437.5h1.7v1.3h-1.7zM369.7 438.4h1.9v1.5h-1.9zM369.8 439.3h1.8v1.4h-1.8zM368.5 439.1h1.0v0.8h-1.0zM367.6 440.6h1.9v1.5h-1.9zM366.6 440.6h2.5v2.0h-2.5zM366.0 441.7h1.6v1.3h-1.6zM366.5 443.5h2.0v1.6h-2.0zM364.0 442.8h1.5v1.2h-1.5zM362.8 442.3h2.3v1.8h-2.3zM362.4 443.6h2.0v1.6h-2.0zM362.4 445.2h2.1v1.7h-2.1zM360.6 445.6h0.9v0.8h-0.9zM359.7 445.6h2.1v1.7h-2.1zM359.0 446.8h0.9v0.8h-0.9zM357.3 445.4h1.8v1.4h-1.8zM356.7 446.1h1.8v1.5h-1.8zM357.0 448.9h1.7v1.3h-1.7zM355.2 446.9h1.2v0.9h-1.2zM354.1 447.0h2.0v1.6h-2.0zM352.5 447.8h2.3v1.8h-2.3zM351.8 448.0h1.6v1.2h-1.6zM351.8 450.1h2.1v1.7h-2.1zM349.8 449.1h1.0v0.8h-1.0zM349.5 451.3h2.3v1.8h-2.3zM348.4 449.8h1.4v1.1h-1.4zM347.9 452.6h1.6v1.2h-1.6zM347.4 452.8h2.4v1.9h-2.4zM346.4 453.3h2.1v1.7h-2.1zM345.7 453.7h1.1v0.9h-1.1zM343.7 451.8h1.8v1.4h-1.8zM342.9 451.8h1.9v1.5h-1.9zM342.2 452.7h1.4v1.1h-1.4zM340.6 452.6h2.0v1.6h-2.0z" fill="#6a6d70" stroke="none"/>
<path d="M413.2 417.3L417.0 418.6L417.6 421.3L416.4 427.6L413.8 436.4L410.7 443.9L408.2 451.4L406.3 452.3L404.4 448.9L400.1 441.4L399.4 437.0L401.9 431.4L405.1 425.1L408.8 420.1Z" fill="#fff" stroke="#1c1c1c" stroke-width="1"/>
<path d="M394.0 436.6L395.8 435.9L396.3 438.1L394.5 438.6Z" fill="#444" stroke="none"/>
<path d="M423.2 436.4L425.4 424.5" fill="none" stroke="#222" stroke-width="1.1"/>
<path d="M411.3 463.3L418.2 454.2" fill="none" stroke="#222" stroke-width="1.1"/>
<path d="M395.0 492.8L400.7 482.1" fill="none" stroke="#222" stroke-width="1.1"/>
<rect x="431" y="399.2" width="64.6" height="95.6" fill="#fff" stroke="none"/>
<path d="M430.8 399.0L476.5 399.0L472.8 402.5L467.8 406.9L461.5 410.1L455.2 412.3L448.9 413.8L442.7 413.2L436.4 410.7L430.8 411.1Z" fill="#8a8c8f" stroke="#6a6d70" stroke-width="1.2"/>
<path d="M432.0 403.8L435.8 402.5L436.4 407.6L433.3 408.2Z" fill="#f5cdb8" stroke-width="0.5"/>
<path d="M455.2 400.7L465.2 400.0L466.5 403.8L457.7 405.7Z" fill="#58595b" stroke-width="0.5"/>
<path d="M445.2 408.8L448.3 408.8L448.9 415.1L446.4 415.7Z" fill="#e0805c" stroke="none"/>
<path d="M440.4 420.1L442.7 417.6L447.7 416.1L451.5 418.2L450.2 422.0L446.4 424.9L442.1 424.5L440.2 422.3Z" fill="#7c7f82" stroke="none"/>
<path d="M451.5 429.1h2.5v2.0h-2.5zM453.6 430.6h3.2v2.6h-3.2zM455.4 429.2h2.1v1.7h-2.1zM452.9 433.0h2.1v1.7h-2.1zM462.2 433.1h3.2v2.6h-3.2zM464.2 432.3h2.1v1.7h-2.1zM461.2 434.6h1.8v1.4h-1.8zM472.7 431.4h1.4v1.2h-1.4zM477.0 436.1h2.1v1.7h-2.1zM467.9 441.7h1.4v1.2h-1.4zM457.6 418.2h1.4v1.2h-1.4zM461.4 419.7h1.4v1.2h-1.4zM469.3 411.7h1.4v1.2h-1.4zM472.7 413.0h1.4v1.2h-1.4zM463.5 452.4h3.5v2.9h-3.5zM463.2 455.2h2.8v2.3h-2.8zM462.0 457.7h2.8v2.3h-2.8zM464.0 460.4h2.5v2.0h-2.5zM469.3 455.7h3.2v2.6h-3.2zM472.0 457.7h2.8v2.3h-2.8zM470.9 460.4h2.5v2.0h-2.5zM475.3 454.1h2.5v2.0h-2.5zM473.8 452.6h1.8v1.4h-1.8zM476.9 456.3h1.8v1.4h-1.8zM456.8 460.1h1.8v1.4h-1.8zM459.2 463.1h2.1v1.7h-2.1zM454.3 464.5h1.8v1.4h-1.8zM452.5 467.0h1.8v1.4h-1.8zM445.4 467.4h2.1v1.7h-2.1zM443.7 468.9h1.8v1.4h-1.8zM462.0 467.1h2.8v2.3h-2.8zM465.3 466.7h2.5v2.0h-2.5zM466.9 464.5h1.8v1.4h-1.8zM456.0 475.6h2.1v1.7h-2.1zM456.7 478.1h2.1v1.7h-2.1zM458.9 474.0h1.4v1.2h-1.4zM452.0 462.1h1.4v1.2h-1.4zM460.8 471.5h1.4v1.2h-1.4z" fill="#6c6e71" stroke="none"/>
<path d="M491.6 411.1L493.6 408.2" fill="none" stroke="#1a1a1a" stroke-width="1.7"/>
<path d="M484.7 424.7L486.8 420.1" fill="none" stroke="#1a1a1a" stroke-width="1.7"/>
<path d="M483.4 437.9L483.4 432.6" fill="none" stroke="#1a1a1a" stroke-width="1.7"/>
<path d="M482.2 455.2L484.1 450.2" fill="none" stroke="#1a1a1a" stroke-width="1.7"/>
<path d="M469.6 471.5L473.0 467.5" fill="none" stroke="#1a1a1a" stroke-width="1.7"/>
<path d="M453.3 486.9L458.7 485.4" fill="none" stroke="#1a1a1a" stroke-width="1.7"/>
<path d="M438.9 476.5L438.7 470.9" fill="none" stroke="#1a1a1a" stroke-width="1.7"/>
<path d="M446.4 454.3L447.7 449.2" fill="none" stroke="#1a1a1a" stroke-width="1.7"/>
<path d="M443.1 432.9L445.4 437.6" fill="none" stroke="#1a1a1a" stroke-width="1.7"/>
<path d="M484.1 400.3L487.8 399.8L493.5 402.5L494.7 406.9L491.6 407.8L487.8 405.0Z" fill="#fff" stroke="#222" stroke-width="0.8"/>
<rect x="431" y="399.2" width="64.6" height="95.6" fill="none" stroke="#111" stroke-width="1.35"/>
<path d="M340.7 487H375.2M340.7 483v8M358 483v8M375.2 483v8" stroke="#222" stroke-width="1.3" fill="none"/>
<text x="340.5" y="475.5" text-anchor="middle" font-family='"Liberation Sans", sans-serif' font-size="13.5" fill="#2b2b2b" stroke="none">0</text>
<text x="363" y="475.5" font-family='"Liberation Sans", sans-serif' font-size="13.5" fill="#2b2b2b" stroke="none">100 km</text>
</g>
<rect x="85.00" y="518.6" width="51.43" height="16.0" fill="#f8e9d3" stroke="#4d4d4d" stroke-width="0.8"/>
<rect x="136.43" y="518.6" width="51.43" height="16.0" fill="#f4c996" stroke="#4d4d4d" stroke-width="0.8"/>
<rect x="187.87" y="518.6" width="51.43" height="16.0" fill="#f0ad7e" stroke="#4d4d4d" stroke-width="0.8"/>
<rect x="239.30" y="518.6" width="51.43" height="16.0" fill="#ea8a62" stroke="#4d4d4d" stroke-width="0.8"/>
<rect x="290.73" y="518.6" width="51.43" height="16.0" fill="#dc503c" stroke="#4d4d4d" stroke-width="0.8"/>
<rect x="342.17" y="518.6" width="51.43" height="16.0" fill="#a3172a" stroke="#4d4d4d" stroke-width="0.8"/>
<text x="85.00" y="551" text-anchor="middle" font-family='"Liberation Sans", sans-serif' font-size="12.6" fill="#2b2b2b">0</text>
<text x="136.43" y="551" text-anchor="middle" font-family='"Liberation Sans", sans-serif' font-size="12.6" fill="#2b2b2b">4</text>
<text x="187.87" y="551" text-anchor="middle" font-family='"Liberation Sans", sans-serif' font-size="12.6" fill="#2b2b2b">20</text>
<text x="239.30" y="551" text-anchor="middle" font-family='"Liberation Sans", sans-serif' font-size="12.6" fill="#2b2b2b">40</text>
<text x="290.73" y="551" text-anchor="middle" font-family='"Liberation Sans", sans-serif' font-size="12.6" fill="#2b2b2b">60</text>
<text x="342.17" y="551" text-anchor="middle" font-family='"Liberation Sans", sans-serif' font-size="12.6" fill="#2b2b2b">300</text>
<text x="393.60" y="551" text-anchor="middle" font-family='"Liberation Sans", sans-serif' font-size="12.6" fill="#2b2b2b">1,300</text>
<text x="237.5" y="573.5" text-anchor="middle" font-family='"Liberation Sans", sans-serif' font-size="15" fill="#2b2b2b" textLength="288" lengthAdjust="spacingAndGlyphs">Cumulative embodied carbon emissions</text>
<text x="239" y="590.5" text-anchor="middle" font-family='"Liberation Sans", sans-serif' font-size="15" fill="#2b2b2b" textLength="166" lengthAdjust="spacingAndGlyphs">from 2001 to 2020 (Mt)</text>
<rect x="570.00" y="519.2" width="46.37" height="15.20" fill="#58595b" stroke="#4d4d4d" stroke-width="0.8"/>
<rect x="616.37" y="519.2" width="46.37" height="15.20" fill="#939598" stroke="#4d4d4d" stroke-width="0.8"/>
<rect x="662.74" y="519.2" width="46.37" height="15.20" fill="#dcddde" stroke="#4d4d4d" stroke-width="0.8"/>
<rect x="709.11" y="519.2" width="46.37" height="15.20" fill="#ffffff" stroke="#4d4d4d" stroke-width="0.8"/>
<rect x="755.49" y="519.2" width="46.37" height="15.20" fill="#f5cdb8" stroke="#4d4d4d" stroke-width="0.8"/>
<rect x="801.86" y="519.2" width="46.37" height="15.20" fill="#e0805c" stroke="#4d4d4d" stroke-width="0.8"/>
<rect x="848.23" y="519.2" width="46.37" height="15.20" fill="#a6192e" stroke="#4d4d4d" stroke-width="0.8"/>
<text x="570.00" y="551" text-anchor="middle" font-family='"Liberation Sans", sans-serif' font-size="12.6" fill="#2b2b2b">–1.7</text>
<text x="616.37" y="551" text-anchor="middle" font-family='"Liberation Sans", sans-serif' font-size="12.6" fill="#2b2b2b">–0.05</text>
<text x="662.74" y="551" text-anchor="middle" font-family='"Liberation Sans", sans-serif' font-size="12.6" fill="#2b2b2b">–0.01</text>
<text x="709.11" y="551" text-anchor="middle" font-family='"Liberation Sans", sans-serif' font-size="12.6" fill="#2b2b2b">–0.005</text>
<text x="755.49" y="551" text-anchor="middle" font-family='"Liberation Sans", sans-serif' font-size="12.6" fill="#2b2b2b">0</text>
<text x="801.86" y="551" text-anchor="middle" font-family='"Liberation Sans", sans-serif' font-size="12.6" fill="#2b2b2b">0.04</text>
<text x="848.23" y="551" text-anchor="middle" font-family='"Liberation Sans", sans-serif' font-size="12.6" fill="#2b2b2b">0.08</text>
<text x="894.60" y="551" text-anchor="middle" font-family='"Liberation Sans", sans-serif' font-size="12.6" fill="#2b2b2b">3.5</text>
<text x="732.5" y="573.5" text-anchor="middle" font-family='"Liberation Sans", sans-serif' font-size="15" fill="#2b2b2b" textLength="275" lengthAdjust="spacingAndGlyphs">Embodied carbon emission trend from</text>
<text x="732.5" y="590.5" text-anchor="middle" font-family='"Liberation Sans", sans-serif' font-size="15" fill="#2b2b2b" textLength="191" lengthAdjust="spacingAndGlyphs">2001 to 2020 (Mt per year)</text>
<line x1="88.3" y1="639.5" x2="88.3" y2="904.4" stroke="#8c8c8c" stroke-width="1.2"/>
<line x1="84.6" y1="903.9" x2="885.5" y2="903.9" stroke="#8c8c8c" stroke-width="1.2"/>
<line x1="84.6" y1="857.06" x2="88.3" y2="857.06" stroke="#8c8c8c" stroke-width="1.1"/>
<text x="76" y="862.06" text-anchor="end" font-family='"Liberation Sans", sans-serif' font-size="12.6" fill="#2b2b2b">0.5</text>
<line x1="84.6" y1="810.22" x2="88.3" y2="810.22" stroke="#8c8c8c" stroke-width="1.1"/>
<text x="76" y="815.22" text-anchor="end" font-family='"Liberation Sans", sans-serif' font-size="12.6" fill="#2b2b2b">1.0</text>
<line x1="84.6" y1="763.38" x2="88.3" y2="763.38" stroke="#8c8c8c" stroke-width="1.1"/>
<text x="76" y="768.38" text-anchor="end" font-family='"Liberation Sans", sans-serif' font-size="12.6" fill="#2b2b2b">1.5</text>
<line x1="84.6" y1="716.54" x2="88.3" y2="716.54" stroke="#8c8c8c" stroke-width="1.1"/>
<text x="76" y="721.54" text-anchor="end" font-family='"Liberation Sans", sans-serif' font-size="12.6" fill="#2b2b2b">2.0</text>
<line x1="84.6" y1="669.70" x2="88.3" y2="669.70" stroke="#8c8c8c" stroke-width="1.1"/>
<text x="76" y="674.70" text-anchor="end" font-family='"Liberation Sans", sans-serif' font-size="12.6" fill="#2b2b2b">2.5</text>
<rect x="97.80" y="879.84" width="20.0" height="24.01" fill="#e85a42"/>
<rect x="97.80" y="870.87" width="20.0" height="8.97" fill="#931f37"/>
<rect x="97.80" y="868.27" width="20.0" height="2.60" fill="#5aaa83"/>
<rect x="97.80" y="832.40" width="20.0" height="35.87" fill="#00552b"/>
<rect x="97.80" y="831.24" width="20.0" height="1.16" fill="#8a62a5"/>
<rect x="97.80" y="813.60" width="20.0" height="17.65" fill="#591a56"/>
<rect x="97.80" y="794.80" width="20.0" height="18.80" fill="#9ac5db"/>
<rect x="97.80" y="793.64" width="20.0" height="1.16" fill="#16609a"/>
<rect x="97.80" y="792.77" width="20.0" height="0.87" fill="#ee9a86"/>
<path d="M107.80 778.31V807.23M101.80 778.31h12M101.80 807.23h12" stroke="#333" stroke-width="1" fill="none"/>
<line x1="107.80" y1="903.9" x2="107.80" y2="907.9" stroke="#8c8c8c" stroke-width="1.1"/>
<text transform="translate(111.00,921.1) rotate(-45)" text-anchor="end" font-family='"Liberation Sans", sans-serif' font-size="15.6" fill="#2b2b2b">2001</text>
<rect x="137.70" y="878.11" width="20.0" height="25.74" fill="#e85a42"/>
<rect x="137.70" y="867.98" width="20.0" height="10.12" fill="#931f37"/>
<rect x="137.70" y="865.09" width="20.0" height="2.89" fill="#5aaa83"/>
<rect x="137.70" y="827.77" width="20.0" height="37.32" fill="#00552b"/>
<rect x="137.70" y="826.62" width="20.0" height="1.16" fill="#8a62a5"/>
<rect x="137.70" y="809.26" width="20.0" height="17.36" fill="#591a56"/>
<rect x="137.70" y="790.75" width="20.0" height="18.51" fill="#9ac5db"/>
<rect x="137.70" y="789.59" width="20.0" height="1.16" fill="#16609a"/>
<rect x="137.70" y="788.72" width="20.0" height="0.87" fill="#ee9a86"/>
<path d="M147.70 773.97V803.76M141.70 773.97h12M141.70 803.76h12" stroke="#333" stroke-width="1" fill="none"/>
<line x1="147.70" y1="903.9" x2="147.70" y2="907.9" stroke="#8c8c8c" stroke-width="1.1"/>
<text transform="translate(150.90,921.1) rotate(-45)" text-anchor="end" font-family='"Liberation Sans", sans-serif' font-size="15.6" fill="#2b2b2b">2002</text>
<rect x="177.60" y="878.11" width="20.0" height="25.74" fill="#e85a42"/>
<rect x="177.60" y="872.03" width="20.0" height="6.07" fill="#931f37"/>
<rect x="177.60" y="870.01" width="20.0" height="2.02" fill="#5aaa83"/>
<rect x="177.60" y="831.82" width="20.0" height="38.18" fill="#00552b"/>
<rect x="177.60" y="830.67" width="20.0" height="1.16" fill="#8a62a5"/>
<rect x="177.60" y="812.15" width="20.0" height="18.51" fill="#591a56"/>
<rect x="177.60" y="792.77" width="20.0" height="19.38" fill="#9ac5db"/>
<rect x="177.60" y="791.61" width="20.0" height="1.16" fill="#16609a"/>
<rect x="177.60" y="790.75" width="20.0" height="0.87" fill="#ee9a86"/>
<path d="M187.60 776.28V805.21M181.60 776.28h12M181.60 805.21h12" stroke="#333" stroke-width="1" fill="none"/>
<line x1="187.60" y1="903.9" x2="187.60" y2="907.9" stroke="#8c8c8c" stroke-width="1.1"/>
<text transform="translate(190.80,921.1) rotate(-45)" text-anchor="end" font-family='"Liberation Sans", sans-serif' font-size="15.6" fill="#2b2b2b">2003</text>
<rect x="217.50" y="879.84" width="20.0" height="24.01" fill="#e85a42"/>
<rect x="217.50" y="871.74" width="20.0" height="8.10" fill="#931f37"/>
<rect x="217.50" y="869.72" width="20.0" height="2.02" fill="#5aaa83"/>
<rect x="217.50" y="834.72" width="20.0" height="35.00" fill="#00552b"/>
<rect x="217.50" y="833.56" width="20.0" height="1.16" fill="#8a62a5"/>
<rect x="217.50" y="817.94" width="20.0" height="15.62" fill="#591a56"/>
<rect x="217.50" y="800.00" width="20.0" height="17.93" fill="#9ac5db"/>
<rect x="217.50" y="798.85" width="20.0" height="1.16" fill="#16609a"/>
<rect x="217.50" y="797.98" width="20.0" height="0.87" fill="#ee9a86"/>
<path d="M227.50 784.09V811.86M221.50 784.09h12M221.50 811.86h12" stroke="#333" stroke-width="1" fill="none"/>
<line x1="227.50" y1="903.9" x2="227.50" y2="907.9" stroke="#8c8c8c" stroke-width="1.1"/>
<text transform="translate(230.70,921.1) rotate(-45)" text-anchor="end" font-family='"Liberation Sans", sans-serif' font-size="15.6" fill="#2b2b2b">2004</text>
<rect x="257.40" y="878.11" width="20.0" height="25.74" fill="#e85a42"/>
<rect x="257.40" y="874.06" width="20.0" height="4.05" fill="#931f37"/>
<rect x="257.40" y="872.03" width="20.0" height="2.02" fill="#5aaa83"/>
<rect x="257.40" y="835.87" width="20.0" height="36.16" fill="#00552b"/>
<rect x="257.40" y="834.72" width="20.0" height="1.16" fill="#8a62a5"/>
<rect x="257.40" y="818.52" width="20.0" height="16.20" fill="#591a56"/>
<rect x="257.40" y="799.71" width="20.0" height="18.80" fill="#9ac5db"/>
<rect x="257.40" y="798.85" width="20.0" height="0.87" fill="#16609a"/>
<rect x="257.40" y="797.98" width="20.0" height="0.87" fill="#ee9a86"/>
<path d="M267.40 784.09V811.57M261.40 784.09h12M261.40 811.57h12" stroke="#333" stroke-width="1" fill="none"/>
<line x1="267.40" y1="903.9" x2="267.40" y2="907.9" stroke="#8c8c8c" stroke-width="1.1"/>
<text transform="translate(270.60,921.1) rotate(-45)" text-anchor="end" font-family='"Liberation Sans", sans-serif' font-size="15.6" fill="#2b2b2b">2005</text>
<rect x="297.30" y="875.50" width="20.0" height="28.35" fill="#e85a42"/>
<rect x="297.30" y="865.96" width="20.0" height="9.55" fill="#931f37"/>
<rect x="297.30" y="863.35" width="20.0" height="2.60" fill="#5aaa83"/>
<rect x="297.30" y="822.57" width="20.0" height="40.79" fill="#00552b"/>
<rect x="297.30" y="821.41" width="20.0" height="1.16" fill="#8a62a5"/>
<rect x="297.30" y="802.32" width="20.0" height="19.09" fill="#591a56"/>
<rect x="297.30" y="781.20" width="20.0" height="21.12" fill="#9ac5db"/>
<rect x="297.30" y="780.04" width="20.0" height="1.16" fill="#16609a"/>
<rect x="297.30" y="779.18" width="20.0" height="0.87" fill="#ee9a86"/>
<path d="M307.30 762.69V795.37M301.30 762.69h12M301.30 795.37h12" stroke="#333" stroke-width="1" fill="none"/>
<line x1="307.30" y1="903.9" x2="307.30" y2="907.9" stroke="#8c8c8c" stroke-width="1.1"/>
<text transform="translate(310.50,921.1) rotate(-45)" text-anchor="end" font-family='"Liberation Sans", sans-serif' font-size="15.6" fill="#2b2b2b">2006</text>
<rect x="337.20" y="874.92" width="20.0" height="28.93" fill="#e85a42"/>
<rect x="337.20" y="869.72" width="20.0" height="5.21" fill="#931f37"/>
<rect x="337.20" y="867.11" width="20.0" height="2.60" fill="#5aaa83"/>
<rect x="337.20" y="825.17" width="20.0" height="41.94" fill="#00552b"/>
<rect x="337.20" y="824.01" width="20.0" height="1.16" fill="#8a62a5"/>
<rect x="337.20" y="805.50" width="20.0" height="18.51" fill="#591a56"/>
<rect x="337.20" y="783.80" width="20.0" height="21.70" fill="#9ac5db"/>
<rect x="337.20" y="782.65" width="20.0" height="1.16" fill="#16609a"/>
<rect x="337.20" y="781.49" width="20.0" height="1.16" fill="#ee9a86"/>
<path d="M347.20 765.29V797.40M341.20 765.29h12M341.20 797.40h12" stroke="#333" stroke-width="1" fill="none"/>
<line x1="347.20" y1="903.9" x2="347.20" y2="907.9" stroke="#8c8c8c" stroke-width="1.1"/>
<text transform="translate(350.40,921.1) rotate(-45)" text-anchor="end" font-family='"Liberation Sans", sans-serif' font-size="15.6" fill="#2b2b2b">2007</text>
<rect x="377.10" y="870.84" width="20.0" height="32.98" fill="#e85a42"/>
<rect x="377.10" y="860.71" width="20.0" height="10.12" fill="#931f37"/>
<rect x="377.10" y="857.82" width="20.0" height="2.89" fill="#5aaa83"/>
<rect x="377.10" y="809.80" width="20.0" height="48.02" fill="#00552b"/>
<rect x="377.10" y="808.06" width="20.0" height="1.74" fill="#8a62a5"/>
<rect x="377.10" y="786.66" width="20.0" height="21.41" fill="#591a56"/>
<rect x="377.10" y="761.49" width="20.0" height="25.17" fill="#9ac5db"/>
<rect x="377.10" y="760.34" width="20.0" height="1.16" fill="#16609a"/>
<rect x="377.10" y="759.47" width="20.0" height="0.87" fill="#ee9a86"/>
<path d="M387.10 740.95V778.27M381.10 740.95h12M381.10 778.27h12" stroke="#333" stroke-width="1" fill="none"/>
<line x1="387.10" y1="903.9" x2="387.10" y2="907.9" stroke="#8c8c8c" stroke-width="1.1"/>
<text transform="translate(390.30,921.1) rotate(-45)" text-anchor="end" font-family='"Liberation Sans", sans-serif' font-size="15.6" fill="#2b2b2b">2008</text>
<rect x="417.00" y="870.55" width="20.0" height="33.27" fill="#e85a42"/>
<rect x="417.00" y="862.74" width="20.0" height="7.81" fill="#931f37"/>
<rect x="417.00" y="859.84" width="20.0" height="2.89" fill="#5aaa83"/>
<rect x="417.00" y="812.11" width="20.0" height="47.73" fill="#00552b"/>
<rect x="417.00" y="810.67" width="20.0" height="1.45" fill="#8a62a5"/>
<rect x="417.00" y="788.68" width="20.0" height="21.98" fill="#591a56"/>
<rect x="417.00" y="763.52" width="20.0" height="25.17" fill="#9ac5db"/>
<rect x="417.00" y="762.36" width="20.0" height="1.16" fill="#16609a"/>
<rect x="417.00" y="761.20" width="20.0" height="1.16" fill="#ee9a86"/>
<path d="M427.00 742.40V780.01M421.00 742.40h12M421.00 780.01h12" stroke="#333" stroke-width="1" fill="none"/>
<line x1="427.00" y1="903.9" x2="427.00" y2="907.9" stroke="#8c8c8c" stroke-width="1.1"/>
<text transform="translate(430.20,921.1) rotate(-45)" text-anchor="end" font-family='"Liberation Sans", sans-serif' font-size="15.6" fill="#2b2b2b">2009</text>
<rect x="456.90" y="870.84" width="20.0" height="32.98" fill="#e85a42"/>
<rect x="456.90" y="861.58" width="20.0" height="9.26" fill="#931f37"/>
<rect x="456.90" y="858.98" width="20.0" height="2.60" fill="#5aaa83"/>
<rect x="456.90" y="812.11" width="20.0" height="46.86" fill="#00552b"/>
<rect x="456.90" y="810.67" width="20.0" height="1.45" fill="#8a62a5"/>
<rect x="456.90" y="789.26" width="20.0" height="21.41" fill="#591a56"/>
<rect x="456.90" y="764.67" width="20.0" height="24.59" fill="#9ac5db"/>
<rect x="456.90" y="763.52" width="20.0" height="1.16" fill="#16609a"/>
<rect x="456.90" y="762.65" width="20.0" height="0.87" fill="#ee9a86"/>
<path d="M466.90 744.14V781.16M460.90 744.14h12M460.90 781.16h12" stroke="#333" stroke-width="1" fill="none"/>
<line x1="466.90" y1="903.9" x2="466.90" y2="907.9" stroke="#8c8c8c" stroke-width="1.1"/>
<text transform="translate(470.10,921.1) rotate(-45)" text-anchor="end" font-family='"Liberation Sans", sans-serif' font-size="15.6" fill="#2b2b2b">2010</text>
<rect x="496.80" y="864.47" width="20.0" height="39.34" fill="#e85a42"/>
<rect x="496.80" y="855.79" width="20.0" height="8.68" fill="#931f37"/>
<rect x="496.80" y="852.90" width="20.0" height="2.89" fill="#5aaa83"/>
<rect x="496.80" y="796.78" width="20.0" height="56.12" fill="#00552b"/>
<rect x="496.80" y="795.05" width="20.0" height="1.74" fill="#8a62a5"/>
<rect x="496.80" y="769.88" width="20.0" height="25.17" fill="#591a56"/>
<rect x="496.80" y="740.67" width="20.0" height="29.22" fill="#9ac5db"/>
<rect x="496.80" y="739.22" width="20.0" height="1.45" fill="#16609a"/>
<rect x="496.80" y="738.06" width="20.0" height="1.16" fill="#ee9a86"/>
<path d="M506.80 716.37V759.76M500.80 716.37h12M500.80 759.76h12" stroke="#333" stroke-width="1" fill="none"/>
<line x1="506.80" y1="903.9" x2="506.80" y2="907.9" stroke="#8c8c8c" stroke-width="1.1"/>
<text transform="translate(510.00,921.1) rotate(-45)" text-anchor="end" font-family='"Liberation Sans", sans-serif' font-size="15.6" fill="#2b2b2b">2011</text>
<rect x="536.70" y="861.00" width="20.0" height="42.81" fill="#e85a42"/>
<rect x="536.70" y="848.85" width="20.0" height="12.15" fill="#931f37"/>
<rect x="536.70" y="845.09" width="20.0" height="3.76" fill="#5aaa83"/>
<rect x="536.70" y="783.48" width="20.0" height="61.61" fill="#00552b"/>
<rect x="536.70" y="782.03" width="20.0" height="1.45" fill="#8a62a5"/>
<rect x="536.70" y="754.26" width="20.0" height="27.77" fill="#591a56"/>
<rect x="536.70" y="722.44" width="20.0" height="31.82" fill="#9ac5db"/>
<rect x="536.70" y="721.00" width="20.0" height="1.45" fill="#16609a"/>
<rect x="536.70" y="719.55" width="20.0" height="1.45" fill="#ee9a86"/>
<path d="M546.70 695.25V743.27M540.70 695.25h12M540.70 743.27h12" stroke="#333" stroke-width="1" fill="none"/>
<line x1="546.70" y1="903.9" x2="546.70" y2="907.9" stroke="#8c8c8c" stroke-width="1.1"/>
<text transform="translate(549.90,921.1) rotate(-45)" text-anchor="end" font-family='"Liberation Sans", sans-serif' font-size="15.6" fill="#2b2b2b">2012</text>
<rect x="576.60" y="852.90" width="20.0" height="50.91" fill="#e85a42"/>
<rect x="576.60" y="838.44" width="20.0" height="14.46" fill="#931f37"/>
<rect x="576.60" y="834.10" width="20.0" height="4.34" fill="#5aaa83"/>
<rect x="576.60" y="759.76" width="20.0" height="74.34" fill="#00552b"/>
<rect x="576.60" y="757.15" width="20.0" height="2.60" fill="#8a62a5"/>
<rect x="576.60" y="723.02" width="20.0" height="34.13" fill="#591a56"/>
<rect x="576.60" y="684.84" width="20.0" height="38.18" fill="#9ac5db"/>
<rect x="576.60" y="682.81" width="20.0" height="2.02" fill="#16609a"/>
<rect x="576.60" y="681.08" width="20.0" height="1.74" fill="#ee9a86"/>
<path d="M586.60 652.44V710.29M580.60 652.44h12M580.60 710.29h12" stroke="#333" stroke-width="1" fill="none"/>
<line x1="586.60" y1="903.9" x2="586.60" y2="907.9" stroke="#8c8c8c" stroke-width="1.1"/>
<text transform="translate(589.80,921.1) rotate(-45)" text-anchor="end" font-family='"Liberation Sans", sans-serif' font-size="15.6" fill="#2b2b2b">2013</text>
<rect x="616.50" y="857.82" width="20.0" height="45.99" fill="#e85a42"/>
<rect x="616.50" y="842.49" width="20.0" height="15.33" fill="#931f37"/>
<rect x="616.50" y="838.15" width="20.0" height="4.34" fill="#5aaa83"/>
<rect x="616.50" y="770.17" width="20.0" height="67.98" fill="#00552b"/>
<rect x="616.50" y="766.99" width="20.0" height="3.18" fill="#8a62a5"/>
<rect x="616.50" y="734.01" width="20.0" height="32.98" fill="#591a56"/>
<rect x="616.50" y="699.01" width="20.0" height="35.00" fill="#9ac5db"/>
<rect x="616.50" y="697.56" width="20.0" height="1.45" fill="#16609a"/>
<rect x="616.50" y="696.41" width="20.0" height="1.16" fill="#ee9a86"/>
<path d="M626.50 669.22V723.31M620.50 669.22h12M620.50 723.31h12" stroke="#333" stroke-width="1" fill="none"/>
<line x1="626.50" y1="903.9" x2="626.50" y2="907.9" stroke="#8c8c8c" stroke-width="1.1"/>
<text transform="translate(629.70,921.1) rotate(-45)" text-anchor="end" font-family='"Liberation Sans", sans-serif' font-size="15.6" fill="#2b2b2b">2014</text>
<rect x="656.40" y="857.24" width="20.0" height="46.57" fill="#e85a42"/>
<rect x="656.40" y="843.64" width="20.0" height="13.60" fill="#931f37"/>
<rect x="656.40" y="839.60" width="20.0" height="4.05" fill="#5aaa83"/>
<rect x="656.40" y="771.62" width="20.0" height="67.98" fill="#00552b"/>
<rect x="656.40" y="769.01" width="20.0" height="2.60" fill="#8a62a5"/>
<rect x="656.40" y="737.48" width="20.0" height="31.53" fill="#591a56"/>
<rect x="656.40" y="701.61" width="20.0" height="35.87" fill="#9ac5db"/>
<rect x="656.40" y="699.88" width="20.0" height="1.74" fill="#16609a"/>
<rect x="656.40" y="698.72" width="20.0" height="1.16" fill="#ee9a86"/>
<path d="M666.40 672.40V725.33M660.40 672.40h12M660.40 725.33h12" stroke="#333" stroke-width="1" fill="none"/>
<line x1="666.40" y1="903.9" x2="666.40" y2="907.9" stroke="#8c8c8c" stroke-width="1.1"/>
<text transform="translate(669.60,921.1) rotate(-45)" text-anchor="end" font-family='"Liberation Sans", sans-serif' font-size="15.6" fill="#2b2b2b">2015</text>
<rect x="696.30" y="860.71" width="20.0" height="43.10" fill="#e85a42"/>
<rect x="696.30" y="844.80" width="20.0" height="15.91" fill="#931f37"/>
<rect x="696.30" y="840.75" width="20.0" height="4.05" fill="#5aaa83"/>
<rect x="696.30" y="775.96" width="20.0" height="64.80" fill="#00552b"/>
<rect x="696.30" y="773.64" width="20.0" height="2.31" fill="#8a62a5"/>
<rect x="696.30" y="741.82" width="20.0" height="31.82" fill="#591a56"/>
<rect x="696.30" y="708.85" width="20.0" height="32.98" fill="#9ac5db"/>
<rect x="696.30" y="706.82" width="20.0" height="2.02" fill="#16609a"/>
<rect x="696.30" y="705.66" width="20.0" height="1.16" fill="#ee9a86"/>
<path d="M706.30 679.92V731.41M700.30 679.92h12M700.30 731.41h12" stroke="#333" stroke-width="1" fill="none"/>
<line x1="706.30" y1="903.9" x2="706.30" y2="907.9" stroke="#8c8c8c" stroke-width="1.1"/>
<text transform="translate(709.50,921.1) rotate(-45)" text-anchor="end" font-family='"Liberation Sans", sans-serif' font-size="15.6" fill="#2b2b2b">2016</text>
<rect x="736.20" y="881.83" width="20.0" height="21.98" fill="#e85a42"/>
<rect x="736.20" y="866.21" width="20.0" height="15.62" fill="#931f37"/>
<rect x="736.20" y="863.03" width="20.0" height="3.18" fill="#5aaa83"/>
<rect x="736.20" y="830.34" width="20.0" height="32.69" fill="#00552b"/>
<rect x="736.20" y="829.47" width="20.0" height="0.87" fill="#8a62a5"/>
<rect x="736.20" y="813.85" width="20.0" height="15.62" fill="#591a56"/>
<rect x="736.20" y="779.72" width="20.0" height="34.13" fill="#9ac5db"/>
<rect x="736.20" y="778.56" width="20.0" height="1.16" fill="#16609a"/>
<rect x="736.20" y="777.40" width="20.0" height="1.16" fill="#ee9a86"/>
<path d="M746.20 761.49V794.18M740.20 761.49h12M740.20 794.18h12" stroke="#333" stroke-width="1" fill="none"/>
<line x1="746.20" y1="903.9" x2="746.20" y2="907.9" stroke="#8c8c8c" stroke-width="1.1"/>
<text transform="translate(749.40,921.1) rotate(-45)" text-anchor="end" font-family='"Liberation Sans", sans-serif' font-size="15.6" fill="#2b2b2b">2017</text>
<rect x="776.10" y="889.35" width="20.0" height="14.46" fill="#e85a42"/>
<rect x="776.10" y="884.72" width="20.0" height="4.63" fill="#931f37"/>
<rect x="776.10" y="882.70" width="20.0" height="2.02" fill="#5aaa83"/>
<rect x="776.10" y="861.29" width="20.0" height="21.41" fill="#00552b"/>
<rect x="776.10" y="860.42" width="20.0" height="0.87" fill="#8a62a5"/>
<rect x="776.10" y="849.72" width="20.0" height="10.70" fill="#591a56"/>
<rect x="776.10" y="832.65" width="20.0" height="17.07" fill="#9ac5db"/>
<rect x="776.10" y="832.07" width="20.0" height="0.58" fill="#16609a"/>
<rect x="776.10" y="831.50" width="20.0" height="0.58" fill="#ee9a86"/>
<path d="M786.10 822.24V841.04M780.10 822.24h12M780.10 841.04h12" stroke="#333" stroke-width="1" fill="none"/>
<line x1="786.10" y1="903.9" x2="786.10" y2="907.9" stroke="#8c8c8c" stroke-width="1.1"/>
<text transform="translate(789.30,921.1) rotate(-45)" text-anchor="end" font-family='"Liberation Sans", sans-serif' font-size="15.6" fill="#2b2b2b">2018</text>
<rect x="816.00" y="895.42" width="20.0" height="8.39" fill="#e85a42"/>
<rect x="816.00" y="891.37" width="20.0" height="4.05" fill="#931f37"/>
<rect x="816.00" y="889.93" width="20.0" height="1.45" fill="#5aaa83"/>
<rect x="816.00" y="876.62" width="20.0" height="13.31" fill="#00552b"/>
<rect x="816.00" y="875.75" width="20.0" height="0.87" fill="#8a62a5"/>
<rect x="816.00" y="868.81" width="20.0" height="6.94" fill="#591a56"/>
<rect x="816.00" y="861.58" width="20.0" height="7.23" fill="#9ac5db"/>
<rect x="816.00" y="861.00" width="20.0" height="0.58" fill="#16609a"/>
<rect x="816.00" y="860.42" width="20.0" height="0.58" fill="#ee9a86"/>
<path d="M826.00 854.93V866.21M820.00 854.93h12M820.00 866.21h12" stroke="#333" stroke-width="1" fill="none"/>
<line x1="826.00" y1="903.9" x2="826.00" y2="907.9" stroke="#8c8c8c" stroke-width="1.1"/>
<text transform="translate(829.20,921.1) rotate(-45)" text-anchor="end" font-family='"Liberation Sans", sans-serif' font-size="15.6" fill="#2b2b2b">2019</text>
<rect x="855.90" y="899.47" width="20.0" height="4.34" fill="#e85a42"/>
<rect x="855.90" y="896.87" width="20.0" height="2.60" fill="#931f37"/>
<rect x="855.90" y="895.71" width="20.0" height="1.16" fill="#5aaa83"/>
<rect x="855.90" y="857.82" width="20.0" height="37.89" fill="#00552b"/>
<rect x="855.90" y="856.08" width="20.0" height="1.74" fill="#8a62a5"/>
<rect x="855.90" y="833.81" width="20.0" height="22.27" fill="#591a56"/>
<rect x="855.90" y="828.31" width="20.0" height="5.50" fill="#9ac5db"/>
<rect x="855.90" y="827.16" width="20.0" height="1.16" fill="#16609a"/>
<rect x="855.90" y="826.00" width="20.0" height="1.16" fill="#ee9a86"/>
<path d="M865.90 816.16V836.12M859.90 816.16h12M859.90 836.12h12" stroke="#333" stroke-width="1" fill="none"/>
<line x1="865.90" y1="903.9" x2="865.90" y2="907.9" stroke="#8c8c8c" stroke-width="1.1"/>
<text transform="translate(869.10,921.1) rotate(-45)" text-anchor="end" font-family='"Liberation Sans", sans-serif' font-size="15.6" fill="#2b2b2b">2020</text>
<text transform="translate(44.4,771) rotate(-90)" text-anchor="middle" font-family='"Liberation Sans", sans-serif' font-size="14.6" fill="#2b2b2b" textLength="232" lengthAdjust="spacingAndGlyphs">Embodied carbon emissions (Gt)</text>
<rect x="908.1" y="637.10" width="13.3" height="13.3" fill="#ec7a60"/>
<text x="930" y="648.70" font-family='"Liberation Sans", sans-serif' font-size="15.3" letter-spacing="0.6" fill="#2b2b2b">Steel</text>
<rect x="908.1" y="658.60" width="13.3" height="13.3" fill="#a84853"/>
<text x="930" y="670.20" font-family='"Liberation Sans", sans-serif' font-size="15.3" letter-spacing="0.6" fill="#2b2b2b">Aluminium</text>
<rect x="908.1" y="680.10" width="13.3" height="13.3" fill="#7cbb9b"/>
<text x="930" y="691.70" font-family='"Liberation Sans", sans-serif' font-size="15.3" letter-spacing="0.6" fill="#2b2b2b">Wood</text>
<rect x="908.1" y="701.60" width="13.3" height="13.3" fill="#2f6f4b"/>
<text x="930" y="713.20" font-family='"Liberation Sans", sans-serif' font-size="15.3" letter-spacing="0.6" fill="#2b2b2b">Cement</text>
<rect x="908.1" y="723.10" width="13.3" height="13.3" fill="#8d78ad"/>
<text x="930" y="734.70" font-family='"Liberation Sans", sans-serif' font-size="15.3" letter-spacing="0.6" fill="#2b2b2b">Aggregates</text>
<rect x="908.1" y="744.60" width="13.3" height="13.3" fill="#6c3d70"/>
<text x="930" y="756.20" font-family='"Liberation Sans", sans-serif' font-size="15.3" letter-spacing="0.6" fill="#2b2b2b">Brick</text>
<rect x="908.1" y="766.10" width="13.3" height="13.3" fill="#a8cce1"/>
<text x="930" y="777.70" font-family='"Liberation Sans", sans-serif' font-size="15.3" letter-spacing="0.6" fill="#2b2b2b">Asphalt</text>
<rect x="908.1" y="787.60" width="13.3" height="13.3" fill="#3f6da1"/>
<text x="930" y="799.20" font-family='"Liberation Sans", sans-serif' font-size="15.3" letter-spacing="0.6" fill="#2b2b2b">Ceramics</text>
<rect x="908.1" y="809.10" width="13.3" height="13.3" fill="#cccccc"/>
<text x="930" y="820.70" font-family='"Liberation Sans", sans-serif' font-size="15.3" letter-spacing="0.6" fill="#2b2b2b">Glass</text>
</svg></body></html>
